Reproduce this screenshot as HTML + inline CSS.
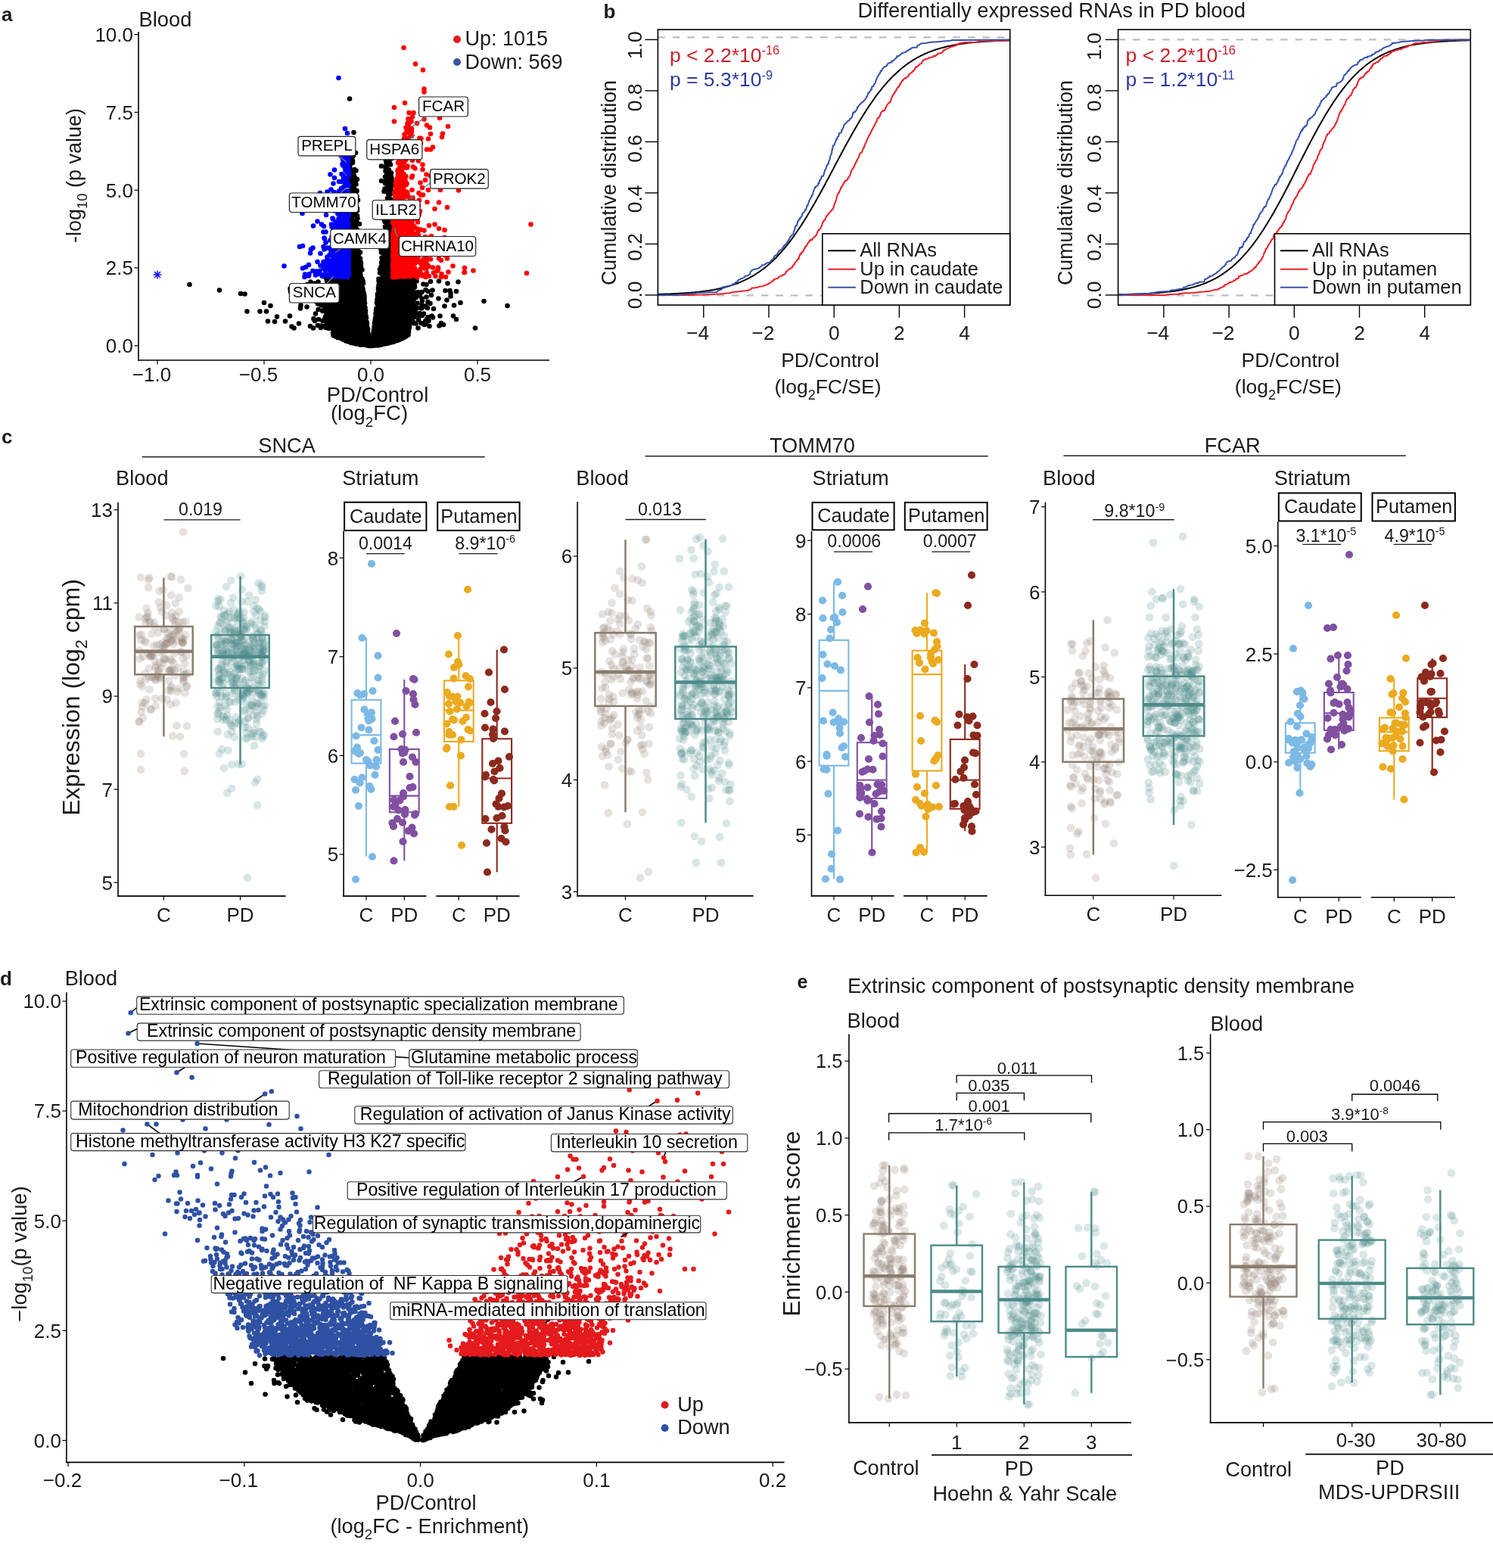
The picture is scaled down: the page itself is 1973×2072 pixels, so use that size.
<!DOCTYPE html>
<html><head><meta charset="utf-8"><title>Figure</title>
<style>html,body{margin:0;padding:0;background:#fff;overflow:hidden;}svg{display:block;}
text{font-family:'Liberation Sans', Arial, Helvetica, sans-serif;}</style></head>
<body><svg width="1973" height="2072" viewBox="0 0 1973 2072">
<rect width="1973" height="2072" fill="#fff"/>
<g fill="#1a1a1a">
<path transform="scale(.5)" d="M969 851h0m-8-78h0m116-33h0m-1 147h0m-175-142h0m174 13h0m-105 98h0m0 57h0m102-164h0m-121 162h0m11-133h0m-2-29h0m7 86h0m28-20h0m-54 94h0m-61-166h0m212 21h0m-91-27h0m-100-1h0m191 44h0m-150-33h0m31 134h0m-45-137h0m114-8h0m-165 36h0m118 53h0m-132-88h0m43 160h0m92-120h0m-84-40h0m90 26h0m-2-12h0m-57-7h0m136 5h0m-88 164h0m-19-27h0m-90 2h0m70-148h0m-73 134h0m70-125h0m14 64h0m88-41h0m-156 3h0m-5-27h0m204 7h0m-222 79h0m186-61h0m-186 60h0m120-12h0m-114-62h0m121-17h0m10 34h0m-28 138h0m-51-162h0m131 1h0m-192 51h0m122 25h0m57 71h0m-53-108h0m50-14h0m-24-36h0m-90 41h0m71 129h0m-58-178h0m34 180h0m94-177h0m-85 176h0m-124-172h0m13 120h0m6-110h0m44 155h0m136-124h0m-117-27h0m121-11h0m-109 20h0m-22 7h0m99-18h0m-109 6h0m9 4h0m23 5h0m120-2h0m-181 127h0m165-97h0m-26-35h0m-173-19h0m59 1h0m108-3h0m-125-4h0m-22 65h0m184 91h0m-25-138h0m-14 31h0m-25-1h0m85-44h0m-10 145h0m-71 26h0m5-133h0m-75 0h0m20-17h0m16 135h0m-7 15h0m-92-131h0m48-13h0m92-19h0m22 83h0m-69 9h0m-5-34h0m-53-61h0m153 45h0m-8-8h0m-155-14h0m76 146h0m-90-153h0m166-22h0m-131 45h0m27 13h0m-11-4h0m18 118h0m-54-145h0m-24-2h0m62-30h0m-74 29h0m159 17h0m-135-14h0m81 94h0m41-94h0m5-21h0m-24 97h0m101-107h0m-46 24h0m-31-23h0m55 27h0m-39 0h0m-32-2h0m-86 140h0m12-125h0m91-22h0m49-7h0m-185 139h0m91-17h0m48-94h0m-11-15h0m-75 147h0m26-102h0m-75-43h0m172-2h0m2 63h0m-176-5h0m146-63h0m27-17h0m-176 141h0m135-78h0m53-47h0m13-20h0m-72 21h0m-59 50h0m64 15h0m-25 45h0m-76-11h0m-6-22h0m32-51h0m98-5h0m10 24h0m26-31h0m-48-7h0m64 17h0m-126 8h0m-63 57h0m185-33h0m-30 87h0m26-30h0m-118-85h0m-71 109h0m187-91h0m-218-68h0m136 70h0m-76 10h0m13-36h0m53 103h0m-31-108h0m53-34h0m-16 100h0m-99-26h0m69-18h0m-27-40h0m1 89h0m-45-87h0m-26 14h0m110 132h0m-103-164h0m153 169h0m10-159h0m-20 161h0m39-123h0m-101 58h0m41-26h0m51 25h0m-80-22h0m-66-31h0m-1-31h0m133 55h0m22-74h0m-10 162h0m39-158h0m-56 30h0m3 23h0m13-53h0m-127 125h0m43-122h0m-53 51h0m55 47h0m115-54h0m-162 87h0m0-119h0m110 5h0m11 5h0m-131 53h0m23 24h0m126-37h0m-6 2h0m-92-14h0m12 50h0m52-42h0m0-10h0m47-25h0m-49-2h0m-105-18h0m7 112h0m-11-63h0m21 50h0m13-1h0m110 13h0m-53 52h0m43-34h0m-146-81h0m-10-9h0m63 54h0m-1-110h0m12 178h0m114-116h0m-86 77h0m51-21h0m-167-36h0m73-25h0m-52 80h0m154-18h0m-35-33h0m-67-59h0m78 59h0m-3-8h0m-100 11h0m-10 0h0m129 82h0m-25-33h0m-136-67h0m173 30h0m-61 20h0m-125-101h0m218 93h0m-76 19h0m26-125h0m-155 54h0m168 9h0m-99-16h0m-5 14h0m139 56h0m-179-51h0m-33-10h0m146-31h0m-120 70h0m15 27h0m46-72h0m-8 23h0m-55 33h0m113-49h0m78-20h0m-4 8h0m-11-1h0m-69-18h0m-3 64h0m-39-1h0m-4-74h0m91-8h0m-130 52h0m71 91h0m41-93h0m-131 7h0m145 33h0m-45 8h0m42-48h0m9-6h0m-23 18h0m-79 26h0m-52-97h0m-4 57h0m149 40h0m-75-5h0m71 21h0m-8-86h0m-110 66h0m107-86h0m-126 14h0m178 24h0m-31 42h0m32 13h0m-3 10h0m-18-48h0m-147-12h0m129 14h0m25 31h0m-36-81h0m-87 52h0m-51 9h0m181 49h0m-51-79h0m-82-42h0m85 85h0m-110 73h0m48-81h0m-70 72h0m198-73h0m-61-70h0m31 19h0m-101 88h0m-35-65h0m82-14h0m-99 96h0m-20-41h0m50 22h0m80-20h0m53 18h0m-19-29h0m-127 82h0m8-169h0m20 37h0m-14 127h0m9-81h0m-8-32h0m102-2h0m-18 10h0m-16-20h0m-118 31h0m32-29h0m0-18h0m-11-1h0m147 71h0m-109-61h0m70 62h0m-79 12h0m74 35h0m60-74h0m-1-24h0m-147 28h0m29-43h0m-60 95h0m36-59h0m77-9h0m-68 36h0m93 68h0m-89-60h0m82 75h0m68-160h0m-56 140h0m-97-73h0m26 73h0m114-73h0m-54 23h0m-14-28h0m-107 9h0m-21-67h0m96 156h0m-56-61h0m36-11h0m-18 19h0m57-55h0m57 65h0m-46-61h0m-59-25h0m97 90h0m-175-69h0m195 18h0m-101-17h0m-87 41h0m5 14h0m20-85h0m99 46h0m-106 3h0m16 66h0m154-79h0m-13 9h0m-57 53h0m-29-44h0m116 39h0m-153-36h0m-5-17h0m27 53h0m-12-2h0m145-24h0m-28-1h0m0-84h0m41-9h0m-162 127h0m-39-17h0m113 28h0m-129-36h0m3-51h0m192 84h0m13-91h0m-135-4h0m61 0h0m-2 124h0m25-10h0m20-46h0m-155-91h0m162 4h0m-62 76h0m-71-52h0m20 51h0m48 47h0m-125-63h0m46-75h0m110 74h0m-107 15h0m109 24h0m15-13h0m-97-26h0m116 17h0m-154-46h0m28 108h0m64-46h0m25-56h0m47 72h0m-117-129h0m99 127h0m-117-51h0m2-11h0m0 85h0m101-36h0m-154-36h0m137 25h0m7-58h0m-138-39h0m170 76h0m-198-46h0m213 77h0m-136-31h0m53-22h0m34 4h0m-73 5h0m-45 28h0m118 27h0m-126-62h0m111 59h0m-11-42h0m27 83h0m3-63h0m-151-34h0m51-57h0m107 18h0m-137 67h0m143-21h0m-149 70h0m109 4h0m-81-6h0m72-6h0m56-85h0m-109 92h0m-5-14h0m140-76h0m-87 63h0m39-37h0m-109-66h0m-52 56h0m50 70h0m-14-113h0m9-23h0m151 126h0m-185-132h0m49 31h0m-55 45h0m57-17h0m35 67h0m-66-85h0m68 94h0m78 15h0m-131-121h0m76 69h0m45-22h0m-144 64h0m15-65h0m47-47h0m102 47h0m-173-35h0m139 78h0m41 21h0m-120-103h0m24 136h0m-3-6h0m-86-78h0m45 67h0m57 6h0m55-87h0m-144 74h0m95-26h0m32-32h0m-107-20h0m47 53h0m29 4h0m-103 11h0m-3-8h0m121-123h0m16 119h0m46 15h0m-162-1h0m62 0h0m104-49h0m-142 31h0m101 21h0m-74-63h0m-70 46h0m124-7h0m-98-68h0m2 36h0m-12 13h0m91 59h0m27-44h0m-36 40h0m-47-152h0m31 144h0m-77-23h0m159 14h0m1 14h0m-61-42h0m66-3h0m-59-59h0m2 66h0m-37 2h0m-52-82h0m151 111h0m-106 3h0m105 4h0m-169-59h0m35 33h0m17-67h0m119-55h0m-123 101h0m60-30h0m11-6h0m-22 96h0m21-108h0m-109 69h0m172 25h0m-195-70h0m53-11h0m30 84h0m66-21h0m42-84h0m-25 106h0m44-84h0m-139 67h0m-14 10h0m92 1h0m-112-44h0m-12-29h0m101 14h0m-87 24h0m157-30h0m-147-50h0m-12 103h0m-19-86h0m3-9h0m177 55h0m-112 13h0m-7-111h0m77 156h0m-142-109h0m120 5h0m-50 113h0m-28-7h0m109-26h0m-155 11h0m188-107h0m-62 125h0m-53-30h0m97-125h0m-39 146h0m61-12h0m-171-31h0m53 26h0m97-26h0m-118 33h0m65-69h0m33 12h0m-85 83h0m-35-33h0m99 15h0m-4-46h0m-1 5h0m-106 22h0m-21-30h0m62 17h0m111-48h0m-15 75h0m-2 5h0m-94-24h0m57 43h0m62-53h0m-153-74h0m167 49h0m-20 38h0m-125-5h0m-3-25h0m-27 23h0m103-10h0m-4 21h0m-4 10h0m21 20h0m-8-8h0m-131-56h0m47 62h0m140-84h0m-119 16h0m91 33h0m-84 16h0m110-39h0m-116 37h0m3-70h0m69 68h0m-98-54h0m0 67h0m141-50h0m-45 8h0m-11-7h0m-9 25h0m38 8h0m8-107h0m25 95h0m-157 28h0m113-56h0m33 63h0m11-28h0m-185-17h0m196-96h0m-188 73h0m-13 21h0m19-97h0m24 128h0m-2-83h0m24 36h0m68 23h0m-8-8h0m74-25h0m-38-37h0m-118 86h0m124-121h0m-163 20h0m87 121h0m42-19h0m-97 23h0m7-41h0m64 53h0m-21-6h0m22-11h0m41-112h0m-133 52h0m129 8h0m-108-1h0m95 42h0m53 9h0m-117-30h0m40 20h0m69-19h0m0-60h0m-150 48h0m47 24h0m44-117h0m34 118h0m-29-35h0m-52-57h0m-11 110h0m-70-101h0m59 34h0m17 45h0m55-45h0m-56 80h0m54-4h0m-54-48h0m106 29h0m-56-100h0m-13 126h0m37-25h0m-120 7h0m159-8h0m-184-96h0m47 44h0m150 23h0m-135 35h0m135-77h0m-159-18h0m121 62h0m-113 46h0m127-33h0m29-105h0m-145 114h0m-56-18h0m1 11h0m53-54h0m-22 80h0m42 0h0m-57-36h0m22-38h0m142 63h0m-86 8h0m114-96h0m-100 89h0m-64-122h0m69 120h0m17 16h0m19 4h0m-125-51h0m115 57h0m-50-36h0m-58 6h0m94-29h0m-3 58h0m42-116h0m-84 108h0m38 1h0m-40-187h0m-16-262h0m8 201h0m-20-164h0m95 90h0m-88-125h0m95 58h0m-87 112h0m-12-108h0m1 56h0m98-152h0m-99-5h0m12 222h0m-10-225h0m98-6h0m2 14h0m2 72h0m-12 91h0m-78-53h0m4 108h0m-6-80h0m-1-38h0m9 164h0m83-150h0m-108 86h0m9 32h0m90-35h0m-100-78h0m107-39h0m-92-12h0m91-27h0m-14 139h0m3 36h0m-77 18h0m70-81h0m-75-101h0m95-14h0m-16 10h0m-74 7h0m-18-27h0m96 32h0m-87 23h0m0 120h0m18 70h0m83-213h0m-25 139h0m12-50h0m-6-69h0m-1 176h0m1 6h0m-74-176h0m81 19h0m-87-76h0m-8 46h0m99-45h0m-9-6h0m-95 109h0m80 169h0m-67-123h0m88 76h0m4-157h0m-85 167h0m79-92h0m-83-60h0m74 92h0m-74-3h0m-8 55h0m18-31h0m4 58h0m-19-181h0m76 119h0m24-229h0m-9 41h0m9 163h0m-94 106h0m-11-131h0m90-167h0m-76 127h0m1 26h0m84-27h0m-81 82h0m74 100h0m-82-56h0m81-33h0m-77-73h0m64 124h0m-71-164h0m77 135h0m-6 2h0m-72 1h0m6 45h0m6-41h0m79-268h0m8 67h0m-109 41h0m85 220h0m10-187h0m-11 78h0m-84 6h0m96-96h0m-15 172h0m14-165h0m-76-11h0m3 173h0m-16-91h0m-1-132h0m87 5h0m4-42h0m8 207h0m-90-51h0m-4-81h0m95 26h0m-1-112h0m-1-20h0m-15 167h0m13-61h0m5-37h0m-22 208h0m13-6h0m8-23h0m-12 72h0m1-120h0m-8 38h0m-79-97h0m13 159h0m-7-97h0m-14-161h0m103 16h0m-9-17h0m15 15h0m-110 12h0m15 165h0m-13 26h0m10-181h0m94 38h0m-13 89h0m-73-9h0m-5 26h0m80 68h0m-93-110h0m7-8h0m97 25h0m5-80h0m-103 182h0m-2-302h0m-2 116h0m-1-61h0m11 145h0m81-129h0m-87-21h0m10 252h0m-17-273h0m90 135h0m-83-48h0m13 121h0m-8-102h0m13 105h0m-14 66h0m-2 16h0m80-30h0m-77-296h0m-3 132h0m8 155h0m76-123h0m14 117h0m-104-85h0m12-196h0m-8 26h0m20 289h0m-2-53h0m67 47h0m4 11h0m7-188h0m-91 186h0m-7-2h0m7-133h0m-7-169h0m101 88h0m-105 99h0m107-18h0m-102 114h0m6-140h0m-3-91h0m-1 158h0m90 3h0m-86 28h0m83-219h0m-75 221h0m86 71h0m-4-44h0m-100 3h0m11-4h0m87-178h0m-2 211h0m-87-180h0m-10 186h0m98-257h0m4 179h0m0 54h0m-17-74h0m6-42h0m14 45h0m-27 81h0m-55 13h0m-12-23h0m8-112h0m81 141h0m-94-306h0m87 230h0m-80 44h0m93-264h0m-23 278h0m-69-235h0m14 217h0m-21-57h0m94 14h0m-10 38h0m-92-268h0m96 9h0m-75 196h0m80-16h0m-88 83h0m92-119h0m-7-77h0m-93 160h0m1-85h0m99 156h0m-6-176h0m4 68h0m-7 40h0m-92-12h0m81 49h0m23 14h0m-84 4h0m-20-15h0m99-34h0m-103-101h0m103 146h0m-101-185h0m2 157h0m102-215h0m-16 37h0m14 156h0m-105-47h0m106-49h0m-89 158h0m-13-163h0m24 106h0m61-30h0m20 34h0m-2-157h0m-87 151h0m80-6h0m5-62h0m2 101h0m-3-19h0m-11-10h0m-65 35h0m80-60h0m-23 37h0m19-198h0m-101-11h0m2 72h0m24 183h0m79-100h0m-7-133h0m-100 10h0m11-39h0m96 93h0m-4 31h0m-91-37h0m73 172h0m-64-68h0m72-6h0m-75-146h0m70 132h0m10-146h0m-87 8h0m93 104h0m7-57h0m-102-92h0m87 257h0m-8 12h0m20-222h0m-3 41h0m-2 149h0m-86-107h0m85 55h0m-77-46h0m-15 53h0m99-46h0m-101-195h0m98 317h0m2-120h0m-89 131h0m-13-222h0m6 171h0m79 27h0m7-11h0m-3-68h0m-13 30h0m13-40h0m-95 98h0m3-138h0m6 29h0m2 29h0m-4-66h0m90-110h0m-78 234h0m5-4h0m-17-27h0m-76 105h0m241-27h0m-235 12h0m-33 89h0m14-50h0m292 69h0m-273-60h0m254 32h0m-264-13h0m279-23h0m30 63h0m-390 2h0m328-33h0m-7 21h0m0 3h0m-233-64h0m-19 70h0m284-51h0m-253 38h0m221-79h0m13 99h0m-269-70h0m263 58h0m-1-39h0m12-35h0m17 4h0m-285 59h0m-52-64h0m301 47h0m49-47h0m-343-3h0m302 32h0m-251 57h0m248-107h0m-323 11h0m89 78h0m-34-72h0m335 59h0m-324-74h0m-19 101h0m-112-13h0m132-46h0m20 34h0m6-48h0m-5-32h0m270 81h0m46-70h0m-318 93h0m-30-19h0m272-99h0m-229 76h0m-44 48h0m370-32h0m-70 9h0m-39 8h0m102-69h0m-324-15h0m247 47h0m-242-67h0m-39 8h0m304 46h0m9 14h0m-277 52h0m-37-119h0m259 71h0m2-28h0m31 57h0m51-40h0m-326 52h0m368-61h0m-73 39h0m-18 17h0m-37-15h0m52-6h0m-50-41h0m-455-18h0m185-31h0m49 20h0m250 64h0m-11-1h0m-250-55h0m244 28h0m-3-27h0m-8 1h0m8 11h0m5-14h0m-238 87h0m-56-67h0m304 14h0m16-36h0m-43-12h0m-235 64h0m6 19h0m-18-96h0m16 55h0m265 58h0m-35-24h0m-236-33h0m-10 17h0m340-25h0m-94-24h0m-229 42h0m-68 44h0m73-68h0m245 48h0m-271-76h0m33 11h0m-103-7h0m1 8h0m72 4h0m-8 73h0m359-73h0m-330 64h0m242-25h0m-237 39h0m229-15h0m-224-59h0m0-21h0m255 53h0m-263 16h0m280-60h0m-312-14h0m32 79h0m-1-38h0m-5 25h0m262-68h0m-248 93h0m-8-32h0m253-17h0m-256 14h0m-33-19h0m-13 1h0m345-2h0m-46 65h0m12-88h0m-338 28h0m304-10h0m-279-32h0m278 51h0m-220 55h0m245-69h0m-10-14h0m1 70h0m-245 21h0m-12-59h0m266-35h0m-18 50h0m-244 26h0m-58-41h0m338 41h0m-3-34h0m-296 15h0m261-15h0m-307-31h0m77 42h0m262-73h0m-626 0h0m79 15h0m67 10h0m6 46h0m45-23h0m17 8h0m-28 15h0m17 0h0m28 14h0m-6 13h0m28-1h0m23 18h0m-11-32h0m28-20h0m17-4h0m468-15h0m62 12h0m-85 59h0m-50-23h0m-6-37h0m6-37h0m-23-21h0m28-4h0m-51-2h0m-22 1h0m28 110h0m6 4h0m17-90h0m-265-507h0m11 89h0m73 89h0m0 39h0m-5 82h0m16 41h0" stroke="#000" stroke-width="13.2" stroke-linecap="round" fill="none"/>
<path transform="scale(.5)" d="M842 724h0m66-129h0m-35 40h0m48-26h0m-14-145h0m-26 21h0m32-35h0m-74 242h0m39 26h0m42-208h0m-21 165h0m-16-118h0m29-46h0m-45 219h0m53-156h0m-42-24h0m29-125h0m14 246h0m-69 59h0m47-170h0m-4 18h0m-17 52h0m40-65h0m-10-71h0m2-90h0m-55 288h0m65-251h0m-46 290h0m-17-102h0m53-43h0m-38 123h0m50 15h0m-39-25h0m-4-122h0m-57 82h0m99-213h0m-38 242h0m10-74h0m11-82h0m-105 32h0m71 149h0m20-70h0m31 66h0m-18-229h0m9 126h0m-75 111h0m85-98h0m0-157h0m-4 120h0m-12 139h0m-10 9h0m9-232h0m-31 161h0m6-80h0m31 69h0m5-98h0m-46 139h0m-13-30h0m21 73h0m18-252h0m-16 183h0m22-62h0m-37 54h0m-6 69h0m61-323h0m-16 122h0m1-6h0m-22 129h0m23-7h0m2-172h0m3-61h0m-13 228h0m7 98h0m16-129h0m-1-117h0m-4 202h0m-39-89h0m1 96h0m-26 32h0m49-143h0m-95 141h0m49-73h0m10 27h0m6-5h0m16-73h0m-12 64h0m40 67h0m7-326h0m-1 52h0m-1 98h0m-21 54h0m-1-36h0m-90 132h0m53-93h0m50 116h0m-8-269h0m18 238h0m0-21h0m-26-13h0m22-274h0m0 180h0m-7-136h0m-38 264h0m50-52h0m-1 71h0m-40-98h0m35-208h0m-26 298h0m32-258h0m-9-28h0m7-7h0m-15 18h0m-22 201h0m23 22h0m-35 33h0m18-41h0m-13-94h0m-14 138h0m35-66h0m-50 75h0m61-144h0m-157 145h0m151-97h0m7-128h0m-117 174h0m87 23h0m12 56h0m-8-223h0m-29 40h0m55 64h0m-24 99h0m-39-201h0m39 219h0m8-164h0m-18-15h0m5 53h0m39-14h0m-114 143h0m117-48h0m-9-292h0m-54 321h0m57-120h0m3-46h0m-3-24h0m-1-139h0m7 180h0m-15-28h0m-13 82h0m-19 101h0m42 13h0m-34-14h0m30-198h0m-24 108h0m-30 72h0m-3-102h0m55 1h0m-19-2h0m5 106h0m4-201h0m-20 207h0m2-50h0m2 65h0m30-47h0m-35-79h0m28-127h0m-12 34h0m-25 150h0m10 21h0m25-239h0m-89 287h0m103-299h0m-8 21h0m7 87h0m-3 28h0m-29 26h0m-32 123h0m67-220h0m0-76h0m-6 57h0m-10 232h0m15-52h0m-66-38h0m34 71h0m-14-183h0m40 35h0m7 191h0m-23-31h0m4-12h0m-8-101h0m16-55h0m0 180h0m-84 8h0m42 13h0m15-259h0m28 20h0m0 52h0m-16 146h0m21-233h0m-36 153h0m14 44h0m-2 30h0m-7-31h0m32-182h0m-3 192h0m6-2h0m-3 42h0m3-109h0m1 47h0m-33 83h0m16-68h0m11-13h0m-50 84h0m26-123h0m1 70h0m-28-165h0m19 128h0m36-129h0m1 43h0m-20 174h0m13-54h0m3-51h0m-22-92h0m14 162h0m10-255h0m-42 193h0m43-108h0m-15 110h0m-3-130h0m12-96h0m-15 257h0m22 32h0m1 15h0m-34-69h0m-5-16h0m12 36h0m12-83h0m-1-155h0m2 278h0m-29 3h0m-16-11h0m51 4h0m-26-89h0m31 119h0m-23-6h0m13-141h0m2-6h0m10 1h0m-87 156h0m84-246h0m-39 242h0m23-159h0m-23 121h0m39-180h0m-5 105h0m-11 61h0m-75-16h0m78 12h0m-16 2h0m14-53h0m1 97h0m15-113h0m-6 118h0m-23-42h0m-43-6h0m74 30h0m-27 27h0m-34-17h0m49-203h0m-1 47h0m-9 153h0m2-110h0m3 92h0m-11 4h0m24 17h0m-56-69h0m55-150h0m-2 163h0m8-11h0m-46-50h0m10 69h0m35-33h0m-101 40h0m90-47h0m4-185h0m8 227h0m-15 18h0m-5-269h0m18 100h0m-19 218h0m-36-25h0m50-221h0m7 147h0m-64-1h0m38 11h0m3-21h0m-13 88h0m20-35h0m-1-97h0m-40 126h0m38-55h0m-7-61h0m20 39h0m-26 74h0m17-69h0m12-14h0m-2 18h0m-7 65h0m-1 30h0m-14-524h0m17 134h0m6 12h0m-118 298h0m0 59h0m16-9h0m0 29h0m29-5h0m0-8h0m22-197h0m-5 49h0m11-107h0m11-12h0m-45 136h0m-11 12h0m22-4h0" stroke="#0000ff" stroke-width="13.2" stroke-linecap="round" fill="none"/>
<path transform="scale(.5)" d="M1080 593h0m2 36h0m63 4h0m-65-314h0m17 399h0m27-92h0m-7 13h0m-50-238h0m7 185h0m39-220h0m-36 151h0m13-134h0m18-10h0m-19 41h0m-1 146h0m9 14h0m-48-101h0m54 132h0m-23 125h0m-37-198h0m32-152h0m43 327h0m-42-127h0m-19 150h0m20-291h0m-28 59h0m59 66h0m-33 57h0m-9-120h0m38 153h0m-65-66h0m91 48h0m-81-45h0m8 30h0m38-22h0m-21 27h0m0-119h0m8 47h0m-21-158h0m35 238h0m7-259h0m-14 323h0m-4-153h0m47 84h0m-20-22h0m-20 22h0m26-114h0m0 139h0m40 59h0m-53-68h0m-50-218h0m15 137h0m5-213h0m-23 98h0m36 176h0m-50-4h0m48 102h0m12-41h0m48 39h0m-107-91h0m77-134h0m-26-187h0m-2 50h0m109 344h0m-89-302h0m-31 111h0m11-172h0m-1 41h0m-11-1h0m2 29h0m-27 123h0m34 131h0m9-277h0m-12-40h0m-43 348h0m73-315h0m-19 307h0m3 23h0m-6-48h0m50-37h0m-7 80h0m-4-5h0m-41 14h0m-26-26h0m36-288h0m-35 73h0m36-82h0m-24 27h0m29 309h0m-12-327h0m-22 246h0m55 87h0m0-92h0m-60 91h0m30-60h0m-19-300h0m24 171h0m-34 81h0m100 65h0m-101-136h0m17-30h0m29 129h0m-55-82h0m61 160h0m-53-111h0m12-57h0m21 135h0m-22-87h0m32-99h0m-43 27h0m-9-58h0m18 93h0m31 43h0m-25-231h0m-7 247h0m-31-23h0m1-9h0m87-65h0m-9 193h0m-36-36h0m20-104h0m-64-27h0m50-136h0m-15 61h0m64 167h0m-60-285h0m45 272h0m-35 35h0m-12-123h0m2-153h0m-7 45h0m-15 239h0m-16-107h0m24-136h0m25 169h0m-10-278h0m-19 73h0m97 304h0m24-24h0m-76-62h0m-17-51h0m-50 113h0m65-129h0m19 101h0m-67-210h0m-10 160h0m51 14h0m37-23h0m-43 87h0m-1-218h0m-21 85h0m42 161h0m-35-268h0m-24 18h0m11-30h0m-20 117h0m19-96h0m65 237h0m-54-206h0m-29 35h0m26 83h0m59 83h0m-59-261h0m92-111h0m-2 292h0m-97-9h0m58 114h0m-15-284h0m13 260h0m-55-292h0m-4 135h0m22 144h0m-17-257h0m-27 317h0m32-154h0m39-213h0m-48 282h0m12-181h0m31 173h0m-66-2h0m31-209h0m-5 179h0m-4-88h0m33 60h0m63 92h0m-61-17h0m-39-191h0m53 230h0m-13 31h0m116-221h0m-146 90h0m20 137h0m-42-177h0m84-222h0m-58 152h0m43 166h0m-74-8h0m99-176h0m-41-20h0m-39 68h0m17-120h0m26 276h0m43-280h0m-6 296h0m19-42h0m-85 24h0m-34-78h0m42 65h0m-23-78h0m-11-94h0m29-137h0m37 377h0m1-24h0m-74-81h0m24 107h0m-13-202h0m11-93h0m24-72h0m-46 364h0m10-161h0m43-119h0m15 127h0m18 115h0m39-181h0m-115 150h0m4-125h0m28-189h0m-35 321h0m4 21h0m-9-5h0m11-161h0m2 43h0m128-9h0m-98 130h0m20-296h0m-55 286h0m136 51h0m-91-121h0m9 135h0m-43-148h0m-18-43h0m46-73h0m-9-155h0m-24 233h0m15 153h0m157 20h0m-143-86h0m-31 97h0m2-118h0m-9-68h0m-2-30h0m3 98h0m42 25h0m-24-60h0m8-156h0m6 223h0m45 62h0m-67-220h0m25 87h0m14 90h0m-51-80h0m59 67h0m28-284h0m-91 197h0m36 56h0m-6 101h0m-10-246h0m33 170h0m9-65h0m8-97h0m-57 56h0m2 125h0m27-105h0m0 99h0m-10 32h0m63-353h0m15 393h0m-34-295h0m-50 25h0m15 145h0m-44 100h0m25-208h0m-15 139h0m32 54h0m-18-207h0m22-96h0m-39 341h0m-6-153h0m105 132h0m-72 6h0m-21-91h0m116 102h0m-116-273h0m10 152h0m26-6h0m76 60h0m-61-331h0m-57 320h0m7-216h0m13 254h0m6-145h0m-2-184h0m39 365h0m-21-399h0m-20 284h0m5 126h0m-11-266h0m-15 216h0m35-383h0m-12 258h0m32 175h0m-43-229h0m29 85h0m-24-79h0m-17 201h0m28-221h0m-35 226h0m52-64h0m4 20h0m-38-77h0m55-78h0m-44-149h0m21 136h0m12 158h0m4 19h0m-6 12h0m-42-39h0m20-326h0m-8 371h0m-30-27h0m22-95h0m61 116h0m-54-176h0m-14-7h0m121 100h0m-136 50h0m24 46h0m115 28h0m-134-31h0m36-87h0m5-234h0m65 263h0m-111 7h0m36 70h0m-37-20h0m70-171h0m-52 75h0m-15 129h0m11-104h0m-8-92h0m124-175h0m2-9h0m-90 334h0m-9-210h0m7 220h0m-34-190h0m11 150h0m2 14h0m50 19h0m3-132h0m-57 164h0m-5 10h0m79-23h0m-51-201h0m79 208h0m-108-215h0m39 25h0m-31 111h0m46-74h0m-11 51h0m-42-130h0m80 237h0m-76-62h0m8-30h0m39-5h0m-8 92h0m-9-1h0m24-171h0m78-210h0m-70 393h0m-25-137h0m-50 90h0m49 23h0m46 27h0m-76-281h0m19 123h0m-29 49h0m19-127h0m-10 212h0m16-341h0m8 298h0m15 32h0m-24 12h0m16-359h0m-10 332h0m-3 47h0m36-59h0m-48 42h0m-4-19h0m22-54h0m-25 62h0m9-178h0m-20 199h0m5-49h0m13-110h0m-17-70h0m26 158h0m0 11h0m16-48h0m-37-142h0m30 237h0m-28-213h0m50 166h0m-40 20h0m61-204h0m-68 85h0m27 85h0m-13-125h0m1-143h0m42 263h0m-41-3h0m-28-46h0m20 59h0m111-23h0m-114 69h0m-7-55h0m-4 45h0m14-31h0m0-195h0m-14 90h0m-6 65h0m42-256h0m12 204h0m19-116h0m-66 252h0m37 29h0m19-12h0m-69-42h0m19-239h0m75 229h0m-71-276h0m-23 334h0m24-52h0m-15-99h0m119 160h0m-73-434h0m-20 382h0m30-54h0m-58 90h0m17-77h0m8 32h0m64-30h0m-13 56h0m-58-31h0m39 9h0m-42-121h0m-21 29h0m13-117h0m29 192h0m47-263h0m-37 128h0m30 86h0m-74 32h0m5 53h0m12-60h0m54 37h0m-45-334h0m-11 381h0m1-334h0m-8 296h0m66-365h0m-57 68h0m-15 245h0m51 101h0m-47-255h0m-5 102h0m21 150h0m-16-196h0m13-115h0m-11 298h0m21-162h0m-23 50h0m0 8h0m19-13h0m-24-70h0m11-70h0m-11 112h0m-9 94h0m14-80h0m15 0h0m9 57h0m2 32h0m-34 20h0m-5-2h0m27-563h0m31 43h0m20 16h0m3 50h0m0 8h0m-51 29h0m-28 12h0m0 37h0m361 272h0m-11 129h0m-141-7h0m-23-7h0m0 12h0m-51-45h0m-17 8h0m-11-90h0m0-41h0m11-17h0m-22-140h0m0-41h0m-6 148h0m-5-41h0" stroke="#ff0000" stroke-width="13.2" stroke-linecap="round" fill="none"/>
<g stroke="#0000ff" stroke-width="1.4"><line x1="202.5" y1="363" x2="213.5" y2="363"/><line x1="208" y1="357.5" x2="208" y2="368.5"/><line x1="204" y1="359.1" x2="212" y2="367"/><line x1="204" y1="367" x2="212" y2="359.1"/></g>
<line x1="183" y1="42" x2="183" y2="476.5" stroke="#000" stroke-width="1.6"/>
<line x1="182.2" y1="476" x2="726" y2="476" stroke="#000" stroke-width="1.6"/>
<line x1="177.5" y1="456.8" x2="183" y2="456.8" stroke="#000" stroke-width="1.2"/>
<text x="176" y="466.1" font-size="26" text-anchor="end">0.0</text>
<line x1="177.5" y1="354" x2="183" y2="354" stroke="#000" stroke-width="1.2"/>
<text x="176" y="363.3" font-size="26" text-anchor="end">2.5</text>
<line x1="177.5" y1="251.2" x2="183" y2="251.2" stroke="#000" stroke-width="1.2"/>
<text x="176" y="260.5" font-size="26" text-anchor="end">5.0</text>
<line x1="177.5" y1="148.4" x2="183" y2="148.4" stroke="#000" stroke-width="1.2"/>
<text x="176" y="157.7" font-size="26" text-anchor="end">7.5</text>
<line x1="177.5" y1="45.6" x2="183" y2="45.6" stroke="#000" stroke-width="1.2"/>
<text x="176" y="54.9" font-size="26" text-anchor="end">10.0</text>
<line x1="208" y1="476" x2="208" y2="481.5" stroke="#000" stroke-width="1.2"/>
<text x="226.1" y="504" font-size="26" text-anchor="end">−1.0</text>
<line x1="349" y1="476" x2="349" y2="481.5" stroke="#000" stroke-width="1.2"/>
<text x="367.1" y="504" font-size="26" text-anchor="end">−0.5</text>
<line x1="490" y1="476" x2="490" y2="481.5" stroke="#000" stroke-width="1.2"/>
<text x="490" y="504" font-size="26" text-anchor="middle">0.0</text>
<line x1="631" y1="476" x2="631" y2="481.5" stroke="#000" stroke-width="1.2"/>
<text x="631" y="504" font-size="26" text-anchor="middle">0.5</text>
<text x="499" y="530.5" font-size="27.5" text-anchor="middle">PD/Control</text>
<text x="488" y="555" font-size="27.5" text-anchor="middle">(log<tspan dy="8.5" font-size="18.7">2</tspan><tspan dy="-8.5">FC)</tspan></text>
<text x="106.5" y="232" font-size="27" text-anchor="middle" transform="rotate(-90 106.5 232)">-log<tspan dy="8.4" font-size="18.4">10</tspan><tspan dy="-8.4"> (p value)</tspan></text>
<text x="183.5" y="34.8" font-size="27.3">Blood</text>
<text x="2" y="28" font-size="26" font-weight="bold">a</text>
<circle cx="604" cy="52" r="5" fill="#e41a1c"/>
<circle cx="604" cy="82" r="5" fill="#3a55a5"/>
<text x="614.5" y="60" font-size="27">Up: 1015</text>
<text x="614.5" y="91" font-size="27">Down: 569</text>
<line x1="563.6" y1="154" x2="545" y2="167" stroke="#777" stroke-width="1.4"/>
<line x1="447" y1="205.9" x2="458" y2="214" stroke="#777" stroke-width="1.4"/>
<line x1="541" y1="184.6" x2="548" y2="178" stroke="#777" stroke-width="1.4"/>
<line x1="568.5" y1="242" x2="560" y2="248" stroke="#777" stroke-width="1.4"/>
<line x1="450" y1="255" x2="458" y2="248" stroke="#777" stroke-width="1.4"/>
<line x1="540" y1="264.5" x2="548" y2="258" stroke="#777" stroke-width="1.4"/>
<line x1="450" y1="328.5" x2="443" y2="334" stroke="#777" stroke-width="1.4"/>
<line x1="525" y1="312.5" x2="521" y2="301" stroke="#777" stroke-width="1.4"/>
<line x1="432" y1="374.5" x2="441" y2="365" stroke="#777" stroke-width="1.4"/>
<rect x="553.6" y="128" width="64.8" height="26" rx="3.5" fill="#fff" stroke="#222" stroke-width="1.2"/>
<text x="586" y="147.4" font-size="20.6" text-anchor="middle" fill="#000">FCAR</text>
<rect x="394" y="180.3" width="75.8" height="25.6" rx="3.5" fill="#fff" stroke="#222" stroke-width="1.2"/>
<text x="431.9" y="199.3" font-size="20.6" text-anchor="middle" fill="#000">PREPL</text>
<rect x="484.7" y="184.6" width="73.2" height="26.2" rx="3.5" fill="#fff" stroke="#222" stroke-width="1.2"/>
<text x="521.3" y="204.2" font-size="20.6" text-anchor="middle" fill="#000">HSPA6</text>
<rect x="568.5" y="223.6" width="76.8" height="25.6" rx="3.5" fill="#fff" stroke="#222" stroke-width="1.2"/>
<text x="606.9" y="242.6" font-size="20.6" text-anchor="middle" fill="#000">PROK2</text>
<rect x="382.4" y="255" width="91" height="25.5" rx="3.5" fill="#fff" stroke="#222" stroke-width="1.2"/>
<text x="427.9" y="273.9" font-size="20.6" text-anchor="middle" fill="#000">TOMM70</text>
<rect x="492.2" y="264.5" width="62.8" height="25.6" rx="3.5" fill="#fff" stroke="#222" stroke-width="1.2"/>
<text x="523.6" y="283.5" font-size="20.6" text-anchor="middle" fill="#000">IL1R2</text>
<rect x="436.8" y="303" width="77.2" height="25.5" rx="3.5" fill="#fff" stroke="#222" stroke-width="1.2"/>
<text x="475.4" y="321.9" font-size="20.6" text-anchor="middle" fill="#000">CAMK4</text>
<rect x="527.4" y="312.5" width="101.3" height="26" rx="3.5" fill="#fff" stroke="#222" stroke-width="1.2"/>
<text x="578" y="331.9" font-size="20.6" text-anchor="middle" fill="#000">CHRNA10</text>
<rect x="382.4" y="374.5" width="65.8" height="25.5" rx="3.5" fill="#fff" stroke="#222" stroke-width="1.2"/>
<text x="415.3" y="393.4" font-size="20.6" text-anchor="middle" fill="#000">SNCA</text>
<text x="797.5" y="24.2" font-size="26" font-weight="bold">b</text>
<text x="1133.5" y="23.3" font-size="27.4">Differentially expressed RNAs in PD blood</text>
<line x1="869.4" y1="390.3" x2="1086.8" y2="390.3" stroke="#bdbdbd" stroke-width="2.2" stroke-dasharray="9.5 10"/>
<line x1="869.4" y1="49.4" x2="1334.7" y2="49.4" stroke="#bdbdbd" stroke-width="2.2" stroke-dasharray="9.5 10"/>
<polyline points="869.4,388.9 871.2,388.8 873,388.8 874.8,388.7 876.6,388.7 878.4,388.6 880.2,388.6 882,388.5 883.8,388.4 885.6,388.4 887.4,388.3 889.2,388.2 891,388.1 892.8,388 894.6,387.9 896.3,387.8 898.1,387.7 899.9,387.6 901.7,387.5 903.5,387.4 905.3,387.3 907.1,387.2 908.9,387 910.7,386.9 912.5,386.7 914.3,386.6 916.1,386.4 917.9,386.3 919.7,386.1 921.5,385.9 923.3,385.7 925.1,385.5 926.9,385.3 928.7,385.1 930.5,384.8 932.3,384.6 934.1,384.3 935.9,384.1 937.7,383.8 939.5,383.5 941.3,383.2 943.1,382.9 944.9,382.5 946.7,382.2 948.4,381.8 950.2,381.4 952,381 953.8,380.6 955.6,380.2 957.4,379.7 959.2,379.2 961,378.8 962.8,378.2 964.6,377.7 966.4,377.1 968.2,376.6 970,375.9 971.8,375.3 973.6,374.7 975.4,374 977.2,373.3 979,372.5 980.8,371.7 982.6,370.9 984.4,370.1 986.2,369.2 988,368.3 989.8,367.4 991.6,366.4 993.4,365.4 995.2,364.4 997,363.3 998.7,362.2 1000.5,361 1002.3,359.8 1004.1,358.6 1005.9,357.3 1007.7,356 1009.5,354.6 1011.3,353.2 1013.1,351.7 1014.9,350.2 1016.7,348.7 1018.5,347.1 1020.3,345.4 1022.1,343.7 1023.9,342 1025.7,340.2 1027.5,338.3 1029.3,336.4 1031.1,334.5 1032.9,332.5 1034.7,330.4 1036.5,328.3 1038.3,326.1 1040.1,323.9 1041.9,321.6 1043.7,319.3 1045.5,317 1047.3,314.5 1049.1,312.1 1050.8,309.5 1052.6,307 1054.4,304.3 1056.2,301.7 1058,299 1059.8,296.2 1061.6,293.4 1063.4,290.5 1065.2,287.6 1067,284.7 1068.8,281.7 1070.6,278.7 1072.4,275.6 1074.2,272.5 1076,269.4 1077.8,266.2 1079.6,263.1 1081.4,259.8 1083.2,256.6 1085,253.3 1086.8,250 1088.6,246.7 1090.4,243.4 1092.2,240 1094,236.7 1095.8,233.3 1097.6,229.9 1099.4,226.5 1101.2,223.1 1102.9,219.7 1104.7,216.3 1106.5,213 1108.3,209.6 1110.1,206.2 1111.9,202.8 1113.7,199.5 1115.5,196.1 1117.3,192.8 1119.1,189.5 1120.9,186.3 1122.7,183 1124.5,179.8 1126.3,176.6 1128.1,173.4 1129.9,170.3 1131.7,167.2 1133.5,164.1 1135.3,161.1 1137.1,158.1 1138.9,155.2 1140.7,152.3 1142.5,149.4 1144.3,146.6 1146.1,143.8 1147.9,141.1 1149.7,138.4 1151.5,135.8 1153.3,133.2 1155,130.7 1156.8,128.2 1158.6,125.7 1160.4,123.4 1162.2,121 1164,118.8 1165.8,116.5 1167.6,114.4 1169.4,112.3 1171.2,110.2 1173,108.2 1174.8,106.2 1176.6,104.3 1178.4,102.4 1180.2,100.6 1182,98.9 1183.8,97.2 1185.6,95.5 1187.4,93.9 1189.2,92.3 1191,90.8 1192.8,89.3 1194.6,87.9 1196.4,86.5 1198.2,85.2 1200,83.9 1201.8,82.7 1203.6,81.5 1205.4,80.3 1207.1,79.2 1208.9,78.1 1210.7,77 1212.5,76 1214.3,75.1 1216.1,74.1 1217.9,73.2 1219.7,72.3 1221.5,71.5 1223.3,70.7 1225.1,69.9 1226.9,69.2 1228.7,68.4 1230.5,67.8 1232.3,67.1 1234.1,66.5 1235.9,65.8 1237.7,65.3 1239.5,64.7 1241.3,64.2 1243.1,63.6 1244.9,63.1 1246.7,62.7 1248.5,62.2 1250.3,61.8 1252.1,61.3 1253.9,60.9 1255.7,60.6 1257.4,60.2 1259.2,59.8 1261,59.5 1262.8,59.2 1264.6,58.9 1266.4,58.6 1268.2,58.3 1270,58 1271.8,57.8 1273.6,57.5 1275.4,57.3 1277.2,57.1 1279,56.8 1280.8,56.6 1282.6,56.4 1284.4,56.3 1286.2,56.1 1288,55.9 1289.8,55.7 1291.6,55.6 1293.4,55.4 1295.2,55.3 1297,55.2 1298.8,55 1300.6,54.9 1302.4,54.8 1304.2,54.7 1306,54.6 1307.8,54.5 1309.5,54.4 1311.3,54.3 1313.1,54.2 1314.9,54.1 1316.7,54 1318.5,54 1320.3,53.9 1322.1,53.8 1323.9,53.7 1325.7,53.7 1327.5,53.6 1329.3,53.6 1331.1,53.5 1332.9,53.5 1334.7,53.4" fill="none" stroke="#000" stroke-width="2.0"/>
<polyline points="869.4,389.9 904.5,389.9 927.5,389.5 941.7,389.1 944.2,388.8 950.2,388.4 958,388 958.4,387.6 964.8,387.3 965.3,386.9 966.8,386.5 967.5,386.1 970.6,385.8 974.1,385.4 979.8,385 980.6,384.6 984.8,384.3 987.6,383.9 989.9,383.5 990,382.8 990.6,382.8 992,382.4 992.7,382 992.9,381.6 993.3,381.3 993.5,380.5 997.6,380.5 998.6,380.1 1001.4,379.8 1002.4,379.4 1003,379 1004.5,378.6 1007.5,378.3 1009.4,377.9 1009.8,377.5 1010.1,377.1 1010.5,376.8 1013.3,376.4 1013.7,376 1014.6,375.6 1015.5,375.3 1015.5,374.5 1016.2,374.5 1017.4,374.1 1017.9,373.8 1018.2,373.4 1018.7,373 1019.4,372.6 1019.5,371.9 1020.7,371.9 1021.2,371.5 1021.4,370.8 1021.7,370.4 1022.6,370.4 1023,370 1023,369.3 1023.3,368.9 1025.2,368.5 1026.5,368.1 1027.7,367.8 1028.4,367.4 1028.5,366.6 1029.4,366.3 1029.8,365.9 1030,365.5 1030.9,365.1 1031.4,364.8 1033.4,364.4 1034.1,364 1034.2,363.3 1034.9,363.3 1035.8,362.9 1037,362.5 1037.3,362.1 1037.7,361.8 1037.8,361 1038.1,360.6 1038.4,360.3 1038.7,359.9 1038.8,359.1 1039.5,359.1 1039.6,358.4 1040.1,358 1040.5,357.6 1040.7,357.3 1041.1,356.9 1041.4,356.5 1042.3,356.1 1042.9,355.8 1044.1,355.4 1044.3,354.6 1044.8,354.3 1045.3,353.9 1046.3,353.9 1046.6,353.5 1047.1,353.1 1047.2,352.4 1047.4,352 1047.6,351.3 1048.3,351.3 1048.4,350.5 1048.6,350.1 1049.1,349.8 1049.8,349.4 1049.8,348.6 1049.9,347.9 1050.5,347.5 1050.7,347.1 1050.9,346.8 1051.3,346.4 1051.8,346 1052.1,345.6 1052.5,345.3 1053,344.9 1053.2,344.1 1053.4,343.4 1053.7,343 1054.5,342.6 1054.6,341.9 1055.5,341.9 1055.5,341.1 1055.9,340.8 1056,340 1056.2,339.3 1056.3,338.5 1056.6,338.1 1056.7,337.4 1057,337 1057.1,336.3 1058.2,335.9 1058.2,335.1 1059,335.1 1059,334.4 1059.2,333.6 1060.4,333.3 1060.6,332.5 1061.3,332.5 1061.3,331.8 1061.7,331.4 1061.7,330.6 1061.9,329.9 1062.4,329.5 1062.8,329.1 1063.2,328.8 1063.3,328 1063.6,327.6 1063.9,326.9 1064,326.1 1064.9,326.1 1064.9,325.4 1065.5,325 1065.8,324.6 1066.2,324.3 1066.5,323.9 1066.5,323.1 1067,322.8 1067.2,322 1067.6,321.6 1067.8,320.9 1068.3,320.5 1068.7,320.1 1069.2,319.8 1069.3,319 1069.8,318.6 1069.8,317.9 1070.8,317.9 1070.9,317.1 1072.7,317.1 1073.5,316.8 1073.5,316 1074,315.6 1074.2,314.9 1074.5,314.5 1075,314.1 1075.7,313.8 1076,313.4 1076.3,313 1077.1,312.6 1077.3,311.9 1078.1,311.5 1078.5,311.1 1078.8,310.8 1078.9,310 1079.4,309.6 1079.4,308.9 1079.7,308.1 1079.9,307.8 1080.2,307.4 1080.4,307 1080.5,306.3 1080.7,305.5 1080.9,305.1 1081.2,304.8 1081.7,304.4 1081.8,303.6 1082.7,303.6 1082.8,302.9 1084,302.5 1084.4,302.1 1084.5,301.4 1084.7,300.6 1084.9,300.3 1085.1,299.9 1085.2,299.1 1085.5,298.8 1086.1,298.4 1086.2,297.6 1086.3,296.9 1086.4,296.1 1086.8,295.8 1087,295.4 1087,294.6 1087.1,293.9 1087.5,293.5 1087.8,293.1 1087.9,292.4 1088.5,292 1088.8,291.6 1089,290.9 1089.4,290.5 1090.3,290.5 1090.4,289.8 1090.7,289.4 1090.7,288.6 1091,288.3 1091.2,287.5 1091.3,286.8 1091.9,286.4 1092.3,286 1092.7,285.6 1092.9,284.9 1093.4,284.5 1093.7,284.1 1094.3,283.8 1094.5,283 1094.8,282.6 1095,281.9 1095.5,281.5 1096.3,281.1 1096.4,280.4 1097.1,280 1097.7,279.6 1097.9,278.9 1098.4,278.5 1098.7,278.1 1099.2,277.8 1099.4,277 1099.9,276.6 1100.3,276.3 1101.1,275.9 1101.1,275.1 1101.3,274.4 1101.4,273.6 1101.6,273.3 1102.2,272.9 1102.2,272.1 1102.3,271.4 1102.4,270.6 1102.6,270.3 1102.6,269.5 1103.1,269.1 1103.2,268.4 1103.5,268 1103.7,267.3 1104,266.9 1104.1,266.1 1104.5,265.8 1104.8,265.4 1104.9,264.6 1105.1,263.9 1105.2,263.1 1105.4,262.4 1105.6,261.6 1105.6,260.9 1105.6,260.1 1105.8,259.4 1106.1,259 1106.4,258.6 1106.7,258.3 1106.9,257.9 1106.9,257.1 1107.2,256.8 1107.3,256 1107.8,255.6 1108.1,254.9 1108.4,254.5 1109,254.5 1109.1,253.8 1109.2,253 1109.6,252.6 1109.9,251.9 1110,251.1 1110.6,250.8 1110.6,250 1110.9,249.6 1110.9,248.9 1111.1,248.1 1112.1,247.8 1112.1,247 1112.4,246.6 1112.9,246.3 1112.9,245.5 1113.5,245.1 1113.7,244.8 1114,244.4 1114.1,243.6 1114.6,243.3 1114.6,242.5 1114.9,242.1 1115.3,241.8 1115.4,241 1116,241 1116.2,240.3 1116.5,239.9 1116.7,239.1 1117.7,239.1 1117.8,238.4 1118.5,238.4 1119.5,238 1119.8,237.6 1119.9,236.9 1120.2,236.5 1120.5,236.1 1120.8,235.8 1120.8,235 1120.8,234.3 1121.6,233.9 1122.3,233.5 1122.4,232.8 1122.7,232.4 1123,232 1123.3,231.6 1123.3,230.9 1123.8,230.5 1124,230.1 1124.1,229.4 1124.3,228.6 1124.4,227.9 1124.4,227.1 1124.9,226.8 1125,226 1125.1,225.3 1125.4,224.9 1125.8,224.5 1126.3,224.1 1126.3,223.4 1126.6,223 1127,222.6 1127.6,222.3 1127.6,221.5 1128.1,221.1 1128.4,220.8 1128.8,220.4 1128.8,219.6 1129.2,219.3 1129.3,218.5 1129.3,217.8 1129.7,217.4 1130,217 1130.3,216.6 1130.3,215.9 1130.6,215.5 1131,215.1 1131.2,214.4 1131.4,214 1131.7,213.6 1131.8,212.9 1132.1,212.5 1132.5,212.2 1132.8,211.8 1132.8,211 1133.1,210.6 1133.3,209.9 1133.9,209.5 1134.2,209.1 1134.4,208.4 1134.5,207.6 1134.9,207.3 1135.1,206.5 1135.5,206.2 1135.6,205.4 1135.7,204.6 1135.8,203.9 1136.1,203.5 1136.6,203.1 1136.7,202.4 1137,202 1138,201.6 1138.9,201.3 1139,200.5 1139.3,200.2 1139.5,199.8 1139.7,199 1139.8,198.3 1140,197.5 1140.3,197.1 1140.6,196.8 1140.7,196 1140.9,195.6 1141.7,195.3 1141.9,194.5 1142.1,193.8 1142.3,193.4 1142.4,192.6 1142.6,191.9 1143,191.5 1143.2,191.1 1143.3,190.4 1143.4,189.6 1143.8,189.3 1144.2,188.9 1144.6,188.5 1144.6,187.8 1144.9,187.4 1145.1,186.6 1145.2,185.9 1145.6,185.5 1145.7,184.8 1146.1,184.4 1146.2,183.6 1146.6,183.3 1146.6,182.5 1147.2,182.1 1147.4,181.8 1147.6,181.4 1147.7,180.6 1147.9,179.9 1148.1,179.5 1148.5,179.1 1148.9,178.8 1149.2,178.4 1149.4,178 1149.5,177.3 1149.6,176.5 1150.1,176.1 1150.5,175.8 1150.7,175 1151,174.6 1151.1,173.9 1151.3,173.5 1151.7,173.1 1151.8,172.4 1152.4,172 1152.5,171.3 1152.8,170.9 1153.1,170.5 1153.3,169.8 1153.6,169.4 1154,169 1154.1,168.3 1154.4,167.9 1154.7,167.5 1154.7,166.8 1155.1,166.4 1155.5,166 1155.6,165.3 1156,164.9 1156.4,164.5 1156.7,164.1 1156.7,163.4 1156.7,162.6 1157.2,162.3 1157.6,161.9 1157.7,161.1 1158.5,160.8 1158.5,160 1158.9,159.7 1159,158.9 1159.1,158.1 1159.2,157.4 1159.5,157 1159.5,156.3 1160.7,156.3 1161,155.9 1161.3,155.5 1161.7,155.1 1162.1,154.8 1162.3,154 1162.5,153.7 1162.6,152.9 1163.1,152.5 1163.2,151.8 1163.4,151 1163.7,150.6 1164,150.3 1164,149.5 1164.3,149.1 1164.5,148.4 1164.9,148 1165.5,147.6 1165.7,147.3 1166.8,146.9 1166.9,146.1 1168,146.1 1169.3,145.8 1169.4,145 1169.5,144.3 1169.9,143.9 1170,143.1 1170.5,142.8 1170.6,142 1170.8,141.6 1171.4,141.3 1171.4,140.5 1171.8,140.1 1171.9,139.4 1172.2,139 1172.4,138.6 1172.7,138.3 1172.9,137.9 1173.5,137.5 1173.7,137.1 1173.9,136.4 1175.3,136 1175.5,135.6 1175.6,134.9 1176.3,134.9 1176.4,134.1 1176.9,133.8 1177.2,133.4 1177.3,132.6 1177.4,131.9 1177.7,131.5 1177.8,130.8 1177.9,130 1178.3,129.6 1178.4,128.9 1178.8,128.5 1179,127.8 1179.3,127.4 1179.3,126.6 1179.6,126.3 1180.2,125.9 1180.4,125.5 1180.5,124.8 1180.9,124.4 1181.2,123.6 1182,123.3 1182.1,122.5 1182.7,122.1 1183,121.8 1183,121 1183.5,120.6 1183.9,120.3 1184.2,119.9 1184.3,119.1 1184.6,118.8 1184.7,118 1185,117.6 1185.3,117.3 1185.5,116.5 1186.3,116.1 1186.4,115.4 1187.2,115.4 1187.4,114.6 1188.2,114.3 1188.5,113.9 1188.6,113.1 1188.8,112.4 1189.1,111.6 1189.7,111.6 1189.8,110.9 1189.9,110.1 1190.5,109.8 1190.8,109.4 1191.3,109 1191.4,108.3 1191.8,107.9 1191.8,107.1 1192.1,106.8 1192.4,106.4 1193.5,106 1193.6,105.3 1193.9,104.9 1194.2,104.5 1195,104.1 1196.2,103.8 1196.2,103 1197.4,103 1197.8,102.6 1198.1,102.3 1198.5,101.9 1198.7,101.5 1200,101.1 1200.3,100.8 1200.4,100 1200.8,99.6 1200.8,98.9 1201.4,98.5 1201.7,98.1 1202,97.8 1202.5,97.4 1202.8,97 1203.6,96.6 1204.1,96.3 1204.7,95.9 1205.4,95.5 1205.5,94.8 1205.9,94.4 1206.6,94 1207.4,93.6 1207.7,93.3 1207.8,92.5 1208.4,92.5 1208.8,92.1 1208.9,91.4 1209,90.6 1209.3,90.3 1209.4,89.5 1209.7,89.1 1211.4,88.8 1211.4,88 1211.8,87.6 1213,87.3 1213.6,86.9 1214.1,86.5 1214.6,86.1 1214.7,85.4 1215.1,85 1215.5,84.6 1217.2,84.3 1217.7,83.9 1218,83.5 1218,82.8 1218.3,82.4 1218.8,82 1218.9,81.3 1219.2,80.9 1219.5,80.5 1220,80.1 1220.1,79.4 1221,79.4 1221.8,79 1222.1,78.6 1222.9,78.3 1223.2,77.9 1226.1,77.5 1226.7,77.1 1226.8,76.4 1229.1,76.4 1229.4,76 1230.9,75.6 1232.8,75.3 1233.5,74.9 1233.5,74.1 1236.2,74.1 1236.4,73.4 1237,73.4 1237.5,73 1237.7,72.3 1238.3,72.3 1238.9,71.9 1239.3,71.5 1239.4,70.8 1239.9,70.4 1241.5,70.4 1244.3,70 1244.9,69.6 1245.2,69.3 1245.8,68.9 1245.9,68.1 1246.1,67.8 1246.6,67.4 1246.6,66.6 1247.8,66.6 1248.5,66.3 1248.6,65.5 1250,65.1 1250.4,64.8 1251.8,64.4 1252.5,64 1253.2,63.6 1254.3,63.3 1254.7,62.9 1255.8,62.5 1255.9,61.8 1257.5,61.8 1257.9,61.4 1260.7,61 1260.9,60.3 1262.7,60.3 1264.4,59.9 1264.9,59.5 1265,58.8 1265.3,58.4 1266.3,58 1267.1,57.6 1268,57.3 1270.2,56.9 1272.3,56.5 1275.2,56.1 1291,55.8 1293.7,55.4 1293.7,54.6 1294.9,54.6 1311.4,54.3 1316.9,53.9 1330.1,53.5 1334.7,52.4 1334.7,52.4" fill="none" stroke="#ea2128" stroke-width="2.0"/>
<polyline points="869.4,389.9 887.6,389.9 899.2,389.3 906,388.8 911.4,388.2 919.7,387.6 921.3,387.1 931.5,386.5 947,386 948,385.4 948.3,384.8 948.9,384.3 949,383.7 951.3,383.1 953.4,382.6 953.5,382 954.1,381.5 954.8,380.9 955.2,380.3 955.2,379.2 956.9,379.2 960.6,378.6 961.2,378.1 965.1,377.5 966.4,377 968,376.4 968,375.8 969.2,375.3 971,374.7 971.3,374.1 971.7,373.6 972.6,373 974.2,372.5 974.3,371.9 974.9,371.3 975,370.8 976.2,370.2 976.2,369.6 978.3,369.1 978.5,368.5 979.8,368 982.1,367.4 982.5,366.8 983.9,366.3 984.6,365.7 984.7,365.1 985.7,364.6 988.6,364 989.1,363.5 990.1,362.9 991,362.3 991.1,361.8 991.3,361.2 991.4,360.6 991.4,360.1 991.7,359.5 991.9,359 992.4,358.4 993.5,357.8 993.7,357.3 994.3,356.7 996.1,356.1 997.8,355.6 1001.4,355 1001.8,354.5 1003.4,353.9 1004,353.3 1004.5,352.8 1005.7,352.2 1006.5,351.6 1006.5,351.1 1006.9,350.5 1009.6,350 1010.9,349.4 1011.7,348.8 1011.9,348.3 1013.1,347.7 1015,347.1 1017,346.6 1018.4,346 1018.5,345.5 1018.9,344.9 1019,344.3 1019.5,343.8 1020.9,343.2 1021.7,342.6 1021.8,342.1 1022.1,341.5 1022.4,341 1022.6,340.4 1022.8,339.8 1023,339.3 1023.1,338.7 1023.8,338.1 1024.2,337.6 1026,337 1026.4,336.5 1026.8,335.9 1027.3,335.3 1027.7,334.8 1027.8,334.2 1028.1,333.6 1028.6,333.1 1029.1,332.5 1029.6,332 1029.7,331.4 1030.5,330.8 1032.3,330.3 1032.5,329.7 1032.9,329.1 1033.2,328.6 1033.8,328 1034.5,327.5 1034.6,326.9 1034.7,326.3 1035.7,325.8 1036.2,325.2 1036.2,324.6 1036.7,324.1 1036.9,323.5 1038.9,323 1038.9,322.4 1039.7,321.8 1040,321.3 1040.1,320.7 1040.2,320.1 1040.8,319.6 1040.8,319 1041.8,318.5 1041.8,317.3 1041.9,316.8 1042.6,316.8 1042.9,316.2 1043.4,315.6 1043.5,315.1 1043.9,314.5 1044.2,314 1044.2,312.8 1044.8,312.8 1044.9,312.3 1045.6,311.7 1046.3,311.1 1046.8,310.6 1047.5,310 1048.3,309.5 1048.5,308.9 1048.5,307.8 1048.7,307.2 1048.8,306.6 1049.1,306.1 1049.2,305.5 1049.6,305 1049.9,304.4 1050.2,303.8 1050.2,303.3 1050.3,302.1 1050.4,301.6 1050.5,301 1050.8,300.5 1051,299.9 1051.2,299.3 1051.6,298.8 1051.7,298.2 1052.9,298.2 1052.9,297.6 1053.2,297.1 1053.2,296 1053.4,295.4 1053.6,294.8 1054,294.3 1054.1,293.7 1054.2,293.1 1054.3,292.6 1054.5,292 1055.2,292 1055.5,291.5 1055.6,290.9 1055.7,289.8 1056.9,289.8 1056.9,288.6 1057.5,288.6 1057.6,288.1 1057.9,287.5 1058.5,287 1059.2,286.4 1059.4,285.8 1059.8,285.3 1059.8,284.1 1059.9,283.6 1060.3,283 1060.3,282.5 1060.7,281.9 1061.4,281.3 1062.2,280.8 1062.7,280.2 1063.1,279.6 1063.6,279.1 1063.6,278 1063.9,277.4 1064.6,277.4 1065.4,276.8 1065.4,275.7 1065.5,275.1 1065.7,274.6 1066,274 1066.1,273.5 1066.4,272.9 1066.4,271.8 1067.4,271.8 1067.5,270.6 1067.8,270.1 1068,269.5 1068.1,269 1068.4,268.4 1068.6,267.8 1068.7,267.3 1068.9,266.7 1069,266.1 1069.2,265.6 1069.3,265 1069.9,264.5 1070.2,263.9 1070.4,263.3 1070.7,262.8 1071.1,262.2 1071.4,261.6 1071.8,261.1 1072,260.5 1072.8,260 1072.8,258.8 1073.1,258.3 1073.2,257.7 1073.5,257.1 1074.3,256.6 1074.4,255.5 1074.4,254.9 1074.5,254.3 1074.6,253.8 1074.8,253.2 1075,252.6 1075.4,252.1 1075.4,251 1075.7,250.4 1076.2,249.8 1076.4,249.3 1076.6,248.7 1076.8,248.1 1076.8,247.6 1078,247.6 1078,247 1078.1,246.5 1078.9,245.9 1080.3,245.3 1081,244.8 1081.1,244.2 1081.2,243.6 1081.4,243.1 1081.4,242 1082.5,242 1082.6,241.4 1082.6,240.3 1082.7,239.7 1083.1,239.1 1083.2,238 1084,238 1084.3,237.5 1084.4,236.9 1085,236.3 1085.1,235.8 1085.3,235.2 1085.3,234.6 1085.4,233.5 1085.7,233 1086.6,233 1088.1,232.4 1088.2,231.3 1088.2,230.7 1088.8,230.1 1089,229.6 1089,229 1089.1,228.5 1089.3,227.9 1089.5,227.3 1089.8,226.8 1089.8,226.2 1089.9,225.6 1090,225.1 1090.2,224.5 1090.8,224 1091.2,223.4 1091.5,222.8 1091.5,222.3 1091.8,221.7 1092.1,221.1 1092.1,220 1092.4,219.5 1092.9,218.9 1093,218.3 1093.5,217.8 1093.8,217.2 1093.9,216.6 1094.7,216.6 1095,216.1 1095,215.5 1095.1,214.4 1095.2,213.8 1095.4,213.3 1095.5,212.7 1095.9,212.2 1096,211.6 1096.1,211 1096.4,210.5 1096.8,209.9 1096.9,209.3 1096.9,208.2 1097,207.6 1097.1,207.1 1097.2,206.5 1097.6,206 1097.7,205.4 1097.8,204.8 1098.1,204.3 1098.3,203.7 1098.8,203.1 1099.1,202.6 1099.1,201.5 1099.2,200.9 1099.3,200.3 1099.3,199.2 1099.5,198.6 1099.5,197.5 1100.1,197.5 1100.1,196.4 1100.2,195.8 1100.4,195.3 1100.5,194.7 1100.6,194.1 1100.8,193.6 1100.8,192.5 1101.8,192.5 1102.2,191.9 1102.7,191.3 1102.8,190.8 1103,190.2 1103.2,189.6 1103.3,189.1 1103.5,188.5 1103.7,188 1103.8,187.4 1104.3,186.8 1104.6,186.3 1104.7,185.7 1104.8,185.1 1104.9,184.6 1105,184 1106.1,183.5 1106.2,182.9 1106.5,182.3 1106.6,181.8 1106.7,181.2 1107.3,180.6 1108.2,180.1 1108.4,179.5 1108.4,179 1108.7,178.4 1108.7,177.3 1108.9,176.7 1109,176.1 1109.9,176.1 1111.3,175.6 1111.4,175 1111.9,174.5 1112,173.9 1112.1,173.3 1112.1,172.2 1112.7,172.2 1113.2,171.7 1113.2,170.5 1113.5,170 1114,169.4 1114.2,168.8 1114.5,168.3 1114.9,167.7 1114.9,167.1 1115.1,166.6 1115.2,166 1115.4,165.5 1115.5,164.9 1115.9,164.3 1116.5,164.3 1117,163.8 1117.6,163.2 1117.8,162.6 1118.6,162.1 1119.1,161.5 1119.5,161 1119.7,160.4 1120.8,159.8 1121.9,159.3 1122.7,158.7 1122.7,157.6 1122.9,157 1123.7,157 1124.1,156.5 1125.3,155.9 1125.4,155.3 1125.8,154.8 1125.8,154.2 1126.3,153.7 1126.4,153.1 1126.7,152.5 1126.7,151.4 1126.8,150.8 1126.9,150.3 1127.5,150.3 1127.5,149.1 1128.3,149.1 1128.4,148 1130,148 1130.3,147.5 1130.4,146.9 1131.3,146.3 1131.5,145.8 1131.6,145.2 1132.2,144.6 1132.7,144.1 1132.8,143 1132.8,141.8 1133.4,141.8 1133.7,141.3 1134.4,140.7 1134.5,140.1 1135.2,139.6 1135.5,139 1135.7,138.5 1136.2,137.9 1136.9,137.3 1138,136.8 1138.3,136.2 1138.4,135.6 1139.6,135.1 1140.8,134.5 1140.9,134 1141.5,133.4 1141.7,132.8 1142.5,132.3 1142.9,131.7 1143.5,131.1 1144,130.6 1144.3,130 1144.7,129.5 1144.9,128.9 1145,128.3 1145.4,127.8 1146.1,127.2 1146.2,126.6 1146.3,126.1 1146.5,125.5 1146.7,125 1147,124.4 1147.3,123.8 1147.3,122.7 1148.3,122.7 1148.4,122.1 1149.1,121.6 1149.1,121 1150,120.5 1150.3,119.9 1150.7,119.3 1150.7,118.2 1151.6,118.2 1151.9,117.6 1152,117.1 1152.1,116.5 1152.1,115.4 1152.3,114.8 1152.7,114.3 1153.9,114.3 1154.5,113.7 1154.6,113.1 1154.8,112.6 1154.9,112 1155.2,111.5 1155.2,110.9 1156.1,110.3 1156.5,109.8 1156.7,109.2 1157.2,108.6 1157.2,107.5 1157.2,107 1157.5,106.4 1158,105.8 1158.2,105.3 1158.3,104.7 1158.7,104.1 1158.8,103.6 1159,103 1159.2,102.5 1159.5,101.9 1159.8,101.3 1160.5,100.8 1160.5,100.2 1160.9,99.6 1161.3,99.1 1161.4,98.5 1161.9,98 1161.9,97.4 1163.1,96.8 1163.1,96.3 1163.4,95.7 1163.4,94.6 1163.9,94 1164.6,94 1164.8,93.5 1164.8,92.9 1165.4,92.3 1165.9,91.8 1165.9,91.2 1166.9,90.6 1167.1,90.1 1167.5,89.5 1167.8,89 1168.8,88.4 1170.6,87.8 1171.6,87.3 1171.8,86.7 1171.9,86.1 1172.6,85.6 1172.8,85 1172.9,84.5 1174,83.9 1174.8,83.3 1176.5,82.8 1178.2,82.2 1178.2,81.1 1179.4,81.1 1179.8,80.5 1180.9,80 1181.2,79.4 1182,78.8 1182.7,78.3 1183,77.7 1183.8,77.1 1184.5,76.6 1185.1,76 1185.1,74.9 1185.3,74.3 1186,74.3 1188.2,73.8 1188.6,73.2 1189.5,72.6 1189.6,72.1 1191,71.5 1191,71 1191.8,70.4 1193.5,69.8 1195.9,69.3 1197.2,68.7 1197.3,68.1 1198.8,67.6 1199.1,67 1199.7,66.5 1201.5,65.9 1201.9,65.3 1203.4,64.8 1203.8,64.2 1204.1,63.6 1206.2,63.1 1211.7,62.5 1211.7,61.4 1212.3,60.8 1212.6,60.3 1213,59.7 1214.2,59.7 1215.1,59.1 1215.2,58.6 1216.6,58 1217,57.5 1223.7,56.9 1226.7,56.3 1230,55.8 1239.5,55.2 1246.9,54.6 1252.6,54.1 1257.2,53.5 1258.3,53 1334.7,52.4 1334.7,52.4" fill="none" stroke="#3652a8" stroke-width="2.0"/>
<rect x="869.4" y="39.1" width="465.3" height="364" fill="none" stroke="#000" stroke-width="1.6"/>
<line x1="852.4" y1="389.9" x2="869.4" y2="389.9" stroke="#000" stroke-width="1.4"/>
<text x="848" y="389.9" font-size="26.5" text-anchor="middle" transform="rotate(-90 848 389.9)">0.0</text>
<line x1="852.4" y1="322.4" x2="869.4" y2="322.4" stroke="#000" stroke-width="1.4"/>
<text x="848" y="326.4" font-size="26.5" text-anchor="middle" transform="rotate(-90 848 326.4)">0.2</text>
<line x1="852.4" y1="254.9" x2="869.4" y2="254.9" stroke="#000" stroke-width="1.4"/>
<text x="848" y="262.9" font-size="26.5" text-anchor="middle" transform="rotate(-90 848 262.9)">0.4</text>
<line x1="852.4" y1="187.4" x2="869.4" y2="187.4" stroke="#000" stroke-width="1.4"/>
<text x="848" y="196.4" font-size="26.5" text-anchor="middle" transform="rotate(-90 848 196.4)">0.6</text>
<line x1="852.4" y1="119.9" x2="869.4" y2="119.9" stroke="#000" stroke-width="1.4"/>
<text x="848" y="128.9" font-size="26.5" text-anchor="middle" transform="rotate(-90 848 128.9)">0.8</text>
<line x1="852.4" y1="52.4" x2="869.4" y2="52.4" stroke="#000" stroke-width="1.4"/>
<text x="848" y="59.7" font-size="26.5" text-anchor="middle" transform="rotate(-90 848 59.7)">1.0</text>
<line x1="929.8" y1="403.1" x2="929.8" y2="419.7" stroke="#000" stroke-width="1.4"/>
<text x="937.1" y="448.5" font-size="26.3" text-anchor="end">−4</text>
<line x1="1016" y1="403.1" x2="1016" y2="419.7" stroke="#000" stroke-width="1.4"/>
<text x="1023.3" y="448.5" font-size="26.3" text-anchor="end">−2</text>
<line x1="1102.2" y1="403.1" x2="1102.2" y2="419.7" stroke="#000" stroke-width="1.4"/>
<text x="1102.2" y="448.5" font-size="26.3" text-anchor="middle">0</text>
<line x1="1188.4" y1="403.1" x2="1188.4" y2="419.7" stroke="#000" stroke-width="1.4"/>
<text x="1188.4" y="448.5" font-size="26.3" text-anchor="middle">2</text>
<line x1="1274.6" y1="403.1" x2="1274.6" y2="419.7" stroke="#000" stroke-width="1.4"/>
<text x="1274.6" y="448.5" font-size="26.3" text-anchor="middle">4</text>
<text x="1097" y="484.8" font-size="26.5" text-anchor="middle">PD/Control</text>
<text x="1094" y="519.8" font-size="26.5" text-anchor="middle">(log<tspan dy="8.2" font-size="18">2</tspan><tspan dy="-8.2">FC/SE)</tspan></text>
<text x="813.7" y="241.5" font-size="26.8" text-anchor="middle" transform="rotate(-90 813.7 241.5)">Cumulative distribution</text>
<rect x="1086.8" y="308.8" width="247.9" height="94.3" fill="#fff" stroke="#000" stroke-width="1.6"/>
<line x1="1094.3" y1="331.2" x2="1130.8" y2="331.2" stroke="#000" stroke-width="2.0"/>
<text x="1136.3" y="339.4" font-size="25.4">All RNAs</text>
<line x1="1094.3" y1="355.8" x2="1130.8" y2="355.8" stroke="#ea2128" stroke-width="2.0"/>
<text x="1136.3" y="364" font-size="25.4">Up in caudate</text>
<line x1="1094.3" y1="379.8" x2="1130.8" y2="379.8" stroke="#3652a8" stroke-width="2.0"/>
<text x="1136.3" y="388" font-size="25.4">Down in caudate</text>
<text x="884.9" y="81.8" font-size="26.5" fill="#c8202a">p &lt; 2.2*10<tspan dy="-9.8" font-size="16.4">-16</tspan></text>
<text x="884.9" y="114.3" font-size="26.5" fill="#2c3b9c">p = 5.3*10<tspan dy="-9.8" font-size="16.4">-9</tspan></text>
<line x1="1477.6" y1="390.3" x2="1684.5" y2="390.3" stroke="#bdbdbd" stroke-width="2.2" stroke-dasharray="9.5 10"/>
<line x1="1477.6" y1="52.4" x2="1943.3" y2="52.4" stroke="#bdbdbd" stroke-width="2.2" stroke-dasharray="9.5 10"/>
<polyline points="1477.6,389.2 1479.4,389.2 1481.2,389.2 1483,389.1 1484.8,389.1 1486.6,389 1488.4,389 1490.2,388.9 1492,388.9 1493.8,388.8 1495.6,388.8 1497.4,388.7 1499.2,388.7 1501,388.6 1502.8,388.5 1504.6,388.5 1506.4,388.4 1508.2,388.3 1510,388.2 1511.8,388.2 1513.6,388.1 1515.4,388 1517.2,387.9 1519,387.8 1520.8,387.7 1522.6,387.5 1524.3,387.4 1526.1,387.3 1527.9,387.2 1529.7,387 1531.5,386.9 1533.3,386.7 1535.1,386.6 1536.9,386.4 1538.7,386.2 1540.5,386 1542.3,385.8 1544.1,385.6 1545.9,385.4 1547.7,385.2 1549.5,384.9 1551.3,384.7 1553.1,384.4 1554.9,384.1 1556.7,383.9 1558.5,383.6 1560.3,383.2 1562.1,382.9 1563.9,382.6 1565.7,382.2 1567.5,381.8 1569.3,381.4 1571.1,381 1572.9,380.5 1574.7,380.1 1576.5,379.6 1578.3,379.1 1580.1,378.6 1581.9,378 1583.7,377.5 1585.5,376.9 1587.3,376.3 1589.1,375.6 1590.9,374.9 1592.7,374.2 1594.5,373.5 1596.3,372.7 1598.1,371.9 1599.9,371.1 1601.7,370.2 1603.5,369.3 1605.3,368.4 1607.1,367.4 1608.9,366.4 1610.7,365.3 1612.5,364.2 1614.3,363.1 1616.1,361.9 1617.8,360.7 1619.6,359.4 1621.4,358.1 1623.2,356.7 1625,355.3 1626.8,353.9 1628.6,352.4 1630.4,350.8 1632.2,349.2 1634,347.5 1635.8,345.8 1637.6,344.1 1639.4,342.2 1641.2,340.4 1643,338.4 1644.8,336.4 1646.6,334.4 1648.4,332.3 1650.2,330.1 1652,327.9 1653.8,325.7 1655.6,323.3 1657.4,320.9 1659.2,318.5 1661,316 1662.8,313.4 1664.6,310.8 1666.4,308.2 1668.2,305.5 1670,302.7 1671.8,299.9 1673.6,297 1675.4,294 1677.2,291.1 1679,288 1680.8,285 1682.6,281.9 1684.4,278.7 1686.2,275.5 1688,272.3 1689.8,269 1691.6,265.7 1693.4,262.3 1695.2,259 1697,255.5 1698.8,252.1 1700.6,248.7 1702.4,245.2 1704.2,241.7 1706,238.2 1707.8,234.7 1709.6,231.1 1711.3,227.6 1713.1,224 1714.9,220.5 1716.7,216.9 1718.5,213.4 1720.3,209.9 1722.1,206.3 1723.9,202.8 1725.7,199.3 1727.5,195.8 1729.3,192.3 1731.1,188.9 1732.9,185.5 1734.7,182.1 1736.5,178.7 1738.3,175.4 1740.1,172.1 1741.9,168.8 1743.7,165.6 1745.5,162.4 1747.3,159.3 1749.1,156.2 1750.9,153.1 1752.7,150.1 1754.5,147.2 1756.3,144.2 1758.1,141.4 1759.9,138.6 1761.7,135.8 1763.5,133.1 1765.3,130.5 1767.1,127.9 1768.9,125.4 1770.7,122.9 1772.5,120.5 1774.3,118.1 1776.1,115.8 1777.9,113.5 1779.7,111.3 1781.5,109.2 1783.3,107.1 1785.1,105.1 1786.9,103.1 1788.7,101.2 1790.5,99.4 1792.3,97.6 1794.1,95.8 1795.9,94.1 1797.7,92.5 1799.5,90.9 1801.3,89.4 1803.1,87.9 1804.8,86.4 1806.6,85 1808.4,83.7 1810.2,82.4 1812,81.2 1813.8,79.9 1815.6,78.8 1817.4,77.7 1819.2,76.6 1821,75.5 1822.8,74.5 1824.6,73.6 1826.4,72.7 1828.2,71.8 1830,70.9 1831.8,70.1 1833.6,69.3 1835.4,68.5 1837.2,67.8 1839,67.1 1840.8,66.5 1842.6,65.8 1844.4,65.2 1846.2,64.6 1848,64.1 1849.8,63.5 1851.6,63 1853.4,62.5 1855.2,62 1857,61.6 1858.8,61.2 1860.6,60.7 1862.4,60.3 1864.2,60 1866,59.6 1867.8,59.3 1869.6,58.9 1871.4,58.6 1873.2,58.3 1875,58.1 1876.8,57.8 1878.6,57.5 1880.4,57.3 1882.2,57 1884,56.8 1885.8,56.6 1887.6,56.4 1889.4,56.2 1891.2,56 1893,55.8 1894.8,55.7 1896.6,55.5 1898.3,55.4 1900.1,55.2 1901.9,55.1 1903.7,55 1905.5,54.8 1907.3,54.7 1909.1,54.6 1910.9,54.5 1912.7,54.4 1914.5,54.3 1916.3,54.2 1918.1,54.1 1919.9,54 1921.7,54 1923.5,53.9 1925.3,53.8 1927.1,53.7 1928.9,53.7 1930.7,53.6 1932.5,53.5 1934.3,53.5 1936.1,53.4 1937.9,53.4 1939.7,53.3 1941.5,53.3 1943.3,53.3" fill="none" stroke="#000" stroke-width="2.0"/>
<polyline points="1477.6,389.9 1540,389.9 1541.1,389.5 1546.2,389.1 1558,388.8 1558.1,388 1561.4,388 1562.9,387.6 1568.7,387.3 1577.2,386.9 1580.9,386.5 1585.3,386.1 1585.6,385.8 1591.9,385.4 1596,385 1599.6,384.6 1600.1,384.3 1602,383.9 1603.1,383.5 1604.7,383.1 1606,382.8 1609.2,382.4 1610.3,382 1610.3,381.3 1611.6,381.3 1612.4,380.9 1613,380.5 1613.3,380.1 1613.6,379.8 1616.1,379.4 1616.7,379 1616.7,378.3 1617.2,377.9 1618.1,377.9 1618.2,377.1 1618.5,376.8 1618.8,376.4 1620.3,376.4 1620.6,376 1621.2,375.6 1621.6,375.3 1622.6,374.9 1623,374.5 1624.2,374.1 1624.7,373.8 1624.8,373 1626.6,373 1627.2,372.6 1628.3,372.3 1629.1,371.9 1629.7,371.5 1630.5,371.1 1630.5,370.4 1632,370.4 1633,370 1633,369.3 1633.7,368.9 1634,368.5 1636,368.1 1636.7,367.8 1636.7,367 1637,366.6 1637,365.9 1637.1,365.1 1638.9,364.8 1639.4,364.4 1640.5,364 1642.1,363.6 1642.7,363.3 1643.3,362.9 1643.5,362.5 1644.9,362.1 1647.8,361.8 1647.9,361 1648.8,361 1649.3,360.6 1650.1,360.3 1650.3,359.5 1650.9,359.5 1651.6,359.1 1652.9,358.8 1653,358 1653.4,357.6 1654.8,357.3 1655.1,356.9 1655.5,356.5 1656,356.1 1656.4,355.8 1656.5,355 1656.9,354.6 1657.7,354.6 1657.9,354.3 1657.9,353.5 1659.4,353.5 1659.4,352.8 1659.6,352 1660.2,351.6 1660.4,350.9 1660.8,350.5 1661.2,350.1 1661.5,349.8 1661.9,349.4 1662.2,349 1662.3,348.3 1663,348.3 1663.2,347.5 1663.5,347.1 1663.5,346.4 1664.2,346.4 1664.3,345.6 1664.5,345.3 1665.1,344.9 1665.6,344.5 1665.9,344.1 1666.6,343.8 1666.7,343 1667.1,342.6 1667.5,342.3 1667.5,341.5 1667.7,340.8 1668,340.4 1668.4,340 1668.6,339.6 1669.2,339.3 1669.2,338.5 1669.5,338.1 1669.7,337.4 1669.8,336.6 1670,335.9 1670.1,335.1 1670.6,334.8 1670.8,334.4 1671,333.6 1671.4,333.3 1672,332.9 1672.1,332.1 1672.2,331.4 1672.4,330.6 1672.5,329.9 1673,329.5 1673.1,328.8 1674.1,328.4 1674.2,327.6 1674.5,327.3 1674.9,326.9 1675,326.1 1675.3,325.8 1675.6,325.4 1675.8,324.6 1676,324.3 1676.2,323.5 1676.6,323.1 1677.2,322.8 1677.4,322.4 1677.6,322 1677.7,321.3 1678.1,320.9 1678.5,320.5 1678.7,319.8 1679.3,319.4 1679.7,319 1679.8,318.3 1680.1,317.9 1680.3,317.1 1680.8,316.8 1680.9,316 1682.2,315.6 1682.4,314.9 1682.6,314.1 1682.7,313.4 1682.8,312.6 1683,311.9 1683.4,311.5 1683.4,310.8 1683.7,310.4 1683.7,309.6 1684.3,309.3 1685.2,309.3 1685.7,308.9 1686.6,308.5 1686.6,307.8 1687,307.4 1687.4,307 1687.6,306.3 1688.3,306.3 1688.4,305.5 1688.6,304.8 1688.8,304.4 1689.3,304 1689.5,303.3 1690.7,302.9 1690.7,302.1 1690.9,301.4 1691.4,301 1692.5,300.6 1692.6,299.9 1693.4,299.5 1693.6,298.8 1693.8,298 1694.5,298 1694.7,297.6 1694.9,296.9 1695.1,296.1 1695.4,295.8 1695.4,295 1695.6,294.3 1695.9,293.9 1696.6,293.9 1697.1,293.5 1697.1,292.8 1697.2,292 1697.7,291.6 1698,291.3 1698.2,290.5 1698.5,290.1 1698.8,289.8 1699.3,289.4 1699.4,288.6 1699.4,287.9 1699.5,287.1 1699.6,286.4 1699.9,286 1700.2,285.6 1700.2,284.9 1700.3,284.1 1700.5,283.4 1700.8,283 1701.3,282.6 1701.5,281.9 1701.6,281.1 1702.1,280.8 1702.2,280 1702.9,279.6 1703.1,278.9 1703.8,278.5 1704.2,278.1 1704.5,277.8 1704.7,277 1705,276.6 1705.1,275.9 1705.2,275.1 1705.5,274.8 1706,274.4 1706.2,274 1706.3,273.3 1706.4,272.5 1706.6,271.8 1706.9,271.4 1707.2,271 1707.3,270.3 1708.3,269.9 1708.4,269.1 1708.6,268.4 1708.8,268 1709,267.3 1709.1,266.5 1709.5,266.1 1709.7,265.4 1709.9,265 1710.1,264.3 1710.4,263.9 1710.7,263.5 1710.9,263.1 1711,262.4 1711.9,262 1712,261.3 1712.3,260.9 1712.7,260.5 1713,260.1 1713.3,259.8 1713.4,259 1713.8,258.6 1714.3,258.3 1714.5,257.9 1714.5,257.1 1714.9,256.8 1715,256 1715.2,255.3 1715.7,254.9 1715.9,254.1 1716.2,253.8 1716.5,253.4 1716.6,252.6 1717.4,252.6 1717.5,251.9 1717.5,251.1 1717.9,250.8 1718.2,250.4 1718.6,250 1719,249.6 1719.8,249.3 1720.1,248.9 1720.7,248.5 1721,248.1 1721.1,247.4 1721.5,247 1721.6,246.3 1721.7,245.5 1722.4,245.5 1722.5,244.8 1722.9,244.4 1722.9,243.6 1723.3,243.3 1723.8,242.9 1724.2,242.5 1724.4,241.8 1724.8,241.4 1724.8,240.6 1725.1,240.3 1725.4,239.9 1725.6,239.1 1725.8,238.4 1726.5,238 1726.6,237.3 1726.6,236.5 1726.7,235.8 1727.2,235.4 1727.6,235 1727.7,234.3 1728.2,233.9 1728.3,233.1 1728.5,232.8 1729,232.4 1729.1,231.6 1729.4,231.3 1729.6,230.5 1730.5,230.5 1730.6,229.8 1731.1,229.4 1732.2,229.4 1732.2,228.6 1732.3,227.9 1732.5,227.5 1732.8,227.1 1732.9,226.4 1733.1,225.6 1733.4,225.3 1733.7,224.9 1733.9,224.1 1734.1,223.8 1734.4,223.4 1734.6,222.6 1734.7,221.9 1734.8,221.1 1735.1,220.8 1735.2,220 1735.5,219.6 1735.5,218.9 1735.7,218.5 1735.9,217.8 1736.4,217.4 1736.6,216.6 1736.9,216.3 1737.1,215.9 1737.4,215.5 1737.7,215.1 1738,214.8 1738,214 1738.3,213.6 1738.5,212.9 1738.7,212.2 1739.8,211.8 1739.9,211 1740.3,210.6 1740.6,210.3 1740.6,209.5 1740.7,208.8 1741,208.4 1741,207.6 1741.3,207.3 1741.4,206.5 1741.6,205.8 1742,205.4 1742.1,204.6 1742.4,204.3 1742.8,203.9 1743.4,203.5 1743.5,202.8 1743.5,202 1743.7,201.3 1744,200.9 1744.2,200.2 1744.2,199.4 1744.6,199 1744.9,198.6 1745.1,197.9 1745.5,197.5 1745.9,197.1 1746.7,196.8 1746.8,196 1747.1,195.6 1747.3,195.3 1747.4,194.5 1747.6,193.8 1747.9,193.4 1748,192.6 1748.2,192.3 1748.3,191.5 1748.6,191.1 1748.6,190.4 1748.9,190 1749.1,189.3 1749.2,188.5 1749.5,188.1 1750.3,187.8 1750.3,187 1750.5,186.6 1750.8,186.3 1750.8,185.5 1751.1,185.1 1751.1,184.4 1751.4,184 1751.7,183.6 1752,183.3 1752.1,182.5 1752.3,181.8 1752.4,181 1752.7,180.6 1752.7,179.9 1753,179.5 1753.3,179.1 1753.9,178.8 1754,178 1754.1,177.3 1754.9,177.3 1755.3,176.9 1756,176.5 1756.4,176.1 1756.7,175.8 1756.8,175 1756.9,174.3 1757.2,173.9 1757.5,173.5 1758.7,173.1 1758.7,172.4 1759.2,172 1759.4,171.3 1759.9,170.9 1760.3,170.5 1760.9,170.1 1761.1,169.4 1761.4,169 1762.5,168.6 1762.7,167.9 1763.2,167.5 1763.4,166.8 1763.8,166.4 1764,165.7 1764.2,165.3 1764.4,164.5 1764.7,164.1 1764.8,163.4 1765,163 1765.6,162.6 1766,162.3 1766.1,161.5 1766.4,161.1 1766.7,160.8 1766.7,160 1767.1,159.7 1767.3,158.9 1767.4,158.1 1767.6,157.8 1767.8,157 1768,156.6 1768.1,155.9 1768.4,155.5 1768.6,154.8 1768.8,154 1769,153.3 1769.4,152.9 1769.6,152.1 1769.6,151.4 1770,151 1770.2,150.3 1770.4,149.9 1770.4,149.1 1770.7,148.4 1770.9,148 1771.7,148 1771.8,147.3 1772.1,146.9 1772.3,146.1 1773,146.1 1773.1,145.4 1773.3,145 1773.5,144.3 1773.7,143.9 1774.2,143.5 1774.5,143.1 1774.5,142.4 1775,142 1775.2,141.6 1775.3,140.9 1775.7,140.5 1775.8,139.8 1776,139.4 1776.5,139 1776.7,138.3 1777.6,137.9 1777.6,137.1 1777.8,136.4 1777.9,135.6 1778.4,135.3 1778.5,134.5 1778.7,133.8 1779.1,133.4 1779.4,133 1779.5,132.3 1779.7,131.5 1780.1,131.1 1780.3,130.4 1781.1,130.4 1781.6,130 1781.8,129.3 1782.4,128.9 1782.5,128.1 1783,127.8 1783.7,127.4 1783.7,126.6 1784.1,126.3 1785.3,125.9 1785.7,125.5 1785.7,124.8 1785.8,124 1786.2,123.6 1786.6,123.3 1786.7,122.5 1786.8,121.8 1787.3,121.4 1787.4,120.6 1787.7,120.3 1787.7,119.5 1787.9,118.8 1788.7,118.4 1789.1,118 1789.3,117.6 1789.7,117.3 1789.7,116.5 1790,116.1 1790.4,115.8 1791.3,115.8 1791.5,115 1792.3,114.6 1792.5,113.9 1792.7,113.1 1792.8,112.4 1793.4,112 1793.4,111.3 1793.9,110.9 1793.9,110.1 1794,109.4 1794.4,109 1794.6,108.3 1795,107.9 1795.1,107.1 1795.4,106.8 1795.5,106 1795.8,105.6 1796.3,105.3 1796.5,104.5 1797.1,104.5 1797.5,104.1 1797.5,103.4 1798.3,103.4 1798.4,102.6 1799,102.3 1800.6,102.3 1801.7,101.9 1801.7,101.1 1802,100.8 1802.3,100.4 1802.7,100 1802.9,99.3 1803.1,98.9 1803.8,98.5 1804.1,98.1 1804.2,97.4 1804.8,97.4 1805,96.6 1805.4,96.3 1806.2,96.3 1806.5,95.9 1806.6,95.1 1807.6,95.1 1807.8,94.4 1809.2,94 1809.4,93.6 1809.4,92.9 1809.5,92.1 1809.7,91.8 1810,91.4 1810.5,91 1810.8,90.6 1811.6,90.3 1811.6,89.5 1812.4,89.5 1812.4,88.8 1812.6,88 1813.2,88 1813.3,87.3 1813.5,86.5 1814.2,86.5 1814.3,85.8 1814.4,85 1814.7,84.6 1815,84.3 1816,84.3 1817.2,83.9 1817.7,83.5 1817.7,82.8 1818.3,82.4 1821,82 1821.1,81.3 1821.7,81.3 1821.9,80.5 1822.9,80.1 1823,79.4 1823.4,79 1823.9,78.6 1824,77.9 1824.3,77.5 1825.1,77.5 1825.9,77.1 1826.7,76.8 1827,76.4 1827.4,76 1827.4,75.3 1828.3,74.9 1828.8,74.5 1829.4,74.1 1832.8,73.8 1832.9,73 1833.7,73 1833.8,72.3 1835.1,72.3 1835.6,71.9 1836.3,71.5 1836.7,71.1 1836.9,70.4 1837.4,70 1838,70 1838.6,69.6 1839.1,69.3 1839.2,68.5 1839.2,67.8 1841.3,67.8 1842.4,67.4 1843.9,67 1844,66.3 1846.8,66.3 1847.5,65.9 1848,65.5 1851.8,65.1 1852.7,64.8 1852.8,64 1853.4,63.6 1855.9,63.3 1856.6,62.9 1857.2,62.5 1859,62.1 1859.8,61.8 1860.5,61.4 1860.9,61 1861.2,60.6 1861.3,59.9 1864.6,59.9 1865.2,59.5 1865.5,59.1 1866.8,58.8 1867.4,58.4 1868,58 1870.5,57.6 1870.7,56.9 1876,56.9 1878.8,56.5 1881.3,56.1 1886.2,55.8 1889.1,55.4 1895.1,55 1898,54.6 1900.4,54.3 1903,53.9 1903.4,53.5 1908.9,53.1 1909.9,52.8 1943.3,52.4 1943.3,52.4" fill="none" stroke="#ea2128" stroke-width="2.0"/>
<polyline points="1477.6,389.9 1483.1,389.9 1483.1,388.9 1487.5,388.9 1512.7,388.3 1520.1,387.8 1520.2,387.3 1524.8,386.8 1527.9,386.3 1531.1,385.7 1538.4,385.2 1545.4,384.7 1546.8,384.2 1546.9,383.7 1553.6,383.1 1556.1,382.6 1557.9,382.1 1561.6,381.6 1563.3,381.1 1563.8,380.6 1564.2,380 1566.2,379.5 1567.7,379 1568.2,378.5 1570,378 1570.3,377.4 1571,376.9 1576.2,376.4 1576.3,375.9 1578.1,375.4 1578.5,374.8 1580.6,374.3 1584.2,373.8 1584.5,373.3 1584.7,372.8 1591,372.2 1591.2,371.7 1591.7,371.2 1591.9,370.7 1591.9,369.6 1592.1,369.1 1593.1,369.1 1593.3,368.6 1595,368.1 1595.8,367.6 1596,367.1 1597.4,366.5 1598.6,366 1598.6,365 1599.8,365 1601.8,364.5 1602.8,363.9 1603.2,363.4 1604.2,362.9 1604.6,362.4 1605.6,361.9 1607,361.3 1607.2,360.8 1607.6,360.3 1607.9,359.8 1609,359.3 1609.8,358.7 1610.4,358.2 1610.9,357.7 1611.9,357.2 1612.5,356.7 1612.8,356.1 1613.1,355.6 1613.5,355.1 1614.6,354.6 1614.8,354.1 1615.2,353.6 1615.7,353 1616,352.5 1617.8,352 1618.4,351.5 1618.7,351 1618.8,350.4 1619,349.9 1620,349.4 1620.2,348.9 1620.2,347.8 1620.5,347.3 1621,346.8 1621.7,346.3 1622.7,345.8 1623.1,345.2 1627,344.7 1627.1,344.2 1627.4,343.7 1627.7,343.2 1627.8,342.6 1628.9,342.1 1629.3,341.6 1630,341.1 1630.8,340.6 1632.1,340.1 1632.3,339.5 1632.5,339 1632.8,338.5 1633.2,338 1633.6,337.5 1634.7,336.9 1635.2,336.4 1635.3,335.4 1635.7,334.9 1635.9,334.3 1635.9,333.3 1636.5,332.8 1636.7,332.3 1636.7,331.2 1636.9,330.7 1637.9,330.2 1637.9,329.1 1638,328.1 1639,328.1 1639.1,327.1 1641.1,327.1 1641.2,326 1642.1,326 1642.2,325.5 1642.3,325 1642.4,324.5 1642.7,324 1642.8,323.4 1643,322.9 1643.3,322.4 1643.3,321.4 1643.7,320.8 1643.8,320.3 1644,319.8 1644.2,319.3 1644.8,319.3 1646.1,318.8 1646.2,317.7 1646.6,317.2 1647,316.7 1647.6,316.7 1647.6,315.6 1647.8,315.1 1647.9,314.6 1648.8,314.6 1648.9,313.6 1650,313.1 1650.4,312.5 1650.4,311.5 1650.7,311 1650.8,309.9 1650.9,309.4 1651.4,308.9 1651.9,308.4 1652.4,307.9 1653.1,307.9 1653.1,306.8 1653.2,305.8 1653.6,305.3 1653.8,304.7 1653.9,304.2 1654,303.7 1654.4,303.2 1654.5,302.7 1654.7,302.1 1655.1,301.6 1655.6,301.1 1655.7,300.6 1655.8,300.1 1655.9,299 1656.1,298.5 1656.2,298 1656.3,297 1657.1,297 1657.2,296.4 1657.6,295.9 1658.3,295.4 1658.4,294.9 1658.6,294.4 1659.2,293.8 1659.4,293.3 1659.7,292.8 1659.8,292.3 1660,291.8 1660.7,291.2 1660.8,290.7 1661.2,290.2 1661.7,289.7 1662.3,289.2 1662.5,288.6 1662.6,288.1 1663.1,287.6 1663.4,287.1 1663.4,286.1 1664,285.5 1664.1,285 1664.2,284.5 1664.3,283.5 1664.9,282.9 1665.2,282.4 1665.3,281.9 1666,281.4 1666.3,280.9 1666.4,280.3 1667.3,279.8 1668,279.3 1668.4,278.8 1668.4,277.7 1668.6,277.2 1669.2,276.7 1669.3,276.2 1669.4,275.7 1669.8,275.1 1669.9,274.6 1671.2,274.1 1671.2,273.1 1672,273.1 1672.3,272.6 1673,272 1673.3,271.5 1673.5,271 1673.6,270 1673.7,269.4 1674,268.9 1674.2,268.4 1674.3,267.4 1674.5,266.8 1674.8,266.3 1675,265.8 1675.1,265.3 1675.4,264.8 1675.6,264.2 1675.7,263.7 1676.6,263.2 1676.8,262.7 1677,262.2 1677.5,261.6 1677.7,261.1 1677.8,260.6 1677.9,260.1 1678.3,259.6 1678.5,259.1 1678.7,258.5 1679,258 1679.2,257.5 1679.4,257 1679.7,256.5 1679.9,255.9 1680.1,255.4 1680.2,254.9 1680.5,254.4 1680.7,253.9 1680.7,252.8 1681.1,252.3 1681.2,251.8 1681.3,251.3 1681.6,250.7 1681.8,250.2 1682.1,249.7 1682.2,248.7 1682.5,248.1 1683,247.6 1683.4,247.1 1683.9,246.6 1684.1,246.1 1684.2,245.6 1684.4,245 1684.9,244.5 1685,244 1686.3,244 1686.8,243.5 1686.8,242.4 1687.3,241.9 1687.5,241.4 1688.1,240.9 1688.5,240.4 1688.8,239.8 1688.9,239.3 1688.9,238.3 1689,237.8 1689.4,237.2 1690.1,237.2 1690.2,236.2 1690.5,235.7 1690.7,235.2 1690.8,234.6 1690.9,233.6 1692.1,233.6 1692.2,232.6 1692.7,232.1 1693,231.5 1693.6,231 1693.9,230.5 1693.9,229.5 1694.5,229.5 1694.6,228.9 1694.9,228.4 1695.1,227.9 1695.3,227.4 1695.4,226.9 1695.4,225.8 1695.7,225.3 1695.7,224.3 1696.2,223.7 1696.6,223.2 1697,222.7 1697.1,221.7 1697.6,221.1 1697.7,220.6 1698,220.1 1698.1,219.6 1698.4,219.1 1699.5,218.6 1699.5,217.5 1699.7,217 1699.9,216.5 1700.1,216 1700.6,215.4 1700.8,214.9 1700.9,213.9 1701.1,213.4 1701.5,212.8 1701.6,212.3 1702.1,211.8 1702.6,211.3 1702.9,210.8 1703,210.2 1703.1,209.7 1703.9,209.2 1704,208.2 1704.1,207.6 1704.3,207.1 1704.7,206.6 1705,206.1 1705.5,205.6 1705.6,205.1 1705.7,204.5 1706.2,204 1706.8,203.5 1707.2,203 1707.2,201.9 1707.4,201.4 1707.7,200.9 1707.7,199.9 1707.9,199.3 1708.6,198.8 1708.8,198.3 1708.9,197.8 1709.2,197.3 1709.3,196.7 1710,196.2 1710.1,195.2 1710.1,194.1 1710.4,193.6 1710.4,193.1 1710.8,192.6 1711.1,192.1 1711.2,191.6 1711.5,191 1711.8,190.5 1711.9,189.5 1712.2,189 1712.3,188.4 1712.5,187.9 1712.6,187.4 1712.7,186.9 1712.9,186.4 1713.2,185.8 1713.5,185.3 1714.1,184.8 1714.4,184.3 1715.2,183.8 1715.5,183.2 1715.5,182.2 1715.7,181.7 1716,181.2 1716.1,180.6 1716.7,180.1 1716.9,179.6 1717.2,179.1 1717.2,178.1 1717.3,177.5 1717.9,177 1718,176.5 1718.5,176 1718.6,175.5 1718.9,174.9 1718.9,173.9 1719.5,173.4 1719.9,172.9 1720.6,172.9 1720.6,171.8 1720.7,171.3 1720.9,170.8 1722,170.8 1722.2,170.3 1722.2,169.2 1722.3,168.7 1723,168.7 1724.1,168.2 1724.1,167.1 1724.2,166.6 1725.8,166.6 1726.6,166.1 1726.8,165.6 1726.9,165.1 1727,164 1727.3,163.5 1727.6,163 1727.6,162 1727.8,161.4 1728,160.9 1728.1,160.4 1728.2,159.9 1728.3,159.4 1728.4,158.8 1729.4,158.8 1729.5,158.3 1730.3,157.8 1730.3,156.8 1731.1,156.8 1731.9,156.2 1732,155.7 1733.4,155.2 1734.1,154.7 1734.2,154.2 1734.6,153.7 1735.2,153.1 1735.6,152.6 1735.7,152.1 1737.2,151.6 1737.4,151.1 1737.9,150.5 1737.9,149.5 1738.2,149 1738.4,148.5 1738.5,147.9 1738.8,147.4 1739.1,146.9 1739.3,146.4 1740.2,145.9 1740.2,144.8 1740.7,144.3 1741,143.8 1741.1,143.3 1741.3,142.7 1741.6,142.2 1741.8,141.7 1742.8,141.2 1742.8,140.7 1743.8,140.1 1743.9,139.6 1744,139.1 1744.3,138.6 1744.4,138.1 1744.4,137 1745,136.5 1745.2,136 1745.6,135.5 1745.7,135 1745.7,133.9 1745.9,133.4 1746.3,132.9 1746.9,132.9 1747.4,132.4 1748,131.8 1748.8,131.3 1749,130.8 1749.5,130.3 1749.8,129.8 1750.4,129.2 1751.4,128.7 1751.9,128.2 1752.5,127.7 1752.9,127.2 1752.9,126.1 1753.8,126.1 1753.9,125.6 1754.5,125.1 1754.8,124.6 1754.9,124.1 1756.4,123.5 1756.5,122.5 1756.7,122 1756.9,121.5 1757.3,120.9 1757.4,120.4 1758.1,119.9 1758.7,119.4 1758.7,118.9 1759.1,118.3 1759.4,117.8 1759.5,117.3 1759.6,116.8 1759.7,116.3 1760.2,115.7 1761.3,115.2 1762.7,114.7 1764.7,114.2 1766,113.7 1766.1,112.6 1766.2,112.1 1766.3,111.6 1766.5,111.1 1766.6,110.6 1766.9,110 1767.8,110 1769,109.5 1769.5,109 1770.8,108.5 1771.4,108 1772.4,107.4 1772.9,106.9 1773.6,106.4 1773.8,105.9 1774.1,105.4 1774.5,104.8 1774.6,103.8 1775.1,103.3 1775.4,102.8 1775.5,102.2 1775.6,101.7 1775.6,100.7 1775.8,100.2 1776.5,99.6 1777.3,99.1 1777.6,98.6 1778.4,98.1 1778.7,97.6 1778.8,97.1 1779.7,96.5 1780.3,96 1780.4,95 1780.6,94.5 1781.1,93.9 1782.1,93.9 1782.3,93.4 1782.4,92.9 1783.2,92.4 1783.3,91.9 1783.9,91.3 1784,90.8 1784.1,90.3 1784.7,89.8 1785.7,89.3 1786,88.7 1786.8,88.2 1787.7,87.7 1787.9,87.2 1789.4,86.7 1789.9,86.1 1792.4,85.6 1793.6,85.1 1794,84.6 1794.3,84.1 1794.3,83 1794.4,82.5 1795,82.5 1795.5,82 1795.7,81.5 1796.6,81 1796.9,80.4 1797.4,79.9 1797.5,78.9 1798.6,78.9 1801.4,78.4 1801.4,77.3 1801.9,76.8 1803.7,76.3 1806.8,75.8 1806.8,74.7 1807.7,74.7 1809.8,74.2 1811.3,73.7 1813.1,73.2 1813.2,72.1 1814.5,72.1 1815.3,71.6 1816,71.1 1816.7,70.6 1817.7,70.1 1817.7,69 1818.5,69 1819.3,68.5 1822,68 1822.4,67.5 1822.7,66.9 1823.3,66.4 1825.5,65.9 1825.7,65.4 1826,64.9 1827.2,64.3 1827.8,63.8 1828.3,63.3 1829.9,62.8 1830.9,62.3 1832.4,61.7 1834.4,61.2 1836,60.7 1836.6,60.2 1837.6,59.7 1838.3,59.1 1838.6,58.6 1839.8,58.1 1839.9,57.1 1842.2,57.1 1846,56.6 1848.4,56 1850.7,55.5 1852.4,55 1861.4,54.5 1868.2,54 1881.1,53.4 1884.2,52.9 1943.3,52.4 1943.3,52.4" fill="none" stroke="#3652a8" stroke-width="2.0"/>
<rect x="1477.6" y="39.1" width="465.7" height="364" fill="none" stroke="#000" stroke-width="1.6"/>
<line x1="1460.6" y1="389.9" x2="1477.6" y2="389.9" stroke="#000" stroke-width="1.4"/>
<text x="1455" y="389.9" font-size="26.5" text-anchor="middle" transform="rotate(-90 1455 389.9)">0.0</text>
<line x1="1460.6" y1="322.4" x2="1477.6" y2="322.4" stroke="#000" stroke-width="1.4"/>
<text x="1455" y="326.4" font-size="26.5" text-anchor="middle" transform="rotate(-90 1455 326.4)">0.2</text>
<line x1="1460.6" y1="254.9" x2="1477.6" y2="254.9" stroke="#000" stroke-width="1.4"/>
<text x="1455" y="262.9" font-size="26.5" text-anchor="middle" transform="rotate(-90 1455 262.9)">0.4</text>
<line x1="1460.6" y1="187.4" x2="1477.6" y2="187.4" stroke="#000" stroke-width="1.4"/>
<text x="1455" y="196.4" font-size="26.5" text-anchor="middle" transform="rotate(-90 1455 196.4)">0.6</text>
<line x1="1460.6" y1="119.9" x2="1477.6" y2="119.9" stroke="#000" stroke-width="1.4"/>
<text x="1455" y="128.9" font-size="26.5" text-anchor="middle" transform="rotate(-90 1455 128.9)">0.8</text>
<line x1="1460.6" y1="52.4" x2="1477.6" y2="52.4" stroke="#000" stroke-width="1.4"/>
<text x="1455" y="61.4" font-size="26.5" text-anchor="middle" transform="rotate(-90 1455 61.4)">1.0</text>
<line x1="1537.9" y1="403.1" x2="1537.9" y2="419.7" stroke="#000" stroke-width="1.4"/>
<text x="1545.2" y="448.5" font-size="26.3" text-anchor="end">−4</text>
<line x1="1624.1" y1="403.1" x2="1624.1" y2="419.7" stroke="#000" stroke-width="1.4"/>
<text x="1631.4" y="448.5" font-size="26.3" text-anchor="end">−2</text>
<line x1="1710.3" y1="403.1" x2="1710.3" y2="419.7" stroke="#000" stroke-width="1.4"/>
<text x="1710.3" y="448.5" font-size="26.3" text-anchor="middle">0</text>
<line x1="1796.5" y1="403.1" x2="1796.5" y2="419.7" stroke="#000" stroke-width="1.4"/>
<text x="1796.5" y="448.5" font-size="26.3" text-anchor="middle">2</text>
<line x1="1882.7" y1="403.1" x2="1882.7" y2="419.7" stroke="#000" stroke-width="1.4"/>
<text x="1882.7" y="448.5" font-size="26.3" text-anchor="middle">4</text>
<text x="1705.4" y="484.8" font-size="26.5" text-anchor="middle">PD/Control</text>
<text x="1702.4" y="519.8" font-size="26.5" text-anchor="middle">(log<tspan dy="8.2" font-size="18">2</tspan><tspan dy="-8.2">FC/SE)</tspan></text>
<text x="1417.2" y="241.5" font-size="26.8" text-anchor="middle" transform="rotate(-90 1417.2 241.5)">Cumulative distribution</text>
<rect x="1684.5" y="308.8" width="258.8" height="94.3" fill="#fff" stroke="#000" stroke-width="1.6"/>
<line x1="1692" y1="331.2" x2="1728.5" y2="331.2" stroke="#000" stroke-width="2.0"/>
<text x="1734" y="339.4" font-size="25.4">All RNAs</text>
<line x1="1692" y1="355.8" x2="1728.5" y2="355.8" stroke="#ea2128" stroke-width="2.0"/>
<text x="1734" y="364" font-size="25.4">Up in putamen</text>
<line x1="1692" y1="379.8" x2="1728.5" y2="379.8" stroke="#3652a8" stroke-width="2.0"/>
<text x="1734" y="388" font-size="25.4">Down in putamen</text>
<text x="1487.6" y="81.8" font-size="26.5" fill="#c8202a">p &lt; 2.2*10<tspan dy="-9.8" font-size="16.4">-16</tspan></text>
<text x="1487.6" y="114.3" font-size="26.5" fill="#2c3b9c">p = 1.2*10<tspan dy="-9.8" font-size="16.4">-11</tspan></text>
<text x="2" y="585.5" font-size="26" font-weight="bold">c</text>
<text x="379.1" y="598" font-size="27.2" text-anchor="middle">SNCA</text>
<line x1="187.7" y1="603.7" x2="640.7" y2="603.7" stroke="#222" stroke-width="1.6"/>
<text x="1073.4" y="598" font-size="27.2" text-anchor="middle">TOMM70</text>
<line x1="852.5" y1="602.8" x2="1305.7" y2="602.8" stroke="#222" stroke-width="1.6"/>
<text x="1628.7" y="597.8" font-size="27.2" text-anchor="middle">FCAR</text>
<line x1="1405.4" y1="602.2" x2="1857.8" y2="602.2" stroke="#222" stroke-width="1.6"/>
<text x="153" y="641.2" font-size="27.2">Blood</text>
<text x="761.3" y="641.2" font-size="27.2">Blood</text>
<text x="1378" y="641.2" font-size="27.2">Blood</text>
<text x="452.2" y="641.2" font-size="27.2">Striatum</text>
<text x="1073.5" y="641.2" font-size="27.2">Striatum</text>
<text x="1683.7" y="641.2" font-size="27.2">Striatum</text>
<text x="105" y="921.4" font-size="32" text-anchor="middle" transform="rotate(-90 105 921.4)">Expression (log<tspan dy="9.9" font-size="21.8">2</tspan><tspan dy="-9.9"> cpm)</tspan></text>
<g fill="#8b7c6c" fill-opacity="0.22"><circle cx="183.6" cy="953.4" r="5.4"/><circle cx="205.9" cy="879.7" r="5.4"/><circle cx="234.1" cy="833.1" r="5.4"/><circle cx="228.6" cy="838.7" r="5.4"/><circle cx="220.4" cy="850.2" r="5.4"/><circle cx="227.2" cy="762.4" r="5.4"/><circle cx="241.2" cy="849.4" r="5.4"/><circle cx="228.5" cy="818.6" r="5.4"/><circle cx="219.5" cy="871" r="5.4"/><circle cx="220.5" cy="843.5" r="5.4"/><circle cx="227.3" cy="847" r="5.4"/><circle cx="204.8" cy="828.2" r="5.4"/><circle cx="227.5" cy="809.4" r="5.4"/><circle cx="224" cy="841.7" r="5.4"/><circle cx="235.2" cy="882.6" r="5.4"/><circle cx="215.1" cy="849.1" r="5.4"/><circle cx="185.3" cy="904.2" r="5.4"/><circle cx="218.8" cy="851" r="5.4"/><circle cx="239.9" cy="861.8" r="5.4"/><circle cx="225.6" cy="930.9" r="5.4"/><circle cx="225.8" cy="885.4" r="5.4"/><circle cx="209.2" cy="836.1" r="5.4"/><circle cx="207" cy="851.8" r="5.4"/><circle cx="230.8" cy="885.2" r="5.4"/><circle cx="188.6" cy="948.6" r="5.4"/><circle cx="240.5" cy="847.6" r="5.4"/><circle cx="241.2" cy="848.8" r="5.4"/><circle cx="246.8" cy="906.2" r="5.4"/><circle cx="192.4" cy="817.6" r="5.4"/><circle cx="191.1" cy="846.5" r="5.4"/><circle cx="242.3" cy="900.8" r="5.4"/><circle cx="209.9" cy="887" r="5.4"/><circle cx="201.3" cy="864.9" r="5.4"/><circle cx="208.7" cy="891.1" r="5.4"/><circle cx="226.9" cy="907.1" r="5.4"/><circle cx="194.1" cy="814" r="5.4"/><circle cx="215.6" cy="779.5" r="5.4"/><circle cx="226.9" cy="873.3" r="5.4"/><circle cx="230.9" cy="892.5" r="5.4"/><circle cx="184.3" cy="839.1" r="5.4"/><circle cx="236.9" cy="808.3" r="5.4"/><circle cx="212.1" cy="861.9" r="5.4"/><circle cx="212.2" cy="858.1" r="5.4"/><circle cx="220.5" cy="924.5" r="5.4"/><circle cx="201.9" cy="894.6" r="5.4"/><circle cx="241.8" cy="869.5" r="5.4"/><circle cx="197.5" cy="911.2" r="5.4"/><circle cx="219.2" cy="850.7" r="5.4"/><circle cx="194.6" cy="815.6" r="5.4"/><circle cx="224" cy="887.2" r="5.4"/><circle cx="242.8" cy="887.1" r="5.4"/><circle cx="241.6" cy="850.2" r="5.4"/><circle cx="192.4" cy="822.6" r="5.4"/><circle cx="224.6" cy="871.1" r="5.4"/><circle cx="242.2" cy="892" r="5.4"/><circle cx="196.7" cy="883" r="5.4"/><circle cx="210.8" cy="780.9" r="5.4"/><circle cx="230.4" cy="863.5" r="5.4"/><circle cx="232.1" cy="813.8" r="5.4"/><circle cx="213.2" cy="895.1" r="5.4"/><circle cx="225.5" cy="761.7" r="5.4"/><circle cx="227.5" cy="816.2" r="5.4"/><circle cx="206.7" cy="892.9" r="5.4"/><circle cx="226.4" cy="913.2" r="5.4"/><circle cx="221.5" cy="836.5" r="5.4"/><circle cx="229.4" cy="875.6" r="5.4"/><circle cx="217.2" cy="831.1" r="5.4"/><circle cx="205.6" cy="932.9" r="5.4"/><circle cx="212.1" cy="802.7" r="5.4"/><circle cx="244.2" cy="876.8" r="5.4"/><circle cx="195.8" cy="809.7" r="5.4"/><circle cx="193.3" cy="924.5" r="5.4"/><circle cx="184.3" cy="859.6" r="5.4"/><circle cx="239.6" cy="842.6" r="5.4"/><circle cx="248.5" cy="777.1" r="5.4"/><circle cx="199.1" cy="937.1" r="5.4"/><circle cx="201" cy="894.9" r="5.4"/><circle cx="196.6" cy="894.9" r="5.4"/><circle cx="223" cy="912.4" r="5.4"/><circle cx="215.4" cy="876.6" r="5.4"/><circle cx="237.5" cy="829.6" r="5.4"/><circle cx="197.3" cy="821.8" r="5.4"/><circle cx="241.3" cy="821.8" r="5.4"/><circle cx="214" cy="922.9" r="5.4"/><circle cx="236.7" cy="789.6" r="5.4"/><circle cx="236.3" cy="831.7" r="5.4"/><circle cx="243.4" cy="845.1" r="5.4"/><circle cx="216.3" cy="870.9" r="5.4"/><circle cx="223.6" cy="886.8" r="5.4"/><circle cx="220.4" cy="799.9" r="5.4"/><circle cx="196" cy="776.5" r="5.4"/><circle cx="216.5" cy="860.5" r="5.4"/><circle cx="244.5" cy="915.8" r="5.4"/><circle cx="243.3" cy="895.1" r="5.4"/><circle cx="184.9" cy="870.5" r="5.4"/><circle cx="227.1" cy="845.3" r="5.4"/><circle cx="205" cy="874" r="5.4"/><circle cx="192.4" cy="848.9" r="5.4"/><circle cx="192.7" cy="897.8" r="5.4"/><circle cx="235.8" cy="822" r="5.4"/><circle cx="246.6" cy="866.8" r="5.4"/><circle cx="217.7" cy="855.3" r="5.4"/><circle cx="208.7" cy="885.4" r="5.4"/><circle cx="217.1" cy="870.9" r="5.4"/><circle cx="238.1" cy="973.3" r="5.4"/><circle cx="232.6" cy="928.7" r="5.4"/><circle cx="187.7" cy="928.7" r="5.4"/><circle cx="197.5" cy="763.4" r="5.4"/><circle cx="240.6" cy="844.1" r="5.4"/><circle cx="215.9" cy="831.1" r="5.4"/><circle cx="226.8" cy="884.9" r="5.4"/><circle cx="234.7" cy="914" r="5.4"/><circle cx="225.4" cy="909.1" r="5.4"/><circle cx="231.8" cy="797.3" r="5.4"/><circle cx="219.4" cy="813.1" r="5.4"/><circle cx="198.6" cy="821.7" r="5.4"/><circle cx="195.8" cy="862.7" r="5.4"/><circle cx="248.9" cy="889.8" r="5.4"/><circle cx="184.2" cy="953.7" r="5.4"/><circle cx="229" cy="851.1" r="5.4"/><circle cx="241.4" cy="895.5" r="5.4"/><circle cx="198.7" cy="867.8" r="5.4"/><circle cx="186.7" cy="940.6" r="5.4"/><circle cx="209.8" cy="894.4" r="5.4"/><circle cx="205.2" cy="922.8" r="5.4"/><circle cx="213.9" cy="808.3" r="5.4"/><circle cx="211.6" cy="851.3" r="5.4"/><circle cx="245.5" cy="821.1" r="5.4"/><circle cx="191.4" cy="929" r="5.4"/><circle cx="245.6" cy="890.6" r="5.4"/><circle cx="186.5" cy="845.9" r="5.4"/><circle cx="245.2" cy="838.7" r="5.4"/><circle cx="205.4" cy="882.7" r="5.4"/><circle cx="231.3" cy="826.6" r="5.4"/><circle cx="183.7" cy="815.4" r="5.4"/><circle cx="212.9" cy="882.6" r="5.4"/><circle cx="228.1" cy="972.5" r="5.4"/><circle cx="224.8" cy="848.7" r="5.4"/><circle cx="236.6" cy="833.6" r="5.4"/><circle cx="193.6" cy="803.7" r="5.4"/><circle cx="209.9" cy="795.7" r="5.4"/><circle cx="223.9" cy="884.5" r="5.4"/><circle cx="185.4" cy="899.3" r="5.4"/><circle cx="238.5" cy="861.1" r="5.4"/><circle cx="210.9" cy="875.8" r="5.4"/><circle cx="199.7" cy="866" r="5.4"/><circle cx="198.1" cy="867" r="5.4"/><circle cx="226.3" cy="786.4" r="5.4"/><circle cx="186.7" cy="838.4" r="5.4"/><circle cx="199.6" cy="865.8" r="5.4"/><circle cx="203.5" cy="822.6" r="5.4"/><circle cx="200.5" cy="837.5" r="5.4"/><circle cx="231.6" cy="820.8" r="5.4"/><circle cx="222.5" cy="844.5" r="5.4"/><circle cx="243" cy="899.4" r="5.4"/><circle cx="229.6" cy="840.9" r="5.4"/><circle cx="202.9" cy="853.2" r="5.4"/><circle cx="204.8" cy="897.6" r="5.4"/><circle cx="191.6" cy="890" r="5.4"/><circle cx="199.5" cy="937.7" r="5.4"/><circle cx="223.3" cy="899.6" r="5.4"/><circle cx="231.6" cy="837.2" r="5.4"/><circle cx="203" cy="866.8" r="5.4"/><circle cx="206.2" cy="898.7" r="5.4"/><circle cx="236.3" cy="909.9" r="5.4"/><circle cx="246.6" cy="907.9" r="5.4"/><circle cx="189.1" cy="867.7" r="5.4"/><circle cx="188.2" cy="933.8" r="5.4"/><circle cx="233.5" cy="846.9" r="5.4"/><circle cx="216.1" cy="853.8" r="5.4"/><circle cx="211.5" cy="897" r="5.4"/><circle cx="225.2" cy="833.9" r="5.4"/><circle cx="233.5" cy="958.8" r="5.4"/><circle cx="188.1" cy="907" r="5.4"/><circle cx="246.8" cy="959.5" r="5.4"/><circle cx="242" cy="703" r="5.4"/><circle cx="186" cy="763" r="5.4"/><circle cx="196" cy="766" r="5.4"/><circle cx="239" cy="766" r="5.4"/><circle cx="186" cy="996" r="5.4"/><circle cx="243" cy="996" r="5.4"/><circle cx="186" cy="1017" r="5.4"/><circle cx="244" cy="1019" r="5.4"/></g>
<g fill="#4d8b8b" fill-opacity="0.21"><circle cx="309.7" cy="905.1" r="5.4"/><circle cx="295.1" cy="903.1" r="5.4"/><circle cx="319.5" cy="1009.9" r="5.4"/><circle cx="328" cy="853.5" r="5.4"/><circle cx="307" cy="828.8" r="5.4"/><circle cx="339.5" cy="912.8" r="5.4"/><circle cx="291.3" cy="850.9" r="5.4"/><circle cx="288.4" cy="885.5" r="5.4"/><circle cx="331.1" cy="875.9" r="5.4"/><circle cx="321.7" cy="939.2" r="5.4"/><circle cx="334.1" cy="839.8" r="5.4"/><circle cx="346.1" cy="863.9" r="5.4"/><circle cx="318.2" cy="761.5" r="5.4"/><circle cx="338.4" cy="829.9" r="5.4"/><circle cx="327.2" cy="961.7" r="5.4"/><circle cx="318.4" cy="838.8" r="5.4"/><circle cx="317.7" cy="837.9" r="5.4"/><circle cx="349.9" cy="815.9" r="5.4"/><circle cx="307.4" cy="903.2" r="5.4"/><circle cx="312.5" cy="878.7" r="5.4"/><circle cx="315.8" cy="817.3" r="5.4"/><circle cx="326.7" cy="908.6" r="5.4"/><circle cx="288.6" cy="883.7" r="5.4"/><circle cx="327.5" cy="913.9" r="5.4"/><circle cx="287.1" cy="840.5" r="5.4"/><circle cx="309.6" cy="974" r="5.4"/><circle cx="313.7" cy="892.9" r="5.4"/><circle cx="321.8" cy="862.8" r="5.4"/><circle cx="322.2" cy="845.7" r="5.4"/><circle cx="324.3" cy="857.4" r="5.4"/><circle cx="286.2" cy="920.3" r="5.4"/><circle cx="306.2" cy="856.3" r="5.4"/><circle cx="333.2" cy="933.7" r="5.4"/><circle cx="312.1" cy="903.3" r="5.4"/><circle cx="339" cy="950.1" r="5.4"/><circle cx="320.4" cy="917.6" r="5.4"/><circle cx="322.1" cy="865.1" r="5.4"/><circle cx="329.1" cy="786.5" r="5.4"/><circle cx="349.3" cy="886.1" r="5.4"/><circle cx="284.9" cy="916" r="5.4"/><circle cx="292.4" cy="877.8" r="5.4"/><circle cx="290.4" cy="901.8" r="5.4"/><circle cx="298.2" cy="847.7" r="5.4"/><circle cx="286" cy="851.6" r="5.4"/><circle cx="349.6" cy="827.7" r="5.4"/><circle cx="294.5" cy="951" r="5.4"/><circle cx="315.8" cy="877.5" r="5.4"/><circle cx="342.6" cy="846.8" r="5.4"/><circle cx="315.8" cy="811.1" r="5.4"/><circle cx="300.8" cy="861.3" r="5.4"/><circle cx="303.8" cy="956" r="5.4"/><circle cx="312.4" cy="896" r="5.4"/><circle cx="304.8" cy="836.9" r="5.4"/><circle cx="315.6" cy="955.2" r="5.4"/><circle cx="311.8" cy="955.1" r="5.4"/><circle cx="290" cy="927.8" r="5.4"/><circle cx="342.1" cy="916" r="5.4"/><circle cx="348.4" cy="938.4" r="5.4"/><circle cx="321.6" cy="901" r="5.4"/><circle cx="290.8" cy="915.2" r="5.4"/><circle cx="344.4" cy="834.6" r="5.4"/><circle cx="308.5" cy="959.5" r="5.4"/><circle cx="309.7" cy="881.9" r="5.4"/><circle cx="301.4" cy="991.5" r="5.4"/><circle cx="345.7" cy="780.8" r="5.4"/><circle cx="330.1" cy="910.9" r="5.4"/><circle cx="304.4" cy="927.8" r="5.4"/><circle cx="308.9" cy="853.2" r="5.4"/><circle cx="312.4" cy="895.5" r="5.4"/><circle cx="309.6" cy="913.5" r="5.4"/><circle cx="328.8" cy="903.1" r="5.4"/><circle cx="347.1" cy="844.8" r="5.4"/><circle cx="287.4" cy="861.8" r="5.4"/><circle cx="340.4" cy="930.1" r="5.4"/><circle cx="340.5" cy="945.9" r="5.4"/><circle cx="299" cy="873.9" r="5.4"/><circle cx="349" cy="872.5" r="5.4"/><circle cx="342.2" cy="880.1" r="5.4"/><circle cx="332.1" cy="931.2" r="5.4"/><circle cx="291.6" cy="822.9" r="5.4"/><circle cx="314" cy="811.2" r="5.4"/><circle cx="334.4" cy="875.4" r="5.4"/><circle cx="321.1" cy="820.7" r="5.4"/><circle cx="288.5" cy="842.8" r="5.4"/><circle cx="334.9" cy="873.1" r="5.4"/><circle cx="311.6" cy="897.3" r="5.4"/><circle cx="299.1" cy="822.1" r="5.4"/><circle cx="307.5" cy="916.8" r="5.4"/><circle cx="291.4" cy="792.3" r="5.4"/><circle cx="308.4" cy="901.1" r="5.4"/><circle cx="285.6" cy="800.6" r="5.4"/><circle cx="350.3" cy="813.5" r="5.4"/><circle cx="293.6" cy="907.1" r="5.4"/><circle cx="306.9" cy="850.5" r="5.4"/><circle cx="304.4" cy="833.9" r="5.4"/><circle cx="314.8" cy="848.9" r="5.4"/><circle cx="306.9" cy="896.2" r="5.4"/><circle cx="343" cy="865.5" r="5.4"/><circle cx="296.9" cy="866.5" r="5.4"/><circle cx="350.2" cy="932.3" r="5.4"/><circle cx="310.4" cy="837.3" r="5.4"/><circle cx="349.3" cy="847.7" r="5.4"/><circle cx="306.6" cy="845.6" r="5.4"/><circle cx="289.9" cy="939.3" r="5.4"/><circle cx="339.4" cy="928.4" r="5.4"/><circle cx="295" cy="946.5" r="5.4"/><circle cx="333.5" cy="866.4" r="5.4"/><circle cx="342.5" cy="861.1" r="5.4"/><circle cx="298.9" cy="919.9" r="5.4"/><circle cx="305.5" cy="851" r="5.4"/><circle cx="321.7" cy="918.6" r="5.4"/><circle cx="341.8" cy="912.1" r="5.4"/><circle cx="340.9" cy="838.1" r="5.4"/><circle cx="316.6" cy="864.3" r="5.4"/><circle cx="321.9" cy="862.7" r="5.4"/><circle cx="337.5" cy="973.8" r="5.4"/><circle cx="294.8" cy="863.5" r="5.4"/><circle cx="345.9" cy="868.7" r="5.4"/><circle cx="341.4" cy="770.6" r="5.4"/><circle cx="300" cy="880.7" r="5.4"/><circle cx="326" cy="867.5" r="5.4"/><circle cx="332.8" cy="822.1" r="5.4"/><circle cx="327.2" cy="915.8" r="5.4"/><circle cx="289.4" cy="801.1" r="5.4"/><circle cx="288.7" cy="858.7" r="5.4"/><circle cx="299.3" cy="876.3" r="5.4"/><circle cx="291.5" cy="814.6" r="5.4"/><circle cx="316.5" cy="920.2" r="5.4"/><circle cx="333.1" cy="932.3" r="5.4"/><circle cx="322.5" cy="808.8" r="5.4"/><circle cx="344.2" cy="807.9" r="5.4"/><circle cx="316.9" cy="904.6" r="5.4"/><circle cx="314.2" cy="866.5" r="5.4"/><circle cx="293" cy="816.2" r="5.4"/><circle cx="347.3" cy="855.2" r="5.4"/><circle cx="328.8" cy="863.2" r="5.4"/><circle cx="349.1" cy="861.7" r="5.4"/><circle cx="346.1" cy="918.4" r="5.4"/><circle cx="290.2" cy="891.3" r="5.4"/><circle cx="324.3" cy="976" r="5.4"/><circle cx="316.7" cy="951.8" r="5.4"/><circle cx="334.2" cy="909.3" r="5.4"/><circle cx="287.5" cy="933.6" r="5.4"/><circle cx="328" cy="948.7" r="5.4"/><circle cx="324.8" cy="911" r="5.4"/><circle cx="309.2" cy="815.6" r="5.4"/><circle cx="292.9" cy="920.3" r="5.4"/><circle cx="329.7" cy="872.2" r="5.4"/><circle cx="287.8" cy="966.8" r="5.4"/><circle cx="306.8" cy="873.5" r="5.4"/><circle cx="286.4" cy="900" r="5.4"/><circle cx="304.8" cy="888" r="5.4"/><circle cx="301" cy="970.6" r="5.4"/><circle cx="325.3" cy="878.6" r="5.4"/><circle cx="329.6" cy="856.3" r="5.4"/><circle cx="331.2" cy="886.7" r="5.4"/><circle cx="311.6" cy="849.1" r="5.4"/><circle cx="334.2" cy="877.7" r="5.4"/><circle cx="328.1" cy="867.5" r="5.4"/><circle cx="319.8" cy="884.4" r="5.4"/><circle cx="335.9" cy="985.4" r="5.4"/><circle cx="348.5" cy="850.5" r="5.4"/><circle cx="316.2" cy="870.1" r="5.4"/><circle cx="347.9" cy="859.3" r="5.4"/><circle cx="325.6" cy="908.9" r="5.4"/><circle cx="310.1" cy="817.5" r="5.4"/><circle cx="316" cy="838.3" r="5.4"/><circle cx="327.7" cy="866.1" r="5.4"/><circle cx="305.3" cy="901.2" r="5.4"/><circle cx="345.3" cy="865.8" r="5.4"/><circle cx="310" cy="846.5" r="5.4"/><circle cx="325.7" cy="830.9" r="5.4"/><circle cx="341.2" cy="899.1" r="5.4"/><circle cx="339.2" cy="956" r="5.4"/><circle cx="328.9" cy="887.5" r="5.4"/><circle cx="331.6" cy="879.3" r="5.4"/><circle cx="334.4" cy="894.9" r="5.4"/><circle cx="323.2" cy="827.7" r="5.4"/><circle cx="313.1" cy="854.5" r="5.4"/><circle cx="343.7" cy="856.4" r="5.4"/><circle cx="295.2" cy="885.8" r="5.4"/><circle cx="293.1" cy="866.4" r="5.4"/><circle cx="305.2" cy="816" r="5.4"/><circle cx="300" cy="936.6" r="5.4"/><circle cx="348.7" cy="971.3" r="5.4"/><circle cx="319.5" cy="856.6" r="5.4"/><circle cx="342.8" cy="892.2" r="5.4"/><circle cx="320.9" cy="884.1" r="5.4"/><circle cx="298.9" cy="915.8" r="5.4"/><circle cx="342.2" cy="804.8" r="5.4"/><circle cx="342.6" cy="966.4" r="5.4"/><circle cx="292.7" cy="847.9" r="5.4"/><circle cx="335" cy="945.1" r="5.4"/><circle cx="322" cy="872.7" r="5.4"/><circle cx="296.4" cy="851.2" r="5.4"/><circle cx="306.8" cy="861.8" r="5.4"/><circle cx="332.9" cy="922.6" r="5.4"/><circle cx="296.9" cy="831" r="5.4"/><circle cx="324.6" cy="851.8" r="5.4"/><circle cx="319.7" cy="847.3" r="5.4"/><circle cx="319.5" cy="794.8" r="5.4"/><circle cx="296.6" cy="947.3" r="5.4"/><circle cx="338.9" cy="903.2" r="5.4"/><circle cx="320.2" cy="866.9" r="5.4"/><circle cx="330" cy="938.9" r="5.4"/><circle cx="325.9" cy="827.1" r="5.4"/><circle cx="305.7" cy="864.7" r="5.4"/><circle cx="333.1" cy="973.3" r="5.4"/><circle cx="310.7" cy="927.7" r="5.4"/><circle cx="345.3" cy="773" r="5.4"/><circle cx="314.7" cy="823.6" r="5.4"/><circle cx="297.4" cy="932.7" r="5.4"/><circle cx="315.2" cy="847.7" r="5.4"/><circle cx="310.5" cy="858.5" r="5.4"/><circle cx="347.2" cy="905" r="5.4"/><circle cx="304.9" cy="830.1" r="5.4"/><circle cx="343.1" cy="880.8" r="5.4"/><circle cx="286.3" cy="916.2" r="5.4"/><circle cx="293.4" cy="896.3" r="5.4"/><circle cx="304" cy="892" r="5.4"/><circle cx="333.4" cy="842.2" r="5.4"/><circle cx="324.2" cy="899.2" r="5.4"/><circle cx="312" cy="849.6" r="5.4"/><circle cx="311.8" cy="947.6" r="5.4"/><circle cx="340" cy="836.3" r="5.4"/><circle cx="298.9" cy="775.2" r="5.4"/><circle cx="336.4" cy="849.7" r="5.4"/><circle cx="309.2" cy="890.8" r="5.4"/><circle cx="330.2" cy="932" r="5.4"/><circle cx="338.3" cy="933.8" r="5.4"/><circle cx="312.9" cy="834.4" r="5.4"/><circle cx="297.4" cy="834" r="5.4"/><circle cx="300.4" cy="945.3" r="5.4"/><circle cx="300.8" cy="821.3" r="5.4"/><circle cx="290.9" cy="934.4" r="5.4"/><circle cx="312.7" cy="858.1" r="5.4"/><circle cx="327" cy="914.6" r="5.4"/><circle cx="310.1" cy="911" r="5.4"/><circle cx="347.5" cy="915.3" r="5.4"/><circle cx="346.4" cy="918" r="5.4"/><circle cx="335.7" cy="825.7" r="5.4"/><circle cx="336.8" cy="886" r="5.4"/><circle cx="305.2" cy="868.7" r="5.4"/><circle cx="334.5" cy="886.7" r="5.4"/><circle cx="288.1" cy="943.2" r="5.4"/><circle cx="285.9" cy="856.3" r="5.4"/><circle cx="289.1" cy="837.5" r="5.4"/><circle cx="305.5" cy="836.8" r="5.4"/><circle cx="332.4" cy="854.6" r="5.4"/><circle cx="286.7" cy="913.8" r="5.4"/><circle cx="309.8" cy="833.1" r="5.4"/><circle cx="323.8" cy="938.7" r="5.4"/><circle cx="340.3" cy="885.6" r="5.4"/><circle cx="321.7" cy="858.2" r="5.4"/><circle cx="300.8" cy="811.1" r="5.4"/><circle cx="290.3" cy="882.8" r="5.4"/><circle cx="317.9" cy="910.1" r="5.4"/><circle cx="337.7" cy="792.6" r="5.4"/><circle cx="339.3" cy="940.7" r="5.4"/><circle cx="325.4" cy="968.5" r="5.4"/><circle cx="296.4" cy="888.5" r="5.4"/><circle cx="289.5" cy="897.9" r="5.4"/><circle cx="287.8" cy="943.1" r="5.4"/><circle cx="302.4" cy="829.6" r="5.4"/><circle cx="319.7" cy="867.1" r="5.4"/><circle cx="294.4" cy="861.1" r="5.4"/><circle cx="325.4" cy="861.4" r="5.4"/><circle cx="305.3" cy="767.1" r="5.4"/><circle cx="336.6" cy="914.1" r="5.4"/><circle cx="319.5" cy="840.7" r="5.4"/><circle cx="335.1" cy="877.8" r="5.4"/><circle cx="301.5" cy="862" r="5.4"/><circle cx="322.1" cy="921" r="5.4"/><circle cx="342.9" cy="855.2" r="5.4"/><circle cx="285.7" cy="833.9" r="5.4"/><circle cx="346" cy="900.3" r="5.4"/><circle cx="323.5" cy="953.7" r="5.4"/><circle cx="350.2" cy="854.2" r="5.4"/><circle cx="303.3" cy="951.5" r="5.4"/><circle cx="316.8" cy="883.8" r="5.4"/><circle cx="329.6" cy="845.1" r="5.4"/><circle cx="323.7" cy="961" r="5.4"/><circle cx="325.5" cy="832.9" r="5.4"/><circle cx="341.5" cy="929.8" r="5.4"/><circle cx="295.3" cy="846.6" r="5.4"/><circle cx="331.8" cy="895.3" r="5.4"/><circle cx="313.9" cy="815.2" r="5.4"/><circle cx="344.6" cy="832.1" r="5.4"/><circle cx="347" cy="932.9" r="5.4"/><circle cx="313.8" cy="879.3" r="5.4"/><circle cx="308.1" cy="870.1" r="5.4"/><circle cx="343.9" cy="849.1" r="5.4"/><circle cx="346.5" cy="895.1" r="5.4"/><circle cx="335.5" cy="808.3" r="5.4"/><circle cx="344.1" cy="820.1" r="5.4"/><circle cx="347" cy="861.1" r="5.4"/><circle cx="316.5" cy="832.3" r="5.4"/><circle cx="308.3" cy="838" r="5.4"/><circle cx="288.4" cy="864.8" r="5.4"/><circle cx="313.5" cy="861.9" r="5.4"/><circle cx="298.9" cy="858.3" r="5.4"/><circle cx="332.3" cy="969.6" r="5.4"/><circle cx="324.8" cy="929.6" r="5.4"/><circle cx="346.2" cy="943" r="5.4"/><circle cx="329.9" cy="866.6" r="5.4"/><circle cx="301.1" cy="846.3" r="5.4"/><circle cx="309.2" cy="805.9" r="5.4"/><circle cx="317.5" cy="853" r="5.4"/><circle cx="319.9" cy="779" r="5.4"/><circle cx="346.5" cy="842.9" r="5.4"/><circle cx="326.2" cy="914.5" r="5.4"/><circle cx="306" cy="966.9" r="5.4"/><circle cx="302.7" cy="926.8" r="5.4"/><circle cx="322.5" cy="831.1" r="5.4"/><circle cx="290.2" cy="897.9" r="5.4"/><circle cx="314.8" cy="834.2" r="5.4"/><circle cx="343.6" cy="918.1" r="5.4"/><circle cx="345" cy="863.1" r="5.4"/><circle cx="321.5" cy="920.3" r="5.4"/><circle cx="320.5" cy="924.2" r="5.4"/><circle cx="306.4" cy="1010.4" r="5.4"/><circle cx="323.3" cy="878.6" r="5.4"/><circle cx="314.7" cy="853.8" r="5.4"/><circle cx="327.3" cy="949.3" r="5.4"/><circle cx="347.3" cy="973.2" r="5.4"/><circle cx="334.3" cy="844.2" r="5.4"/><circle cx="293.7" cy="872.5" r="5.4"/><circle cx="295.9" cy="806.7" r="5.4"/><circle cx="330" cy="859.3" r="5.4"/><circle cx="348.7" cy="922.1" r="5.4"/><circle cx="324" cy="864.1" r="5.4"/><circle cx="339.7" cy="843.6" r="5.4"/><circle cx="302.9" cy="807.9" r="5.4"/><circle cx="300.6" cy="890.3" r="5.4"/><circle cx="349.3" cy="916.6" r="5.4"/><circle cx="342.3" cy="904.3" r="5.4"/><circle cx="314.2" cy="883.4" r="5.4"/><circle cx="338.3" cy="813.5" r="5.4"/><circle cx="326.9" cy="975.5" r="5.4"/><circle cx="336" cy="865.4" r="5.4"/><circle cx="323.3" cy="861.6" r="5.4"/><circle cx="329.5" cy="912.6" r="5.4"/><circle cx="346.6" cy="775.7" r="5.4"/><circle cx="312.9" cy="865.1" r="5.4"/><circle cx="333.1" cy="862" r="5.4"/><circle cx="347.8" cy="890.6" r="5.4"/><circle cx="287.3" cy="950.1" r="5.4"/><circle cx="301.2" cy="896.7" r="5.4"/><circle cx="308.2" cy="789.8" r="5.4"/><circle cx="322.4" cy="853.4" r="5.4"/><circle cx="314.6" cy="880.4" r="5.4"/><circle cx="346.6" cy="876.8" r="5.4"/><circle cx="297.2" cy="813.2" r="5.4"/><circle cx="304.7" cy="797" r="5.4"/><circle cx="289.7" cy="901.4" r="5.4"/><circle cx="296.3" cy="888.8" r="5.4"/><circle cx="323.8" cy="866.9" r="5.4"/><circle cx="288" cy="794.3" r="5.4"/><circle cx="346.5" cy="976.2" r="5.4"/><circle cx="334.6" cy="852.3" r="5.4"/><circle cx="290.2" cy="995.6" r="5.4"/><circle cx="336.5" cy="861.1" r="5.4"/><circle cx="292.7" cy="882" r="5.4"/><circle cx="318.6" cy="817.6" r="5.4"/><circle cx="298.7" cy="950.9" r="5.4"/><circle cx="296" cy="812.8" r="5.4"/><circle cx="319.7" cy="883.4" r="5.4"/><circle cx="342.8" cy="876" r="5.4"/><circle cx="290.1" cy="823.1" r="5.4"/><circle cx="298.3" cy="922" r="5.4"/><circle cx="316.5" cy="807.5" r="5.4"/><circle cx="347.5" cy="838.7" r="5.4"/><circle cx="308.5" cy="866.6" r="5.4"/><circle cx="341.8" cy="850.2" r="5.4"/><circle cx="320.2" cy="896.4" r="5.4"/><circle cx="314.3" cy="924.3" r="5.4"/><circle cx="334.8" cy="855.3" r="5.4"/><circle cx="297.5" cy="844.7" r="5.4"/><circle cx="319.3" cy="845.8" r="5.4"/><circle cx="286.8" cy="852.2" r="5.4"/><circle cx="319.1" cy="917.3" r="5.4"/><circle cx="350.1" cy="858.5" r="5.4"/><circle cx="289.3" cy="892.7" r="5.4"/><circle cx="291.1" cy="863.9" r="5.4"/><circle cx="322.3" cy="831.8" r="5.4"/><circle cx="345.9" cy="920.6" r="5.4"/><circle cx="321.2" cy="823.6" r="5.4"/><circle cx="347.9" cy="868.2" r="5.4"/><circle cx="305.6" cy="958.7" r="5.4"/><circle cx="349.8" cy="821.3" r="5.4"/><circle cx="298.6" cy="865.4" r="5.4"/><circle cx="335.5" cy="800.3" r="5.4"/><circle cx="306.7" cy="846.1" r="5.4"/><circle cx="339.5" cy="804.2" r="5.4"/><circle cx="286.9" cy="852.4" r="5.4"/><circle cx="305.1" cy="844.9" r="5.4"/><circle cx="345.4" cy="875.9" r="5.4"/><circle cx="335.5" cy="964.6" r="5.4"/><circle cx="316.5" cy="885.1" r="5.4"/><circle cx="309.5" cy="908" r="5.4"/><circle cx="346.7" cy="865.6" r="5.4"/><circle cx="297.4" cy="857.4" r="5.4"/><circle cx="297.2" cy="832.3" r="5.4"/><circle cx="288.6" cy="791.1" r="5.4"/><circle cx="328.7" cy="872" r="5.4"/><circle cx="344.8" cy="967.4" r="5.4"/><circle cx="293.1" cy="896.9" r="5.4"/><circle cx="334.8" cy="845.1" r="5.4"/><circle cx="335" cy="968.6" r="5.4"/><circle cx="298" cy="849.4" r="5.4"/><circle cx="318.9" cy="841.4" r="5.4"/><circle cx="322.3" cy="816.2" r="5.4"/><circle cx="288.3" cy="826.8" r="5.4"/><circle cx="346.8" cy="857.3" r="5.4"/><circle cx="293.3" cy="990" r="5.4"/><circle cx="294.4" cy="859" r="5.4"/><circle cx="330.9" cy="823.9" r="5.4"/><circle cx="317.5" cy="842" r="5.4"/><circle cx="336.3" cy="858.3" r="5.4"/><circle cx="327" cy="794.9" r="5.4"/><circle cx="327" cy="1160" r="5.4"/><circle cx="340" cy="1064" r="5.4"/><circle cx="300" cy="1048" r="5.4"/><circle cx="306" cy="1042" r="5.4"/><circle cx="337" cy="1034" r="5.4"/><circle cx="340" cy="1030" r="5.4"/><circle cx="296" cy="1015" r="5.4"/><circle cx="315" cy="1010" r="5.4"/></g>
<g stroke="#8b7c6c" fill="none">
<line x1="216.4" y1="763.4" x2="216.4" y2="827.9" stroke="#8b7c6c" stroke-width="2.5"/>
<line x1="216.4" y1="891.3" x2="216.4" y2="973.3" stroke="#8b7c6c" stroke-width="2.5"/>
<rect x="178.2" y="827.9" width="76.5" height="63.4" fill="none" stroke="#8b7c6c" stroke-width="2.5"/>
<line x1="178.2" y1="860.7" x2="254.7" y2="860.7" stroke="#8b7c6c" stroke-width="4.6"/>
</g>
<g stroke="#4d8b8b" fill="none">
<line x1="317.5" y1="761.5" x2="317.5" y2="839.1" stroke="#4d8b8b" stroke-width="2.5"/>
<line x1="317.5" y1="909" x2="317.5" y2="1009.9" stroke="#4d8b8b" stroke-width="2.5"/>
<rect x="279.2" y="839.1" width="76.5" height="69.9" fill="none" stroke="#4d8b8b" stroke-width="2.5"/>
<line x1="279.2" y1="867.8" x2="355.8" y2="867.8" stroke="#4d8b8b" stroke-width="4.6"/>
</g>
<line x1="156" y1="663.7" x2="156" y2="1184.9" stroke="#000" stroke-width="1.6"/>
<line x1="150.5" y1="1166.2" x2="156" y2="1166.2" stroke="#000" stroke-width="1.2"/>
<text x="149" y="1175.6" font-size="26" text-anchor="end">5</text>
<line x1="150.5" y1="1043.1" x2="156" y2="1043.1" stroke="#000" stroke-width="1.2"/>
<text x="149" y="1052.5" font-size="26" text-anchor="end">7</text>
<line x1="150.5" y1="920" x2="156" y2="920" stroke="#000" stroke-width="1.2"/>
<text x="149" y="929.4" font-size="26" text-anchor="end">9</text>
<line x1="150.5" y1="796.9" x2="156" y2="796.9" stroke="#000" stroke-width="1.2"/>
<text x="149" y="806.3" font-size="26" text-anchor="end">11</text>
<line x1="150.5" y1="673.8" x2="156" y2="673.8" stroke="#000" stroke-width="1.2"/>
<text x="149" y="683.2" font-size="26" text-anchor="end">13</text>
<line x1="155.2" y1="1184.1" x2="377.6" y2="1184.1" stroke="#000" stroke-width="1.6"/>
<line x1="216.4" y1="1184.1" x2="216.4" y2="1189.6" stroke="#000" stroke-width="1.2"/>
<text x="216.4" y="1218.1" font-size="26" text-anchor="middle">C</text>
<line x1="317.5" y1="1184.1" x2="317.5" y2="1189.6" stroke="#000" stroke-width="1.2"/>
<text x="317.5" y="1218.1" font-size="26" text-anchor="middle">PD</text>
<text x="265" y="681.3" font-size="23.2" text-anchor="middle">0.019</text>
<line x1="216.4" y1="686.9" x2="317.5" y2="686.9" stroke="#1a1a1a" stroke-width="1.4"/>
<g stroke="#7db9e5" fill="none">
<line x1="484" y1="842.8" x2="484" y2="924.8" stroke="#7db9e5" stroke-width="2.1"/>
<line x1="484" y1="1008.7" x2="484" y2="1131.9" stroke="#7db9e5" stroke-width="2.1"/>
<rect x="464.6" y="924.8" width="38.8" height="83.9" fill="none" stroke="#7db9e5" stroke-width="2.1"/>
<line x1="464.6" y1="971.4" x2="503.4" y2="971.4" stroke="#7db9e5" stroke-width="2.1"/>
</g>
<path transform="scale(.5)" d="M963 1875h0m36-142h0m0 58h0m-47 46h0m30 46h0m7 75h0m2 90h0m4-40h0m-11 256h0m-44-176h0m15-165h0m-7 207h0m29-52h0m-6-192h0m28 96h0m-48 87h0m-7-94h0m-7 85h0m11-68h0m46 34h0m-19-121h0m-23 85h0m21-91h0m5 124h0m-21-337h0m-20 299h0m44 101h0m-8-74h0m-32-67h0m27 63h0m-23-176h0m17 2h0m21 66h0m-8 29h0m-18 126h0m28-229h0m-3-336h0m-42 834h0" stroke="#7db9e5" stroke-width="20.4" stroke-linecap="round" fill="none"/>
<g stroke="#8150a1" fill="none">
<line x1="534.3" y1="897.9" x2="534.3" y2="990" stroke="#8150a1" stroke-width="2.1"/>
<line x1="534.3" y1="1073.3" x2="534.3" y2="1137.5" stroke="#8150a1" stroke-width="2.1"/>
<rect x="514.9" y="990" width="38.8" height="83.3" fill="none" stroke="#8150a1" stroke-width="2.1"/>
<line x1="514.9" y1="1051.6" x2="553.7" y2="1051.6" stroke="#8150a1" stroke-width="2.1"/>
</g>
<path transform="scale(.5)" d="M1066 2105h0m-26 27h0m50-131h0m1 79h0m6-218h0m-8 325h0m-25-247h0m-3 40h0m18 216h0m-15-22h0m35-160h0m-33 0h0m0 82h0m34-160h0m-47 205h0m4-26h0m-16-1h0m55 40h0m-26-2h0m-5 72h0m29-21h0m1-407h0m-45 368h0m-6-258h0m49-57h0m5 302h0m-27-169h0m12 70h0m-46 123h0m31-186h0m-27-42h0m4 180h0m-5 57h0m31-44h0m2-314h0m-9 165h0m19 91h0m-42 193h0m7-601h0m44 120h0m0 40h0" stroke="#8150a1" stroke-width="20.4" stroke-linecap="round" fill="none"/>
<g stroke="#ebaa1f" fill="none">
<line x1="606.3" y1="839.9" x2="606.3" y2="899.4" stroke="#ebaa1f" stroke-width="2.1"/>
<line x1="606.3" y1="980" x2="606.3" y2="1065.8" stroke="#ebaa1f" stroke-width="2.1"/>
<rect x="586.9" y="899.4" width="38.8" height="80.6" fill="none" stroke="#ebaa1f" stroke-width="2.1"/>
<line x1="586.9" y1="938.6" x2="625.7" y2="938.6" stroke="#ebaa1f" stroke-width="2.1"/>
</g>
<path transform="scale(.5)" d="M1219 1955h0m-37-125h0m4 30h0m10 82h0m-10-213h0m10 172h0m-9 41h0m12 190h0m9-258h0m8-17h0m16 39h0m-33-103h0m6 61h0m32 74h0m-56-15h0m32-157h0m-25 84h0m-7 136h0m57-161h0m-15 91h0m-13-157h0m23 118h0m9 64h0m-24 66h0m-8-317h0m-30 299h0m62-122h0m-11-71h0m-44 148h0m22-93h0m-13 0h0m46-47h0m-42 109h0m-11-23h0m50-25h0m-39-91h0m36-206h0m-16 676h0m-32-102h0m2-56h0" stroke="#ebaa1f" stroke-width="20.4" stroke-linecap="round" fill="none"/>
<g stroke="#8c2a1d" fill="none">
<line x1="656.7" y1="858.5" x2="656.7" y2="976.3" stroke="#8c2a1d" stroke-width="2.1"/>
<line x1="656.7" y1="1087.8" x2="656.7" y2="1152.4" stroke="#8c2a1d" stroke-width="2.1"/>
<rect x="637.3" y="976.3" width="38.8" height="111.5" fill="none" stroke="#8c2a1d" stroke-width="2.1"/>
<line x1="637.3" y1="1028.5" x2="676.1" y2="1028.5" stroke="#8c2a1d" stroke-width="2.1"/>
</g>
<path transform="scale(.5)" d="M1284 2048h0m20-96h0m13 59h0m-13 49h0m15 50h0m-12-71h0m19 58h0m16 33h0m-60-77h0m39-23h0m13-97h0m-52-10h0m29 202h0m22 60h0m-8 31h0m-19-153h0m-3-136h0m-20 237h0m30-2h0m21-340h0m1 373h0m-8-39h0m-14-276h0m-16-24h0m2 336h0m-7-415h0m10 164h0m-21-55h0m29 12h0m22-181h0m-30 301h0m35 207h0m-20-93h0m15 1h0m14-133h0m-58 305h0m-2-77h0" stroke="#8c2a1d" stroke-width="20.4" stroke-linecap="round" fill="none"/>
<line x1="454.1" y1="701.8" x2="454.1" y2="1184.9" stroke="#000" stroke-width="1.6"/>
<line x1="448.6" y1="1129" x2="454.1" y2="1129" stroke="#000" stroke-width="1.2"/>
<text x="447.1" y="1138.4" font-size="26" text-anchor="end">5</text>
<line x1="448.6" y1="998.4" x2="454.1" y2="998.4" stroke="#000" stroke-width="1.2"/>
<text x="447.1" y="1007.8" font-size="26" text-anchor="end">6</text>
<line x1="448.6" y1="867.8" x2="454.1" y2="867.8" stroke="#000" stroke-width="1.2"/>
<text x="447.1" y="877.2" font-size="26" text-anchor="end">7</text>
<line x1="448.6" y1="737.2" x2="454.1" y2="737.2" stroke="#000" stroke-width="1.2"/>
<text x="447.1" y="746.6" font-size="26" text-anchor="end">8</text>
<line x1="453.3" y1="1184.1" x2="563.4" y2="1184.1" stroke="#000" stroke-width="1.6"/>
<line x1="576.4" y1="1184.1" x2="686.6" y2="1184.1" stroke="#000" stroke-width="1.6"/>
<line x1="484" y1="1184.1" x2="484" y2="1189.6" stroke="#000" stroke-width="1.2"/>
<text x="484" y="1218.1" font-size="26" text-anchor="middle">C</text>
<line x1="534.3" y1="1184.1" x2="534.3" y2="1189.6" stroke="#000" stroke-width="1.2"/>
<text x="534.3" y="1218.1" font-size="26" text-anchor="middle">PD</text>
<line x1="606.3" y1="1184.1" x2="606.3" y2="1189.6" stroke="#000" stroke-width="1.2"/>
<text x="606.3" y="1218.1" font-size="26" text-anchor="middle">C</text>
<line x1="656.7" y1="1184.1" x2="656.7" y2="1189.6" stroke="#000" stroke-width="1.2"/>
<text x="656.7" y="1218.1" font-size="26" text-anchor="middle">PD</text>
<rect x="455.1" y="663.7" width="108.3" height="37.3" fill="#fff" stroke="#000" stroke-width="2.0"/>
<text x="509.8" y="690.5" font-size="25.3" text-anchor="middle">Caudate</text>
<rect x="578.2" y="663.7" width="108.4" height="37.3" fill="#fff" stroke="#000" stroke-width="2.0"/>
<text x="632.9" y="690.5" font-size="25.3" text-anchor="middle">Putamen</text>
<text x="509.4" y="726" font-size="23.2" text-anchor="middle">0.0014</text>
<line x1="484" y1="731.6" x2="534.7" y2="731.6" stroke="#1a1a1a" stroke-width="1.4"/>
<text x="641.2" y="726" font-size="23.2" text-anchor="middle">8.9*10<tspan dy="-8.6" font-size="14.4">-6</tspan></text>
<line x1="606.3" y1="731.6" x2="657.5" y2="731.6" stroke="#1a1a1a" stroke-width="1.4"/>
<g fill="#8b7c6c" fill-opacity="0.22"><circle cx="823.9" cy="857.5" r="5.4"/><circle cx="805" cy="923.3" r="5.4"/><circle cx="859.4" cy="892.7" r="5.4"/><circle cx="794.9" cy="953" r="5.4"/><circle cx="810.7" cy="883.6" r="5.4"/><circle cx="834.4" cy="1019.9" r="5.4"/><circle cx="835.6" cy="880.7" r="5.4"/><circle cx="805" cy="917.7" r="5.4"/><circle cx="810.5" cy="838.3" r="5.4"/><circle cx="819.8" cy="896.9" r="5.4"/><circle cx="859.5" cy="890.4" r="5.4"/><circle cx="860.6" cy="900" r="5.4"/><circle cx="798.8" cy="948.6" r="5.4"/><circle cx="851" cy="847.7" r="5.4"/><circle cx="819.4" cy="824.1" r="5.4"/><circle cx="809.2" cy="962.4" r="5.4"/><circle cx="822.2" cy="867.1" r="5.4"/><circle cx="795.7" cy="837.8" r="5.4"/><circle cx="842.1" cy="965.5" r="5.4"/><circle cx="840.3" cy="940.6" r="5.4"/><circle cx="809.1" cy="860.2" r="5.4"/><circle cx="794.1" cy="941.2" r="5.4"/><circle cx="843.3" cy="944.5" r="5.4"/><circle cx="859.6" cy="850" r="5.4"/><circle cx="801" cy="993" r="5.4"/><circle cx="859.9" cy="828.7" r="5.4"/><circle cx="830.3" cy="871.7" r="5.4"/><circle cx="808.1" cy="897.8" r="5.4"/><circle cx="844.8" cy="888.9" r="5.4"/><circle cx="845" cy="942.9" r="5.4"/><circle cx="816.4" cy="957.2" r="5.4"/><circle cx="831.5" cy="886.2" r="5.4"/><circle cx="807" cy="982.3" r="5.4"/><circle cx="832.6" cy="837.3" r="5.4"/><circle cx="805.5" cy="873.4" r="5.4"/><circle cx="817" cy="1003.8" r="5.4"/><circle cx="846.7" cy="896.1" r="5.4"/><circle cx="846.9" cy="960.6" r="5.4"/><circle cx="837.9" cy="857" r="5.4"/><circle cx="854.7" cy="869.8" r="5.4"/><circle cx="845.7" cy="882" r="5.4"/><circle cx="833.5" cy="901.3" r="5.4"/><circle cx="838.2" cy="864.3" r="5.4"/><circle cx="801" cy="891.1" r="5.4"/><circle cx="794.9" cy="934.5" r="5.4"/><circle cx="808.8" cy="970.1" r="5.4"/><circle cx="844.5" cy="897.3" r="5.4"/><circle cx="860.1" cy="933.2" r="5.4"/><circle cx="807" cy="950.7" r="5.4"/><circle cx="859.6" cy="808.2" r="5.4"/><circle cx="848.7" cy="770.2" r="5.4"/><circle cx="803.2" cy="997.5" r="5.4"/><circle cx="829.1" cy="977.8" r="5.4"/><circle cx="810.1" cy="894" r="5.4"/><circle cx="843.6" cy="913.6" r="5.4"/><circle cx="816.5" cy="818.5" r="5.4"/><circle cx="819.2" cy="784.8" r="5.4"/><circle cx="831.3" cy="911.2" r="5.4"/><circle cx="812.4" cy="776.9" r="5.4"/><circle cx="846.7" cy="950.9" r="5.4"/><circle cx="834.1" cy="838.5" r="5.4"/><circle cx="795.6" cy="909.5" r="5.4"/><circle cx="831.1" cy="1018.7" r="5.4"/><circle cx="822.2" cy="1015.5" r="5.4"/><circle cx="856.3" cy="869.7" r="5.4"/><circle cx="857.9" cy="961" r="5.4"/><circle cx="796.1" cy="811.6" r="5.4"/><circle cx="845" cy="845.6" r="5.4"/><circle cx="834.7" cy="914.7" r="5.4"/><circle cx="826.6" cy="982.2" r="5.4"/><circle cx="799.7" cy="846.4" r="5.4"/><circle cx="853.8" cy="926" r="5.4"/><circle cx="836.4" cy="896.7" r="5.4"/><circle cx="835.5" cy="793.6" r="5.4"/><circle cx="858.4" cy="879.9" r="5.4"/><circle cx="800.1" cy="989.6" r="5.4"/><circle cx="818.6" cy="883.1" r="5.4"/><circle cx="794.3" cy="923.2" r="5.4"/><circle cx="811.4" cy="944.9" r="5.4"/><circle cx="861" cy="833.7" r="5.4"/><circle cx="818.3" cy="971.7" r="5.4"/><circle cx="849" cy="989.8" r="5.4"/><circle cx="851.6" cy="996" r="5.4"/><circle cx="829.3" cy="977.1" r="5.4"/><circle cx="849.4" cy="854.4" r="5.4"/><circle cx="806.7" cy="845.1" r="5.4"/><circle cx="797.2" cy="829.8" r="5.4"/><circle cx="806.1" cy="820.4" r="5.4"/><circle cx="798.6" cy="829" r="5.4"/><circle cx="798.7" cy="955.6" r="5.4"/><circle cx="795.2" cy="986.9" r="5.4"/><circle cx="796.9" cy="840.7" r="5.4"/><circle cx="799.6" cy="943.5" r="5.4"/><circle cx="829.8" cy="792.8" r="5.4"/><circle cx="812.8" cy="864.7" r="5.4"/><circle cx="860.5" cy="813.3" r="5.4"/><circle cx="835.4" cy="764.8" r="5.4"/><circle cx="856.7" cy="892.9" r="5.4"/><circle cx="842.6" cy="894.4" r="5.4"/><circle cx="854" cy="858.1" r="5.4"/><circle cx="857.2" cy="849.2" r="5.4"/><circle cx="818.8" cy="813.7" r="5.4"/><circle cx="808.1" cy="879" r="5.4"/><circle cx="797.5" cy="843.1" r="5.4"/><circle cx="858.6" cy="905" r="5.4"/><circle cx="808.5" cy="796.6" r="5.4"/><circle cx="859.8" cy="904" r="5.4"/><circle cx="842.2" cy="922.9" r="5.4"/><circle cx="848.2" cy="971.6" r="5.4"/><circle cx="794.4" cy="958.8" r="5.4"/><circle cx="855" cy="901.4" r="5.4"/><circle cx="797.6" cy="836.4" r="5.4"/><circle cx="847.9" cy="748.4" r="5.4"/><circle cx="794.3" cy="888.2" r="5.4"/><circle cx="857.6" cy="982.9" r="5.4"/><circle cx="795.9" cy="999.2" r="5.4"/><circle cx="803" cy="830.6" r="5.4"/><circle cx="823.2" cy="861.7" r="5.4"/><circle cx="804" cy="808.7" r="5.4"/><circle cx="799.6" cy="900.9" r="5.4"/><circle cx="817.1" cy="891.1" r="5.4"/><circle cx="795.9" cy="848.9" r="5.4"/><circle cx="832" cy="885.8" r="5.4"/><circle cx="842.9" cy="766.3" r="5.4"/><circle cx="826.4" cy="813.9" r="5.4"/><circle cx="831.1" cy="819.7" r="5.4"/><circle cx="809" cy="948.3" r="5.4"/><circle cx="824.4" cy="763.6" r="5.4"/><circle cx="835.2" cy="872.1" r="5.4"/><circle cx="856.5" cy="940.3" r="5.4"/><circle cx="828" cy="884.3" r="5.4"/><circle cx="859.9" cy="942.5" r="5.4"/><circle cx="819.5" cy="838.3" r="5.4"/><circle cx="833.8" cy="917.5" r="5.4"/><circle cx="842.4" cy="948.7" r="5.4"/><circle cx="799.1" cy="1037.4" r="5.4"/><circle cx="849.5" cy="937" r="5.4"/><circle cx="849.4" cy="983.8" r="5.4"/><circle cx="800" cy="889.3" r="5.4"/><circle cx="837.4" cy="895.2" r="5.4"/><circle cx="820.5" cy="993.3" r="5.4"/><circle cx="804.4" cy="927.6" r="5.4"/><circle cx="806.9" cy="983.4" r="5.4"/><circle cx="801.5" cy="936.1" r="5.4"/><circle cx="856.2" cy="1030.4" r="5.4"/><circle cx="848.9" cy="1073.3" r="5.4"/><circle cx="842.9" cy="824.8" r="5.4"/><circle cx="804.5" cy="1013.1" r="5.4"/><circle cx="842.7" cy="918.1" r="5.4"/><circle cx="810.4" cy="921" r="5.4"/><circle cx="827.2" cy="880.5" r="5.4"/><circle cx="793.4" cy="937.2" r="5.4"/><circle cx="855.1" cy="804.1" r="5.4"/><circle cx="815.8" cy="833.7" r="5.4"/><circle cx="839.9" cy="830.9" r="5.4"/><circle cx="800.1" cy="908.8" r="5.4"/><circle cx="805.5" cy="951.1" r="5.4"/><circle cx="844.4" cy="938.8" r="5.4"/><circle cx="840.5" cy="914.3" r="5.4"/><circle cx="833.9" cy="844.5" r="5.4"/><circle cx="819" cy="754.8" r="5.4"/><circle cx="835.9" cy="916.8" r="5.4"/><circle cx="854.7" cy="899.6" r="5.4"/><circle cx="848.9" cy="913.7" r="5.4"/><circle cx="846.6" cy="985.2" r="5.4"/><circle cx="822.9" cy="876.2" r="5.4"/><circle cx="823.1" cy="874.7" r="5.4"/><circle cx="854.2" cy="713.2" r="5.4"/><circle cx="811" cy="927.3" r="5.4"/><circle cx="828.8" cy="886.5" r="5.4"/><circle cx="806.8" cy="833.5" r="5.4"/><circle cx="822.8" cy="915.7" r="5.4"/><circle cx="808.3" cy="810" r="5.4"/><circle cx="852.8" cy="848.6" r="5.4"/><circle cx="854.5" cy="1021" r="5.4"/><circle cx="853" cy="713" r="5.4"/><circle cx="804" cy="1074" r="5.4"/><circle cx="829" cy="1089" r="5.4"/><circle cx="846" cy="1160" r="5.4"/><circle cx="857" cy="1152" r="5.4"/></g>
<g fill="#4d8b8b" fill-opacity="0.21"><circle cx="913.6" cy="1052.6" r="5.4"/><circle cx="949.2" cy="967.7" r="5.4"/><circle cx="948.5" cy="876.2" r="5.4"/><circle cx="948" cy="899.8" r="5.4"/><circle cx="940.5" cy="1023.8" r="5.4"/><circle cx="916.8" cy="1015.8" r="5.4"/><circle cx="963.9" cy="913.5" r="5.4"/><circle cx="918.4" cy="891.3" r="5.4"/><circle cx="918" cy="799.5" r="5.4"/><circle cx="957.2" cy="877.5" r="5.4"/><circle cx="961.9" cy="888.5" r="5.4"/><circle cx="928.6" cy="849" r="5.4"/><circle cx="899.7" cy="1024.7" r="5.4"/><circle cx="937.1" cy="769.5" r="5.4"/><circle cx="958.5" cy="890.8" r="5.4"/><circle cx="963.3" cy="929.5" r="5.4"/><circle cx="916.3" cy="931.7" r="5.4"/><circle cx="954.5" cy="1021.6" r="5.4"/><circle cx="950.5" cy="802.7" r="5.4"/><circle cx="957.6" cy="848.1" r="5.4"/><circle cx="955.4" cy="907.2" r="5.4"/><circle cx="943.3" cy="909.8" r="5.4"/><circle cx="929.5" cy="873.4" r="5.4"/><circle cx="926.2" cy="847" r="5.4"/><circle cx="945" cy="977.4" r="5.4"/><circle cx="915.1" cy="827" r="5.4"/><circle cx="937.8" cy="860.2" r="5.4"/><circle cx="904.1" cy="1003.6" r="5.4"/><circle cx="918.1" cy="1025" r="5.4"/><circle cx="899.6" cy="962.9" r="5.4"/><circle cx="902.8" cy="840.3" r="5.4"/><circle cx="903.5" cy="840.8" r="5.4"/><circle cx="902.3" cy="837.5" r="5.4"/><circle cx="910" cy="821.1" r="5.4"/><circle cx="908.3" cy="871.2" r="5.4"/><circle cx="958" cy="991.6" r="5.4"/><circle cx="935.1" cy="916.2" r="5.4"/><circle cx="901.2" cy="847.5" r="5.4"/><circle cx="910.1" cy="845.9" r="5.4"/><circle cx="954.3" cy="818.2" r="5.4"/><circle cx="941.2" cy="986.9" r="5.4"/><circle cx="918.8" cy="759.2" r="5.4"/><circle cx="898.9" cy="919.6" r="5.4"/><circle cx="923.6" cy="799.5" r="5.4"/><circle cx="920.3" cy="826" r="5.4"/><circle cx="917.7" cy="796" r="5.4"/><circle cx="964.5" cy="969" r="5.4"/><circle cx="954.9" cy="894" r="5.4"/><circle cx="951.4" cy="827.2" r="5.4"/><circle cx="938.6" cy="823.2" r="5.4"/><circle cx="956.4" cy="941.9" r="5.4"/><circle cx="959" cy="939.8" r="5.4"/><circle cx="938" cy="879.7" r="5.4"/><circle cx="926.3" cy="758.3" r="5.4"/><circle cx="917.1" cy="1003.1" r="5.4"/><circle cx="935" cy="940" r="5.4"/><circle cx="912.2" cy="927.7" r="5.4"/><circle cx="911.1" cy="857.6" r="5.4"/><circle cx="954.1" cy="944.9" r="5.4"/><circle cx="906.6" cy="859.7" r="5.4"/><circle cx="918.6" cy="901.7" r="5.4"/><circle cx="960.5" cy="885.4" r="5.4"/><circle cx="946.7" cy="989" r="5.4"/><circle cx="939.4" cy="865.6" r="5.4"/><circle cx="902.8" cy="874.3" r="5.4"/><circle cx="903.2" cy="977.7" r="5.4"/><circle cx="902.3" cy="914.4" r="5.4"/><circle cx="909.2" cy="896.8" r="5.4"/><circle cx="910" cy="881.3" r="5.4"/><circle cx="904.8" cy="966.3" r="5.4"/><circle cx="903.7" cy="852.6" r="5.4"/><circle cx="962.7" cy="931.7" r="5.4"/><circle cx="964.6" cy="1043.9" r="5.4"/><circle cx="944.3" cy="926.4" r="5.4"/><circle cx="948.1" cy="843" r="5.4"/><circle cx="919.4" cy="813.8" r="5.4"/><circle cx="927.9" cy="908.1" r="5.4"/><circle cx="923.5" cy="811.9" r="5.4"/><circle cx="944.1" cy="786.3" r="5.4"/><circle cx="914.3" cy="844.5" r="5.4"/><circle cx="917.3" cy="821" r="5.4"/><circle cx="906.9" cy="960.2" r="5.4"/><circle cx="942.2" cy="796" r="5.4"/><circle cx="963.5" cy="1010.9" r="5.4"/><circle cx="942.6" cy="844.7" r="5.4"/><circle cx="907.8" cy="905.4" r="5.4"/><circle cx="913.8" cy="945.2" r="5.4"/><circle cx="940.2" cy="912.9" r="5.4"/><circle cx="936.1" cy="948.7" r="5.4"/><circle cx="924.2" cy="828" r="5.4"/><circle cx="898.1" cy="738.2" r="5.4"/><circle cx="906.3" cy="882.6" r="5.4"/><circle cx="914.3" cy="779.3" r="5.4"/><circle cx="938.9" cy="856" r="5.4"/><circle cx="948.7" cy="964.3" r="5.4"/><circle cx="953.1" cy="882.6" r="5.4"/><circle cx="953.5" cy="854.9" r="5.4"/><circle cx="913.3" cy="817.4" r="5.4"/><circle cx="955.8" cy="875.8" r="5.4"/><circle cx="911.6" cy="884" r="5.4"/><circle cx="916.5" cy="785.7" r="5.4"/><circle cx="915.1" cy="917" r="5.4"/><circle cx="917.4" cy="820.9" r="5.4"/><circle cx="925.1" cy="911.5" r="5.4"/><circle cx="945.9" cy="864.4" r="5.4"/><circle cx="909.7" cy="966.9" r="5.4"/><circle cx="912.6" cy="957.3" r="5.4"/><circle cx="940" cy="896.5" r="5.4"/><circle cx="927.7" cy="888.3" r="5.4"/><circle cx="965.8" cy="927.3" r="5.4"/><circle cx="900.8" cy="995.5" r="5.4"/><circle cx="904.1" cy="972.8" r="5.4"/><circle cx="931.4" cy="907.9" r="5.4"/><circle cx="907.5" cy="919.4" r="5.4"/><circle cx="948.3" cy="1010.6" r="5.4"/><circle cx="929.8" cy="783.3" r="5.4"/><circle cx="933.5" cy="936.4" r="5.4"/><circle cx="940.1" cy="834.8" r="5.4"/><circle cx="945" cy="995.3" r="5.4"/><circle cx="930.8" cy="863.6" r="5.4"/><circle cx="916.7" cy="890.5" r="5.4"/><circle cx="944.6" cy="822.7" r="5.4"/><circle cx="906.4" cy="899.8" r="5.4"/><circle cx="920.2" cy="956" r="5.4"/><circle cx="939.9" cy="1019.5" r="5.4"/><circle cx="923.7" cy="811.2" r="5.4"/><circle cx="947.1" cy="868.7" r="5.4"/><circle cx="950" cy="967.8" r="5.4"/><circle cx="949.8" cy="899.7" r="5.4"/><circle cx="939.4" cy="938" r="5.4"/><circle cx="920.3" cy="712.5" r="5.4"/><circle cx="928.5" cy="1016.9" r="5.4"/><circle cx="945.3" cy="912.1" r="5.4"/><circle cx="960.5" cy="800.7" r="5.4"/><circle cx="956.7" cy="985.1" r="5.4"/><circle cx="943.6" cy="857.1" r="5.4"/><circle cx="947.9" cy="829.4" r="5.4"/><circle cx="900.3" cy="938.9" r="5.4"/><circle cx="925.7" cy="930.2" r="5.4"/><circle cx="963.6" cy="869.3" r="5.4"/><circle cx="946.8" cy="896.2" r="5.4"/><circle cx="946.3" cy="807.6" r="5.4"/><circle cx="958.3" cy="800.5" r="5.4"/><circle cx="920.1" cy="966.2" r="5.4"/><circle cx="900.3" cy="996.3" r="5.4"/><circle cx="943.6" cy="932.5" r="5.4"/><circle cx="927" cy="928.4" r="5.4"/><circle cx="925.5" cy="873.9" r="5.4"/><circle cx="904.6" cy="892.4" r="5.4"/><circle cx="912.6" cy="836.1" r="5.4"/><circle cx="950.4" cy="1028" r="5.4"/><circle cx="963.4" cy="861.9" r="5.4"/><circle cx="901.1" cy="931" r="5.4"/><circle cx="938.5" cy="901.5" r="5.4"/><circle cx="917" cy="803.9" r="5.4"/><circle cx="940.8" cy="1041" r="5.4"/><circle cx="912.9" cy="875.3" r="5.4"/><circle cx="961.4" cy="847.9" r="5.4"/><circle cx="923" cy="909.8" r="5.4"/><circle cx="942.3" cy="838.9" r="5.4"/><circle cx="927.1" cy="903.6" r="5.4"/><circle cx="945.8" cy="834.5" r="5.4"/><circle cx="944.9" cy="942.2" r="5.4"/><circle cx="919.8" cy="905.5" r="5.4"/><circle cx="898.8" cy="806.1" r="5.4"/><circle cx="898.2" cy="976.2" r="5.4"/><circle cx="916.7" cy="915.5" r="5.4"/><circle cx="950.4" cy="824.6" r="5.4"/><circle cx="934.9" cy="927.5" r="5.4"/><circle cx="930.5" cy="932.7" r="5.4"/><circle cx="901" cy="1035.8" r="5.4"/><circle cx="919.6" cy="841.5" r="5.4"/><circle cx="934.5" cy="963.5" r="5.4"/><circle cx="946.5" cy="895.3" r="5.4"/><circle cx="949" cy="946.4" r="5.4"/><circle cx="923.3" cy="883.7" r="5.4"/><circle cx="947.2" cy="898" r="5.4"/><circle cx="900.1" cy="937.9" r="5.4"/><circle cx="928.7" cy="818.9" r="5.4"/><circle cx="943.5" cy="755.2" r="5.4"/><circle cx="956.3" cy="901.5" r="5.4"/><circle cx="963.4" cy="871" r="5.4"/><circle cx="947.2" cy="908.6" r="5.4"/><circle cx="946.6" cy="948.7" r="5.4"/><circle cx="928.5" cy="887.3" r="5.4"/><circle cx="929.8" cy="988.7" r="5.4"/><circle cx="920.3" cy="899.8" r="5.4"/><circle cx="961.6" cy="911" r="5.4"/><circle cx="922.9" cy="963" r="5.4"/><circle cx="915.1" cy="945.5" r="5.4"/><circle cx="954.3" cy="897" r="5.4"/><circle cx="932.4" cy="912.4" r="5.4"/><circle cx="928" cy="850.4" r="5.4"/><circle cx="961.6" cy="860.5" r="5.4"/><circle cx="902.6" cy="910.9" r="5.4"/><circle cx="904.4" cy="962.4" r="5.4"/><circle cx="936.2" cy="873.2" r="5.4"/><circle cx="900.6" cy="964.4" r="5.4"/><circle cx="959.3" cy="1043.9" r="5.4"/><circle cx="964.3" cy="1058.9" r="5.4"/><circle cx="917.5" cy="906.1" r="5.4"/><circle cx="957.9" cy="980.4" r="5.4"/><circle cx="929.7" cy="948.5" r="5.4"/><circle cx="936" cy="961.3" r="5.4"/><circle cx="927.4" cy="965.1" r="5.4"/><circle cx="960.1" cy="942.5" r="5.4"/><circle cx="920.2" cy="964.5" r="5.4"/><circle cx="961.7" cy="918.8" r="5.4"/><circle cx="921.1" cy="886.9" r="5.4"/><circle cx="915.2" cy="923.5" r="5.4"/><circle cx="966.7" cy="940.9" r="5.4"/><circle cx="904.2" cy="993.6" r="5.4"/><circle cx="907.6" cy="932.2" r="5.4"/><circle cx="939.8" cy="959" r="5.4"/><circle cx="963" cy="1008.2" r="5.4"/><circle cx="957" cy="840.1" r="5.4"/><circle cx="947.1" cy="887" r="5.4"/><circle cx="899" cy="944.4" r="5.4"/><circle cx="902.4" cy="907.4" r="5.4"/><circle cx="952.8" cy="834.5" r="5.4"/><circle cx="952.8" cy="976.8" r="5.4"/><circle cx="965.7" cy="900.4" r="5.4"/><circle cx="922.7" cy="835.4" r="5.4"/><circle cx="936.1" cy="1042" r="5.4"/><circle cx="917" cy="815.6" r="5.4"/><circle cx="904.4" cy="904.3" r="5.4"/><circle cx="945.8" cy="858.2" r="5.4"/><circle cx="946" cy="913.1" r="5.4"/><circle cx="902.4" cy="945.8" r="5.4"/><circle cx="937.6" cy="847.9" r="5.4"/><circle cx="956.7" cy="897.7" r="5.4"/><circle cx="950.7" cy="895.8" r="5.4"/><circle cx="919" cy="834.8" r="5.4"/><circle cx="898.6" cy="989.1" r="5.4"/><circle cx="914.3" cy="917.3" r="5.4"/><circle cx="907.7" cy="884.6" r="5.4"/><circle cx="924" cy="858.2" r="5.4"/><circle cx="930.8" cy="881.3" r="5.4"/><circle cx="930.5" cy="915.1" r="5.4"/><circle cx="908.2" cy="872.4" r="5.4"/><circle cx="921.1" cy="994.8" r="5.4"/><circle cx="913.5" cy="726.8" r="5.4"/><circle cx="956.8" cy="754.9" r="5.4"/><circle cx="953" cy="886.7" r="5.4"/><circle cx="962.9" cy="775.7" r="5.4"/><circle cx="925.4" cy="899.8" r="5.4"/><circle cx="953.6" cy="858.6" r="5.4"/><circle cx="911.3" cy="946.5" r="5.4"/><circle cx="922.3" cy="934.5" r="5.4"/><circle cx="924.5" cy="999" r="5.4"/><circle cx="918.4" cy="971.1" r="5.4"/><circle cx="911.9" cy="995.1" r="5.4"/><circle cx="961.3" cy="942.9" r="5.4"/><circle cx="928.9" cy="981.7" r="5.4"/><circle cx="947.2" cy="940.9" r="5.4"/><circle cx="912.7" cy="863.4" r="5.4"/><circle cx="946.1" cy="817.3" r="5.4"/><circle cx="946" cy="820.1" r="5.4"/><circle cx="960.4" cy="939.6" r="5.4"/><circle cx="916.6" cy="738" r="5.4"/><circle cx="963.4" cy="917.4" r="5.4"/><circle cx="956.7" cy="852.1" r="5.4"/><circle cx="908.6" cy="957.7" r="5.4"/><circle cx="925.9" cy="919.1" r="5.4"/><circle cx="924.1" cy="852.2" r="5.4"/><circle cx="966.9" cy="905.7" r="5.4"/><circle cx="944.9" cy="745.8" r="5.4"/><circle cx="907.9" cy="924.2" r="5.4"/><circle cx="931.7" cy="938.4" r="5.4"/><circle cx="950.7" cy="776.2" r="5.4"/><circle cx="901.9" cy="966.6" r="5.4"/><circle cx="948.9" cy="896.4" r="5.4"/><circle cx="944.6" cy="917.3" r="5.4"/><circle cx="950.1" cy="805.5" r="5.4"/><circle cx="908.6" cy="948.5" r="5.4"/><circle cx="963.6" cy="946.8" r="5.4"/><circle cx="924.8" cy="903.9" r="5.4"/><circle cx="943.8" cy="836.2" r="5.4"/><circle cx="914.8" cy="960" r="5.4"/><circle cx="900.5" cy="995" r="5.4"/><circle cx="901.8" cy="934.1" r="5.4"/><circle cx="937.4" cy="977.5" r="5.4"/><circle cx="960.2" cy="864.5" r="5.4"/><circle cx="944.7" cy="916.8" r="5.4"/><circle cx="901.4" cy="932.9" r="5.4"/><circle cx="899.3" cy="916.4" r="5.4"/><circle cx="965.9" cy="936.5" r="5.4"/><circle cx="927.2" cy="867.1" r="5.4"/><circle cx="959.4" cy="966.3" r="5.4"/><circle cx="950.2" cy="830.8" r="5.4"/><circle cx="948.6" cy="933.5" r="5.4"/><circle cx="955.8" cy="962.6" r="5.4"/><circle cx="923.9" cy="872.7" r="5.4"/><circle cx="919.2" cy="884.9" r="5.4"/><circle cx="901.6" cy="841.9" r="5.4"/><circle cx="965.8" cy="917.2" r="5.4"/><circle cx="904.1" cy="860.5" r="5.4"/><circle cx="957.9" cy="1032.9" r="5.4"/><circle cx="903.2" cy="954.7" r="5.4"/><circle cx="939.8" cy="892.4" r="5.4"/><circle cx="958.7" cy="809.3" r="5.4"/><circle cx="937.4" cy="1055.1" r="5.4"/><circle cx="938.4" cy="1002.4" r="5.4"/><circle cx="934.2" cy="942.8" r="5.4"/><circle cx="904.4" cy="923" r="5.4"/><circle cx="964.5" cy="921.3" r="5.4"/><circle cx="945.8" cy="876" r="5.4"/><circle cx="963.1" cy="1044.4" r="5.4"/><circle cx="957.2" cy="923.8" r="5.4"/><circle cx="913.7" cy="808.3" r="5.4"/><circle cx="951" cy="862.9" r="5.4"/><circle cx="935.4" cy="728.6" r="5.4"/><circle cx="912.5" cy="956.5" r="5.4"/><circle cx="937.8" cy="964" r="5.4"/><circle cx="965.3" cy="1036.5" r="5.4"/><circle cx="900.2" cy="1087.2" r="5.4"/><circle cx="943.9" cy="854.2" r="5.4"/><circle cx="926.7" cy="941.3" r="5.4"/><circle cx="932.3" cy="980.7" r="5.4"/><circle cx="945.3" cy="966" r="5.4"/><circle cx="911.6" cy="873.1" r="5.4"/><circle cx="901.1" cy="966.6" r="5.4"/><circle cx="908.3" cy="944.4" r="5.4"/><circle cx="925" cy="1006.7" r="5.4"/><circle cx="942.9" cy="906.5" r="5.4"/><circle cx="931.3" cy="891.6" r="5.4"/><circle cx="952.8" cy="872.6" r="5.4"/><circle cx="916.5" cy="881.7" r="5.4"/><circle cx="905.9" cy="854.5" r="5.4"/><circle cx="938.7" cy="884.2" r="5.4"/><circle cx="947.3" cy="944.2" r="5.4"/><circle cx="931.3" cy="941" r="5.4"/><circle cx="901.8" cy="1002.9" r="5.4"/><circle cx="928.6" cy="986.6" r="5.4"/><circle cx="946.1" cy="952.8" r="5.4"/><circle cx="922.9" cy="827" r="5.4"/><circle cx="956" cy="948.5" r="5.4"/><circle cx="914.1" cy="991.2" r="5.4"/><circle cx="944.4" cy="816.1" r="5.4"/><circle cx="925.5" cy="829" r="5.4"/><circle cx="905.3" cy="840.2" r="5.4"/><circle cx="916" cy="834.1" r="5.4"/><circle cx="907.3" cy="886.2" r="5.4"/><circle cx="935.8" cy="841" r="5.4"/><circle cx="956.5" cy="934.2" r="5.4"/><circle cx="950" cy="821.4" r="5.4"/><circle cx="941.7" cy="897" r="5.4"/><circle cx="901" cy="870.9" r="5.4"/><circle cx="940.2" cy="838.1" r="5.4"/><circle cx="951.5" cy="980.3" r="5.4"/><circle cx="919.8" cy="907.7" r="5.4"/><circle cx="930.2" cy="944.7" r="5.4"/><circle cx="928.7" cy="882.3" r="5.4"/><circle cx="931.9" cy="956.3" r="5.4"/><circle cx="904.2" cy="949.9" r="5.4"/><circle cx="933.5" cy="894.8" r="5.4"/><circle cx="916.5" cy="781.7" r="5.4"/><circle cx="935.7" cy="964.7" r="5.4"/><circle cx="903" cy="955.4" r="5.4"/><circle cx="919" cy="918.6" r="5.4"/><circle cx="905.3" cy="923.1" r="5.4"/><circle cx="950.2" cy="914.5" r="5.4"/><circle cx="962.7" cy="919.5" r="5.4"/><circle cx="947.4" cy="835.4" r="5.4"/><circle cx="925" cy="901.6" r="5.4"/><circle cx="928" cy="928.5" r="5.4"/><circle cx="939.7" cy="862.8" r="5.4"/><circle cx="912.4" cy="837.8" r="5.4"/><circle cx="899.4" cy="1039.5" r="5.4"/><circle cx="957" cy="949.4" r="5.4"/><circle cx="931.2" cy="884.2" r="5.4"/><circle cx="947.6" cy="871.2" r="5.4"/><circle cx="929.4" cy="721.2" r="5.4"/><circle cx="916.2" cy="806.1" r="5.4"/><circle cx="900.2" cy="888.2" r="5.4"/><circle cx="939.6" cy="998.4" r="5.4"/><circle cx="934.6" cy="762" r="5.4"/><circle cx="898.5" cy="856.8" r="5.4"/><circle cx="907.6" cy="1043.5" r="5.4"/><circle cx="962.8" cy="953.9" r="5.4"/><circle cx="947.4" cy="935.6" r="5.4"/><circle cx="913.2" cy="991.7" r="5.4"/><circle cx="923.8" cy="897.3" r="5.4"/><circle cx="943.8" cy="893.3" r="5.4"/><circle cx="955.9" cy="957.2" r="5.4"/><circle cx="906.4" cy="967.1" r="5.4"/><circle cx="943.4" cy="831.3" r="5.4"/><circle cx="937.4" cy="1015.8" r="5.4"/><circle cx="946.8" cy="784.1" r="5.4"/><circle cx="904.7" cy="857.2" r="5.4"/><circle cx="923.9" cy="870.1" r="5.4"/><circle cx="942.8" cy="953.1" r="5.4"/><circle cx="917.1" cy="835.9" r="5.4"/><circle cx="936.2" cy="883.5" r="5.4"/><circle cx="927.3" cy="855.6" r="5.4"/><circle cx="935.5" cy="878" r="5.4"/><circle cx="956" cy="953.2" r="5.4"/><circle cx="949.9" cy="1031.9" r="5.4"/><circle cx="904.8" cy="968.9" r="5.4"/><circle cx="944" cy="1018.1" r="5.4"/><circle cx="901" cy="870.6" r="5.4"/><circle cx="920.6" cy="1011.6" r="5.4"/><circle cx="948.3" cy="946.6" r="5.4"/><circle cx="951.4" cy="1004.8" r="5.4"/><circle cx="966.2" cy="876.7" r="5.4"/><circle cx="916.6" cy="889.6" r="5.4"/><circle cx="934.1" cy="1004.3" r="5.4"/><circle cx="943" cy="949.8" r="5.4"/><circle cx="952.4" cy="913.5" r="5.4"/><circle cx="958.5" cy="857.8" r="5.4"/><circle cx="920" cy="898.4" r="5.4"/><circle cx="909.1" cy="940.3" r="5.4"/><circle cx="914.6" cy="957.3" r="5.4"/><circle cx="950.5" cy="866.4" r="5.4"/><circle cx="902.5" cy="881.2" r="5.4"/><circle cx="914.8" cy="935.8" r="5.4"/><circle cx="955.7" cy="827.3" r="5.4"/><circle cx="964.2" cy="972" r="5.4"/><circle cx="928.6" cy="903.7" r="5.4"/><circle cx="951.4" cy="894.4" r="5.4"/><circle cx="925" cy="710" r="5.4"/><circle cx="955" cy="712" r="5.4"/><circle cx="918" cy="1105" r="5.4"/><circle cx="927" cy="1112" r="5.4"/><circle cx="951" cy="1106" r="5.4"/><circle cx="920" cy="1140" r="5.4"/><circle cx="953" cy="1140" r="5.4"/><circle cx="960" cy="1088" r="5.4"/></g>
<g stroke="#8b7c6c" fill="none">
<line x1="826.5" y1="713.2" x2="826.5" y2="836.2" stroke="#8b7c6c" stroke-width="2.5"/>
<line x1="826.5" y1="933" x2="826.5" y2="1073.3" stroke="#8b7c6c" stroke-width="2.5"/>
<rect x="786.3" y="836.2" width="80.4" height="96.8" fill="none" stroke="#8b7c6c" stroke-width="2.5"/>
<line x1="786.3" y1="888" x2="866.7" y2="888" stroke="#8b7c6c" stroke-width="4.6"/>
</g>
<g stroke="#4d8b8b" fill="none">
<line x1="932.5" y1="712.5" x2="932.5" y2="854.5" stroke="#4d8b8b" stroke-width="2.5"/>
<line x1="932.5" y1="950" x2="932.5" y2="1087.2" stroke="#4d8b8b" stroke-width="2.5"/>
<rect x="892.3" y="854.5" width="80.4" height="95.5" fill="none" stroke="#4d8b8b" stroke-width="2.5"/>
<line x1="892.3" y1="901.5" x2="972.7" y2="901.5" stroke="#4d8b8b" stroke-width="4.6"/>
</g>
<line x1="763.1" y1="662.9" x2="763.1" y2="1184.7" stroke="#000" stroke-width="1.6"/>
<line x1="757.6" y1="1178.4" x2="763.1" y2="1178.4" stroke="#000" stroke-width="1.2"/>
<text x="756.1" y="1187.8" font-size="26" text-anchor="end">3</text>
<line x1="757.6" y1="1030.6" x2="763.1" y2="1030.6" stroke="#000" stroke-width="1.2"/>
<text x="756.1" y="1040" font-size="26" text-anchor="end">4</text>
<line x1="757.6" y1="882.8" x2="763.1" y2="882.8" stroke="#000" stroke-width="1.2"/>
<text x="756.1" y="892.2" font-size="26" text-anchor="end">5</text>
<line x1="757.6" y1="735" x2="763.1" y2="735" stroke="#000" stroke-width="1.2"/>
<text x="756.1" y="744.4" font-size="26" text-anchor="end">6</text>
<line x1="762.3" y1="1183.9" x2="995.6" y2="1183.9" stroke="#000" stroke-width="1.6"/>
<line x1="826.5" y1="1183.9" x2="826.5" y2="1189.4" stroke="#000" stroke-width="1.2"/>
<text x="826.5" y="1217.9" font-size="26" text-anchor="middle">C</text>
<line x1="932.5" y1="1183.9" x2="932.5" y2="1189.4" stroke="#000" stroke-width="1.2"/>
<text x="932.5" y="1217.9" font-size="26" text-anchor="middle">PD</text>
<text x="872" y="681.3" font-size="23.2" text-anchor="middle">0.013</text>
<line x1="826.5" y1="686.5" x2="932.8" y2="686.5" stroke="#1a1a1a" stroke-width="1.4"/>
<g stroke="#7db9e5" fill="none">
<line x1="1102" y1="768.9" x2="1102" y2="845.9" stroke="#7db9e5" stroke-width="2.1"/>
<line x1="1102" y1="1011.7" x2="1102" y2="1161.4" stroke="#7db9e5" stroke-width="2.1"/>
<rect x="1082.6" y="845.9" width="38.8" height="165.8" fill="none" stroke="#7db9e5" stroke-width="2.1"/>
<line x1="1082.6" y1="912.9" x2="1121.4" y2="912.9" stroke="#7db9e5" stroke-width="2.1"/>
</g>
<path transform="scale(.5)" d="M2172 1793h0m31 116h0m-14 189h0m37-524h0m-4 197h0m-21 112h0m29 89h0m-37-285h0m-18-53h0m52-16h0m7 382h0m-60-413h0m23 709h0m-24-504h0m41-254h0m11 438h0m-48 57h0m42-109h0m-13-164h0m-24 563h0m5-568h0m-2 239h0m0 4h0m21-367h0m-31 99h0m55 178h0m-34-244h0m2 593h0m22-319h0m-44-33h0m9 129h0m31-135h0m-2 296h0m-11-562h0m16 278h0m-7-266h0m8 679h0" stroke="#7db9e5" stroke-width="20.4" stroke-linecap="round" fill="none"/>
<g stroke="#8150a1" fill="none">
<line x1="1152.2" y1="919.8" x2="1152.2" y2="981.2" stroke="#8150a1" stroke-width="2.1"/>
<line x1="1152.2" y1="1055" x2="1152.2" y2="1126.7" stroke="#8150a1" stroke-width="2.1"/>
<rect x="1132.8" y="981.2" width="38.8" height="73.8" fill="none" stroke="#8150a1" stroke-width="2.1"/>
<line x1="1132.8" y1="1030.7" x2="1171.6" y2="1030.7" stroke="#8150a1" stroke-width="2.1"/>
</g>
<path transform="scale(.5)" d="M2298 1909h0m31 254h0m7-73h0m-25 34h0m8-51h0m-40-33h0m-3 54h0m39 4h0m-20 61h0m-4-48h0m20-167h0m-37 139h0m35-125h0m8 207h0m3-303h0m-47 214h0m3-126h0m48-22h0m5 257h0m1-111h0m-23-40h0m-14 82h0m32-174h0m-29 64h0m37-41h0m-28 288h0m-32-167h0m0 22h0m57 36h0m-37-111h0m-9 5h0m-8 59h0m17-16h0m40-82h0m-61 152h0m52-59h0m-27-252h0m25 47h0m-28-337h0m-14 60h0" stroke="#8150a1" stroke-width="20.4" stroke-linecap="round" fill="none"/>
<g stroke="#ebaa1f" fill="none">
<line x1="1225" y1="783.5" x2="1225" y2="859.7" stroke="#ebaa1f" stroke-width="2.1"/>
<line x1="1225" y1="1018.6" x2="1225" y2="1126.7" stroke="#ebaa1f" stroke-width="2.1"/>
<rect x="1205.6" y="859.7" width="38.8" height="158.9" fill="none" stroke="#ebaa1f" stroke-width="2.1"/>
<line x1="1205.6" y1="891.1" x2="1244.4" y2="891.1" stroke="#ebaa1f" stroke-width="2.1"/>
</g>
<path transform="scale(.5)" d="M2447 2158h0m29-250h0m-16-179h0m-27-64h0m47 79h0m-7-177h0m3 129h0m-33-21h0m-11 217h0m42 184h0m-4-359h0m-10 21h0m-37-64h0m21-27h0m-19 91h0m54 258h0m-45-38h0m40 47h0m-8-251h0m-13 385h0m12-6h0m-29-3h0m-15 123h0m50-349h0m-27 193h0m-24-51h0m25-277h0m18-21h0m5-75h0m1 338h0m-39-259h0m-11-86h0m58 42h0m-28-41h0m27-99h0m-56 546h0m12 10h0m20 2h0m30 6h0m-50 108h0m10 12h0m-18-172h0m48-74h0" stroke="#ebaa1f" stroke-width="20.4" stroke-linecap="round" fill="none"/>
<g stroke="#8c2a1d" fill="none">
<line x1="1275.2" y1="878" x2="1275.2" y2="977" stroke="#8c2a1d" stroke-width="2.1"/>
<line x1="1275.2" y1="1068.8" x2="1275.2" y2="1098.3" stroke="#8c2a1d" stroke-width="2.1"/>
<rect x="1255.8" y="977" width="38.8" height="91.8" fill="none" stroke="#8c2a1d" stroke-width="2.1"/>
<line x1="1255.8" y1="1030.7" x2="1294.6" y2="1030.7" stroke="#8c2a1d" stroke-width="2.1"/>
</g>
<path transform="scale(.5)" d="M2525 2060h0m25-51h0m-19-92h0m52 0h0m-33 250h0m11-262h0m15 168h0m-27 63h0m14-4h0m-16-76h0m25-67h0m-22 173h0m-4 17h0m32-188h0m-31 139h0m-8-91h0m36-283h0m-19 139h0m5 261h0m-12-15h0m-1-113h0m25-85h0m-49 181h0m56-24h0m-23-306h0m9 344h0m17-194h0m-16 196h0m-47-15h0m51 22h0m-2 50h0m10-53h0m-44-256h0m36 5h0m-3 291h0m-10-66h0m10-598h0m-10 80h0" stroke="#8c2a1d" stroke-width="20.4" stroke-linecap="round" fill="none"/>
<line x1="1072.5" y1="702" x2="1072.5" y2="1184.7" stroke="#000" stroke-width="1.6"/>
<line x1="1067" y1="1103.4" x2="1072.5" y2="1103.4" stroke="#000" stroke-width="1.2"/>
<text x="1065.5" y="1112.8" font-size="26" text-anchor="end">5</text>
<line x1="1067" y1="1006.1" x2="1072.5" y2="1006.1" stroke="#000" stroke-width="1.2"/>
<text x="1065.5" y="1015.5" font-size="26" text-anchor="end">6</text>
<line x1="1067" y1="908.8" x2="1072.5" y2="908.8" stroke="#000" stroke-width="1.2"/>
<text x="1065.5" y="918.2" font-size="26" text-anchor="end">7</text>
<line x1="1067" y1="811.5" x2="1072.5" y2="811.5" stroke="#000" stroke-width="1.2"/>
<text x="1065.5" y="820.9" font-size="26" text-anchor="end">8</text>
<line x1="1067" y1="714.2" x2="1072.5" y2="714.2" stroke="#000" stroke-width="1.2"/>
<text x="1065.5" y="723.6" font-size="26" text-anchor="end">9</text>
<line x1="1071.7" y1="1183.9" x2="1181.6" y2="1183.9" stroke="#000" stroke-width="1.6"/>
<line x1="1194" y1="1183.9" x2="1304.6" y2="1183.9" stroke="#000" stroke-width="1.6"/>
<line x1="1102" y1="1183.9" x2="1102" y2="1189.4" stroke="#000" stroke-width="1.2"/>
<text x="1102" y="1217.9" font-size="26" text-anchor="middle">C</text>
<line x1="1152.2" y1="1183.9" x2="1152.2" y2="1189.4" stroke="#000" stroke-width="1.2"/>
<text x="1152.2" y="1217.9" font-size="26" text-anchor="middle">PD</text>
<line x1="1225" y1="1183.9" x2="1225" y2="1189.4" stroke="#000" stroke-width="1.2"/>
<text x="1225" y="1217.9" font-size="26" text-anchor="middle">C</text>
<line x1="1275.2" y1="1183.9" x2="1275.2" y2="1189.4" stroke="#000" stroke-width="1.2"/>
<text x="1275.2" y="1217.9" font-size="26" text-anchor="middle">PD</text>
<rect x="1073.5" y="664" width="108.1" height="36.3" fill="#fff" stroke="#000" stroke-width="2.0"/>
<text x="1128" y="689.8" font-size="25.3" text-anchor="middle">Caudate</text>
<rect x="1195.8" y="664" width="108.8" height="36.3" fill="#fff" stroke="#000" stroke-width="2.0"/>
<text x="1250.7" y="689.8" font-size="25.3" text-anchor="middle">Putamen</text>
<text x="1128.8" y="722.9" font-size="23.2" text-anchor="middle">0.0006</text>
<line x1="1102" y1="729.1" x2="1152.9" y2="729.1" stroke="#1a1a1a" stroke-width="1.4"/>
<text x="1255.3" y="722.9" font-size="23.2" text-anchor="middle">0.0007</text>
<line x1="1231.2" y1="729.1" x2="1282.1" y2="729.1" stroke="#1a1a1a" stroke-width="1.4"/>
<g fill="#8b7c6c" fill-opacity="0.22"><circle cx="1455.7" cy="995.5" r="5.4"/><circle cx="1415.1" cy="1065.7" r="5.4"/><circle cx="1445.3" cy="1030.1" r="5.4"/><circle cx="1466.7" cy="1044.1" r="5.4"/><circle cx="1423.1" cy="971.7" r="5.4"/><circle cx="1460.5" cy="1015.6" r="5.4"/><circle cx="1425.6" cy="1098.8" r="5.4"/><circle cx="1459.4" cy="1062.4" r="5.4"/><circle cx="1425.4" cy="985.3" r="5.4"/><circle cx="1441.7" cy="920.7" r="5.4"/><circle cx="1436.7" cy="906.9" r="5.4"/><circle cx="1414.9" cy="979.7" r="5.4"/><circle cx="1453.6" cy="993" r="5.4"/><circle cx="1415.4" cy="850.8" r="5.4"/><circle cx="1453.8" cy="978.3" r="5.4"/><circle cx="1444" cy="986.9" r="5.4"/><circle cx="1468.5" cy="983.9" r="5.4"/><circle cx="1441.1" cy="929.8" r="5.4"/><circle cx="1414.7" cy="1129.5" r="5.4"/><circle cx="1433.7" cy="1022.1" r="5.4"/><circle cx="1458.8" cy="879.3" r="5.4"/><circle cx="1416.2" cy="919.6" r="5.4"/><circle cx="1423" cy="1017.1" r="5.4"/><circle cx="1417.5" cy="997.7" r="5.4"/><circle cx="1465.1" cy="971.8" r="5.4"/><circle cx="1428.6" cy="961.3" r="5.4"/><circle cx="1420" cy="949.9" r="5.4"/><circle cx="1455.3" cy="935.5" r="5.4"/><circle cx="1428.3" cy="899.9" r="5.4"/><circle cx="1450.8" cy="1001.2" r="5.4"/><circle cx="1463.7" cy="917.6" r="5.4"/><circle cx="1453.9" cy="1045.1" r="5.4"/><circle cx="1466.6" cy="913.9" r="5.4"/><circle cx="1426.8" cy="888.7" r="5.4"/><circle cx="1461" cy="1088.5" r="5.4"/><circle cx="1452" cy="1031.1" r="5.4"/><circle cx="1437.8" cy="952.3" r="5.4"/><circle cx="1454.9" cy="925.5" r="5.4"/><circle cx="1454.5" cy="947.1" r="5.4"/><circle cx="1420.6" cy="939.9" r="5.4"/><circle cx="1428.3" cy="946.3" r="5.4"/><circle cx="1448.2" cy="915.8" r="5.4"/><circle cx="1424.5" cy="997" r="5.4"/><circle cx="1441.3" cy="926.7" r="5.4"/><circle cx="1436.2" cy="849.7" r="5.4"/><circle cx="1447.7" cy="881.5" r="5.4"/><circle cx="1422.1" cy="960.6" r="5.4"/><circle cx="1453" cy="898" r="5.4"/><circle cx="1460.5" cy="1060.2" r="5.4"/><circle cx="1444" cy="992.9" r="5.4"/><circle cx="1433" cy="930.8" r="5.4"/><circle cx="1423.8" cy="927.8" r="5.4"/><circle cx="1469.1" cy="993.6" r="5.4"/><circle cx="1475.6" cy="1051" r="5.4"/><circle cx="1464.1" cy="921.3" r="5.4"/><circle cx="1432.3" cy="986.5" r="5.4"/><circle cx="1466.6" cy="921.1" r="5.4"/><circle cx="1438.7" cy="980.6" r="5.4"/><circle cx="1425.2" cy="889.5" r="5.4"/><circle cx="1441.4" cy="847.2" r="5.4"/><circle cx="1411" cy="964.4" r="5.4"/><circle cx="1416.5" cy="955.1" r="5.4"/><circle cx="1449.2" cy="1006.9" r="5.4"/><circle cx="1475" cy="918.1" r="5.4"/><circle cx="1477" cy="1050.3" r="5.4"/><circle cx="1457" cy="964.9" r="5.4"/><circle cx="1429.6" cy="1061.7" r="5.4"/><circle cx="1410.2" cy="938.1" r="5.4"/><circle cx="1467.1" cy="1059.3" r="5.4"/><circle cx="1413.1" cy="955" r="5.4"/><circle cx="1463" cy="968" r="5.4"/><circle cx="1461.5" cy="1023" r="5.4"/><circle cx="1417.2" cy="850.8" r="5.4"/><circle cx="1461.3" cy="893.8" r="5.4"/><circle cx="1445.9" cy="1081.2" r="5.4"/><circle cx="1430.7" cy="866.8" r="5.4"/><circle cx="1465.6" cy="928.5" r="5.4"/><circle cx="1427.6" cy="994.9" r="5.4"/><circle cx="1454.7" cy="1056.3" r="5.4"/><circle cx="1419.4" cy="928.1" r="5.4"/><circle cx="1473.7" cy="967.4" r="5.4"/><circle cx="1460.1" cy="890" r="5.4"/><circle cx="1440.4" cy="935.6" r="5.4"/><circle cx="1417.9" cy="1027.3" r="5.4"/><circle cx="1479.1" cy="980.7" r="5.4"/><circle cx="1443.2" cy="957.4" r="5.4"/><circle cx="1473.9" cy="987.4" r="5.4"/><circle cx="1478.2" cy="968.3" r="5.4"/><circle cx="1450.6" cy="970.5" r="5.4"/><circle cx="1441" cy="938" r="5.4"/><circle cx="1429.3" cy="899.8" r="5.4"/><circle cx="1442.8" cy="1004.5" r="5.4"/><circle cx="1438.6" cy="889.3" r="5.4"/><circle cx="1419" cy="1027.5" r="5.4"/><circle cx="1423.4" cy="1101.6" r="5.4"/><circle cx="1467.6" cy="1060.8" r="5.4"/><circle cx="1471.8" cy="1114.4" r="5.4"/><circle cx="1443.2" cy="896.5" r="5.4"/><circle cx="1478.9" cy="976.1" r="5.4"/><circle cx="1452.8" cy="909.7" r="5.4"/><circle cx="1431.3" cy="915.2" r="5.4"/><circle cx="1460.6" cy="855.6" r="5.4"/><circle cx="1458.3" cy="886.4" r="5.4"/><circle cx="1463.4" cy="1017.5" r="5.4"/><circle cx="1478.4" cy="1007.1" r="5.4"/><circle cx="1431.1" cy="1041" r="5.4"/><circle cx="1422.4" cy="1036" r="5.4"/><circle cx="1450.6" cy="1013.2" r="5.4"/><circle cx="1433" cy="912.2" r="5.4"/><circle cx="1451.1" cy="954.4" r="5.4"/><circle cx="1466.8" cy="1010.4" r="5.4"/><circle cx="1429.4" cy="1044.8" r="5.4"/><circle cx="1451" cy="939" r="5.4"/><circle cx="1469.4" cy="931.8" r="5.4"/><circle cx="1466.1" cy="935.4" r="5.4"/><circle cx="1416.4" cy="1068.3" r="5.4"/><circle cx="1433.1" cy="999.8" r="5.4"/><circle cx="1438.1" cy="943.1" r="5.4"/><circle cx="1452" cy="915.7" r="5.4"/><circle cx="1441.3" cy="991.5" r="5.4"/><circle cx="1434.6" cy="860.2" r="5.4"/><circle cx="1438.5" cy="948.8" r="5.4"/><circle cx="1453.8" cy="928" r="5.4"/><circle cx="1414.7" cy="927.2" r="5.4"/><circle cx="1441.6" cy="976.3" r="5.4"/><circle cx="1473.6" cy="990.5" r="5.4"/><circle cx="1452.3" cy="970" r="5.4"/><circle cx="1461.6" cy="1009.6" r="5.4"/><circle cx="1464.5" cy="914.3" r="5.4"/><circle cx="1472.7" cy="862.6" r="5.4"/><circle cx="1415.4" cy="1039.4" r="5.4"/><circle cx="1414.9" cy="1094.1" r="5.4"/><circle cx="1421.4" cy="902.9" r="5.4"/><circle cx="1431.4" cy="959.3" r="5.4"/><circle cx="1414.1" cy="1037.8" r="5.4"/><circle cx="1453.5" cy="970.3" r="5.4"/><circle cx="1463.4" cy="819.4" r="5.4"/><circle cx="1463.5" cy="1031.3" r="5.4"/><circle cx="1442.1" cy="955.4" r="5.4"/><circle cx="1440.1" cy="1012.4" r="5.4"/><circle cx="1429.3" cy="905.5" r="5.4"/><circle cx="1476.5" cy="1022.9" r="5.4"/><circle cx="1466.1" cy="1033.3" r="5.4"/><circle cx="1467" cy="920.3" r="5.4"/><circle cx="1445.9" cy="997.1" r="5.4"/><circle cx="1415.3" cy="925.6" r="5.4"/><circle cx="1417.5" cy="933.6" r="5.4"/><circle cx="1416.1" cy="909.1" r="5.4"/><circle cx="1475.9" cy="937.9" r="5.4"/><circle cx="1416.9" cy="923.1" r="5.4"/><circle cx="1447.2" cy="1042.1" r="5.4"/><circle cx="1458.9" cy="950.5" r="5.4"/><circle cx="1467" cy="895.8" r="5.4"/><circle cx="1446.4" cy="1055.3" r="5.4"/><circle cx="1455.3" cy="1000.4" r="5.4"/><circle cx="1437.6" cy="1030.1" r="5.4"/><circle cx="1467.9" cy="960.5" r="5.4"/><circle cx="1417" cy="1010.8" r="5.4"/><circle cx="1421.9" cy="958.5" r="5.4"/><circle cx="1432.2" cy="906.6" r="5.4"/><circle cx="1452.7" cy="971.8" r="5.4"/><circle cx="1432.3" cy="974.4" r="5.4"/><circle cx="1415.9" cy="973.9" r="5.4"/><circle cx="1470.1" cy="1020.7" r="5.4"/><circle cx="1417" cy="859.7" r="5.4"/><circle cx="1427.1" cy="984.7" r="5.4"/><circle cx="1474.1" cy="916.6" r="5.4"/><circle cx="1461.5" cy="948" r="5.4"/><circle cx="1453.3" cy="994.9" r="5.4"/><circle cx="1459.3" cy="969.7" r="5.4"/><circle cx="1430.9" cy="924.6" r="5.4"/><circle cx="1458.7" cy="1015.8" r="5.4"/><circle cx="1434.4" cy="962.1" r="5.4"/><circle cx="1436.5" cy="1027.8" r="5.4"/><circle cx="1453.5" cy="1047.7" r="5.4"/><circle cx="1448" cy="1160" r="5.4"/><circle cx="1414" cy="1121" r="5.4"/><circle cx="1436" cy="1129" r="5.4"/></g>
<g fill="#4d8b8b" fill-opacity="0.21"><circle cx="1574.3" cy="892.7" r="5.4"/><circle cx="1529.7" cy="966" r="5.4"/><circle cx="1554.3" cy="908.9" r="5.4"/><circle cx="1576.6" cy="993.4" r="5.4"/><circle cx="1535.9" cy="899.1" r="5.4"/><circle cx="1541.5" cy="978.7" r="5.4"/><circle cx="1585.2" cy="915.5" r="5.4"/><circle cx="1519.6" cy="933.9" r="5.4"/><circle cx="1537.7" cy="964.2" r="5.4"/><circle cx="1557.6" cy="851.7" r="5.4"/><circle cx="1520.3" cy="885" r="5.4"/><circle cx="1566.3" cy="922.5" r="5.4"/><circle cx="1529.4" cy="910.8" r="5.4"/><circle cx="1577.8" cy="941.6" r="5.4"/><circle cx="1584.2" cy="881" r="5.4"/><circle cx="1525.3" cy="851.9" r="5.4"/><circle cx="1519" cy="920.2" r="5.4"/><circle cx="1561.7" cy="943.3" r="5.4"/><circle cx="1519.2" cy="881.1" r="5.4"/><circle cx="1529.2" cy="999.9" r="5.4"/><circle cx="1520.5" cy="968.2" r="5.4"/><circle cx="1531.6" cy="977.8" r="5.4"/><circle cx="1574" cy="974" r="5.4"/><circle cx="1562.4" cy="878.8" r="5.4"/><circle cx="1520.6" cy="1056.4" r="5.4"/><circle cx="1528.3" cy="887.8" r="5.4"/><circle cx="1572.9" cy="950.8" r="5.4"/><circle cx="1561.1" cy="972.6" r="5.4"/><circle cx="1555.9" cy="949.2" r="5.4"/><circle cx="1567.4" cy="940.9" r="5.4"/><circle cx="1569.8" cy="884.6" r="5.4"/><circle cx="1519.4" cy="908.2" r="5.4"/><circle cx="1544.6" cy="932.8" r="5.4"/><circle cx="1526.5" cy="1010.5" r="5.4"/><circle cx="1576" cy="894.6" r="5.4"/><circle cx="1562.3" cy="973.9" r="5.4"/><circle cx="1558" cy="959" r="5.4"/><circle cx="1574.5" cy="938" r="5.4"/><circle cx="1564.7" cy="902.2" r="5.4"/><circle cx="1544.2" cy="925.5" r="5.4"/><circle cx="1521.2" cy="837" r="5.4"/><circle cx="1552.5" cy="940.9" r="5.4"/><circle cx="1576.8" cy="954.6" r="5.4"/><circle cx="1518" cy="905.9" r="5.4"/><circle cx="1581.9" cy="967.5" r="5.4"/><circle cx="1552.2" cy="955" r="5.4"/><circle cx="1545.9" cy="895" r="5.4"/><circle cx="1557.5" cy="987.4" r="5.4"/><circle cx="1585" cy="906.3" r="5.4"/><circle cx="1574.4" cy="1090.1" r="5.4"/><circle cx="1580.1" cy="878.8" r="5.4"/><circle cx="1570" cy="891.1" r="5.4"/><circle cx="1518" cy="900.8" r="5.4"/><circle cx="1584.3" cy="951.4" r="5.4"/><circle cx="1563.6" cy="1007.6" r="5.4"/><circle cx="1534.1" cy="942.4" r="5.4"/><circle cx="1523.3" cy="914" r="5.4"/><circle cx="1560.5" cy="1052.7" r="5.4"/><circle cx="1538.5" cy="999" r="5.4"/><circle cx="1571.3" cy="920.6" r="5.4"/><circle cx="1579.7" cy="929.8" r="5.4"/><circle cx="1559.7" cy="850.4" r="5.4"/><circle cx="1581.4" cy="938.7" r="5.4"/><circle cx="1518.6" cy="1041.1" r="5.4"/><circle cx="1548.8" cy="870.6" r="5.4"/><circle cx="1531.6" cy="856.4" r="5.4"/><circle cx="1527.4" cy="943.9" r="5.4"/><circle cx="1584.6" cy="801.6" r="5.4"/><circle cx="1522" cy="1020.3" r="5.4"/><circle cx="1557.3" cy="850.5" r="5.4"/><circle cx="1575.6" cy="894.4" r="5.4"/><circle cx="1549" cy="925.6" r="5.4"/><circle cx="1532.6" cy="1007.7" r="5.4"/><circle cx="1570.9" cy="958.3" r="5.4"/><circle cx="1561.8" cy="827.7" r="5.4"/><circle cx="1556.2" cy="839.1" r="5.4"/><circle cx="1535.9" cy="945.7" r="5.4"/><circle cx="1579.6" cy="815.7" r="5.4"/><circle cx="1550.7" cy="916" r="5.4"/><circle cx="1551.5" cy="886" r="5.4"/><circle cx="1581.4" cy="980.7" r="5.4"/><circle cx="1549.9" cy="1005.1" r="5.4"/><circle cx="1536.7" cy="790.9" r="5.4"/><circle cx="1578.3" cy="957.3" r="5.4"/><circle cx="1556" cy="970" r="5.4"/><circle cx="1575.2" cy="887.9" r="5.4"/><circle cx="1553.5" cy="897.1" r="5.4"/><circle cx="1569.8" cy="863.3" r="5.4"/><circle cx="1561.1" cy="910.9" r="5.4"/><circle cx="1532.8" cy="954.7" r="5.4"/><circle cx="1519.6" cy="1011.5" r="5.4"/><circle cx="1531.5" cy="1017.5" r="5.4"/><circle cx="1559.3" cy="913.8" r="5.4"/><circle cx="1543.9" cy="883.2" r="5.4"/><circle cx="1558.7" cy="990.3" r="5.4"/><circle cx="1560" cy="778.3" r="5.4"/><circle cx="1584.4" cy="851" r="5.4"/><circle cx="1548.2" cy="968.2" r="5.4"/><circle cx="1559.9" cy="1064.9" r="5.4"/><circle cx="1535.2" cy="885.4" r="5.4"/><circle cx="1561.7" cy="935.2" r="5.4"/><circle cx="1521.6" cy="866.8" r="5.4"/><circle cx="1539.1" cy="925.1" r="5.4"/><circle cx="1541.6" cy="925" r="5.4"/><circle cx="1577.4" cy="887" r="5.4"/><circle cx="1516.7" cy="953.1" r="5.4"/><circle cx="1528.6" cy="920" r="5.4"/><circle cx="1535.1" cy="960.3" r="5.4"/><circle cx="1523.1" cy="918.4" r="5.4"/><circle cx="1538.6" cy="862.3" r="5.4"/><circle cx="1570.5" cy="938.3" r="5.4"/><circle cx="1546.9" cy="982.1" r="5.4"/><circle cx="1575.9" cy="886" r="5.4"/><circle cx="1536.5" cy="1011.8" r="5.4"/><circle cx="1516.6" cy="957.7" r="5.4"/><circle cx="1565.2" cy="910.2" r="5.4"/><circle cx="1524.4" cy="932.5" r="5.4"/><circle cx="1569.7" cy="907" r="5.4"/><circle cx="1551.9" cy="880.1" r="5.4"/><circle cx="1536.5" cy="986.6" r="5.4"/><circle cx="1558.6" cy="985.7" r="5.4"/><circle cx="1561.9" cy="905.4" r="5.4"/><circle cx="1576.7" cy="920.5" r="5.4"/><circle cx="1548.2" cy="919.1" r="5.4"/><circle cx="1553.4" cy="973.3" r="5.4"/><circle cx="1540" cy="1020.2" r="5.4"/><circle cx="1529.2" cy="894" r="5.4"/><circle cx="1583.7" cy="949.8" r="5.4"/><circle cx="1537.7" cy="929.9" r="5.4"/><circle cx="1543.3" cy="965.3" r="5.4"/><circle cx="1524.2" cy="1019.3" r="5.4"/><circle cx="1532.9" cy="882.4" r="5.4"/><circle cx="1540.8" cy="816.1" r="5.4"/><circle cx="1575.8" cy="922" r="5.4"/><circle cx="1576" cy="841.8" r="5.4"/><circle cx="1573.4" cy="1033.6" r="5.4"/><circle cx="1553.1" cy="892.6" r="5.4"/><circle cx="1574.9" cy="915.9" r="5.4"/><circle cx="1518.3" cy="946.6" r="5.4"/><circle cx="1555" cy="944.5" r="5.4"/><circle cx="1544.8" cy="908.3" r="5.4"/><circle cx="1542.1" cy="932" r="5.4"/><circle cx="1521.1" cy="989.8" r="5.4"/><circle cx="1585.4" cy="914.8" r="5.4"/><circle cx="1582.2" cy="1045.2" r="5.4"/><circle cx="1576.5" cy="954" r="5.4"/><circle cx="1520.7" cy="800.5" r="5.4"/><circle cx="1571.5" cy="986.8" r="5.4"/><circle cx="1542" cy="834" r="5.4"/><circle cx="1517.7" cy="953.1" r="5.4"/><circle cx="1551.7" cy="1070.4" r="5.4"/><circle cx="1523.7" cy="998.5" r="5.4"/><circle cx="1564.2" cy="869.2" r="5.4"/><circle cx="1557.7" cy="887.1" r="5.4"/><circle cx="1516.9" cy="934" r="5.4"/><circle cx="1533" cy="1021.5" r="5.4"/><circle cx="1561.8" cy="891.8" r="5.4"/><circle cx="1564.8" cy="1000.5" r="5.4"/><circle cx="1560.3" cy="951.8" r="5.4"/><circle cx="1523.2" cy="927.2" r="5.4"/><circle cx="1568" cy="923.6" r="5.4"/><circle cx="1585.2" cy="1035.7" r="5.4"/><circle cx="1540.9" cy="848.5" r="5.4"/><circle cx="1528" cy="869.3" r="5.4"/><circle cx="1573.5" cy="987.9" r="5.4"/><circle cx="1553.4" cy="993.6" r="5.4"/><circle cx="1518.1" cy="860.1" r="5.4"/><circle cx="1527.7" cy="881.4" r="5.4"/><circle cx="1526.3" cy="868.3" r="5.4"/><circle cx="1571" cy="966.6" r="5.4"/><circle cx="1568.6" cy="896" r="5.4"/><circle cx="1577.2" cy="1019.9" r="5.4"/><circle cx="1527.9" cy="980" r="5.4"/><circle cx="1550.4" cy="949.2" r="5.4"/><circle cx="1558.2" cy="945.2" r="5.4"/><circle cx="1566.4" cy="966" r="5.4"/><circle cx="1577" cy="984.5" r="5.4"/><circle cx="1540.2" cy="933.6" r="5.4"/><circle cx="1518.2" cy="948.5" r="5.4"/><circle cx="1549.1" cy="980.9" r="5.4"/><circle cx="1562.1" cy="928.8" r="5.4"/><circle cx="1525.2" cy="993.8" r="5.4"/><circle cx="1553.5" cy="924.9" r="5.4"/><circle cx="1535.5" cy="889.6" r="5.4"/><circle cx="1571.4" cy="944.2" r="5.4"/><circle cx="1558.1" cy="1033.7" r="5.4"/><circle cx="1556" cy="1024.1" r="5.4"/><circle cx="1517.4" cy="842.9" r="5.4"/><circle cx="1521.7" cy="951.2" r="5.4"/><circle cx="1548.8" cy="904.5" r="5.4"/><circle cx="1553.7" cy="914" r="5.4"/><circle cx="1542.2" cy="912.8" r="5.4"/><circle cx="1530.6" cy="919.1" r="5.4"/><circle cx="1524" cy="902.6" r="5.4"/><circle cx="1525.4" cy="916.3" r="5.4"/><circle cx="1556" cy="945.4" r="5.4"/><circle cx="1553.6" cy="864.3" r="5.4"/><circle cx="1543" cy="862.5" r="5.4"/><circle cx="1563.9" cy="868.9" r="5.4"/><circle cx="1569.8" cy="868" r="5.4"/><circle cx="1576.6" cy="967.8" r="5.4"/><circle cx="1555.7" cy="869.5" r="5.4"/><circle cx="1567.1" cy="926.9" r="5.4"/><circle cx="1577.7" cy="935.3" r="5.4"/><circle cx="1550.9" cy="975" r="5.4"/><circle cx="1569.7" cy="933.1" r="5.4"/><circle cx="1538.2" cy="995.8" r="5.4"/><circle cx="1530.5" cy="928.1" r="5.4"/><circle cx="1577.3" cy="946.6" r="5.4"/><circle cx="1569" cy="977.7" r="5.4"/><circle cx="1550" cy="849.7" r="5.4"/><circle cx="1568" cy="955.1" r="5.4"/><circle cx="1573.2" cy="1023.6" r="5.4"/><circle cx="1555.4" cy="938.2" r="5.4"/><circle cx="1570.8" cy="917.8" r="5.4"/><circle cx="1518.6" cy="1047.4" r="5.4"/><circle cx="1581.3" cy="937.8" r="5.4"/><circle cx="1576.9" cy="1006.7" r="5.4"/><circle cx="1563.2" cy="798.5" r="5.4"/><circle cx="1577.2" cy="937.8" r="5.4"/><circle cx="1549.6" cy="903.3" r="5.4"/><circle cx="1551.8" cy="954.9" r="5.4"/><circle cx="1516.9" cy="1003.6" r="5.4"/><circle cx="1517.1" cy="923.1" r="5.4"/><circle cx="1543.3" cy="918.9" r="5.4"/><circle cx="1542.5" cy="979.5" r="5.4"/><circle cx="1582.2" cy="1012.6" r="5.4"/><circle cx="1577.9" cy="940.6" r="5.4"/><circle cx="1533.7" cy="904.8" r="5.4"/><circle cx="1548.2" cy="953.8" r="5.4"/><circle cx="1537.9" cy="994.6" r="5.4"/><circle cx="1559.3" cy="971" r="5.4"/><circle cx="1563.4" cy="1058.4" r="5.4"/><circle cx="1522.1" cy="900.2" r="5.4"/><circle cx="1534" cy="855.5" r="5.4"/><circle cx="1530.8" cy="961.5" r="5.4"/><circle cx="1551.4" cy="1009" r="5.4"/><circle cx="1541.3" cy="906" r="5.4"/><circle cx="1548.1" cy="931.9" r="5.4"/><circle cx="1536.5" cy="895.6" r="5.4"/><circle cx="1529.7" cy="861.2" r="5.4"/><circle cx="1538.5" cy="890.4" r="5.4"/><circle cx="1519" cy="815.8" r="5.4"/><circle cx="1552.2" cy="948" r="5.4"/><circle cx="1531.1" cy="959.6" r="5.4"/><circle cx="1560.6" cy="985.4" r="5.4"/><circle cx="1571.3" cy="885" r="5.4"/><circle cx="1524.7" cy="895.5" r="5.4"/><circle cx="1539.5" cy="837.2" r="5.4"/><circle cx="1564.1" cy="849.6" r="5.4"/><circle cx="1532.3" cy="985.4" r="5.4"/><circle cx="1580.3" cy="871.9" r="5.4"/><circle cx="1535.2" cy="908.9" r="5.4"/><circle cx="1561.2" cy="987.8" r="5.4"/><circle cx="1553.7" cy="892.1" r="5.4"/><circle cx="1579.8" cy="966.5" r="5.4"/><circle cx="1571.2" cy="914.1" r="5.4"/><circle cx="1568.7" cy="914.2" r="5.4"/><circle cx="1519.4" cy="986.2" r="5.4"/><circle cx="1531.3" cy="916.8" r="5.4"/><circle cx="1583.7" cy="860.1" r="5.4"/><circle cx="1525.5" cy="981.2" r="5.4"/><circle cx="1570.5" cy="932.5" r="5.4"/><circle cx="1585.2" cy="900" r="5.4"/><circle cx="1527.7" cy="886" r="5.4"/><circle cx="1584.5" cy="966.4" r="5.4"/><circle cx="1573.2" cy="890.8" r="5.4"/><circle cx="1516.6" cy="938.4" r="5.4"/><circle cx="1521.3" cy="992.2" r="5.4"/><circle cx="1521.4" cy="925" r="5.4"/><circle cx="1531.2" cy="997.6" r="5.4"/><circle cx="1518.3" cy="853.9" r="5.4"/><circle cx="1527.6" cy="968.2" r="5.4"/><circle cx="1574.4" cy="963.6" r="5.4"/><circle cx="1577.3" cy="1045.4" r="5.4"/><circle cx="1562.1" cy="932.4" r="5.4"/><circle cx="1547.3" cy="985.8" r="5.4"/><circle cx="1563.2" cy="922.3" r="5.4"/><circle cx="1567" cy="871.8" r="5.4"/><circle cx="1552.3" cy="882" r="5.4"/><circle cx="1520.8" cy="891.7" r="5.4"/><circle cx="1516.8" cy="978.7" r="5.4"/><circle cx="1528.6" cy="887.6" r="5.4"/><circle cx="1533.7" cy="933.8" r="5.4"/><circle cx="1581.1" cy="986.2" r="5.4"/><circle cx="1564.3" cy="1007" r="5.4"/><circle cx="1560.2" cy="988.5" r="5.4"/><circle cx="1553.7" cy="1022.4" r="5.4"/><circle cx="1570.7" cy="867.9" r="5.4"/><circle cx="1553.6" cy="904" r="5.4"/><circle cx="1585.4" cy="950.7" r="5.4"/><circle cx="1579.4" cy="999.4" r="5.4"/><circle cx="1533" cy="962.1" r="5.4"/><circle cx="1560.8" cy="888.5" r="5.4"/><circle cx="1559.2" cy="920.8" r="5.4"/><circle cx="1584" cy="839" r="5.4"/><circle cx="1566" cy="980.6" r="5.4"/><circle cx="1581.8" cy="831.5" r="5.4"/><circle cx="1548" cy="944.6" r="5.4"/><circle cx="1565.2" cy="997.1" r="5.4"/><circle cx="1519.5" cy="986.5" r="5.4"/><circle cx="1542.8" cy="841.2" r="5.4"/><circle cx="1541" cy="944.5" r="5.4"/><circle cx="1579.7" cy="912" r="5.4"/><circle cx="1542.1" cy="914.8" r="5.4"/><circle cx="1570.1" cy="1031.6" r="5.4"/><circle cx="1526.1" cy="948.9" r="5.4"/><circle cx="1548.5" cy="851.3" r="5.4"/><circle cx="1546.2" cy="871" r="5.4"/><circle cx="1532.8" cy="974.7" r="5.4"/><circle cx="1538.6" cy="945.1" r="5.4"/><circle cx="1517.1" cy="867.9" r="5.4"/><circle cx="1559.4" cy="837.5" r="5.4"/><circle cx="1583.7" cy="900.2" r="5.4"/><circle cx="1536.2" cy="906.6" r="5.4"/><circle cx="1538.1" cy="980.9" r="5.4"/><circle cx="1528.4" cy="896.8" r="5.4"/><circle cx="1580.4" cy="971.7" r="5.4"/><circle cx="1582.8" cy="1004.7" r="5.4"/><circle cx="1530.8" cy="841.1" r="5.4"/><circle cx="1578.7" cy="897.9" r="5.4"/><circle cx="1560.9" cy="1025.2" r="5.4"/><circle cx="1548.3" cy="905.6" r="5.4"/><circle cx="1571.1" cy="929.6" r="5.4"/><circle cx="1565.5" cy="989.2" r="5.4"/><circle cx="1568.7" cy="887.8" r="5.4"/><circle cx="1532.4" cy="907" r="5.4"/><circle cx="1527.8" cy="837.6" r="5.4"/><circle cx="1576.3" cy="963.7" r="5.4"/><circle cx="1526.1" cy="902.5" r="5.4"/><circle cx="1567.2" cy="909" r="5.4"/><circle cx="1546.7" cy="785.6" r="5.4"/><circle cx="1562.9" cy="988.4" r="5.4"/><circle cx="1551.8" cy="971.5" r="5.4"/><circle cx="1582.5" cy="884.8" r="5.4"/><circle cx="1570.9" cy="1003.8" r="5.4"/><circle cx="1578.2" cy="791.8" r="5.4"/><circle cx="1517.2" cy="925.1" r="5.4"/><circle cx="1560.7" cy="834.4" r="5.4"/><circle cx="1522.5" cy="782.2" r="5.4"/><circle cx="1535.7" cy="860.1" r="5.4"/><circle cx="1581" cy="885.8" r="5.4"/><circle cx="1566.8" cy="977" r="5.4"/><circle cx="1568.8" cy="978.5" r="5.4"/><circle cx="1545.3" cy="951.3" r="5.4"/><circle cx="1578.4" cy="913.9" r="5.4"/><circle cx="1559.6" cy="1058.2" r="5.4"/><circle cx="1567.1" cy="887.3" r="5.4"/><circle cx="1524.8" cy="946.4" r="5.4"/><circle cx="1517.6" cy="1034.2" r="5.4"/><circle cx="1574" cy="858.4" r="5.4"/><circle cx="1549.5" cy="882.1" r="5.4"/><circle cx="1566.9" cy="994.6" r="5.4"/><circle cx="1553.1" cy="954.9" r="5.4"/><circle cx="1538.2" cy="853.8" r="5.4"/><circle cx="1527.4" cy="929.2" r="5.4"/><circle cx="1576.8" cy="1044.6" r="5.4"/><circle cx="1531" cy="912.9" r="5.4"/><circle cx="1516.5" cy="976.2" r="5.4"/><circle cx="1543.3" cy="934.7" r="5.4"/><circle cx="1554" cy="888.6" r="5.4"/><circle cx="1569.5" cy="1025.5" r="5.4"/><circle cx="1527.1" cy="986.1" r="5.4"/><circle cx="1552.4" cy="1000" r="5.4"/><circle cx="1537.4" cy="918.6" r="5.4"/><circle cx="1522.1" cy="932.9" r="5.4"/><circle cx="1570.2" cy="940.4" r="5.4"/><circle cx="1546.5" cy="954" r="5.4"/><circle cx="1568.7" cy="907.5" r="5.4"/><circle cx="1542" cy="898.6" r="5.4"/><circle cx="1585.5" cy="1006.7" r="5.4"/><circle cx="1534.2" cy="865" r="5.4"/><circle cx="1531.1" cy="901.9" r="5.4"/><circle cx="1570.8" cy="905.5" r="5.4"/><circle cx="1556.1" cy="897.8" r="5.4"/><circle cx="1530.2" cy="858.8" r="5.4"/><circle cx="1547.6" cy="883.4" r="5.4"/><circle cx="1557.9" cy="975.2" r="5.4"/><circle cx="1556.5" cy="906.3" r="5.4"/><circle cx="1517" cy="885" r="5.4"/><circle cx="1581.9" cy="1028.2" r="5.4"/><circle cx="1565.7" cy="851.5" r="5.4"/><circle cx="1585.4" cy="989.5" r="5.4"/><circle cx="1559.1" cy="947.6" r="5.4"/><circle cx="1532.8" cy="850.4" r="5.4"/><circle cx="1542.1" cy="903.8" r="5.4"/><circle cx="1576.1" cy="904.6" r="5.4"/><circle cx="1565.3" cy="1005.1" r="5.4"/><circle cx="1539.5" cy="982.1" r="5.4"/><circle cx="1572.1" cy="910.7" r="5.4"/><circle cx="1559.4" cy="860.3" r="5.4"/><circle cx="1547" cy="831.3" r="5.4"/><circle cx="1531" cy="916.8" r="5.4"/><circle cx="1535.3" cy="847.6" r="5.4"/><circle cx="1547.9" cy="916.3" r="5.4"/><circle cx="1564.5" cy="914.7" r="5.4"/><circle cx="1557" cy="948.9" r="5.4"/><circle cx="1535.3" cy="987.1" r="5.4"/><circle cx="1584.8" cy="932.5" r="5.4"/><circle cx="1528.5" cy="954.7" r="5.4"/><circle cx="1544.4" cy="916.6" r="5.4"/><circle cx="1521.7" cy="989.5" r="5.4"/><circle cx="1547.4" cy="975.8" r="5.4"/><circle cx="1554.3" cy="1023.5" r="5.4"/><circle cx="1555.3" cy="1010.2" r="5.4"/><circle cx="1558.4" cy="885.3" r="5.4"/><circle cx="1525.1" cy="844.3" r="5.4"/><circle cx="1567.7" cy="965.2" r="5.4"/><circle cx="1548.2" cy="996" r="5.4"/><circle cx="1574.6" cy="888.6" r="5.4"/><circle cx="1579.8" cy="1017.7" r="5.4"/><circle cx="1579.8" cy="931.8" r="5.4"/><circle cx="1578.1" cy="921.3" r="5.4"/><circle cx="1556.7" cy="947.6" r="5.4"/><circle cx="1553.4" cy="847.2" r="5.4"/><circle cx="1535.8" cy="833.6" r="5.4"/><circle cx="1548.1" cy="906.4" r="5.4"/><circle cx="1536.1" cy="859.8" r="5.4"/><circle cx="1553.6" cy="924.6" r="5.4"/><circle cx="1581.8" cy="925.2" r="5.4"/><circle cx="1524" cy="717" r="5.4"/><circle cx="1563" cy="709" r="5.4"/><circle cx="1551" cy="1144" r="5.4"/><circle cx="1528" cy="792" r="5.4"/><circle cx="1536" cy="790" r="5.4"/><circle cx="1578" cy="795" r="5.4"/></g>
<g stroke="#8b7c6c" fill="none">
<line x1="1444.8" y1="819.4" x2="1444.8" y2="923.5" stroke="#8b7c6c" stroke-width="2.5"/>
<line x1="1444.8" y1="1006.8" x2="1444.8" y2="1129.5" stroke="#8b7c6c" stroke-width="2.5"/>
<rect x="1404.5" y="923.5" width="80.5" height="83.3" fill="none" stroke="#8b7c6c" stroke-width="2.5"/>
<line x1="1404.5" y1="963.3" x2="1485" y2="963.3" stroke="#8b7c6c" stroke-width="4.6"/>
</g>
<g stroke="#4d8b8b" fill="none">
<line x1="1551" y1="778.3" x2="1551" y2="893.7" stroke="#4d8b8b" stroke-width="2.5"/>
<line x1="1551" y1="972.5" x2="1551" y2="1090.1" stroke="#4d8b8b" stroke-width="2.5"/>
<rect x="1510.8" y="893.7" width="80.5" height="78.8" fill="none" stroke="#4d8b8b" stroke-width="2.5"/>
<line x1="1510.8" y1="931.4" x2="1591.2" y2="931.4" stroke="#4d8b8b" stroke-width="4.6"/>
</g>
<line x1="1381.4" y1="663.8" x2="1381.4" y2="1184.1" stroke="#000" stroke-width="1.6"/>
<line x1="1375.9" y1="1119.3" x2="1381.4" y2="1119.3" stroke="#000" stroke-width="1.2"/>
<text x="1374.4" y="1128.7" font-size="26" text-anchor="end">3</text>
<line x1="1375.9" y1="1006.9" x2="1381.4" y2="1006.9" stroke="#000" stroke-width="1.2"/>
<text x="1374.4" y="1016.3" font-size="26" text-anchor="end">4</text>
<line x1="1375.9" y1="894.5" x2="1381.4" y2="894.5" stroke="#000" stroke-width="1.2"/>
<text x="1374.4" y="903.9" font-size="26" text-anchor="end">5</text>
<line x1="1375.9" y1="782.1" x2="1381.4" y2="782.1" stroke="#000" stroke-width="1.2"/>
<text x="1374.4" y="791.5" font-size="26" text-anchor="end">6</text>
<line x1="1375.9" y1="669.7" x2="1381.4" y2="669.7" stroke="#000" stroke-width="1.2"/>
<text x="1374.4" y="679.1" font-size="26" text-anchor="end">7</text>
<line x1="1380.6" y1="1183.3" x2="1614.4" y2="1183.3" stroke="#000" stroke-width="1.6"/>
<line x1="1444.8" y1="1183.3" x2="1444.8" y2="1188.8" stroke="#000" stroke-width="1.2"/>
<text x="1444.8" y="1217.3" font-size="26" text-anchor="middle">C</text>
<line x1="1551" y1="1183.3" x2="1551" y2="1188.8" stroke="#000" stroke-width="1.2"/>
<text x="1551" y="1217.3" font-size="26" text-anchor="middle">PD</text>
<text x="1499.3" y="683.4" font-size="23.2" text-anchor="middle">9.8*10<tspan dy="-8.6" font-size="14.4">-9</tspan></text>
<line x1="1444.1" y1="686.8" x2="1551.7" y2="686.8" stroke="#1a1a1a" stroke-width="1.4"/>
<g stroke="#7db9e5" fill="none">
<line x1="1718.3" y1="912.6" x2="1718.3" y2="955.4" stroke="#7db9e5" stroke-width="2.1"/>
<line x1="1718.3" y1="994.8" x2="1718.3" y2="1047.9" stroke="#7db9e5" stroke-width="2.1"/>
<rect x="1698.9" y="955.4" width="38.8" height="39.4" fill="none" stroke="#7db9e5" stroke-width="2.1"/>
<line x1="1698.9" y1="981.1" x2="1737.7" y2="981.1" stroke="#7db9e5" stroke-width="2.1"/>
</g>
<path transform="scale(.5)" d="M3455 2017h0m-44-110h0m36-60h0m-16 110h0m-2 6h0m-13 0h0m19 133h0m-7-176h0m-22 96h0m47-18h0m14 22h0m0-65h0m-14-16h0m14 9h0m-20 27h0m-29 26h0m11 28h0m14-198h0m-6 175h0m21-28h0m4-13h0m-32-79h0m-1 91h0m-1-149h0m-4 185h0m13-119h0m-14 62h0m-17-4h0m13 35h0m17-123h0m-8 133h0m19-17h0m16 46h0m-15-50h0m-8-21h0m-2-130h0m20-225h0m-40 114h0m-2 612h0" stroke="#7db9e5" stroke-width="20.4" stroke-linecap="round" fill="none"/>
<g stroke="#8150a1" fill="none">
<line x1="1769.3" y1="866" x2="1769.3" y2="915" stroke="#8150a1" stroke-width="2.1"/>
<line x1="1769.3" y1="965" x2="1769.3" y2="990.3" stroke="#8150a1" stroke-width="2.1"/>
<rect x="1749.9" y="915" width="38.8" height="50" fill="none" stroke="#8150a1" stroke-width="2.1"/>
<line x1="1749.9" y1="942.4" x2="1788.7" y2="942.4" stroke="#8150a1" stroke-width="2.1"/>
</g>
<path transform="scale(.5)" d="M3518 1981h0m-1-150h0m-8 67h0m7-72h0m12 102h0m-10 1h0m30-122h0m-4 113h0m15-147h0m-16 42h0m-26-74h0m19-9h0m33 144h0m-18 36h0m12-156h0m-2 100h0m-36 2h0m0 26h0m21 84h0m-7-107h0m10 61h0m12-101h0m-33 35h0m37 39h0m3-8h0m-52-62h0m33 76h0m15 25h0m-47 2h0m32-40h0m2-78h0m2 121h0m-41 11h0m0-135h0m53 63h0m-57 83h0m21-10h0m5-153h0m32-324h0m-58 194h0m16-2h0m38 74h0" stroke="#8150a1" stroke-width="20.4" stroke-linecap="round" fill="none"/>
<g stroke="#ebaa1f" fill="none">
<line x1="1842.3" y1="897.1" x2="1842.3" y2="948.5" stroke="#ebaa1f" stroke-width="2.1"/>
<line x1="1842.3" y1="992.4" x2="1842.3" y2="1056.5" stroke="#ebaa1f" stroke-width="2.1"/>
<rect x="1822.9" y="948.5" width="38.8" height="43.9" fill="none" stroke="#ebaa1f" stroke-width="2.1"/>
<line x1="1822.9" y1="967.4" x2="1861.7" y2="967.4" stroke="#ebaa1f" stroke-width="2.1"/>
</g>
<path transform="scale(.5)" d="M3709 1831h0m-18 80h0m7-42h0m-32 87h0m-6-33h0m47 49h0m-32-89h0m4-48h0m2 90h0m34-29h0m-4 217h0m-22-169h0m-13 88h0m-23-67h0m34-54h0m19-66h0m6 71h0m-45 56h0m25-39h0m-21 18h0m10-1h0m33-95h0m-51 95h0m51-65h0m-60 42h0m1 100h0m20-233h0m29 121h0m-3 38h0m6 53h0m-3-73h0m-24-49h0m1 101h0m2-15h0m0-138h0m23 101h0m-16-307h0m26 114h0" stroke="#ebaa1f" stroke-width="20.4" stroke-linecap="round" fill="none"/>
<g stroke="#8c2a1d" fill="none">
<line x1="1892.7" y1="870" x2="1892.7" y2="896.4" stroke="#8c2a1d" stroke-width="2.1"/>
<line x1="1892.7" y1="947.9" x2="1892.7" y2="1020.5" stroke="#8c2a1d" stroke-width="2.1"/>
<rect x="1873.3" y="896.4" width="38.8" height="51.5" fill="none" stroke="#8c2a1d" stroke-width="2.1"/>
<line x1="1873.3" y1="922.8" x2="1912.1" y2="922.8" stroke="#8c2a1d" stroke-width="2.1"/>
</g>
<path transform="scale(.5)" d="M3787 1753h0m-18 103h0m-1-79h0m41 178h0m-56-73h0m9 40h0m32-63h0m24 74h0m-64-68h0m6-8h0m47 131h0m-24-232h0m21 130h0m-8 71h0m-12-129h0m30-88h0m-33 88h0m9 213h0m-9-159h0m-17-82h0m32 55h0m-20 33h0m-23 75h0m29-134h0m-2-41h0m-19 107h0m22-114h0m-29 90h0m25-13h0m-11 60h0m-11-129h0m4 2h0m21 75h0m20 13h0m5-99h0m-51 77h0m10-257h0" stroke="#8c2a1d" stroke-width="20.4" stroke-linecap="round" fill="none"/>
<line x1="1688.8" y1="689.5" x2="1688.8" y2="1186.5" stroke="#000" stroke-width="1.6"/>
<line x1="1683.3" y1="1149.5" x2="1688.8" y2="1149.5" stroke="#000" stroke-width="1.2"/>
<text x="1681.8" y="1158.9" font-size="26" text-anchor="end">−2.5</text>
<line x1="1683.3" y1="1006.8" x2="1688.8" y2="1006.8" stroke="#000" stroke-width="1.2"/>
<text x="1681.8" y="1016.2" font-size="26" text-anchor="end">0.0</text>
<line x1="1683.3" y1="864.1" x2="1688.8" y2="864.1" stroke="#000" stroke-width="1.2"/>
<text x="1681.8" y="873.5" font-size="26" text-anchor="end">2.5</text>
<line x1="1683.3" y1="721.4" x2="1688.8" y2="721.4" stroke="#000" stroke-width="1.2"/>
<text x="1681.8" y="730.8" font-size="26" text-anchor="end">5.0</text>
<line x1="1688" y1="1185.7" x2="1798.8" y2="1185.7" stroke="#000" stroke-width="1.6"/>
<line x1="1811.7" y1="1185.7" x2="1922.9" y2="1185.7" stroke="#000" stroke-width="1.6"/>
<line x1="1718.3" y1="1185.7" x2="1718.3" y2="1191.2" stroke="#000" stroke-width="1.2"/>
<text x="1718.3" y="1219.7" font-size="26" text-anchor="middle">C</text>
<line x1="1769.3" y1="1185.7" x2="1769.3" y2="1191.2" stroke="#000" stroke-width="1.2"/>
<text x="1769.3" y="1219.7" font-size="26" text-anchor="middle">PD</text>
<line x1="1842.3" y1="1185.7" x2="1842.3" y2="1191.2" stroke="#000" stroke-width="1.2"/>
<text x="1842.3" y="1219.7" font-size="26" text-anchor="middle">C</text>
<line x1="1892.7" y1="1185.7" x2="1892.7" y2="1191.2" stroke="#000" stroke-width="1.2"/>
<text x="1892.7" y="1219.7" font-size="26" text-anchor="middle">PD</text>
<rect x="1689.8" y="651.5" width="109" height="37" fill="#fff" stroke="#000" stroke-width="2.0"/>
<text x="1744.8" y="678" font-size="25.3" text-anchor="middle">Caudate</text>
<rect x="1813.5" y="651.5" width="109.4" height="37" fill="#fff" stroke="#000" stroke-width="2.0"/>
<text x="1868.7" y="678" font-size="25.3" text-anchor="middle">Putamen</text>
<text x="1752.4" y="716" font-size="23.2" text-anchor="middle">3.1*10<tspan dy="-8.6" font-size="14.4">-5</tspan></text>
<line x1="1721.4" y1="719.4" x2="1772.1" y2="719.4" stroke="#1a1a1a" stroke-width="1.4"/>
<text x="1869.5" y="716" font-size="23.2" text-anchor="middle">4.9*10<tspan dy="-8.6" font-size="14.4">-5</tspan></text>
<line x1="1841.6" y1="719.4" x2="1892" y2="719.4" stroke="#1a1a1a" stroke-width="1.4"/>
<path transform="scale(.5)" d="M864 3654h0m110 68h0m353-137h0m-299 37h0m44 170h0m216-45h0m-365-70h0m-145-18h0m51-14h0m467 2h0m-210 103h0m-293-85h0m-8 4h0m297 126h0m-58-188h0m-105 103h0m-67 3h0m523-125h0m-72 109h0m-452 0h0m299 96h0m170-59h0m95-139h0m-395 76h0m3-51h0m-47 1h0m-6-5h0m460 4h0m-192 29h0m-371 57h0m482 9h0m-184-10h0m-375-75h0m96 60h0m509-21h0m-572-70h0m-99-14h0m246 52h0m42-21h0m-15 103h0m266-134h0m-291 116h0m-139-25h0m47-23h0m-27-46h0m363 111h0m-22 64h0m-282-45h0m-30-15h0m80 32h0m421-155h0m-462 61h0m351 97h0m-295-93h0m-137-50h0m94 129h0m423-75h0m-435 17h0m439 13h0m-565-45h0m174 33h0m7-57h0m267 84h0m-247-23h0m-123-27h0m138 33h0m261-69h0m-273-1h0m379-9h0m-469 26h0m286 31h0m-151 107h0m-164-86h0m-114-69h0m437 134h0m-140-31h0m-48-131h0m-91 48h0m465 0h0m-344 53h0m-3-30h0m-15-16h0m363-25h0m-190 24h0m-289 53h0m375-70h0m-281 109h0m-259-135h0m179 81h0m123 52h0m248-78h0m-249 117h0m-237-153h0m71-38h0m292 199h0m106-72h0m-456-52h0m50-48h0m9 57h0m92 86h0m-123-83h0m375 9h0m-267-57h0m-125-30h0m202 38h0m309-38h0m-433 58h0m464 30h0m-567-83h0m162-10h0m28 72h0m202-26h0m114 23h0m-186 114h0m108-138h0m17 75h0m4-52h0m-265-54h0m279 91h0m-38-21h0m56 0h0m-111 110h0m67-96h0m-416-99h0m13 92h0m143-14h0m269 62h0m-370-85h0m-57-12h0m577 22h0m-95-61h0m-129 188h0m-324-166h0m496 51h0m-67 41h0m-393-16h0m128-59h0m136 84h0m61-19h0m-421-95h0m-10-15h0m452 178h0m-443-151h0m137 84h0m31-25h0m52-44h0m-134-9h0m152 52h0m17 10h0m19 32h0m-287-125h0m230 113h0m232 60h0m-273-136h0m280 46h0m100-53h0m-155 38h0m-258 8h0m399-41h0m-321 20h0m314-42h0m-460 53h0m142 2h0m-148-56h0m81 80h0m-82-67h0m523-27h0m-168 184h0m-400-185h0m232 131h0m-59 34h0m29-55h0m-44 17h0m-88-114h0m346 33h0m40 72h0m-249 41h0m-224-145h0m173 41h0m297 34h0m-446-1h0m24-22h0m482 18h0m-514-18h0m416 46h0m109-16h0m-573-72h0m245 77h0m152 70h0m-431-171h0m89 62h0m231 131h0m276-161h0m-175 95h0m60-86h0m-251 81h0m313-46h0m-274 13h0m178 24h0m135 5h0m-565-121h0m53 63h0m87-29h0m404 10h0m-315-16h0m-148 28h0m0-56h0m67 127h0m-95-124h0m274 156h0m158 25h0m-404-73h0m111-63h0m422 52h0m-336-6h0m195-95h0m-349 25h0m445 91h0m-115 21h0m176-40h0m-501-33h0m149 76h0m-235-66h0m-11-8h0m228 61h0m-175-6h0m-92-86h0m461 26h0m90 53h0m-387-49h0m439 38h0m-155-3h0m-271-50h0m132 101h0m114 8h0m-157-75h0m175 47h0m-167 5h0m391-101h0m-529 66h0m82 27h0m287-80h0m-332 10h0m452 9h0m-364 14h0m301 75h0m61-121h0m-471 16h0m98-7h0m430-19h0m-402 7h0m332 17h0m-536-5h0m86-17h0m-32 20h0m499-39h0m-61 69h0m-369 30h0m89 15h0m-59-84h0m323 121h0m-332-74h0m-72-75h0m-35 48h0m24-5h0m78 64h0m-39 26h0m363-5h0m-79 15h0m-310-60h0m-79 1h0m548 2h0m-516 6h0m70 11h0m136 56h0m10-19h0m-229-30h0m174-117h0m54 108h0m362-92h0m-195-11h0m-448 27h0m627-24h0m-584 58h0m327 121h0m-200-130h0m296 66h0m-285 34h0m-185-157h0m-34 28h0m275 143h0m-131-79h0m388 45h0m-284-15h0m-28 11h0m406-89h0m-38-44h0m-519 86h0m385 49h0m-401-110h0m-13 6h0m83 4h0m65 27h0m-134 20h0m305 120h0m-269-176h0m18 1h0m16 25h0m334 57h0m-184 40h0m-68-23h0m89-50h0m118 60h0m-94-17h0m316-79h0m-128 56h0m-318-43h0m-169-11h0m595-32h0m-574 59h0m88-57h0m359 122h0m-271-37h0m345-5h0m-112-33h0m-414-42h0m155 25h0m11 21h0m-13 69h0m269 10h0m87-111h0m-287-12h0m256 71h0m-280 25h0m336-55h0m-298-60h0m-188 34h0m605-8h0m-603 10h0m39 55h0m-10-5h0m462 39h0m-173 60h0m-164-29h0m-33-121h0m347 45h0m-303-52h0m-46 41h0m243 51h0m-14-26h0m-107 48h0m355-104h0m-548-42h0m315 134h0m127-42h0m-550-55h0m192-36h0m-76 81h0m156 114h0m237-148h0m157-47h0m-105 48h0m-324 136h0m-9-87h0m227-52h0m4 10h0m-239 11h0m-82 12h0m-65-31h0m403 14h0m-152 128h0m-354-165h0m582 26h0m-56-6h0m-365 56h0m439-33h0m-293 105h0m-224-76h0m332 49h0m-274-67h0m31-67h0m421 36h0m-448 80h0m313-43h0m-108 95h0m-257-136h0m186 144h0m217-120h0m-234 54h0m237-112h0m-37 128h0m-140 34h0m-168-131h0m-100 32h0m484 95h0m-415-155h0m353 8h0m-340 71h0m-20-37h0m369-17h0m-245 37h0m-216-14h0m55-8h0m205 26h0m-11 64h0m297-141h0m-379-1h0m78 144h0m240-58h0m-496-42h0m202 13h0m29-56h0m-124 46h0m12 16h0m46-32h0m-32-18h0m419 29h0m-535 12h0m480 7h0m-47 104h0m68-144h0m-261 143h0m-10 12h0m291-57h0m123-118h0m-150 100h0m145-47h0m-516-27h0m182 144h0m-29-20h0m-146-77h0m40 85h0m460-134h0m-520 91h0m424 23h0m47-126h0m-531 8h0m516 83h0m-68 50h0m-326-11h0m32 2h0m326-107h0m96 27h0m-406-28h0m56 143h0m268-127h0m-74-20h0m-452-5h0m574 59h0m-120-45h0m-241 3h0m-51 52h0m-44-59h0m40 52h0m342-30h0m16-11h0m-171 147h0m234-176h0m-488-8h0m335 142h0m-320-15h0m15-107h0m-136-6h0m358 189h0m158-210h0m-278 18h0m-54 51h0m429-15h0m-626-7h0m123-18h0m374-34h0m-498 8h0m488 59h0m81-49h0m-329 34h0m-155 33h0m120-9h0m-168-56h0m607-16h0m-126 2h0m12 103h0m-305-40h0m-140-45h0m128 17h0m-46 40h0m397-10h0m-406 30h0m-164-89h0m588 83h0m-136 89h0m-386-75h0m240 52h0m-94-151h0m-63 107h0m13-100h0m370 138h0m-262-55h0m-57 71h0m-171-133h0m74 59h0m126-27h0m232-5h0m10-67h0m1 131h0m-399-23h0m433-2h0m-322-21h0m28 15h0m66 31h0m287 1h0m-89-111h0m110 94h0m-167 31h0m-209-140h0m277 28h0m-54 115h0m194-143h0m-493 10h0m77 62h0m211 13h0m231-37h0m-272 131h0m108-121h0m-472-11h0m404 31h0m235-36h0m-208 61h0m50-45h0m116 10h0m-378-35h0m437-27h0m-154 89h0m-328 12h0m317-83h0m-123 128h0m210-99h0m57-2h0m-438-32h0m275 134h0m-293-25h0m-193-118h0m192 71h0m372-20h0m-5 15h0m-286 15h0m239-72h0m-386 48h0m514-39h0m-304 178h0m163-142h0m1 37h0m-406-30h0m65-69h0m106 185h0m-99-48h0m-144-92h0m248 132h0m182-96h0m-71 66h0m110-150h0m-451-5h0m91 91h0m324-37h0m-409 28h0m395-11h0m19 7h0m-409-18h0m186-47h0m248-3h0m-347-6h0m184 182h0m-109-146h0m-225-15h0m145 48h0m69-3h0m-56 26h0m-97-28h0m503 76h0m-96-122h0m113 12h0m-392-9h0m101 132h0m-42-17h0m-205-121h0m47 11h0m13 56h0m130 24h0m-58-51h0m413-16h0m-132-10h0m-347 28h0m360 55h0m-204-21h0m15-35h0m273 15h0m-348-41h0m206 172h0m-228-93h0m48-81h0m-84 59h0m321 48h0m-336-51h0m235 117h0m298-202h0m-100 57h0m-164 128h0m53-140h0m-169 40h0m217-40h0m-100 135h0m-376-182h0m235 160h0m231-39h0m88-103h0m-107 71h0m-338-37h0m227 165h0m-186-129h0m32 43h0m169 52h0m232-129h0m-66 52h0m96-55h0m-77-34h0m-471-4h0m386 139h0m202-139h0m-68 45h0m-19 19h0m-516-2h0m103-71h0m283 62h0m105 70h0m-494-115h0m181-14h0m288 84h0m-293 9h0m279-46h0m-330 115h0m252-130h0m-214 12h0m-104-9h0m385 18h0m-300 25h0m254 23h0m-285-33h0m9-67h0m-205-8h0m455 127h0m-38 56h0m-385-131h0m437 96h0m-174-50h0m246 36h0m-469-52h0m53-79h0m540 42h0m-166 52h0m-55-29h0m-124 96h0m-308-145h0m479 83h0m-404-17h0m68 50h0m-96-60h0m415 70h0m174-124h0m-90 102h0m-147 76h0m230-127h0m-432 21h0m303-79h0m-95 141h0m-163 13h0m285-95h0m102-52h0m-185 101h0m-284-102h0m43 52h0m-162-2h0m-26-10h0m220 58h0m317 4h0m-111 37h0m-126-16h0m-122-13h0m-91-110h0m143-20h0m-48 154h0m-56-110h0m176 115h0m101 17h0m95-172h0m-264 33h0m252 77h0m-275 22h0m-45-102h0m-70 1h0m420-11h0m-324 40h0m372-7h0m-111 87h0m-266-129h0m15 154h0m303-164h0m-249 106h0m194-41h0m-262-20h0m13 108h0m-126-77h0m345 85h0m-245-15h0m35-145h0m74 97h0m62 118h0m100-51h0m-36-5h0m101-73h0m-92-16h0m-465-67h0m638 59h0m-261 147h0m-201-149h0m304 40h0m-303 41h0m47-129h0m15 148h0m-122-161h0m-94 25h0m369 178h0m-108-111h0m-28-81h0m416-2h0m-365 101h0m381-64h0m-482-10h0m440 45h0m-441-54h0m55 103h0m314-63h0m-558-63h0m476 21h0m86-10h0m-338 136h0m93 33h0m-122-92h0m128 38h0m191-12h0m-432-96h0m-66 22h0m607-40h0m-89 56h0m-243 67h0m122 35h0m-139-135h0m58 151h0m191-58h0m-224-3h0m331-85h0m-3-23h0m-106 65h0m-93 85h0m-225-128h0m-185 28h0m148 43h0m67 58h0m3-113h0m-57-36h0m-70 30h0m89 77h0m-133-94h0m580-28h0m-57 93h0m-425-46h0m97 53h0m321-63h0m-424-19h0m382 101h0m-442-29h0m328 97h0m-52 33h0m195-132h0m-97 4h0m14-67h0m105 27h0m-182 121h0m292-165h0m-340 211h0m-163-155h0m-65-5h0m67-39h0m50 139h0m35-14h0m177 51h0m-2-110h0m-353-42h0m248 175h0m-212-199h0m-16-10h0m80 107h0m206 31h0m80-134h0m-31 81h0m113-27h0m-267 23h0m308-50h0m-381-27h0m401 36h0m-119 117h0m-335-25h0m-73-27h0m104-82h0m-218-19h0m515 42h0m-409 63h0m35 6h0m-135-108h0m177 24h0m-18-42h0m-17 72h0m-16-42h0m359 45h0m-299 74h0m-80-109h0m153-10h0m205 143h0m132-100h0m-355 107h0m-155-93h0m351 1h0m30 73h0m-291-159h0m260 187h0m-19-62h0m-214-13h0m33 37h0m-90-39h0m-2-107h0m133 9h0m198 147h0m-387-156h0m195 58h0m49 88h0m2 6h0m-178-148h0m337 160h0m-379-39h0m97-129h0m-20 136h0m96-92h0m-36 47h0m281-17h0m-514-65h0m251 109h0m-143-4h0m393-28h0m-36 45h0m40-94h0m-62 11h0m-307 83h0m10-21h0m277-11h0m-186 56h0m402-118h0m-211 33h0m-399-61h0m626 11h0m-91 86h0m-543-45h0m543-55h0m-60 47h0m-330 51h0m242 12h0m-98 73h0m300-125h0m-29 8h0m-426 40h0m391-71h0m-87 126h0m-310-98h0m72-69h0m346 32h0m-412 85h0m-63-115h0m60 138h0m336 35h0m-40-149h0m163 53h0m35-18h0m9-24h0m-195 6h0m-342 11h0m436-25h0m-98 153h0m100-116h0m38 4h0m-191 74h0m129-146h0m-53 179h0m-31-48h0m-235 48h0m-13-100h0m284 59h0m-412-120h0m477-11h0m-506 64h0m149 36h0m-190-37h0m162 44h0m50 5h0m-88-27h0m84 21h0m363-79h0m70 31h0m-506 64h0m316-118h0m-80 175h0m-364-122h0m220-59h0m261 89h0m157-51h0m-284 150h0m-269-65h0m432 13h0m-350-111h0m404 47h0m-323 108h0m161 13h0m-244-188h0m32 57h0m166 129h0m-114-89h0m-153 28h0m166 0h0m-83-76h0m270-45h0m-178 174h0m-61-172h0m-162 97h0m55-85h0m183 103h0m153-31h0m-201-44h0m23 57h0m-97 48h0m78-50h0m210-70h0m65-41h0m-159 216h0m-199-142h0m340 34h0m148-99h0m-263 160h0m126-17h0m-1-79h0m-464 21h0m163-38h0m-83-23h0m410 117h0m-512-94h0m38 6h0m108 101h0m-53-83h0m300 113h0m92-32h0m-5 6h0m-354-143h0m388 108h0m-66 16h0m-111 25h0m95-74h0m-53 67h0m-285-105h0m-77 40h0m56 27h0m80 22h0m-31-111h0m32-11h0m375 96h0m-14-92h0m-70 119h0m1-33h0m-191 57h0m133-16h0m56-36h0m-497-116h0m435 175h0m165-119h0m-308 81h0m147 26h0m44-8h0m56-76h0m-276 9h0m379-42h0m-34-26h0m-117 51h0m-429 25h0m342 106h0m-147-135h0m264 13h0m-184 102h0m-319-126h0m533-8h0m-11 21h0m-43 55h0m-295 31h0m72 29h0m273-156h0m19 65h0m-147 101h0m-43-2h0m-32 19h0m169-41h0m-268-94h0m95 132h0m146-191h0m38 60h0m-292 42h0m-7 2h0m151 92h0m90-49h0m-416-115h0m237 106h0m290-90h0m28-51h0m-124 132h0m-214 33h0m187-132h0m-451-35h0m603 76h0m-351-27h0m-84 51h0m104 7h0m73 67h0m-67-117h0m-85-73h0m302 47h0m47-32h0m-355 28h0m20 20h0m242 97h0m13 24h0m32-168h0m-15 16h0m-201 54h0m247 69h0m121-78h0m-94-70h0m17 40h0m-185 137h0m89-107h0m136 42h0m-407 20h0m387-14h0m-304 22h0m335-57h0m-365 79h0m-163-91h0m145-21h0m195 113h0m-10-12h0m47-37h0m-8-46h0m88 53h0m-395-34h0m458-46h0m-376-2h0m261 69h0m-76 34h0m-404-127h0m255 99h0m149 61h0m45-101h0m-179-11h0m-11-28h0m-163-41h0m396 157h0m-263 18h0m243-2h0m-440-135h0m10 41h0m218 94h0m262-162h0m-460 88h0m439-33h0m29 92h0m-160 12h0m114-143h0m-148 190h0m-207-73h0m345-70h0m32-60h0m-101 153h0m176-76h0m-95 9h0m56 29h0m-314-71h0m421-45h0m-480-5h0m366 68h0m-486-77h0m217 150h0m271-120h0m-63 73h0m-213 50h0m-125-135h0m343 138h0m-29-84h0m53 70h0m99-67h0m-591-29h0m47 62h0m482 10h0m-324-98h0m-179 28h0m512 53h0m-344-11h0m-153-56h0m170 144h0m191-42h0m185-93h0m-82-37h0m-362 80h0m395-2h0m69 8h0m-62-54h0m-535-3h0m283 164h0m-26-95h0m-203 8h0m499-28h0m48-32h0m-598-55h0m608 62h0m-258 113h0m75 7h0m129-125h0m-136 45h0m32 45h0m-227-14h0m-234-53h0m575 19h0m-145 23h0m-139 77h0m-116-57h0m71 0h0m-139-5h0m2-109h0m337 23h0m-453-31h0m249 111h0m156 16h0m-154 13h0m158-4h0m40-57h0m-45 38h0m-243-48h0m349 19h0m-40-79h0m106 29h0m-34 55h0m-415-84h0m-96 69h0m510-60h0m-197 172h0m-225-86h0m-37-24h0m487-23h0m-148 99h0m184-119h0m-610-8h0m213 107h0m-82-49h0m-102-97h0m499-1h0m-52 132h0m-237-23h0m-234-48h0m633-52h0m-64 31h0m-356 47h0m445-73h0m-348 181h0m97-109h0m-16 56h0m-263-37h0m437-14h0m-545-90h0m482 87h0m24 62h0m-5-153h0m-323 102h0m197 13h0m-236-99h0m150 157h0m252-151h0m-425 69h0m-40-22h0m98-54h0m12 75h0m71 47h0m-239-54h0m398 6h0m-35 30h0m210-76h0m-367 121h0m332-169h0m-75 152h0m-224 28h0m143-63h0m143 4h0m68-103h0m-138 117h0m-262-22h0m-75-95h0m418 103h0m-501-67h0m120 1h0m213 99h0m-8-50h0m153-45h0m-345 29h0m331-59h0m19 72h0m-374 63h0m204 11h0m-232-79h0m435 7h0m-499-78h0m46 28h0m-4 76h0m422-32h0m46-4h0m-190 84h0m-305-154h0m146 68h0m-187-55h0m127-8h0m17 88h0m153 64h0m-129-133h0m192 16h0m-238 88h0m-96-103h0m453-48h0m-247 191h0m298-81h0m-117-71h0m143-21h0m-597-17h0m511 37h0m-120 144h0m-179-49h0m-12-119h0m163 118h0m-99 47h0m150-2h0m-161-68h0m-42-91h0m-25 45h0m310 69h0m-462-67h0m559-34h0m-115 0h0m-276 116h0m192 34h0m-435-142h0m239 124h0m402-126h0m-528 81h0m269 94h0m21-5h0m108-133h0m-479-17h0m127 24h0m393 6h0m23-13h0m-324 104h0m294-29h0m-482-44h0m179 8h0m-40 31h0m-144-135h0m556 89h0m-101-34h0m17-44h0m98 15h0m-168 109h0m159-88h0m-536-48h0m159 174h0m234-100h0m-370 19h0m378 34h0m-50 5h0m-218-75h0m370 45h0m-411-98h0m115 121h0m291-122h0m-320 66h0m235 3h0m54-14h0m-456 19h0m214 30h0m-275-94h0m111 35h0m1 85h0m325 36h0m111-41h0m-307-5h0m260 14h0m-28-7h0m-64-33h0m220-73h0m-168 131h0m106-155h0m-302 188h0m222-106h0m-308 49h0m-131-67h0m130 0h0m191 91h0m-173-60h0m3-76h0m101 169h0m-134-115h0m19-54h0m385-22h0m-99 126h0m31-91h0m-131 118h0m-285-55h0m270 103h0m-289-138h0m467 12h0m-301-11h0m37 42h0m-246-59h0m34 56h0m486 33h0m-81 34h0m43-50h0m-561-112h0m129 73h0m36-3h0m-50-18h0m193 128h0m325-190h0m-519 44h0m333 82h0m197-108h0m-150 130h0m-438-92h0m41-7h0m83 82h0m293-5h0m-312-26h0m437-91h0m-368 104h0m32-107h0m170 130h0m-46 76h0m-66-29h0m346-130h0m-462-27h0m410 58h0m-538-30h0m49 68h0m-4-49h0m479-21h0m-143 41h0m47-54h0m0 80h0m131-96h0m-181 58h0m-240-6h0m383 37h0m-434 4h0m27-53h0m316 48h0m3-61h0m107-7h0m-100-7h0m-28-14h0m52 105h0m-430-13h0m65-71h0m280 103h0m92-81h0m-347 54h0m265-25h0m-282-92h0m141 129h0m220-76h0m-226 65h0m-236-96h0m440 9h0m-402-23h0m556-11h0m-373 65h0m359 6h0m-461-20h0m138 85h0m282-106h0m-211 178h0m112-58h0m1-123h0m-338 9h0m329-17h0m-188 104h0m346-57h0m-127-28h0m-8 7h0m-278 95h0m72 57h0m30 12h0m215-62h0m-313-6h0m80 25h0m277-42h0m-126 63h0m-247-82h0m256-80h0m77-5h0m-2 92h0m-243 66h0m-122-36h0m330-31h0m-444-33h0m475-33h0m-125 144h0m-273-53h0m166 69h0m305-117h0m-129-19h0m-193 77h0m40 52h0m-80-99h0m-30 68h0m66-7h0m-167-38h0m399-10h0m-139 50h0m-234-123h0m274 68h0m131-88h0m-353 124h0m-109-37h0m530-28h0m-355 89h0m223-60h0m-343 32h0m128 47h0m-120-36h0m256 42h0m-232-179h0m-182 15h0m503 58h0m-459-56h0m204 112h0m-99-80h0m323 25h0m-152 107h0m115 3h0m231-195h0m-440 144h0m307 3h0m49-86h0m57-63h0m-534 130h0m362-6h0m-165 76h0m-65-70h0m39 43h0m172-91h0m25 75h0m29-130h0m-432 3h0m413-23h0m-22 153h0m94-27h0m49-54h0m-426 47h0m301 39h0m17-117h0m-29 126h0m-310-127h0m-60-3h0m548-6h0m-351 76h0m-104-10h0m314-95h0m-14 3h0m86 10h0m-398 129h0m-62-108h0m-101-35h0m430 27h0m-135 136h0m-235-150h0m525 42h0m-99 83h0m-331 4h0m288-46h0m-329 23h0m116-87h0m-244-38h0m456 151h0m-360-43h0m377 30h0m105-138h0m-88 14h0m-228 24h0m-39 88h0m15-72h0m192 52h0m108-7h0m-374-70h0m-121 46h0m459 83h0m57-146h0m-582-14h0m185 24h0m81 46h0m10-3h0m-210-57h0m425 96h0m175-83h0m-157 81h0m-90 89h0m68-10h0m-344-137h0m125 77h0m211-109h0m-6 177h0m-202-37h0m234-152h0m-83 139h0m231-132h0m-449 127h0m481-125h0m-256 123h0m-323-69h0m492 16h0m19-9h0m-555 7h0m490 57h0m6-123h0m-4 40h0m-442-45h0m215 162h0m-293-131h0m285 158h0m297-91h0m-480-53h0m167 86h0m268-133h0m-289 136h0m330-23h0m-286 37h0m-85-12h0m393-86h0m-175 60h0m45 51h0m-252-68h0m180 31h0m-154-113h0m-12 33h0m321 1h0m-512-20h0m176 116h0m-177-90h0m-16 1h0m259 92h0m158-94h0m-224 68h0m20 40h0m-78-150h0m232 109h0m30 41h0m-426-161h0m404 189h0m109-197h0m-535 41h0m449 143h0m202-166h0m-581 27h0m324 155h0m-184-95h0m-168-64h0m453 45h0m166-24h0m-514-56h0m487 24h0m-176 50h0m66 56h0m-50 36h0m8-105h0m-18-25h0m150-26h0m-301 125h0m-102-11h0m246-86h0m103 64h0m-398-89h0m-103 24h0m173 97h0m284-22h0m-447-103h0m257 136h0m261-39h0m-25-52h0m-436 40h0m511-57h0m-89 54h0m-86 99h0m-297-195h0m530 3h0m-400 161h0m362-113h0m-196 64h0m153-76h0m-61 28h0m-59 87h0m-213-101h0m-155 32h0m159 92h0m102 27h0m-267-96h0m200 75h0m-198-98h0m520-11h0m-469 62h0m385-6h0m-49-49h0m66 17h0m-285-18h0m363-35h0m-107 24h0m-443-12h0m421-26h0m-8-28h0m28 99h0m-441-80h0m-89 11h0m273 153h0m-23-9h0m160-64h0m-260-26h0m-20-23h0m138 17h0m-68-60h0m281 14h0m-364 93h0m62-84h0m293 135h0m67-86h0m-333-93h0m-16 31h0m285-28h0m148 22h0m-214 172h0m-218-132h0m419-41h0m-157 30h0m57 105h0m-321-29h0m-5 8h0m402-132h0m-151 146h0m-16-42h0m-291-13h0m370-41h0m-3 15h0m43-47h0m-290 38h0m40 105h0m-120-92h0m119 14h0m232-73h0m-278 75h0m-104-67h0m308 170h0m97-136h0m-409 11h0m19-44h0m107 157h0m83 34h0m227-76h0m-46-99h0m-97 41h0m153 35h0m-432-106h0m-66 55h0m569-42h0m-54-24h0m-264 203h0m-98-36h0m-62-38h0m-94-38h0m305 93h0m-218-59h0m427-21h0m-269 67h0m307-133h0m-504 75h0m242 97h0m134-189h0m-392 92h0m292 76h0m105-50h0m65-9h0m-62 38h0m-347-11h0m98-98h0m-41 112h0m174-5h0m145-28h0m-35 31h0m-63-95h0m59-53h0m-425 79h0m62-62h0m319-1h0m136 30h0m-598-32h0m273 85h0m-227-31h0m493-42h0m-498 0h0m487-16h0m-134 168h0m-110-139h0m12 67h0m78 78h0m218-178h0m-257 177h0m-68-53h0m361-139h0m-529-7h0m581 11h0m-507 123h0m292-83h0m-196 135h0m-25-180h0m186 114h0m-341-89h0m464 73h0m-242 80h0m201-90h0m-11 69h0m-57 24h0m-110 21h0m122-67h0m-285-17h0m63-123h0m371 24h0m-78 120h0m-319-105h0m310 10h0m-285 33h0m15 63h0m242 8h0m16-48h0m50 31h0m34-122h0m98 15h0m-744-29h0m131 131h0m603-22h0m-528 52h0m496-63h0m8-7h0m-587 21h0m552-9h0m-519 31h0m-127-109h0m30 75h0m534 66h0m112-75h0m-599 14h0m579 33h0m-634-92h0m646 50h0m47-64h0m-10 29h0m-714-60h0m92 109h0m139 53h0m-69-26h0m-234-101h0m222 99h0m-132-70h0m180 85h0m-219-131h0m681 83h0m-18 16h0m-632-105h0m720 32h0m-715 18h0m709-53h0m-740 17h0m246 141h0m499-159h0m-612 126h0m-93-94h0m625 76h0m-568-22h0m512 73h0m126-147h0m-587 102h0m583-66h0m-109 87h0m-10 8h0m-376 14h0m453-82h0m-611 12h0m-48-54h0m657 51h0m7-13h0m-633-11h0m560 75h0m-515-41h0m-103-81h0m757-27h0m-675 89h0m-3 31h0m-78-96h0m48 54h0m181 89h0m423-21h0m-636-84h0m150 91h0m551-72h0m-835-77h0m190 79h0m15 11h0m646-61h0m-708-6h0m558 145h0m157-146h0m-584 119h0m479-9h0m-570-62h0m-19-20h0m582 92h0m-601-112h0m658 56h0m83-48h0m-66 69h0m-4-31h0m-656-22h0m806-46h0m-68 2h0m14 27h0m-32 12h0m-796-35h0m-10 52h0m37 29h0m24-29h0m703 41h0m4 11h0" stroke="#000" stroke-width="13" stroke-linecap="round" fill="none"/>
<path transform="scale(.5)" d="M711 3510h0m167-152h0m16 107h0m-96-84h0m-93 114h0m51 59h0m116-233h0m-235 75h0m312-16h0m0 51h0m-147 36h0m-73-22h0m113 3h0m40-54h0m-195-1h0m-129-56h0m-32-131h0m392 371h0m-216-148h0m156 103h0m94-12h0m-48 57h0m-145-232h0m-74 150h0m223 75h0m-122-142h0m54 12h0m-159 57h0m126-46h0m-151 50h0m252-66h0m-95 125h0m146-72h0m-123 63h0m-269-215h0m200 211h0m6-174h0m103 94h0m-221 40h0m64-154h0m24 137h0m23 48h0m168-75h0m39 110h0m24 7h0m-387-150h0m90-269h0m231 280h0m-269-47h0m-54-4h0m94-141h0m57 219h0m-173-165h0m322 245h0m-111-87h0m42-53h0m44-31h0m116 196h0m-262 8h0m-170-199h0m187-62h0m-56 249h0m81 6h0m101-194h0m-75 136h0m101 28h0m-107-158h0m166 189h0m-349-145h0m114 146h0m97-47h0m53 47h0m111-27h0m-43-60h0m-221 89h0m-76-112h0m60-7h0m-41 81h0m22 17h0m-28 1h0m123-5h0m-135-115h0m-34-38h0m152 6h0m100-131h0m73 259h0m-243-15h0m275 60h0m-32-63h0m-171 63h0m-264-552h0m337 405h0m143 84h0m-146 5h0m-97-46h0m-16-70h0m160 175h0m-87-158h0m-146-133h0m158 93h0m46 74h0m-51 70h0m82 42h0m-150-320h0m-107 176h0m270 80h0m-267-162h0m42-16h0m14-53h0m123 39h0m-356-294h0m274 424h0m-144-235h0m276 203h0m-120-171h0m-10 260h0m-230-300h0m51 128h0m326 109h0m-7-33h0m-134 44h0m67-21h0m5-14h0m-121-166h0m232 285h0m-255-183h0m316 225h0m-220-64h0m150 68h0m-186-122h0m307 120h0m-352-246h0m37 116h0m-10-83h0m181-26h0m-17 74h0m77 4h0m-138-145h0m-98 301h0m236-77h0m-111-100h0m-55 65h0m91 56h0m-24 43h0m-123-118h0m-31 68h0m-7-156h0m29 54h0m11-91h0m201 231h0m-376-457h0m286 372h0m117 60h0m-362-198h0m193-72h0m-13 257h0m-311-402h0m208 370h0m172-98h0m-146-293h0m129 468h0m0-82h0m-130 107h0m79-261h0m88 118h0m49 13h0m-381-263h0m145 343h0m277 11h0m-233-164h0m175 155h0m-297-163h0m323 50h0m39 53h0m-292 2h0m235 2h0m-180-94h0m-76 73h0m343 81h0m-21 30h0m-300-215h0m159 126h0m-20 79h0m5-65h0m10 71h0m-96-143h0m-81 40h0m-133-261h0m151 158h0m173 182h0m-29 38h0m0-66h0m-242-206h0m355 165h0m-23 16h0m-434-302h0m264 266h0m60 76h0m-22 36h0m-68-46h0m20-24h0m248 30h0m-191-72h0m132 68h0m-1 11h0m-54 48h0m-103-2h0m232-2h0m-252-173h0m97 27h0m42-88h0m-64 210h0m-132 25h0m236-94h0m-9 22h0m12-87h0m-27 140h0m-238-89h0m47 61h0m17 37h0m-73-201h0m66 164h0m48-86h0m211 40h0m-293 82h0m249-194h0m-169 90h0m67 47h0m58-62h0m-305-141h0m287 157h0m-240-236h0m64 318h0m345 9h0m-342-455h0m28 352h0m23 66h0m-26-112h0m242 161h0m-101-135h0m29 122h0m-174-98h0m80 133h0m-95-217h0m112 181h0m42 24h0m-111-139h0m39 98h0m120-77h0m52 68h0m-274 15h0m52-213h0m-19 147h0m239 73h0m-234-201h0m149 103h0m-347-234h0m279 29h0m-468-252h0m631 482h0m-82-123h0m-117 126h0m57-64h0m-78 58h0m115 97h0m-103-95h0m165 30h0m-191-334h0m230 379h0m-210-50h0m70-15h0m-50-48h0m-190-114h0m160 239h0m53-3h0m-7-233h0m8 208h0m-212-200h0m179 162h0m15 13h0m96 75h0m129-12h0m-15-63h0m-105-5h0m-137-92h0m-62 148h0m103-113h0m20 108h0m70 11h0m12-25h0m-61 11h0m-82-5h0m-149-171h0m-18-70h0m17-36h0m35 238h0m74 56h0m204-72h0m-227-413h0m26 117h0m177 385h0m-8-6h0m16-118h0m-126 64h0m-201-194h0m241 182h0m132-3h0m-154-101h0m44-168h0m-202 185h0m-35-61h0m258 104h0m107 52h0m14-1h0m-244 25h0m62-1h0m110-56h0m-23 25h0m72-48h0m0 48h0m-191-85h0m26 13h0m17 114h0m-65-57h0m-39-62h0m24 64h0m-99-387h0m337 354h0m-289-29h0m128-36h0m-183-186h0m206 49h0m-241 111h0m153-17h0m123 158h0m-189-52h0m117 63h0m-52-55h0m-40 108h0m287-6h0m-322-196h0m302 160h0m-348-142h0m389 110h0m-220-60h0m236 102h0m-273 9h0m175-32h0m-42 45h0m95-36h0m-215-156h0m146-44h0m-232-18h0m122 263h0m102-113h0m-61-239h0m-47 344h0m43-256h0m11 177h0m-21-100h0m-34 82h0m-97 61h0m79-36h0m11-35h0m-37 111h0m-37-90h0m54 28h0m-41 33h0m-261-363h0m341 359h0m203-24h0m-144 2h0m27-126h0m-334-51h0m349 207h0m118 25h0m-414-256h0m126 240h0m226-96h0m55 100h0m-7-57h0m-57-1h0m-321-400h0m89 254h0m125 44h0m-69-103h0m23 198h0m-115-111h0m308 140h0m-243-7h0m97-55h0m-74-111h0m53 116h0m-146-50h0m41-27h0m129 117h0m-54-8h0m-299-323h0m353 221h0m-23 93h0m31-292h0m-18 360h0m36-49h0m-138 63h0m226-17h0m-273-25h0m11-325h0m194 321h0m-80-38h0m-63 49h0m-30-108h0m173 28h0m46 25h0m-168 55h0m24-126h0m-105 2h0m-205-359h0m491 519h0m-39-66h0m-244-322h0m259 310h0m-236 53h0m281 8h0m-373-129h0m93 56h0m-13-13h0m-104-86h0m337-18h0m-129 87h0m-67 68h0m84-55h0m-202-29h0m129 47h0m20 99h0m-213-593h0m226 231h0m35 362h0m-177-66h0m84-538h0m9 607h0m4-97h0m57 23h0m199-25h0m-458-202h0m478 301h0m-229-271h0m-176-94h0m227 308h0m71 44h0m-77-272h0m-75 164h0m-25-9h0m180 79h0m-477-420h0m377 351h0m58 13h0m18 0h0m-187-19h0m109-229h0m172 332h0m-111-8h0m-22-136h0m-182-35h0m252 200h0m-199-544h0m146 364h0m-157 137h0m320 14h0m-145-12h0m-24 43h0m43-189h0m-273-9h0m303-25h0m106 217h0m-201 1h0m158-50h0m-5 11h0m-200-101h0m88-150h0m27 165h0m-138-219h0m66 304h0m38-134h0m9 78h0m-81-275h0m-84 201h0m52 102h0m-15 22h0m68-3h0m-151-217h0m290 273h0m-66-137h0m12 11h0m-130 93h0m-173-501h0m157 501h0m-7 31h0m-3-97h0m206 84h0m-166-16h0m72-16h0m-143-70h0m243 16h0m-323-59h0m185-109h0m126 210h0m-237 19h0m112-46h0m45-44h0m15-76h0m-258-17h0m165-62h0m9 281h0m99-88h0m-122-49h0m-130-74h0m182 151h0m77-160h0m48 174h0m-285-130h0m211 14h0m37 19h0m-133 61h0m-96-32h0m227-126h0m-55 206h0m85 30h0m-311-105h0m54-29h0m73 129h0m-161-301h0m303 269h0m-41-12h0m-125-96h0m94 5h0m139 20h0m43 91h0m-171-282h0m65 132h0m-108 95h0m-120-145h0m182 108h0m25 89h0m-163-134h0m-76 29h0m293 121h0m-243-93h0m283 77h0m-253 21h0m220-56h0m-80-20h0m-186-159h0m75 154h0m-80-9h0m-119-140h0m443 227h0m-302-8h0m161 10h0m27-110h0m-83 79h0m14-23h0m-39-284h0m51 306h0m206 41h0m-301-63h0m279 62h0m-488-487h0m336 417h0m-32-3h0m-5-77h0m12 6h0m-141-25h0m253 12h0m-5 162h0m-320-127h0m364 129h0m-141-251h0m-93 222h0m-88-369h0m193 112h0m-321-184h0m77 277h0m199 157h0m-113-144h0m137-64h0m-295-127h0m396 285h0m-179-104h0m-72 121h0m189 66h0m-144-102h0m258 86h0m-275-282h0m158 140h0m-143 7h0m53 160h0m-99-367h0m168 216h0m-34 56h0m77-12h0m-16-10h0m52-31h0m-264-156h0m261 198h0m-61-120h0m-88 213h0m35-35h0m62-46h0m-82-109h0m-60-53h0m18 38h0m-163-235h0m367 444h0m-149-178h0m104 0h0m-304-7h0m129-77h0m14 190h0m75-168h0m13 132h0m-188-62h0m252 171h0m-107-201h0m-240-332h0m295 505h0m-191-272h0m150 50h0m92 179h0m-118-89h0m149 127h0m-111-206h0m184 168h0m-161-108h0m149 113h0m-32 53h0m-223-185h0m-60 161h0m286 38h0m-21-114h0m-87 24h0m63 52h0m-285-379h0m173 331h0m199 47h0m-362-54h0m47 11h0m15-10h0m63-252h0m-95 300h0m223-17h0m-146-338h0m-43 78h0m204 294h0m-61-182h0m44 67h0m-214 120h0m198-180h0m-341-200h0m246 274h0m-23 45h0m62-138h0m155 125h0m-224-141h0m146 218h0m-173-143h0m139 43h0m-8 106h0m73-45h0m-281-237h0m186 279h0m-115-32h0m96-259h0m54 266h0m-30-44h0m-19 73h0m167-85h0m-174-9h0m-163-158h0m221 138h0m-213-242h0m89-52h0m-29 151h0m203 149h0m-131 10h0m125 62h0m8-57h0m-248 33h0m257-105h0m-128-143h0m-316-104h0m386 313h0m-30-25h0m-72-167h0m195 228h0m-335-42h0m66 30h0m257-6h0m-197 96h0m52-219h0m0 69h0m206 135h0m-37 6h0m-127-231h0m-227 129h0m327-1h0m-184 84h0m-97-38h0m107 25h0m-163-117h0m226 44h0m96 46h0m-171 27h0m201 14h0m-28-161h0m-152 14h0m-25 137h0m-23-78h0m36 118h0m-37-163h0m70 159h0m-39-125h0m143-12h0m-410-224h0m256 335h0m59-139h0m206 164h0m-236-410h0m-130 263h0m-152-229h0m243 209h0m-61-135h0m86 223h0m-156-83h0m255 66h0m-89 72h0m-33 18h0m-34-118h0m-36 49h0m219-100h0m-169 125h0m254-21h0m-12 0h0m-281-46h0m115-157h0m-11 265h0m83-95h0m-25-206h0m-226 81h0m147-48h0m-57 175h0m69-77h0m57 114h0m2 58h0m92-70h0m-208-282h0m47 260h0m92 61h0m-2-35h0m-28 47h0m31-142h0m-77 151h0m139-9h0m-530-515h0m324 540h0m218-149h0m-207 132h0m211-9h0m-152-29h0m-280-300h0m322 61h0m41 230h0m3-81h0m32 127h0m-378-447h0m182 455h0m254-34h0m-23 30h0m-255-7h0m198-14h0m44-58h0m-230-178h0m11 272h0m189-102h0m-15 18h0m-114 29h0m173 58h0m-249-34h0m216-51h0m-136-127h0m92-50h0m69 218h0m-64-120h0m-147 80h0m-105-337h0m356 390h0m-75 28h0m-291-255h0m375 228h0m-252-26h0m196-64h0m-174-181h0m-18 142h0m247 123h0m-300 2h0m282-43h0m26 5h0m-356-145h0m43-163h0m-32 114h0m293 255h0m-211-130h0m213 75h0m-69 2h0m-72-36h0m11 60h0m17-23h0m6-114h0m-133-32h0m-42 108h0m311 104h0m-188-130h0m15-219h0m-323-31h0m438 246h0m-195-45h0m52 171h0m57-125h0m10-173h0m-75 171h0m-34-182h0m-157 81h0m101 117h0m10-53h0m194 168h0m109-53h0m-274 25h0m11-53h0m-54-15h0m256 46h0m0-129h0m-155 129h0m188 41h0m-201-120h0m72 6h0m130 126h0m-176-60h0m-200-276h0m124 306h0m297 7h0m-386-178h0m345 152h0m-102-236h0m-139 131h0m-118-96h0m-145-308h0m328 428h0m-30 71h0m68-188h0m75 177h0m-83-2h0m113 72h0m-336-313h0m89 211h0m126 35h0m-84-33h0m178-101h0m-250 85h0m287 3h0m-3 89h0m-122-121h0m62 106h0m-9-170h0m-246-172h0m224 240h0m4 95h0m53-135h0m-21 160h0m-75-184h0m-100 90h0m313 105h0m-313-69h0m-64-68h0m144 38h0m225 77h0m-253-29h0m-184-250h0m177 231h0m83-176h0m-202 82h0m132 18h0m-85-147h0m-31 150h0m158 133h0m-103-173h0m213 184h0m9-8h0m-62-51h0m-38 56h0m-103-53h0m6 27h0m-19 18h0m34-333h0m36 347h0m-100-118h0m58-253h0m-6 99h0m164 259h0m-49-166h0m-187-372h0m178 348h0m79 34h0m-308-92h0m-30 59h0m405 71h0m-229 114h0m57-158h0m21 135h0m-43-353h0m-51 285h0m-234-287h0m356 343h0m-21-58h0m-77 79h0m-17-354h0m123 172h0m-189 6h0m112 178h0m118-35h0m26 33h0m-219-49h0m22-19h0m-26-341h0m110 445h0m112-15h0m-45-68h0m-79 34h0m-124-124h0m152 167h0m-112-39h0m49-116h0m-126-14h0m382 171h0m-325-45h0m-130-351h0m386 298h0m-87 73h0m-30-57h0m62 73h0m4-4h0m-30-14h0m85 25h0m-153-180h0m-146 55h0m196 29h0m-176 0h0m40 11h0m177-101h0m-369-149h0m220 219h0m-160-104h0m387 167h0m-113 23h0m-109-97h0m227 133h0m-273-7h0m-68-85h0m324 66h0m28 8h0m-369-305h0m31 162h0m236 23h0m13 61h0m-47-275h0m-111 302h0m70-187h0m53 186h0m-103-148h0m206 151h0m-43-87h0m-185-228h0m-112-176h0m83 369h0m51-86h0m24 195h0m126-124h0m-151 74h0m116-104h0m-262 44h0m233-27h0m-107-93h0m72 107h0m37-164h0m27 322h0m41-6h0m-86-15h0m14-183h0m-56-19h0m41 131h0m151 117h0m-518-482h0m385 415h0m-26 54h0m-234-233h0m141 179h0m-169-152h0m344 111h0m-219 23h0m-31 21h0m75-174h0m13 217h0m-121-190h0m209 171h0m-118-138h0m-48-90h0m189 153h0m-109 49h0m6-173h0m29 198h0m68-56h0m-201-143h0m27 128h0m-65-298h0m79 367h0m67 34h0m-68-159h0m268 170h0m-259-231h0m-2 205h0m199-30h0m-233 11h0m189 39h0m106-79h0m-206 57h0m103 26h0m-254-230h0m239 216h0m-213-155h0m331 9h0m21 149h0m-196 2h0m-212-373h0m197 266h0m-140 31h0m202-119h0m-63-37h0m-143-277h0m170 499h0m-91-47h0m162-42h0m-33 71h0m-35 14h0m-75-97h0m164 120h0m123-28h0m-191-127h0m-155 30h0m102 108h0m119-33h0m-30-104h0m23 76h0m-30-124h0m60 188h0m-91 16h0m-121-280h0m75 227h0m-41 9h0m199 9h0m-85-69h0m32-1h0m-204 15h0m171 33h0m121 24h0m-90-21h0m34-90h0m-238 10h0m261-17h0m-193-8h0m190 157h0m71-33h0m-148-38h0m-47 63h0m108-234h0m-159 193h0m129-48h0m-96-115h0m68 171h0m56-26h0m61 1h0m-559-395h0m366 398h0m-10-132h0m40 95h0m110-54h0m8 26h0m66 102h0m-136-214h0m-143 203h0m241-70h0m-141 28h0m136-4h0m-156 74h0m-111-203h0m68 153h0m-111-74h0m286 77h0m-61 16h0m-146-173h0m59 176h0m67 9h0m-31-80h0m-179 26h0m-36-158h0m90 42h0m106 132h0m160 22h0m-238-141h0m91-101h0m80 36h0m34 206h0m-68-292h0m-390-137h0m461 380h0m-259-214h0m-13 1h0m36 234h0m140-34h0m-229-190h0m309 271h0m-123-60h0m5-132h0m104 139h0m-171 15h0m189-101h0m9 166h0m-273-426h0m216 367h0m-73-152h0m-52 189h0m168-175h0m-72 3h0m-68-133h0m-77 198h0m-11 50h0m75-108h0m-67-99h0m-46 151h0m61-59h0m244 187h0m-252-222h0m144 210h0m-11-155h0m-97 164h0m158-258h0m-145 252h0m241-30h0m-356-107h0m5-208h0m2 129h0m277 179h0m-257-162h0m268 201h0m-68-238h0m-138 118h0m-72 61h0m72-401h0m-49 340h0m0 65h0m250-77h0m-162 127h0m13-297h0m-300-84h0m374 140h0m-258 17h0m267 217h0m-56-29h0m150-19h0m-152-51h0m-6 53h0m-255-436h0m171 346h0m-95-52h0m167-51h0m105 4h0m-268-211h0m350 407h0m-214 23h0m177-5h0m-342-189h0m105 237h0m128-59h0m-137-15h0m2-112h0m17 67h0m256-31h0m-148 124h0m-33 7h0m57-120h0m11 52h0m-31-98h0m-280-173h0m248 106h0m-51 200h0m16 45h0m-19-123h0m82 129h0m130-43h0m-132-240h0m-61-198h0m-102 325h0m197 150h0m-62-146h0m-124 46h0m234-171h0m-116 165h0m124 40h0m-75-412h0m-39 401h0m129 41h0m21-126h0m-134 156h0m-137-51h0m142-83h0m144 92h0m-137 41h0m107-9h0m14 20h0m-133-85h0m176 43h0m-169-95h0m-20-278h0m26 360h0m-158-104h0m333 156h0m-222-157h0m-119 36h0m178 51h0m3-249h0m180 258h0m-214-237h0m-104 233h0m239 2h0m-208-357h0m196 297h0m-92 75h0m57-66h0m-217-20h0m31-98h0m163 207h0m-129-82h0m-43 48h0m254 11h0m-210 22h0m115-59h0m-67-338h0m-45 364h0m287 63h0m-120-175h0m-80 46h0m-106-74h0m275 180h0m-263-212h0m241 107h0m-300-32h0m5-17h0m185-56h0m-12 230h0m29-57h0m-114 0h0m-83-229h0m-17-80h0m197 369h0m6-21h0m-17 15h0m-152-46h0m199-180h0m60 209h0m-73 8h0m11-49h0m-243-61h0m263-94h0m-160 110h0m-108-307h0m-37 251h0m-21-229h0m98 250h0m-72-253h0m112 215h0m110 83h0m-100 65h0m192-58h0m65 53h0m-438-243h0m-4-83h0m206 262h0m-69-101h0m-18 92h0m254 9h0m-141 63h0m192 4h0m-258-88h0m183 11h0m-123-46h0m-71-11h0m50-187h0m-55 257h0m38 96h0m-9-202h0m184 148h0m-51-104h0m-526-342h0m74-24h0m33 209h0m-23-290h0m70-12h0m116 0h0m186-9h0m84 102h0m-74-69h0" stroke="#2f51a3" stroke-width="13" stroke-linecap="round" fill="none"/>
<path transform="scale(.5)" d="M1572 3452h0m-182 97h0m75-310h0m-207 318h0m141-229h0m-34-26h0m243 102h0m-321 10h0m314-41h0m-51 172h0m-233-46h0m231-120h0m-270 126h0m268-31h0m-14-62h0m-7 125h0m-216-60h0m274-46h0m-342 104h0m293 26h0m-144-31h0m-31 48h0m163-84h0m-21 48h0m-273 19h0m396-122h0m-337 72h0m244-71h0m-229-34h0m199-134h0m-220 177h0m232 59h0m107-31h0m-68 27h0m-262 72h0m101-76h0m76 34h0m124-441h0m-220 321h0m-47 84h0m71-123h0m-113 194h0m298-130h0m-153 63h0m75 13h0m308-420h0m-190 353h0m-156 90h0m113-129h0m-177 116h0m-25-96h0m37-5h0m220 51h0m-242 79h0m173-10h0m-17 6h0m116-230h0m-332 168h0m268-120h0m-2 26h0m-45 169h0m-126-68h0m102-120h0m-129 50h0m62 74h0m134-158h0m-108 172h0m-49 27h0m-96-98h0m207-56h0m-64 156h0m-215-26h0m351 0h0m-251-207h0m207 125h0m194-282h0m-391 370h0m49 9h0m92-116h0m230-201h0m-356 160h0m403-216h0m-456 336h0m261-143h0m-50 178h0m-67 32h0m152-556h0m-140 452h0m-2 123h0m104-68h0m-111 58h0m26-170h0m-22 68h0m-157 26h0m39 69h0m-25-31h0m242 10h0m7-60h0m69-105h0m-268 140h0m311-197h0m-124 43h0m-214 32h0m43 135h0m-194 40h0m253-100h0m117 51h0m-212-43h0m276-486h0m-229 493h0m99-58h0m-41-138h0m-168 267h0m-22 14h0m129-145h0m198-271h0m-39 330h0m-142 85h0m109 0h0m-159-200h0m186 82h0m-261 50h0m74-102h0m169 149h0m-109 20h0m-30-70h0m-103 31h0m8-205h0m-11 156h0m217 100h0m-110-24h0m98-276h0m-109 186h0m89 6h0m-24 100h0m-122-10h0m36 15h0m156-150h0m-233 29h0m187 112h0m-23-54h0m-20-182h0m66 185h0m-26-102h0m-141 141h0m152 5h0m-96-72h0m176 56h0m111-322h0m-196 211h0m-71 51h0m-75 32h0m104-229h0m-76 268h0m0 12h0m231-138h0m-179 62h0m56 23h0m-41-202h0m-57 225h0m-64-136h0m25-25h0m-98 58h0m29 145h0m28-175h0m-65 160h0m157-35h0m222-214h0m-102 240h0m-48-92h0m33-463h0m66 446h0m-38 25h0m46 28h0m-72 30h0m-213 27h0m305-40h0m-90 56h0m-147-56h0m161-16h0m-9-223h0m-240 255h0m226-73h0m160-40h0m148-423h0m-199 480h0m-298 76h0m104-137h0m271-54h0m-335 18h0m-115 134h0m157 58h0m-83-35h0m320-103h0m-12-133h0m50 103h0m-203 174h0m-39-429h0m119 329h0m36-168h0m-56 174h0m-123-4h0m-148 69h0m55-10h0m-21 42h0m410-263h0m-364 232h0m174 8h0m-8 10h0m27-105h0m-226 3h0m419-211h0m-492 301h0m170-61h0m377-281h0m-267 250h0m11-84h0m-41 94h0m63 103h0m15-153h0m-107 30h0m-53 31h0m-82 32h0m356-180h0m-90 189h0m-289-49h0m217-9h0m61 61h0m15-38h0m-77-20h0m-152-94h0m66 129h0m158-251h0m-23 224h0m80-8h0m-131-98h0m39 56h0m-181 141h0m46-24h0m24-20h0m152 20h0m-94-271h0m-38 277h0m-151-102h0m310 24h0m-174-200h0m79 137h0m46 169h0m-141-1h0m9 0h0m-126-161h0m148 51h0m-102 22h0m206-168h0m-173 252h0m137-35h0m-32-112h0m152-130h0m-273 252h0m-57-122h0m102 64h0m160 17h0m76-104h0m-357 118h0m335-91h0m-207 107h0m77-10h0m-21 9h0m-79 41h0m-4-188h0m-19 91h0m37-30h0m161-41h0m-329 167h0m79-203h0m166 133h0m187-344h0m-366 346h0m30-94h0m-40 38h0m72-62h0m73-62h0m33-78h0m-156 101h0m297 75h0m-129-35h0m-50-147h0m155 251h0m-80-158h0m132 8h0m-243-53h0m73 41h0m-127 141h0m65 103h0m91-79h0m-57-129h0m130 45h0m-23 121h0m-217 7h0m290-249h0m-404 231h0m328 50h0m-105-123h0m-158 66h0m-23-12h0m103 69h0m57-50h0m115 56h0m114-93h0m-213-157h0m71 240h0m-190-150h0m-54 141h0m243 17h0m-51-124h0m185-55h0m-190 149h0m23-45h0m21 9h0m183-129h0m-235 6h0m78 98h0m-32-200h0m-1 275h0m-60-10h0m-5-98h0m-130-20h0m339-42h0m-96-122h0m66 277h0m-197-7h0m-77-213h0m286 59h0m54-259h0m-365 308h0m246 92h0m-223-135h0m140-44h0m-3 124h0m89 40h0m28-15h0m-242 61h0m56-55h0m183-148h0m-208 97h0m-65 14h0m248 68h0m120-257h0m-271 214h0m-133 86h0m261-220h0m-147 179h0m236-549h0m-81 377h0m-177 95h0m189-131h0m14-118h0m-88 340h0m-88-372h0m272 32h0m-110 369h0m97-183h0m79-130h0m-486 229h0m131-21h0m-110 16h0m-7 70h0m36-29h0m-40-15h0m401-109h0m-207-77h0m-102 177h0m-101 63h0m92-243h0m149 197h0m-59-90h0m52 27h0m-80-15h0m76 19h0m-293 75h0m254-41h0m67 50h0m-106-118h0m233-84h0m-200 219h0m34-35h0m121-120h0m-58 105h0m211-296h0m-401 226h0m339-200h0m-95 31h0m-29-27h0m-98 231h0m-21-14h0m-31 98h0m127-137h0m-247 121h0m264-94h0m92-177h0m-284 148h0m21-4h0m-30 82h0m81-229h0m-123 303h0m201 2h0m-80-109h0m-134 61h0m157-8h0m57-37h0m-3-287h0m-66 312h0m-119 45h0m-66 8h0m12-27h0m-77 17h0m554-361h0m-93 270h0m-326-7h0m388-214h0m-220 254h0m220-325h0m-275 402h0m7-109h0m1-76h0m100 145h0m104-124h0m-197-119h0m-165 245h0m25 36h0m252-73h0m-58 78h0m149-190h0m-119 174h0m-207-14h0m254-12h0m-8 22h0m87-382h0m-159 78h0m-122 145h0m265 55h0m-168 89h0m-90-206h0m-127 232h0m93-23h0m196 33h0m-19-33h0m-192-9h0m-73-95h0m161 124h0m42-25h0m66-145h0m-218 131h0m140 9h0m25-28h0m-144-68h0m191 127h0m-234-135h0m130-103h0m45 226h0m-62 24h0m-70-33h0m88-195h0m29 149h0m61-33h0m-51-246h0m81 344h0m38-106h0m13-66h0m-325 36h0m215 147h0m48-225h0m344-242h0m-112 115h0m-315 161h0m50 194h0m-9-17h0m86-134h0m-179 47h0m218-162h0m-345 182h0m-38 57h0m131-84h0m-41 64h0m267-47h0m31-132h0m-106 169h0m133-88h0m-351 60h0m105 45h0m-30-3h0m55 44h0m2-209h0m-81 17h0m-21 92h0m283-40h0m-317 98h0m103-67h0m109-107h0m289-366h0m-323 203h0m-231 322h0m385-135h0m-153 68h0m-99-67h0m-125 144h0m519-218h0m-207 137h0m-25 84h0m-84-176h0m-63 8h0m136-134h0m20 204h0m-14-27h0m-268 118h0m183-42h0m63-164h0m-98 257h0m45-33h0m124 13h0m-218-53h0m162-23h0m-27-68h0m93 89h0m-124 62h0m-38-303h0m180 164h0m-194-262h0m116 280h0m27-148h0m-338 268h0m342-38h0m-222-7h0m142-62h0m84 100h0m108-150h0m-240 107h0m-62-46h0m112-82h0m-53 159h0m-64-169h0m231 96h0m-229 31h0m92-207h0m-173 168h0m147-16h0m95-254h0m168 129h0m-315-41h0m-44 275h0m16-38h0m301-124h0m-284 50h0m35-118h0m50 63h0m206-219h0m-197 384h0m-189-11h0m87-120h0m174 152h0m-46-88h0m-221 25h0m274-162h0m2 158h0m-194-39h0m139-31h0m73 31h0m-155-106h0m95 170h0m-62-94h0m1 63h0m-9 54h0m-158-110h0m223 53h0m47 18h0m-133-278h0m5 282h0m9-17h0m89-199h0m141 68h0m-360 135h0m161-4h0m97-19h0m-29 32h0m-198-83h0m170-347h0m-11 314h0m-198 119h0m-49 40h0m317 6h0m-108-193h0m158-146h0m23 210h0m-346 45h0m160-115h0m187-3h0m-353 188h0m421-226h0m-217 38h0m220-81h0m-342 267h0m272-136h0m51 8h0m-189 39h0m32-42h0m-279 127h0m266-486h0m-56 259h0m-101 246h0m-60-7h0m290-230h0m-72 4h0m-274 244h0m237-74h0m215-102h0m-105 159h0m-8 17h0m-69-298h0m54 238h0m-233-116h0m-28-49h0m-64 192h0m79-287h0m121 225h0m208-66h0m-127 68h0m-43-11h0m-145-108h0m120 210h0m-15-36h0m-72-43h0m24-73h0m10 124h0m91-336h0m82 350h0m-312-30h0m255-84h0m-43-98h0m-108 153h0m61-109h0m25 118h0m-28 44h0m17-81h0m-83 45h0m105-9h0m131-104h0m-273 93h0m-23 43h0m139-11h0m-16-61h0m145-18h0m48-218h0m-144 263h0m114-220h0m118 111h0m-483 170h0m155-116h0m397-144h0m-414 230h0m166 18h0m-81-44h0m-136 30h0m-13 25h0m141-59h0m-23-2h0m-86 53h0m233 20h0m-192-9h0m3-43h0m274-119h0m-117 75h0m-64 45h0m76 37h0m100-325h0m-258 286h0m216-343h0m18-137h0m-46 423h0m-61-9h0m-60 12h0m-25-84h0m120 146h0m-220 38h0m156-300h0m-142-6h0m-79 294h0m237-290h0m-119 182h0m10 98h0m136-101h0m-109-146h0m-79 160h0m248-89h0m-77 140h0m34 66h0m123-480h0m-337 261h0m41 102h0m98-96h0m-177 150h0m572-359h0m-257 294h0m-230-27h0m21-157h0m-1 167h0m168-210h0m-145 143h0m-8 84h0m118 15h0m-51 17h0m-230 14h0m88 89h0m90-323h0m234 102h0m-59-171h0m-87 348h0m-175 45h0m-68-5h0m314-95h0m-11-9h0m98-352h0m-330 331h0m96-304h0m80 325h0m-90 76h0m-88-20h0m-28-12h0m332-34h0m-240 26h0m17-38h0m319-134h0m-233 25h0m-211 86h0m218 44h0m-34-44h0m-114 33h0m193-215h0m20 196h0m-2 113h0m-241-215h0m294 75h0m-175 147h0m144-329h0m-247 244h0m-31-81h0m-28 103h0m286-147h0m-295 168h0m-46 23h0m126-83h0m-101 62h0m272-121h0m-79 27h0m-34 36h0m50 35h0m66-80h0m-173 77h0m-29-5h0m93-45h0m-77 75h0m85-157h0m13 197h0m-190-1h0m116-77h0m-52-34h0m122-93h0m41 205h0m-140 1h0m111-72h0m-25-187h0m225 110h0m-110 109h0m-291-36h0m148-156h0m63 40h0m137 8h0m-242 141h0m68-247h0m-78 111h0m177 162h0m-87-123h0m-113 131h0m115-176h0m149 171h0m-29-216h0m-221 167h0m-4 4h0m6-181h0m188 185h0m-51-170h0m117 9h0m-279 83h0m129-168h0m167-217h0m-89 478h0m-35-234h0m-107-35h0m-77 295h0m444-239h0m-130 59h0m-60-74h0m-318 244h0m274-287h0m79 303h0m-93-81h0m-61 36h0m13-180h0m-183 222h0m16-48h0m82 33h0m256-98h0m-97 77h0m-178 33h0m153-172h0m-234 185h0m95-106h0m-86 74h0m240-298h0m-244 273h0m298 19h0m98-121h0m-329 82h0m36 10h0m-59-30h0m288-175h0m312-288h0m-369 538h0m-132-405h0m397-16h0m-404 372h0m-1-181h0m-52 173h0m113-113h0m-90 122h0m153-117h0m-206-8h0m194 117h0m-93-67h0m201 16h0m-188 92h0m-177 9h0m506-279h0m-414 169h0m55 121h0m93-263h0m-66 183h0m-73-80h0m51 63h0m3-79h0m-40 139h0m10-35h0m9-13h0m-51 100h0m353-281h0m-288 251h0m38-28h0m-23 61h0m241-156h0m-113 107h0m-267-93h0m157-56h0m190 92h0m-325-16h0m117 31h0m171-404h0m-66 298h0m-22 139h0m48-140h0m-133-84h0m35 219h0m246-341h0m-376 243h0m117 152h0m-190-138h0m107 129h0m52-90h0m-129 16h0m186 61h0m136-243h0m-80 165h0m1 5h0m24-34h0m-93 32h0m105 48h0m-78-66h0m55-153h0m-40 250h0m-149-12h0m355-145h0m33-350h0m-373 488h0m310-130h0m-410 130h0m452-264h0m-212-216h0m-105 430h0m30-33h0m-141 117h0m16-38h0m-17-138h0m103 174h0m219-83h0m-262 69h0m-24-175h0m420-166h0m-158 254h0m-381 102h0m390-207h0m-190 216h0m290-480h0m-272 117h0m-74 274h0m226 85h0m-123-103h0m-27-25h0m172-42h0m-115 77h0m-92-230h0m165 222h0m-161-11h0m-62 115h0m79-36h0m108 9h0m-89 5h0m313-407h0m-406 225h0m0 108h0m274-50h0m-362 146h0m199-326h0m233 59h0m-395 250h0m232-32h0m41 27h0m-70-135h0m-17-119h0m-46 235h0m148 2h0m103-339h0m-286 362h0m187-33h0m-289 28h0m193 26h0m122-359h0m-129 344h0m-6-186h0m-10 38h0m-74-21h0m110 81h0m-87 44h0m163 31h0m-250-128h0m51-135h0m277-26h0m-55 136h0m-125 64h0m-102-149h0m-18-13h0m66 138h0m98 120h0m-125-181h0m124 157h0m34-35h0m-20-54h0m75-86h0m-107 68h0m217-118h0m-176 233h0m-193-223h0m100 11h0m-93 134h0m-55-11h0m-22 32h0m124 7h0m510-450h0m-578 520h0m73-148h0m-171 112h0m289-18h0m220-194h0m-236 176h0m115-78h0m-278-16h0m-69 48h0m68 127h0m115-160h0m-187 126h0m-40 40h0m606-451h0m-468 277h0m-42 56h0m-14 28h0m-38-22h0m322 38h0m-229 68h0m-78-31h0m-19-21h0m125 59h0m137-67h0m40-60h0m-288 52h0m13 74h0m172 1h0m-58-458h0m85 279h0m105 118h0m72-478h0m-84 462h0m-214-71h0m255 33h0m-231-28h0m152 95h0m6 27h0m1-40h0m-77-156h0m-201 62h0m176 0h0m126-51h0m-57 93h0m-204 54h0m142-93h0m78 121h0m-84-22h0m147-77h0m-119 118h0m72-207h0m-179 11h0m-112 174h0m245-192h0m25 179h0m-3 11h0m166-379h0m-247 277h0m340-319h0m-456 417h0m287-460h0m-125 493h0m38-60h0m-153-144h0m-130 156h0m107-61h0m34-20h0m-10-118h0m146 237h0m-64-157h0m-246 172h0m229-98h0m219-140h0m-241-83h0m258 59h0m-306 230h0m101-57h0m172-21h0m-295 102h0m-26-130h0m-10 136h0m19-144h0m11 90h0m80-58h0m-137 81h0m211 11h0m-269 13h0m327 7h0m-45-148h0m-179 103h0m33-327h0m-37 278h0m418-191h0m-357 159h0m8-11h0m-128 135h0m194-52h0m-111-57h0m50-73h0m-2-177h0m-12 128h0m-123 238h0m447-251h0m-390 226h0m304-406h0m-70 342h0m-30-58h0m-84 32h0m211-262h0m196-35h0m-373 389h0m-138 14h0m130-241h0m37-148h0m-128 226h0m-118 89h0m176-32h0m-58 88h0m26-158h0m-23 167h0m215-98h0m-203-48h0m124 161h0m-166-70h0m93 34h0m95-144h0m-211 50h0m319-118h0m-226-115h0m-89 343h0m172-106h0m79 19h0m-3 9h0m-261 63h0m173-89h0m-181 111h0m109-136h0m-2-36h0m-7 178h0m-48 10h0m15-140h0m215 83h0m112-276h0m-62-216h0m-174 498h0m146-205h0m-212 201h0m91 18h0m37-88h0m-84 118h0m-41-282h0m105 265h0m-14-276h0m41 82h0m-232 200h0m165-138h0m129 26h0m-65 29h0m88-73h0m-256-24h0m126 160h0m-7-55h0m-94-43h0m98 94h0m-72-2h0m-125-14h0m69 27h0m151-60h0m-14-98h0m167-240h0m-370 411h0m287-311h0m-283 259h0m108 42h0m-189-2h0m178 14h0m-119 2h0m210-13h0m270-327h0m-244 170h0m-28 54h0m-61-206h0m-107 240h0m4-4h0m199 91h0m197-207h0m-186 208h0m-75 2h0m89-178h0m-124 166h0m105 19h0m20-96h0m45-190h0m-219 259h0m153-60h0m-196 12h0m155-30h0m-16 86h0m60-348h0m-208 285h0m261-91h0m0-167h0m138-90h0m-200 248h0m49 127h0m9 22h0m-64-94h0m234-344h0m-195 435h0m-96 0h0m127 8h0m-275-110h0m-73 131h0m158-44h0m91 18h0m-34-11h0m160-86h0m-156 115h0m-93-39h0m0-60h0m145-31h0m-270 41h0m223-242h0m-15 237h0m-32 44h0m249-132h0m-296 54h0m128-260h0m-271 392h0m278-52h0m-259 38h0m94-92h0m417-395h0m126 6h0m28 0h0m14 127h0m-37 58h0m-79 93h0m23 0h0m-89 58h0m-74-11h0m-147-337h0m7 23h0m19 99h0m-75-76h0" stroke="#e41a1c" stroke-width="13" stroke-linecap="round" fill="none"/>
<line x1="87.9" y1="1311.2" x2="87.9" y2="1933.2" stroke="#000" stroke-width="1.6"/>
<line x1="87.1" y1="1932.4" x2="1036.6" y2="1932.4" stroke="#000" stroke-width="1.6"/>
<line x1="82.4" y1="1903.5" x2="87.9" y2="1903.5" stroke="#000" stroke-width="1.2"/>
<text x="81" y="1912.8" font-size="26" text-anchor="end">0.0</text>
<line x1="82.4" y1="1758.4" x2="87.9" y2="1758.4" stroke="#000" stroke-width="1.2"/>
<text x="81" y="1767.7" font-size="26" text-anchor="end">2.5</text>
<line x1="82.4" y1="1613.2" x2="87.9" y2="1613.2" stroke="#000" stroke-width="1.2"/>
<text x="81" y="1622.5" font-size="26" text-anchor="end">5.0</text>
<line x1="82.4" y1="1468.1" x2="87.9" y2="1468.1" stroke="#000" stroke-width="1.2"/>
<text x="81" y="1477.4" font-size="26" text-anchor="end">7.5</text>
<line x1="82.4" y1="1323" x2="87.9" y2="1323" stroke="#000" stroke-width="1.2"/>
<text x="81" y="1332.3" font-size="26" text-anchor="end">10.0</text>
<line x1="90" y1="1932.4" x2="90" y2="1937.9" stroke="#000" stroke-width="1.2"/>
<text x="108.1" y="1964.6" font-size="26" text-anchor="end">−0.2</text>
<line x1="322.8" y1="1932.4" x2="322.8" y2="1937.9" stroke="#000" stroke-width="1.2"/>
<text x="340.9" y="1964.6" font-size="26" text-anchor="end">−0.1</text>
<line x1="555.6" y1="1932.4" x2="555.6" y2="1937.9" stroke="#000" stroke-width="1.2"/>
<text x="555.6" y="1964.6" font-size="26" text-anchor="middle">0.0</text>
<line x1="788.4" y1="1932.4" x2="788.4" y2="1937.9" stroke="#000" stroke-width="1.2"/>
<text x="788.4" y="1964.6" font-size="26" text-anchor="middle">0.1</text>
<line x1="1021.2" y1="1932.4" x2="1021.2" y2="1937.9" stroke="#000" stroke-width="1.2"/>
<text x="1021.2" y="1964.6" font-size="26" text-anchor="middle">0.2</text>
<text x="563" y="1995" font-size="27.2" text-anchor="middle">PD/Control</text>
<text x="567.8" y="2025.6" font-size="27.2" text-anchor="middle">(log<tspan dy="8.4" font-size="18.5">2</tspan><tspan dy="-8.4">FC - Enrichment)</tspan></text>
<text x="34.5" y="1657" font-size="27.3" text-anchor="middle" transform="rotate(-90 34.5 1657)">−log<tspan dy="8.5" font-size="18.6">10</tspan><tspan dy="-8.5">(p value)</tspan></text>
<text x="0" y="1301.6" font-size="26" font-weight="bold">d</text>
<text x="85.7" y="1301.6" font-size="27.2">Blood</text>
<circle cx="878.6" cy="1856.5" r="5" fill="#e41a1c"/>
<circle cx="878.6" cy="1887" r="5" fill="#2f51a3"/>
<text x="895.2" y="1864.8" font-size="27.2">Up</text>
<text x="895.2" y="1895.3" font-size="27.2">Down</text>
<line x1="172.7" y1="1338.3" x2="180.7" y2="1331.5" stroke="#000" stroke-width="1.6"/>
<line x1="169.5" y1="1365.5" x2="181.3" y2="1359.5" stroke="#000" stroke-width="1.6"/>
<line x1="260.6" y1="1379" x2="540.7" y2="1397.8" stroke="#000" stroke-width="1.6"/>
<line x1="233.5" y1="1417.3" x2="244.6" y2="1410.3" stroke="#000" stroke-width="1.6"/>
<line x1="350.2" y1="1445.5" x2="335.8" y2="1455.1" stroke="#000" stroke-width="1.6"/>
<line x1="194.4" y1="1485.5" x2="211" y2="1497.6" stroke="#000" stroke-width="1.6"/>
<line x1="868.5" y1="1454.7" x2="857.3" y2="1461.7" stroke="#000" stroke-width="1.6"/>
<line x1="877.1" y1="1529.8" x2="879.7" y2="1521.9" stroke="#000" stroke-width="1.6"/>
<line x1="771" y1="1554.8" x2="758.2" y2="1561.8" stroke="#000" stroke-width="1.6"/>
<line x1="820.4" y1="1634.8" x2="830" y2="1628.9" stroke="#000" stroke-width="1.6"/>
<line x1="720.6" y1="1748.4" x2="726" y2="1743.7" stroke="#000" stroke-width="1.6"/>
<circle cx="172.7" cy="1338.3" r="3.25" fill="#2f51a3"/>
<circle cx="169.5" cy="1365.5" r="3.25" fill="#2f51a3"/>
<circle cx="260.6" cy="1379" r="3.25" fill="#2f51a3"/>
<circle cx="233.5" cy="1417.3" r="3.25" fill="#2f51a3"/>
<circle cx="253.6" cy="1423.7" r="3.25" fill="#2f51a3"/>
<circle cx="350.2" cy="1445.5" r="3.25" fill="#2f51a3"/>
<circle cx="358.8" cy="1442.3" r="3.25" fill="#2f51a3"/>
<circle cx="194.4" cy="1485.5" r="3.25" fill="#2f51a3"/>
<circle cx="831.7" cy="1440.3" r="3.25" fill="#e41a1c"/>
<circle cx="868.5" cy="1454.7" r="3.25" fill="#e41a1c"/>
<circle cx="895" cy="1453.7" r="3.25" fill="#e41a1c"/>
<circle cx="922.2" cy="1444.5" r="3.25" fill="#e41a1c"/>
<circle cx="877.1" cy="1529.8" r="3.25" fill="#e41a1c"/>
<circle cx="771" cy="1554.8" r="3.25" fill="#e41a1c"/>
<rect x="180.7" y="1316.9" width="643.7" height="23.3" rx="3" fill="#fff" stroke="#333" stroke-width="1.1"/>
<text x="183.9" y="1335.3" font-size="23.2" fill="#000">Extrinsic component of postsynaptic specialization membrane</text>
<rect x="181.3" y="1352.1" width="585.8" height="23" rx="3" fill="#fff" stroke="#333" stroke-width="1.1"/>
<text x="194.1" y="1370.2" font-size="23.2" fill="#000">Extrinsic component of postsynaptic density membrane</text>
<rect x="93.7" y="1387" width="428.8" height="23.3" rx="3" fill="#fff" stroke="#333" stroke-width="1.1"/>
<text x="100.1" y="1405.4" font-size="23.2" fill="#000">Positive regulation of neuron maturation</text>
<rect x="540.7" y="1386.9" width="301.6" height="23" rx="3" fill="#fff" stroke="#333" stroke-width="1.1"/>
<text x="543" y="1405" font-size="23.2" fill="#000">Glutamine metabolic process</text>
<rect x="421.7" y="1414.7" width="541.8" height="23" rx="3" fill="#fff" stroke="#333" stroke-width="1.1"/>
<text x="432.9" y="1432.8" font-size="23.2" fill="#000">Regulation of Toll-like receptor 2 signaling pathway</text>
<rect x="93.7" y="1455.1" width="288.5" height="24" rx="3" fill="#fff" stroke="#333" stroke-width="1.1"/>
<text x="103.3" y="1474.2" font-size="23.2" fill="#000">Mitochondrion distribution</text>
<rect x="468.8" y="1461.7" width="499.5" height="23.4" rx="3" fill="#fff" stroke="#333" stroke-width="1.1"/>
<text x="475.8" y="1480.2" font-size="23.2" fill="#000">Regulation of activation of Janus Kinase activity</text>
<rect x="93.7" y="1497.6" width="521.2" height="23" rx="3" fill="#fff" stroke="#333" stroke-width="1.1"/>
<text x="100.1" y="1515.7" font-size="23.2" fill="#000">Histone methyltransferase activity H3 K27 specific</text>
<rect x="728.4" y="1498.5" width="259.4" height="23.4" rx="3" fill="#fff" stroke="#333" stroke-width="1.1"/>
<text x="735.1" y="1517" font-size="23.2" fill="#000">Interleukin 10 secretion</text>
<rect x="459.2" y="1561.8" width="501.1" height="23.1" rx="3" fill="#fff" stroke="#333" stroke-width="1.1"/>
<text x="471" y="1580" font-size="23.2" fill="#000">Positive regulation of Interleukin 17 production</text>
<rect x="413.5" y="1606.2" width="512.2" height="22.7" rx="3" fill="#fff" stroke="#333" stroke-width="1.1"/>
<text x="414.8" y="1624" font-size="23.2" fill="#000">Regulation of synaptic transmission,dopaminergic</text>
<rect x="279.2" y="1685.5" width="470.8" height="23.1" rx="3" fill="#fff" stroke="#333" stroke-width="1.1"/>
<text x="281.4" y="1703.7" font-size="23.2" fill="#000">Negative regulation of  NF Kappa B signaling</text>
<rect x="515.8" y="1720.7" width="417.2" height="23" rx="3" fill="#fff" stroke="#333" stroke-width="1.1"/>
<text x="518" y="1738.8" font-size="23.2" fill="#000">miRNA-mediated inhibition of translation</text>
<text x="1053.6" y="1306.4" font-size="25" font-weight="bold">e</text>
<text x="1120" y="1312" font-size="27.4">Extrinsic component of postsynaptic density membrane</text>
<text x="1057.3" y="1617" font-size="31.5" text-anchor="middle" transform="rotate(-90 1057.3 1617)">Enrichment score</text>
<g fill="#8b7c6c" fill-opacity="0.221"><circle cx="1176.2" cy="1707.4" r="5.4"/><circle cx="1183.1" cy="1775.3" r="5.4"/><circle cx="1166.8" cy="1540" r="5.4"/><circle cx="1188.3" cy="1785.6" r="5.4"/><circle cx="1178.1" cy="1682.4" r="5.4"/><circle cx="1188.1" cy="1620.1" r="5.4"/><circle cx="1165.5" cy="1619.8" r="5.4"/><circle cx="1163.4" cy="1596.7" r="5.4"/><circle cx="1161.1" cy="1667.8" r="5.4"/><circle cx="1179.5" cy="1735.4" r="5.4"/><circle cx="1156.5" cy="1720.7" r="5.4"/><circle cx="1168.4" cy="1723.9" r="5.4"/><circle cx="1182.6" cy="1546" r="5.4"/><circle cx="1165.4" cy="1556.2" r="5.4"/><circle cx="1164.6" cy="1777.8" r="5.4"/><circle cx="1163.5" cy="1743.4" r="5.4"/><circle cx="1174.1" cy="1848.2" r="5.4"/><circle cx="1186.7" cy="1757.6" r="5.4"/><circle cx="1164.8" cy="1601.5" r="5.4"/><circle cx="1176.7" cy="1762" r="5.4"/><circle cx="1197.2" cy="1723.3" r="5.4"/><circle cx="1175.3" cy="1699" r="5.4"/><circle cx="1165" cy="1618.4" r="5.4"/><circle cx="1190.4" cy="1686.5" r="5.4"/><circle cx="1193.4" cy="1674.1" r="5.4"/><circle cx="1186.3" cy="1738.9" r="5.4"/><circle cx="1167.5" cy="1693.6" r="5.4"/><circle cx="1175.3" cy="1779.6" r="5.4"/><circle cx="1167.3" cy="1622.2" r="5.4"/><circle cx="1194.1" cy="1714" r="5.4"/><circle cx="1153.5" cy="1715.7" r="5.4"/><circle cx="1192" cy="1614.7" r="5.4"/><circle cx="1164.7" cy="1588.5" r="5.4"/><circle cx="1159.6" cy="1746" r="5.4"/><circle cx="1190.4" cy="1716.8" r="5.4"/><circle cx="1188.3" cy="1672.8" r="5.4"/><circle cx="1154.8" cy="1709.5" r="5.4"/><circle cx="1166.2" cy="1630.4" r="5.4"/><circle cx="1157.2" cy="1700.3" r="5.4"/><circle cx="1186.3" cy="1636.2" r="5.4"/><circle cx="1193.3" cy="1697.4" r="5.4"/><circle cx="1166" cy="1744.4" r="5.4"/><circle cx="1168.9" cy="1658.2" r="5.4"/><circle cx="1154.5" cy="1736.4" r="5.4"/><circle cx="1157.5" cy="1600.7" r="5.4"/><circle cx="1155.9" cy="1662.4" r="5.4"/><circle cx="1185.3" cy="1573.3" r="5.4"/><circle cx="1162.3" cy="1678" r="5.4"/><circle cx="1173.8" cy="1690.9" r="5.4"/><circle cx="1165.1" cy="1670" r="5.4"/><circle cx="1176.2" cy="1664.1" r="5.4"/><circle cx="1177.7" cy="1765.2" r="5.4"/><circle cx="1168.5" cy="1770.2" r="5.4"/><circle cx="1164.8" cy="1585.7" r="5.4"/><circle cx="1193.5" cy="1755.5" r="5.4"/><circle cx="1194.7" cy="1543.6" r="5.4"/><circle cx="1173.8" cy="1625.5" r="5.4"/><circle cx="1170.8" cy="1671.9" r="5.4"/><circle cx="1176.1" cy="1692.8" r="5.4"/><circle cx="1177.2" cy="1599.6" r="5.4"/><circle cx="1195.7" cy="1626.5" r="5.4"/><circle cx="1172.3" cy="1690.8" r="5.4"/><circle cx="1168.3" cy="1628.9" r="5.4"/><circle cx="1195.3" cy="1633.2" r="5.4"/><circle cx="1181.9" cy="1725.5" r="5.4"/><circle cx="1159" cy="1741.2" r="5.4"/><circle cx="1177.4" cy="1681.3" r="5.4"/><circle cx="1189.5" cy="1687.4" r="5.4"/><circle cx="1178.2" cy="1684.7" r="5.4"/><circle cx="1164.8" cy="1648.7" r="5.4"/><circle cx="1169.2" cy="1644" r="5.4"/><circle cx="1185.5" cy="1600.4" r="5.4"/><circle cx="1177.8" cy="1724.5" r="5.4"/><circle cx="1153.7" cy="1679.3" r="5.4"/><circle cx="1167.3" cy="1674.9" r="5.4"/><circle cx="1186" cy="1698.1" r="5.4"/><circle cx="1155.8" cy="1717.6" r="5.4"/><circle cx="1170.9" cy="1770" r="5.4"/><circle cx="1177.9" cy="1663.7" r="5.4"/><circle cx="1166.5" cy="1653.1" r="5.4"/><circle cx="1183.6" cy="1698.1" r="5.4"/><circle cx="1155.9" cy="1616.3" r="5.4"/><circle cx="1194.7" cy="1761.2" r="5.4"/><circle cx="1186.7" cy="1740.9" r="5.4"/><circle cx="1192.1" cy="1727.2" r="5.4"/><circle cx="1176.3" cy="1676.4" r="5.4"/><circle cx="1173.8" cy="1729.9" r="5.4"/><circle cx="1166.8" cy="1748.2" r="5.4"/><circle cx="1157.5" cy="1715.7" r="5.4"/><circle cx="1176.1" cy="1663.1" r="5.4"/><circle cx="1166.8" cy="1546.8" r="5.4"/><circle cx="1191.5" cy="1742.1" r="5.4"/><circle cx="1160.3" cy="1657.1" r="5.4"/><circle cx="1154.9" cy="1616.5" r="5.4"/><circle cx="1188.2" cy="1738.8" r="5.4"/><circle cx="1196.7" cy="1706.2" r="5.4"/><circle cx="1172.3" cy="1568.8" r="5.4"/><circle cx="1191.8" cy="1678.1" r="5.4"/><circle cx="1185" cy="1664" r="5.4"/><circle cx="1188.1" cy="1744.8" r="5.4"/><circle cx="1179.3" cy="1654.4" r="5.4"/><circle cx="1175.6" cy="1674.9" r="5.4"/><circle cx="1181.1" cy="1769.9" r="5.4"/><circle cx="1188.5" cy="1596.6" r="5.4"/><circle cx="1195.4" cy="1571.7" r="5.4"/><circle cx="1192.7" cy="1701.8" r="5.4"/><circle cx="1185.7" cy="1734" r="5.4"/><circle cx="1194.5" cy="1788.4" r="5.4"/><circle cx="1154.2" cy="1709.9" r="5.4"/><circle cx="1153.5" cy="1619.9" r="5.4"/><circle cx="1164.4" cy="1738.4" r="5.4"/><circle cx="1153.3" cy="1685.4" r="5.4"/><circle cx="1178" cy="1669.7" r="5.4"/><circle cx="1161.8" cy="1687.3" r="5.4"/><circle cx="1192.1" cy="1761.4" r="5.4"/><circle cx="1157.3" cy="1611.7" r="5.4"/><circle cx="1187.5" cy="1601.5" r="5.4"/><circle cx="1155.7" cy="1680.8" r="5.4"/><circle cx="1194.8" cy="1680.8" r="5.4"/><circle cx="1169.2" cy="1618.9" r="5.4"/><circle cx="1165.4" cy="1613.5" r="5.4"/><circle cx="1167.3" cy="1708.5" r="5.4"/><circle cx="1184.4" cy="1765.1" r="5.4"/><circle cx="1191.6" cy="1728.3" r="5.4"/><circle cx="1182.9" cy="1726.7" r="5.4"/><circle cx="1159.3" cy="1759.7" r="5.4"/><circle cx="1169.7" cy="1561.3" r="5.4"/><circle cx="1174.7" cy="1627.9" r="5.4"/><circle cx="1165.2" cy="1587.4" r="5.4"/><circle cx="1194.7" cy="1604.4" r="5.4"/><circle cx="1184.5" cy="1690.4" r="5.4"/><circle cx="1184.3" cy="1580" r="5.4"/><circle cx="1164.1" cy="1649.6" r="5.4"/><circle cx="1176.7" cy="1605.7" r="5.4"/><circle cx="1163.4" cy="1765.6" r="5.4"/><circle cx="1167.4" cy="1641.4" r="5.4"/><circle cx="1187.6" cy="1705.4" r="5.4"/><circle cx="1164.2" cy="1728" r="5.4"/><circle cx="1183.4" cy="1645.7" r="5.4"/><circle cx="1163.8" cy="1720.4" r="5.4"/><circle cx="1188.4" cy="1698.9" r="5.4"/><circle cx="1160.2" cy="1727.4" r="5.4"/><circle cx="1192.4" cy="1633.7" r="5.4"/><circle cx="1155.3" cy="1567.1" r="5.4"/><circle cx="1162.5" cy="1601.7" r="5.4"/><circle cx="1182.3" cy="1640.4" r="5.4"/><circle cx="1169" cy="1717.9" r="5.4"/><circle cx="1160.3" cy="1669.4" r="5.4"/><circle cx="1159.7" cy="1653.3" r="5.4"/><circle cx="1176.3" cy="1671.4" r="5.4"/><circle cx="1166.7" cy="1751.1" r="5.4"/><circle cx="1193.3" cy="1638.7" r="5.4"/><circle cx="1186.3" cy="1775.3" r="5.4"/><circle cx="1174.9" cy="1584.7" r="5.4"/><circle cx="1182.1" cy="1637.3" r="5.4"/><circle cx="1163" cy="1736.7" r="5.4"/><circle cx="1172.2" cy="1716.8" r="5.4"/><circle cx="1189" cy="1615.5" r="5.4"/><circle cx="1193.2" cy="1677.3" r="5.4"/><circle cx="1159.6" cy="1627.6" r="5.4"/><circle cx="1167.3" cy="1736.4" r="5.4"/><circle cx="1187.5" cy="1718.1" r="5.4"/><circle cx="1165.8" cy="1627.3" r="5.4"/><circle cx="1168.1" cy="1709.7" r="5.4"/><circle cx="1157.4" cy="1655.9" r="5.4"/><circle cx="1190.3" cy="1680.3" r="5.4"/><circle cx="1157.9" cy="1690.1" r="5.4"/><circle cx="1183.1" cy="1639.6" r="5.4"/><circle cx="1157.1" cy="1711.3" r="5.4"/><circle cx="1164.8" cy="1713.4" r="5.4"/><circle cx="1194.3" cy="1711.4" r="5.4"/><circle cx="1158.4" cy="1751.4" r="5.4"/><circle cx="1188" cy="1663.8" r="5.4"/><circle cx="1162.7" cy="1563.5" r="5.4"/><circle cx="1189.7" cy="1645.8" r="5.4"/><circle cx="1167.9" cy="1698.1" r="5.4"/><circle cx="1177" cy="1687.6" r="5.4"/><circle cx="1189.3" cy="1720.4" r="5.4"/><circle cx="1157" cy="1733.8" r="5.4"/><circle cx="1169.9" cy="1676.6" r="5.4"/><circle cx="1193.3" cy="1677.2" r="5.4"/><circle cx="1164.8" cy="1604.6" r="5.4"/><circle cx="1178.3" cy="1747.2" r="5.4"/><circle cx="1193.6" cy="1664.4" r="5.4"/><circle cx="1184.4" cy="1596.6" r="5.4"/><circle cx="1193.9" cy="1594" r="5.4"/><circle cx="1177.7" cy="1652" r="5.4"/><circle cx="1182.9" cy="1777.9" r="5.4"/><circle cx="1155.9" cy="1731.8" r="5.4"/><circle cx="1195" cy="1546.1" r="5.4"/><circle cx="1170" cy="1540" r="5.4"/><circle cx="1162" cy="1846" r="5.4"/><circle cx="1185" cy="1843" r="5.4"/><circle cx="1197" cy="1844" r="5.4"/></g>
<g fill="#4d8b8b" fill-opacity="0.204"><circle cx="1276.8" cy="1751.6" r="5.4"/><circle cx="1250.2" cy="1671" r="5.4"/><circle cx="1258.5" cy="1723.9" r="5.4"/><circle cx="1265.4" cy="1628.4" r="5.4"/><circle cx="1282.3" cy="1680.1" r="5.4"/><circle cx="1242" cy="1741.9" r="5.4"/><circle cx="1281.9" cy="1659.6" r="5.4"/><circle cx="1244.5" cy="1686.9" r="5.4"/><circle cx="1255.4" cy="1791.3" r="5.4"/><circle cx="1242.2" cy="1692.6" r="5.4"/><circle cx="1285.2" cy="1752.2" r="5.4"/><circle cx="1284.9" cy="1680.8" r="5.4"/><circle cx="1261.3" cy="1605.6" r="5.4"/><circle cx="1273.6" cy="1707.6" r="5.4"/><circle cx="1244.3" cy="1675.5" r="5.4"/><circle cx="1266.7" cy="1599.9" r="5.4"/><circle cx="1257.5" cy="1670.1" r="5.4"/><circle cx="1266.6" cy="1793.7" r="5.4"/><circle cx="1255.7" cy="1656.2" r="5.4"/><circle cx="1271.7" cy="1704.9" r="5.4"/><circle cx="1263.4" cy="1744.2" r="5.4"/><circle cx="1264" cy="1724.4" r="5.4"/><circle cx="1263.9" cy="1677.5" r="5.4"/><circle cx="1257.6" cy="1806.8" r="5.4"/><circle cx="1264.7" cy="1785.7" r="5.4"/><circle cx="1274" cy="1763.5" r="5.4"/><circle cx="1270.2" cy="1739.2" r="5.4"/><circle cx="1248" cy="1764.6" r="5.4"/><circle cx="1271.5" cy="1712.6" r="5.4"/><circle cx="1250.9" cy="1755.6" r="5.4"/><circle cx="1270.9" cy="1819.1" r="5.4"/><circle cx="1275" cy="1807.4" r="5.4"/><circle cx="1270.7" cy="1811.9" r="5.4"/><circle cx="1277.3" cy="1768.9" r="5.4"/><circle cx="1260.2" cy="1761.3" r="5.4"/><circle cx="1286.2" cy="1762.4" r="5.4"/><circle cx="1281.5" cy="1607.6" r="5.4"/><circle cx="1265.7" cy="1721.3" r="5.4"/><circle cx="1255.5" cy="1726.4" r="5.4"/><circle cx="1283.7" cy="1714.4" r="5.4"/><circle cx="1267.7" cy="1735.1" r="5.4"/><circle cx="1248.5" cy="1720.9" r="5.4"/><circle cx="1260.3" cy="1566.7" r="5.4"/><circle cx="1247.3" cy="1619.5" r="5.4"/><circle cx="1263.8" cy="1741.6" r="5.4"/><circle cx="1253.7" cy="1663.9" r="5.4"/><circle cx="1248.9" cy="1698.4" r="5.4"/><circle cx="1275.9" cy="1692.3" r="5.4"/><circle cx="1256" cy="1603.5" r="5.4"/><circle cx="1284.6" cy="1644.1" r="5.4"/><circle cx="1272.8" cy="1594.5" r="5.4"/><circle cx="1259.2" cy="1679.6" r="5.4"/><circle cx="1255" cy="1672" r="5.4"/><circle cx="1248.3" cy="1760.3" r="5.4"/><circle cx="1257.7" cy="1777.6" r="5.4"/><circle cx="1266.7" cy="1773.9" r="5.4"/><circle cx="1242.7" cy="1735.9" r="5.4"/><circle cx="1267.5" cy="1616.8" r="5.4"/><circle cx="1251.5" cy="1759.9" r="5.4"/><circle cx="1249.4" cy="1737.2" r="5.4"/><circle cx="1248.9" cy="1722.3" r="5.4"/><circle cx="1254.9" cy="1598" r="5.4"/><circle cx="1258" cy="1566" r="5.4"/><circle cx="1290" cy="1578" r="5.4"/><circle cx="1256" cy="1818" r="5.4"/></g>
<g fill="#4d8b8b" fill-opacity="0.204"><circle cx="1347.6" cy="1646" r="5.4"/><circle cx="1371" cy="1710.9" r="5.4"/><circle cx="1349.6" cy="1753.5" r="5.4"/><circle cx="1366.3" cy="1610.2" r="5.4"/><circle cx="1367.7" cy="1756.4" r="5.4"/><circle cx="1340.6" cy="1753.3" r="5.4"/><circle cx="1341.7" cy="1635.2" r="5.4"/><circle cx="1365.3" cy="1653.1" r="5.4"/><circle cx="1362.3" cy="1785.2" r="5.4"/><circle cx="1347.1" cy="1776.9" r="5.4"/><circle cx="1341.3" cy="1562.7" r="5.4"/><circle cx="1340.1" cy="1794.3" r="5.4"/><circle cx="1365.4" cy="1766.7" r="5.4"/><circle cx="1362.7" cy="1760" r="5.4"/><circle cx="1345.5" cy="1647.8" r="5.4"/><circle cx="1338.6" cy="1736.4" r="5.4"/><circle cx="1362.4" cy="1680.5" r="5.4"/><circle cx="1351.8" cy="1756.2" r="5.4"/><circle cx="1357.5" cy="1839.1" r="5.4"/><circle cx="1346.4" cy="1761.4" r="5.4"/><circle cx="1344" cy="1785.8" r="5.4"/><circle cx="1346.1" cy="1699.8" r="5.4"/><circle cx="1354.4" cy="1653.9" r="5.4"/><circle cx="1359.7" cy="1721" r="5.4"/><circle cx="1332" cy="1787.4" r="5.4"/><circle cx="1333" cy="1815.5" r="5.4"/><circle cx="1351.6" cy="1716.4" r="5.4"/><circle cx="1366.4" cy="1736.7" r="5.4"/><circle cx="1352" cy="1694.5" r="5.4"/><circle cx="1373.8" cy="1609.2" r="5.4"/><circle cx="1339.8" cy="1726" r="5.4"/><circle cx="1352.5" cy="1743" r="5.4"/><circle cx="1373.8" cy="1693.6" r="5.4"/><circle cx="1369.5" cy="1709.3" r="5.4"/><circle cx="1335.7" cy="1603.9" r="5.4"/><circle cx="1351.5" cy="1724.2" r="5.4"/><circle cx="1342.7" cy="1810.2" r="5.4"/><circle cx="1345.2" cy="1719" r="5.4"/><circle cx="1373.1" cy="1759.2" r="5.4"/><circle cx="1355.9" cy="1749.3" r="5.4"/><circle cx="1351.5" cy="1671.5" r="5.4"/><circle cx="1345" cy="1734.1" r="5.4"/><circle cx="1368.8" cy="1667.5" r="5.4"/><circle cx="1354" cy="1733.9" r="5.4"/><circle cx="1372.7" cy="1650" r="5.4"/><circle cx="1366.9" cy="1621.2" r="5.4"/><circle cx="1372.2" cy="1817.3" r="5.4"/><circle cx="1334.4" cy="1760.4" r="5.4"/><circle cx="1350.6" cy="1746.3" r="5.4"/><circle cx="1367.4" cy="1632.4" r="5.4"/><circle cx="1350.7" cy="1684.1" r="5.4"/><circle cx="1372" cy="1641.9" r="5.4"/><circle cx="1350.8" cy="1791.7" r="5.4"/><circle cx="1365" cy="1686.6" r="5.4"/><circle cx="1333.7" cy="1845.4" r="5.4"/><circle cx="1364" cy="1754.1" r="5.4"/><circle cx="1350.4" cy="1699.6" r="5.4"/><circle cx="1373.1" cy="1807.4" r="5.4"/><circle cx="1363.8" cy="1584.6" r="5.4"/><circle cx="1365.4" cy="1666.6" r="5.4"/><circle cx="1361.1" cy="1694.4" r="5.4"/><circle cx="1375.3" cy="1789.8" r="5.4"/><circle cx="1334.5" cy="1790.3" r="5.4"/><circle cx="1363.3" cy="1743.5" r="5.4"/><circle cx="1370.2" cy="1605.5" r="5.4"/><circle cx="1335.4" cy="1686.2" r="5.4"/><circle cx="1354.5" cy="1649" r="5.4"/><circle cx="1345.4" cy="1801.4" r="5.4"/><circle cx="1358.7" cy="1691.9" r="5.4"/><circle cx="1340.3" cy="1758.6" r="5.4"/><circle cx="1349.1" cy="1840.9" r="5.4"/><circle cx="1357.6" cy="1715.6" r="5.4"/><circle cx="1337" cy="1765.8" r="5.4"/><circle cx="1364.2" cy="1695.6" r="5.4"/><circle cx="1337.3" cy="1723.5" r="5.4"/><circle cx="1331.6" cy="1723.2" r="5.4"/><circle cx="1355.9" cy="1721.4" r="5.4"/><circle cx="1353.3" cy="1724.9" r="5.4"/><circle cx="1353.7" cy="1694.9" r="5.4"/><circle cx="1343.3" cy="1841.7" r="5.4"/><circle cx="1362" cy="1678.4" r="5.4"/><circle cx="1370.9" cy="1736.4" r="5.4"/><circle cx="1366.9" cy="1701.1" r="5.4"/><circle cx="1363.6" cy="1573.9" r="5.4"/><circle cx="1331" cy="1783.4" r="5.4"/><circle cx="1368.9" cy="1735.3" r="5.4"/><circle cx="1335.4" cy="1631.2" r="5.4"/><circle cx="1370.7" cy="1673" r="5.4"/><circle cx="1348.8" cy="1615.6" r="5.4"/><circle cx="1359.3" cy="1738.6" r="5.4"/><circle cx="1337.1" cy="1821.4" r="5.4"/><circle cx="1333" cy="1799.1" r="5.4"/><circle cx="1357" cy="1636.1" r="5.4"/><circle cx="1350.9" cy="1608.2" r="5.4"/><circle cx="1345.4" cy="1754.1" r="5.4"/><circle cx="1358.5" cy="1829.2" r="5.4"/><circle cx="1363.1" cy="1723" r="5.4"/><circle cx="1342.4" cy="1787.8" r="5.4"/><circle cx="1367.8" cy="1629.2" r="5.4"/><circle cx="1352.3" cy="1712.3" r="5.4"/><circle cx="1374.8" cy="1748.1" r="5.4"/><circle cx="1359.9" cy="1692.8" r="5.4"/><circle cx="1370.8" cy="1704.7" r="5.4"/><circle cx="1339.6" cy="1763.8" r="5.4"/><circle cx="1351.4" cy="1678.8" r="5.4"/><circle cx="1332" cy="1654.8" r="5.4"/><circle cx="1354.4" cy="1767.7" r="5.4"/><circle cx="1367.4" cy="1734.9" r="5.4"/><circle cx="1368.8" cy="1654.5" r="5.4"/><circle cx="1367.3" cy="1747.2" r="5.4"/><circle cx="1357.4" cy="1682.6" r="5.4"/><circle cx="1372.4" cy="1760.6" r="5.4"/><circle cx="1360.9" cy="1718.4" r="5.4"/><circle cx="1354.5" cy="1700.4" r="5.4"/><circle cx="1339.4" cy="1668.8" r="5.4"/><circle cx="1361.9" cy="1732" r="5.4"/><circle cx="1373.1" cy="1715.9" r="5.4"/><circle cx="1335.5" cy="1841.8" r="5.4"/><circle cx="1347.4" cy="1716" r="5.4"/><circle cx="1368.7" cy="1631.5" r="5.4"/><circle cx="1357.9" cy="1855.8" r="5.4"/><circle cx="1356.7" cy="1586.7" r="5.4"/><circle cx="1353" cy="1826.1" r="5.4"/><circle cx="1331.5" cy="1662.8" r="5.4"/><circle cx="1358.9" cy="1809" r="5.4"/><circle cx="1356.2" cy="1706.7" r="5.4"/><circle cx="1367.6" cy="1754" r="5.4"/><circle cx="1356.8" cy="1720.6" r="5.4"/><circle cx="1358.1" cy="1711.4" r="5.4"/><circle cx="1358.5" cy="1752.4" r="5.4"/><circle cx="1339" cy="1676.9" r="5.4"/><circle cx="1350.6" cy="1749.6" r="5.4"/><circle cx="1365.2" cy="1648.4" r="5.4"/><circle cx="1337.6" cy="1671" r="5.4"/><circle cx="1368.9" cy="1685.5" r="5.4"/><circle cx="1370.1" cy="1711.9" r="5.4"/><circle cx="1344.9" cy="1797.3" r="5.4"/><circle cx="1345" cy="1664.1" r="5.4"/><circle cx="1373.1" cy="1662.5" r="5.4"/><circle cx="1342.7" cy="1645.3" r="5.4"/><circle cx="1361.9" cy="1691.8" r="5.4"/><circle cx="1362.2" cy="1754.6" r="5.4"/><circle cx="1374.9" cy="1669.7" r="5.4"/><circle cx="1343.3" cy="1699" r="5.4"/><circle cx="1362.6" cy="1679.9" r="5.4"/><circle cx="1373.3" cy="1723.4" r="5.4"/><circle cx="1373.2" cy="1587.4" r="5.4"/><circle cx="1351.1" cy="1756.5" r="5.4"/><circle cx="1351.7" cy="1778" r="5.4"/><circle cx="1364.6" cy="1663.7" r="5.4"/><circle cx="1361.1" cy="1713.4" r="5.4"/><circle cx="1351.9" cy="1659" r="5.4"/><circle cx="1364.9" cy="1783" r="5.4"/><circle cx="1343.1" cy="1759" r="5.4"/><circle cx="1355.7" cy="1704.5" r="5.4"/><circle cx="1357.9" cy="1661.3" r="5.4"/><circle cx="1368.5" cy="1687" r="5.4"/><circle cx="1372" cy="1636.6" r="5.4"/><circle cx="1334.7" cy="1731.8" r="5.4"/><circle cx="1335.2" cy="1738.4" r="5.4"/><circle cx="1353.2" cy="1778.3" r="5.4"/><circle cx="1347.8" cy="1744.6" r="5.4"/><circle cx="1334.7" cy="1691.6" r="5.4"/><circle cx="1340.2" cy="1802.6" r="5.4"/><circle cx="1363.8" cy="1756.3" r="5.4"/><circle cx="1338.3" cy="1772.7" r="5.4"/><circle cx="1364.7" cy="1642.8" r="5.4"/><circle cx="1362.1" cy="1664.7" r="5.4"/><circle cx="1331.1" cy="1677.2" r="5.4"/><circle cx="1356.3" cy="1693.5" r="5.4"/><circle cx="1341.8" cy="1577.2" r="5.4"/><circle cx="1331.1" cy="1797.2" r="5.4"/><circle cx="1342.6" cy="1705.5" r="5.4"/><circle cx="1373" cy="1774.4" r="5.4"/><circle cx="1371.9" cy="1769.6" r="5.4"/><circle cx="1363.8" cy="1816.6" r="5.4"/><circle cx="1338.3" cy="1756.9" r="5.4"/><circle cx="1342.5" cy="1744.2" r="5.4"/><circle cx="1336" cy="1671.9" r="5.4"/><circle cx="1371" cy="1728.1" r="5.4"/><circle cx="1335.3" cy="1834.3" r="5.4"/><circle cx="1356.2" cy="1606.1" r="5.4"/><circle cx="1355.8" cy="1674.8" r="5.4"/><circle cx="1375.6" cy="1738.5" r="5.4"/><circle cx="1370.5" cy="1825.8" r="5.4"/><circle cx="1333.8" cy="1649.8" r="5.4"/><circle cx="1373.3" cy="1691.9" r="5.4"/><circle cx="1350.9" cy="1731.3" r="5.4"/><circle cx="1363.6" cy="1665.4" r="5.4"/><circle cx="1367.4" cy="1711.6" r="5.4"/><circle cx="1332.8" cy="1770.3" r="5.4"/><circle cx="1337.7" cy="1676.4" r="5.4"/><circle cx="1342.5" cy="1747.3" r="5.4"/><circle cx="1358.5" cy="1749.2" r="5.4"/><circle cx="1358.5" cy="1699.1" r="5.4"/><circle cx="1363.2" cy="1745.4" r="5.4"/><circle cx="1344.6" cy="1834.6" r="5.4"/><circle cx="1359.3" cy="1731" r="5.4"/><circle cx="1347.3" cy="1695.3" r="5.4"/><circle cx="1358.9" cy="1674.6" r="5.4"/><circle cx="1361.1" cy="1738.1" r="5.4"/><circle cx="1352.6" cy="1790.6" r="5.4"/><circle cx="1353.9" cy="1732.8" r="5.4"/><circle cx="1336.7" cy="1743.5" r="5.4"/><circle cx="1333.4" cy="1674" r="5.4"/><circle cx="1360.1" cy="1653.6" r="5.4"/><circle cx="1367.9" cy="1741.3" r="5.4"/><circle cx="1365" cy="1709.6" r="5.4"/><circle cx="1346.8" cy="1760.8" r="5.4"/><circle cx="1364.4" cy="1804" r="5.4"/><circle cx="1362" cy="1746.8" r="5.4"/><circle cx="1342.2" cy="1710.8" r="5.4"/><circle cx="1361.4" cy="1757.3" r="5.4"/><circle cx="1348.9" cy="1755" r="5.4"/><circle cx="1357.5" cy="1717.6" r="5.4"/><circle cx="1374.9" cy="1686.3" r="5.4"/><circle cx="1365.3" cy="1766.9" r="5.4"/><circle cx="1373.9" cy="1710.5" r="5.4"/><circle cx="1356.7" cy="1649.3" r="5.4"/><circle cx="1347.4" cy="1767.7" r="5.4"/><circle cx="1369.4" cy="1689.7" r="5.4"/><circle cx="1340.1" cy="1688.4" r="5.4"/><circle cx="1332.2" cy="1765.5" r="5.4"/><circle cx="1370.1" cy="1672.5" r="5.4"/><circle cx="1340.9" cy="1711.7" r="5.4"/><circle cx="1370.7" cy="1659.5" r="5.4"/><circle cx="1356.2" cy="1624.2" r="5.4"/><circle cx="1344.5" cy="1741.9" r="5.4"/><circle cx="1362.6" cy="1823.9" r="5.4"/><circle cx="1350.6" cy="1666.2" r="5.4"/><circle cx="1344.6" cy="1798.2" r="5.4"/><circle cx="1362.1" cy="1792" r="5.4"/><circle cx="1340.5" cy="1820.5" r="5.4"/><circle cx="1345.6" cy="1653.4" r="5.4"/><circle cx="1331.5" cy="1680.5" r="5.4"/><circle cx="1348.6" cy="1829.5" r="5.4"/><circle cx="1357.3" cy="1719.5" r="5.4"/><circle cx="1355" cy="1722.4" r="5.4"/><circle cx="1355.2" cy="1768.9" r="5.4"/><circle cx="1340.8" cy="1762.8" r="5.4"/><circle cx="1373.3" cy="1687.7" r="5.4"/><circle cx="1332" cy="1709.5" r="5.4"/><circle cx="1362.6" cy="1764.7" r="5.4"/><circle cx="1338.6" cy="1740.8" r="5.4"/><circle cx="1333.5" cy="1676.3" r="5.4"/><circle cx="1367.6" cy="1806.5" r="5.4"/><circle cx="1346.6" cy="1778.8" r="5.4"/><circle cx="1341.7" cy="1703.1" r="5.4"/><circle cx="1372.4" cy="1688.1" r="5.4"/><circle cx="1346" cy="1783.6" r="5.4"/><circle cx="1350" cy="1562" r="5.4"/><circle cx="1372" cy="1568" r="5.4"/><circle cx="1360" cy="1856" r="5.4"/></g>
<g fill="#4d8b8b" fill-opacity="0.204"><circle cx="1459" cy="1646.3" r="5.4"/><circle cx="1462.9" cy="1669.1" r="5.4"/><circle cx="1454.2" cy="1724.2" r="5.4"/><circle cx="1454.2" cy="1790" r="5.4"/><circle cx="1423" cy="1699.4" r="5.4"/><circle cx="1437.3" cy="1622.1" r="5.4"/><circle cx="1461.2" cy="1712.2" r="5.4"/><circle cx="1430.1" cy="1749.3" r="5.4"/><circle cx="1457.7" cy="1765.7" r="5.4"/><circle cx="1455.4" cy="1764.9" r="5.4"/><circle cx="1451" cy="1736.5" r="5.4"/><circle cx="1457.8" cy="1786.2" r="5.4"/><circle cx="1449.3" cy="1721.9" r="5.4"/><circle cx="1448" cy="1629.2" r="5.4"/><circle cx="1448.3" cy="1736.2" r="5.4"/><circle cx="1449.3" cy="1656.7" r="5.4"/><circle cx="1435.4" cy="1695.5" r="5.4"/><circle cx="1443" cy="1794.6" r="5.4"/><circle cx="1434.2" cy="1745.1" r="5.4"/><circle cx="1421" cy="1840.7" r="5.4"/><circle cx="1445.9" cy="1575.2" r="5.4"/><circle cx="1447.4" cy="1668.5" r="5.4"/><circle cx="1464.2" cy="1774" r="5.4"/><circle cx="1453.5" cy="1775.8" r="5.4"/><circle cx="1447" cy="1575" r="5.4"/><circle cx="1425" cy="1623" r="5.4"/><circle cx="1447" cy="1623" r="5.4"/><circle cx="1430" cy="1660" r="5.4"/><circle cx="1455" cy="1665" r="5.4"/><circle cx="1450" cy="1673" r="5.4"/><circle cx="1447" cy="1700" r="5.4"/><circle cx="1427" cy="1703" r="5.4"/></g>
<g stroke="#8b7c6c" fill="none">
<line x1="1175.3" y1="1540" x2="1175.3" y2="1630.5" stroke="#8b7c6c" stroke-width="2.4"/>
<line x1="1175.3" y1="1726" x2="1175.3" y2="1848.2" stroke="#8b7c6c" stroke-width="2.4"/>
<rect x="1141.5" y="1630.5" width="67.5" height="95.5" fill="none" stroke="#8b7c6c" stroke-width="2.4"/>
<line x1="1141.5" y1="1686.3" x2="1209" y2="1686.3" stroke="#8b7c6c" stroke-width="4.4"/>
</g>
<g stroke="#4d8b8b" fill="none">
<line x1="1264.3" y1="1566.7" x2="1264.3" y2="1645.6" stroke="#4d8b8b" stroke-width="2.4"/>
<line x1="1264.3" y1="1746.2" x2="1264.3" y2="1819.1" stroke="#4d8b8b" stroke-width="2.4"/>
<rect x="1230.5" y="1645.6" width="67.5" height="100.6" fill="none" stroke="#4d8b8b" stroke-width="2.4"/>
<line x1="1230.5" y1="1706.5" x2="1298" y2="1706.5" stroke="#4d8b8b" stroke-width="4.4"/>
</g>
<g stroke="#4d8b8b" fill="none">
<line x1="1353.3" y1="1562.7" x2="1353.3" y2="1673.8" stroke="#4d8b8b" stroke-width="2.4"/>
<line x1="1353.3" y1="1761.3" x2="1353.3" y2="1855.8" stroke="#4d8b8b" stroke-width="2.4"/>
<rect x="1319.5" y="1673.8" width="67.5" height="87.5" fill="none" stroke="#4d8b8b" stroke-width="2.4"/>
<line x1="1319.5" y1="1717.5" x2="1387" y2="1717.5" stroke="#4d8b8b" stroke-width="4.4"/>
</g>
<g stroke="#4d8b8b" fill="none">
<line x1="1442.3" y1="1575.2" x2="1442.3" y2="1673.8" stroke="#4d8b8b" stroke-width="2.4"/>
<line x1="1442.3" y1="1793" x2="1442.3" y2="1840.7" stroke="#4d8b8b" stroke-width="2.4"/>
<rect x="1408.5" y="1673.8" width="67.5" height="119.2" fill="none" stroke="#4d8b8b" stroke-width="2.4"/>
<line x1="1408.5" y1="1757.7" x2="1476" y2="1757.7" stroke="#4d8b8b" stroke-width="4.4"/>
</g>
<line x1="1121.9" y1="1366.4" x2="1121.9" y2="1880.7" stroke="#000" stroke-width="1.6"/>
<line x1="1121.1" y1="1879.9" x2="1495" y2="1879.9" stroke="#000" stroke-width="1.6"/>
<line x1="1116.4" y1="1809" x2="1121.9" y2="1809" stroke="#000" stroke-width="1.2"/>
<text x="1113.4" y="1818.2" font-size="25.5" text-anchor="end">−0.5</text>
<line x1="1116.4" y1="1707.3" x2="1121.9" y2="1707.3" stroke="#000" stroke-width="1.2"/>
<text x="1113.4" y="1716.5" font-size="25.5" text-anchor="end">0.0</text>
<line x1="1116.4" y1="1605.6" x2="1121.9" y2="1605.6" stroke="#000" stroke-width="1.2"/>
<text x="1113.4" y="1614.8" font-size="25.5" text-anchor="end">0.5</text>
<line x1="1116.4" y1="1503.9" x2="1121.9" y2="1503.9" stroke="#000" stroke-width="1.2"/>
<text x="1113.4" y="1513.1" font-size="25.5" text-anchor="end">1.0</text>
<line x1="1116.4" y1="1402.2" x2="1121.9" y2="1402.2" stroke="#000" stroke-width="1.2"/>
<text x="1113.4" y="1411.4" font-size="25.5" text-anchor="end">1.5</text>
<line x1="1175.3" y1="1879.9" x2="1175.3" y2="1885.4" stroke="#000" stroke-width="1.2"/>
<line x1="1264.3" y1="1879.9" x2="1264.3" y2="1885.4" stroke="#000" stroke-width="1.2"/>
<text x="1264.3" y="1914.6" font-size="26" text-anchor="middle">1</text>
<line x1="1353.3" y1="1879.9" x2="1353.3" y2="1885.4" stroke="#000" stroke-width="1.2"/>
<text x="1353.3" y="1914.6" font-size="26" text-anchor="middle">2</text>
<line x1="1442.3" y1="1879.9" x2="1442.3" y2="1885.4" stroke="#000" stroke-width="1.2"/>
<text x="1442.3" y="1914.6" font-size="26" text-anchor="middle">3</text>
<text x="1170.8" y="1948.8" font-size="27.2" text-anchor="middle">Control</text>
<line x1="1231.1" y1="1922.6" x2="1496" y2="1922.6" stroke="#000" stroke-width="1.6"/>
<text x="1346.7" y="1949.8" font-size="27.2" text-anchor="middle">PD</text>
<text x="1354.3" y="1982.5" font-size="27.2" text-anchor="middle">Hoehn &amp; Yahr Scale</text>
<text x="1119.5" y="1357.6" font-size="27.2">Blood</text>
<polyline points="1264.2,1431.1 1264.2,1421.1 1442.5,1421.1 1442.5,1431.1" fill="none" stroke="#000" stroke-width="1.3"/>
<text x="1344.5" y="1418.8" font-size="22" text-anchor="middle">0.011</text>
<polyline points="1264.2,1454.2 1264.2,1444.3 1353.4,1444.3 1353.4,1454.2" fill="none" stroke="#000" stroke-width="1.3"/>
<text x="1306.7" y="1441.6" font-size="22" text-anchor="middle">0.035</text>
<polyline points="1174.6,1483.3 1174.6,1471.5 1441.8,1471.5 1441.8,1483.3" fill="none" stroke="#000" stroke-width="1.3"/>
<text x="1307.1" y="1468.6" font-size="22" text-anchor="middle">0.001</text>
<polyline points="1174.6,1506.7 1174.6,1496.8 1353.7,1496.8 1353.7,1506.7" fill="none" stroke="#000" stroke-width="1.3"/>
<text x="1235.3" y="1493.8" font-size="22">1.7*10<tspan dy="-8.1" font-size="13.6">-6</tspan></text>
<g fill="#8b7c6c" fill-opacity="0.221"><circle cx="1676.1" cy="1680.8" r="5.4"/><circle cx="1646.3" cy="1665.4" r="5.4"/><circle cx="1678.2" cy="1705.4" r="5.4"/><circle cx="1647" cy="1785.1" r="5.4"/><circle cx="1666" cy="1582.7" r="5.4"/><circle cx="1646.3" cy="1698.7" r="5.4"/><circle cx="1695.6" cy="1690" r="5.4"/><circle cx="1665.1" cy="1577.7" r="5.4"/><circle cx="1677" cy="1633.4" r="5.4"/><circle cx="1679.7" cy="1685.8" r="5.4"/><circle cx="1643.4" cy="1675.9" r="5.4"/><circle cx="1695.2" cy="1606.7" r="5.4"/><circle cx="1651" cy="1718.3" r="5.4"/><circle cx="1643.8" cy="1687.9" r="5.4"/><circle cx="1667.5" cy="1710.9" r="5.4"/><circle cx="1669.2" cy="1765.5" r="5.4"/><circle cx="1692.9" cy="1571.5" r="5.4"/><circle cx="1674.9" cy="1730.8" r="5.4"/><circle cx="1688" cy="1701.4" r="5.4"/><circle cx="1661.5" cy="1603.6" r="5.4"/><circle cx="1670.6" cy="1669.5" r="5.4"/><circle cx="1670.3" cy="1640.5" r="5.4"/><circle cx="1658.2" cy="1579.6" r="5.4"/><circle cx="1671" cy="1720.3" r="5.4"/><circle cx="1646" cy="1611.7" r="5.4"/><circle cx="1674.3" cy="1721.1" r="5.4"/><circle cx="1643.8" cy="1634.7" r="5.4"/><circle cx="1652.1" cy="1695.2" r="5.4"/><circle cx="1692.1" cy="1685.7" r="5.4"/><circle cx="1684.8" cy="1649.2" r="5.4"/><circle cx="1658.5" cy="1643.2" r="5.4"/><circle cx="1677.6" cy="1640.8" r="5.4"/><circle cx="1658.5" cy="1582.1" r="5.4"/><circle cx="1651.5" cy="1702.8" r="5.4"/><circle cx="1662.5" cy="1610.9" r="5.4"/><circle cx="1644.3" cy="1621.1" r="5.4"/><circle cx="1666.1" cy="1679.4" r="5.4"/><circle cx="1649.7" cy="1581" r="5.4"/><circle cx="1671.4" cy="1616.4" r="5.4"/><circle cx="1674.2" cy="1634.4" r="5.4"/><circle cx="1685.2" cy="1696.8" r="5.4"/><circle cx="1694.8" cy="1556.7" r="5.4"/><circle cx="1679.5" cy="1717.5" r="5.4"/><circle cx="1685.2" cy="1662.1" r="5.4"/><circle cx="1684.6" cy="1633.1" r="5.4"/><circle cx="1687.3" cy="1693.3" r="5.4"/><circle cx="1678.7" cy="1731.6" r="5.4"/><circle cx="1676.7" cy="1739.6" r="5.4"/><circle cx="1691.2" cy="1589.6" r="5.4"/><circle cx="1680.2" cy="1750.6" r="5.4"/><circle cx="1690.3" cy="1675.6" r="5.4"/><circle cx="1683.2" cy="1748.6" r="5.4"/><circle cx="1648.4" cy="1588.2" r="5.4"/><circle cx="1686.7" cy="1659.7" r="5.4"/><circle cx="1685.5" cy="1664.5" r="5.4"/><circle cx="1663.8" cy="1571.2" r="5.4"/><circle cx="1675.3" cy="1636.8" r="5.4"/><circle cx="1663.7" cy="1725.3" r="5.4"/><circle cx="1696.3" cy="1737.3" r="5.4"/><circle cx="1664.2" cy="1711.1" r="5.4"/><circle cx="1679.8" cy="1689.5" r="5.4"/><circle cx="1668" cy="1637.6" r="5.4"/><circle cx="1675.8" cy="1791.4" r="5.4"/><circle cx="1649.2" cy="1564.9" r="5.4"/><circle cx="1649.6" cy="1576.1" r="5.4"/><circle cx="1658.3" cy="1611" r="5.4"/><circle cx="1658.1" cy="1683.4" r="5.4"/><circle cx="1679" cy="1636" r="5.4"/><circle cx="1662.9" cy="1717.4" r="5.4"/><circle cx="1684.8" cy="1546.5" r="5.4"/><circle cx="1662.7" cy="1720.7" r="5.4"/><circle cx="1682.2" cy="1773.9" r="5.4"/><circle cx="1668.6" cy="1723.1" r="5.4"/><circle cx="1661" cy="1648.8" r="5.4"/><circle cx="1650.3" cy="1624.2" r="5.4"/><circle cx="1664.3" cy="1735.4" r="5.4"/><circle cx="1662.8" cy="1528" r="5.4"/><circle cx="1644.9" cy="1608.6" r="5.4"/><circle cx="1676.2" cy="1537.4" r="5.4"/><circle cx="1647" cy="1660.9" r="5.4"/><circle cx="1657" cy="1778.2" r="5.4"/><circle cx="1659.2" cy="1637.8" r="5.4"/><circle cx="1688.3" cy="1734.3" r="5.4"/><circle cx="1661.8" cy="1585.5" r="5.4"/><circle cx="1642.9" cy="1628.1" r="5.4"/><circle cx="1669.3" cy="1626.3" r="5.4"/><circle cx="1654.2" cy="1733.1" r="5.4"/><circle cx="1650.3" cy="1601.8" r="5.4"/><circle cx="1692.1" cy="1618.2" r="5.4"/><circle cx="1646.9" cy="1672.9" r="5.4"/><circle cx="1653.3" cy="1761.4" r="5.4"/><circle cx="1647.8" cy="1676.3" r="5.4"/><circle cx="1655.1" cy="1774.6" r="5.4"/><circle cx="1644" cy="1695.5" r="5.4"/><circle cx="1669.8" cy="1652.1" r="5.4"/><circle cx="1684" cy="1738.6" r="5.4"/><circle cx="1666.4" cy="1625.7" r="5.4"/><circle cx="1677.2" cy="1599.1" r="5.4"/><circle cx="1687.5" cy="1678.9" r="5.4"/><circle cx="1675.9" cy="1548.3" r="5.4"/><circle cx="1650" cy="1576.7" r="5.4"/><circle cx="1686.5" cy="1607.6" r="5.4"/><circle cx="1695.8" cy="1674.8" r="5.4"/><circle cx="1696.3" cy="1732.3" r="5.4"/><circle cx="1654.1" cy="1738.4" r="5.4"/><circle cx="1688.7" cy="1656.9" r="5.4"/><circle cx="1655.6" cy="1686.2" r="5.4"/><circle cx="1657.6" cy="1647.6" r="5.4"/><circle cx="1664.4" cy="1558.5" r="5.4"/><circle cx="1678.8" cy="1696.1" r="5.4"/><circle cx="1662.1" cy="1613.7" r="5.4"/><circle cx="1657.4" cy="1715.8" r="5.4"/><circle cx="1660" cy="1628.8" r="5.4"/><circle cx="1644" cy="1591.3" r="5.4"/><circle cx="1673.9" cy="1691.8" r="5.4"/><circle cx="1677.5" cy="1628.3" r="5.4"/><circle cx="1666.2" cy="1566.9" r="5.4"/><circle cx="1695.1" cy="1732" r="5.4"/><circle cx="1684.4" cy="1691" r="5.4"/><circle cx="1660.9" cy="1690.8" r="5.4"/><circle cx="1674.3" cy="1677.2" r="5.4"/><circle cx="1669.9" cy="1627.3" r="5.4"/><circle cx="1652.8" cy="1627.1" r="5.4"/><circle cx="1662.7" cy="1636.7" r="5.4"/><circle cx="1678.6" cy="1696.9" r="5.4"/><circle cx="1661.5" cy="1567.1" r="5.4"/><circle cx="1650.9" cy="1699.9" r="5.4"/><circle cx="1662.2" cy="1674.6" r="5.4"/><circle cx="1653.7" cy="1756.9" r="5.4"/><circle cx="1659.4" cy="1614.1" r="5.4"/><circle cx="1645.8" cy="1673.5" r="5.4"/><circle cx="1671.2" cy="1687.1" r="5.4"/><circle cx="1664.9" cy="1706.6" r="5.4"/><circle cx="1657.6" cy="1746.9" r="5.4"/><circle cx="1679" cy="1700.3" r="5.4"/><circle cx="1690.8" cy="1560" r="5.4"/><circle cx="1663.4" cy="1767.8" r="5.4"/><circle cx="1659.3" cy="1710" r="5.4"/><circle cx="1682.5" cy="1748.8" r="5.4"/><circle cx="1684.2" cy="1618.2" r="5.4"/><circle cx="1657.2" cy="1669.6" r="5.4"/><circle cx="1663.8" cy="1667.5" r="5.4"/><circle cx="1648.5" cy="1583.6" r="5.4"/><circle cx="1684.9" cy="1694.8" r="5.4"/><circle cx="1670.9" cy="1596.3" r="5.4"/><circle cx="1689.9" cy="1692.2" r="5.4"/><circle cx="1666.5" cy="1708.3" r="5.4"/><circle cx="1659.8" cy="1736.4" r="5.4"/><circle cx="1691.3" cy="1751.6" r="5.4"/><circle cx="1642.5" cy="1698.2" r="5.4"/><circle cx="1666" cy="1701.9" r="5.4"/><circle cx="1672.1" cy="1656.2" r="5.4"/><circle cx="1664.3" cy="1668.8" r="5.4"/><circle cx="1682.2" cy="1724.6" r="5.4"/><circle cx="1684.6" cy="1718.7" r="5.4"/><circle cx="1682.1" cy="1701.1" r="5.4"/><circle cx="1660.3" cy="1673.3" r="5.4"/><circle cx="1670.2" cy="1733.3" r="5.4"/><circle cx="1651.8" cy="1583.4" r="5.4"/><circle cx="1645.5" cy="1631.4" r="5.4"/><circle cx="1645" cy="1686.7" r="5.4"/><circle cx="1685" cy="1738.7" r="5.4"/><circle cx="1671.8" cy="1574.5" r="5.4"/><circle cx="1670.9" cy="1588.1" r="5.4"/><circle cx="1679.2" cy="1576.7" r="5.4"/><circle cx="1679.6" cy="1715.7" r="5.4"/><circle cx="1677.2" cy="1719.9" r="5.4"/><circle cx="1668.9" cy="1762.1" r="5.4"/><circle cx="1684.3" cy="1834.7" r="5.4"/><circle cx="1651" cy="1577.5" r="5.4"/><circle cx="1677.4" cy="1659.1" r="5.4"/><circle cx="1660.4" cy="1629.9" r="5.4"/><circle cx="1648.7" cy="1586.3" r="5.4"/><circle cx="1680" cy="1676.3" r="5.4"/><circle cx="1690.5" cy="1629.9" r="5.4"/><circle cx="1649.4" cy="1682.4" r="5.4"/><circle cx="1647.5" cy="1645.5" r="5.4"/><circle cx="1671.4" cy="1557.5" r="5.4"/><circle cx="1667.4" cy="1707.9" r="5.4"/><circle cx="1646.4" cy="1706.3" r="5.4"/><circle cx="1655.4" cy="1638.8" r="5.4"/><circle cx="1670.9" cy="1562.7" r="5.4"/><circle cx="1650.2" cy="1695.1" r="5.4"/><circle cx="1673.6" cy="1711.8" r="5.4"/><circle cx="1646.8" cy="1677.7" r="5.4"/><circle cx="1678.3" cy="1677.6" r="5.4"/><circle cx="1676.3" cy="1694.3" r="5.4"/><circle cx="1683.4" cy="1617.9" r="5.4"/><circle cx="1691.7" cy="1650.9" r="5.4"/><circle cx="1693.7" cy="1595.4" r="5.4"/><circle cx="1650" cy="1528" r="5.4"/><circle cx="1687" cy="1532" r="5.4"/><circle cx="1668" cy="1840" r="5.4"/><circle cx="1680" cy="1836" r="5.4"/></g>
<g fill="#4d8b8b" fill-opacity="0.204"><circle cx="1778.1" cy="1654.9" r="5.4"/><circle cx="1773.7" cy="1780.6" r="5.4"/><circle cx="1778.7" cy="1788.1" r="5.4"/><circle cx="1805.5" cy="1629.8" r="5.4"/><circle cx="1803.6" cy="1631.2" r="5.4"/><circle cx="1812.1" cy="1639.6" r="5.4"/><circle cx="1806.7" cy="1636.3" r="5.4"/><circle cx="1782.3" cy="1604.5" r="5.4"/><circle cx="1788" cy="1643.3" r="5.4"/><circle cx="1782.6" cy="1741" r="5.4"/><circle cx="1759.9" cy="1745.9" r="5.4"/><circle cx="1807.2" cy="1809.2" r="5.4"/><circle cx="1798.8" cy="1684.7" r="5.4"/><circle cx="1766.8" cy="1651.8" r="5.4"/><circle cx="1795.2" cy="1610.9" r="5.4"/><circle cx="1770.8" cy="1669" r="5.4"/><circle cx="1775.1" cy="1637.1" r="5.4"/><circle cx="1802.2" cy="1760" r="5.4"/><circle cx="1807.4" cy="1628.6" r="5.4"/><circle cx="1793.6" cy="1696.3" r="5.4"/><circle cx="1763" cy="1814.2" r="5.4"/><circle cx="1776.6" cy="1694.8" r="5.4"/><circle cx="1801.4" cy="1562.4" r="5.4"/><circle cx="1774.6" cy="1754.8" r="5.4"/><circle cx="1784.4" cy="1726.5" r="5.4"/><circle cx="1782.3" cy="1731.6" r="5.4"/><circle cx="1776.9" cy="1741" r="5.4"/><circle cx="1786.5" cy="1619.4" r="5.4"/><circle cx="1763.7" cy="1615.7" r="5.4"/><circle cx="1776.4" cy="1705.5" r="5.4"/><circle cx="1777.4" cy="1559.2" r="5.4"/><circle cx="1793.5" cy="1628.1" r="5.4"/><circle cx="1778.8" cy="1771.3" r="5.4"/><circle cx="1787.7" cy="1593.4" r="5.4"/><circle cx="1761.8" cy="1718.5" r="5.4"/><circle cx="1791.8" cy="1765.1" r="5.4"/><circle cx="1760.6" cy="1690.5" r="5.4"/><circle cx="1779.3" cy="1659.4" r="5.4"/><circle cx="1789.8" cy="1781.4" r="5.4"/><circle cx="1797.3" cy="1585.2" r="5.4"/><circle cx="1812.4" cy="1804.6" r="5.4"/><circle cx="1782" cy="1623.4" r="5.4"/><circle cx="1761.5" cy="1697.4" r="5.4"/><circle cx="1776.7" cy="1606.9" r="5.4"/><circle cx="1772.4" cy="1608.6" r="5.4"/><circle cx="1808.7" cy="1760.3" r="5.4"/><circle cx="1760.7" cy="1700.1" r="5.4"/><circle cx="1776.6" cy="1729.4" r="5.4"/><circle cx="1810" cy="1590.6" r="5.4"/><circle cx="1791.4" cy="1666.5" r="5.4"/><circle cx="1766.6" cy="1595.5" r="5.4"/><circle cx="1771.7" cy="1692.9" r="5.4"/><circle cx="1789.7" cy="1725.5" r="5.4"/><circle cx="1785.6" cy="1728.1" r="5.4"/><circle cx="1790.7" cy="1729.2" r="5.4"/><circle cx="1801.7" cy="1642.4" r="5.4"/><circle cx="1774.6" cy="1733" r="5.4"/><circle cx="1783.1" cy="1660" r="5.4"/><circle cx="1759.9" cy="1784.1" r="5.4"/><circle cx="1791.8" cy="1681.5" r="5.4"/><circle cx="1809.4" cy="1773.8" r="5.4"/><circle cx="1812.6" cy="1666.4" r="5.4"/><circle cx="1795.7" cy="1738.8" r="5.4"/><circle cx="1787.2" cy="1710.4" r="5.4"/><circle cx="1762.2" cy="1577.1" r="5.4"/><circle cx="1776.2" cy="1739.3" r="5.4"/><circle cx="1795" cy="1621.5" r="5.4"/><circle cx="1783.4" cy="1554.1" r="5.4"/><circle cx="1788.5" cy="1704.6" r="5.4"/><circle cx="1765.7" cy="1769.8" r="5.4"/><circle cx="1774.8" cy="1743.9" r="5.4"/><circle cx="1774" cy="1627.1" r="5.4"/><circle cx="1761.4" cy="1557.3" r="5.4"/><circle cx="1805.5" cy="1643.1" r="5.4"/><circle cx="1766.5" cy="1652.8" r="5.4"/><circle cx="1784.3" cy="1681.8" r="5.4"/><circle cx="1783.7" cy="1776.4" r="5.4"/><circle cx="1809.8" cy="1678.9" r="5.4"/><circle cx="1803" cy="1607.6" r="5.4"/><circle cx="1768.1" cy="1604.6" r="5.4"/><circle cx="1809.8" cy="1617.8" r="5.4"/><circle cx="1803.6" cy="1640.6" r="5.4"/><circle cx="1801.8" cy="1716.3" r="5.4"/><circle cx="1801.2" cy="1669.1" r="5.4"/><circle cx="1810.9" cy="1688.7" r="5.4"/><circle cx="1807.2" cy="1701.7" r="5.4"/><circle cx="1798.8" cy="1708.8" r="5.4"/><circle cx="1788.1" cy="1737.9" r="5.4"/><circle cx="1793.1" cy="1772.3" r="5.4"/><circle cx="1807.3" cy="1614.7" r="5.4"/><circle cx="1773.8" cy="1671.4" r="5.4"/><circle cx="1805.5" cy="1685.7" r="5.4"/><circle cx="1795.9" cy="1682.6" r="5.4"/><circle cx="1786.1" cy="1749.3" r="5.4"/><circle cx="1790.1" cy="1743.2" r="5.4"/><circle cx="1800.2" cy="1644.4" r="5.4"/><circle cx="1766.8" cy="1805.5" r="5.4"/><circle cx="1778.8" cy="1729.9" r="5.4"/><circle cx="1767.5" cy="1741.4" r="5.4"/><circle cx="1782.9" cy="1647.2" r="5.4"/><circle cx="1794.7" cy="1747.9" r="5.4"/><circle cx="1783.8" cy="1670" r="5.4"/><circle cx="1794.4" cy="1619.3" r="5.4"/><circle cx="1784.5" cy="1704" r="5.4"/><circle cx="1806.6" cy="1613.7" r="5.4"/><circle cx="1802.7" cy="1608.3" r="5.4"/><circle cx="1774.4" cy="1725.7" r="5.4"/><circle cx="1785.9" cy="1748.4" r="5.4"/><circle cx="1812.4" cy="1640.7" r="5.4"/><circle cx="1782.8" cy="1759.2" r="5.4"/><circle cx="1770.6" cy="1773.3" r="5.4"/><circle cx="1761.1" cy="1771.9" r="5.4"/><circle cx="1775.8" cy="1718.7" r="5.4"/><circle cx="1811.4" cy="1671.8" r="5.4"/><circle cx="1789.3" cy="1797.9" r="5.4"/><circle cx="1775.1" cy="1666" r="5.4"/><circle cx="1761" cy="1727.8" r="5.4"/><circle cx="1784.7" cy="1770.7" r="5.4"/><circle cx="1765.8" cy="1809.8" r="5.4"/><circle cx="1769.6" cy="1717.1" r="5.4"/><circle cx="1793.6" cy="1715.1" r="5.4"/><circle cx="1801.8" cy="1732.7" r="5.4"/><circle cx="1809.3" cy="1712.6" r="5.4"/><circle cx="1804.5" cy="1771.6" r="5.4"/><circle cx="1807.6" cy="1768.9" r="5.4"/><circle cx="1787.8" cy="1812.3" r="5.4"/><circle cx="1784" cy="1695.3" r="5.4"/><circle cx="1781.6" cy="1747.9" r="5.4"/><circle cx="1808.6" cy="1642.7" r="5.4"/><circle cx="1803.6" cy="1667.3" r="5.4"/><circle cx="1803.4" cy="1793.4" r="5.4"/><circle cx="1765.3" cy="1678.7" r="5.4"/><circle cx="1767.8" cy="1656.6" r="5.4"/><circle cx="1801.8" cy="1658" r="5.4"/><circle cx="1793.1" cy="1552.8" r="5.4"/><circle cx="1808.7" cy="1712.2" r="5.4"/><circle cx="1768.4" cy="1754.6" r="5.4"/><circle cx="1768.9" cy="1658.3" r="5.4"/><circle cx="1766.7" cy="1763.4" r="5.4"/><circle cx="1766.2" cy="1748.4" r="5.4"/><circle cx="1765.3" cy="1698.3" r="5.4"/><circle cx="1813.1" cy="1700.6" r="5.4"/><circle cx="1772.5" cy="1697.5" r="5.4"/><circle cx="1804.3" cy="1697.6" r="5.4"/><circle cx="1791.1" cy="1672.1" r="5.4"/><circle cx="1766.9" cy="1669.4" r="5.4"/><circle cx="1813.2" cy="1744.7" r="5.4"/><circle cx="1803.8" cy="1717.1" r="5.4"/><circle cx="1770.1" cy="1719" r="5.4"/><circle cx="1791.5" cy="1717.5" r="5.4"/><circle cx="1786.1" cy="1645.4" r="5.4"/><circle cx="1782.1" cy="1823.5" r="5.4"/><circle cx="1779.6" cy="1619.9" r="5.4"/><circle cx="1778.1" cy="1760.6" r="5.4"/><circle cx="1781.7" cy="1686.8" r="5.4"/><circle cx="1799.1" cy="1767.8" r="5.4"/><circle cx="1769.6" cy="1682.5" r="5.4"/><circle cx="1811.7" cy="1771.3" r="5.4"/><circle cx="1806.9" cy="1732.4" r="5.4"/><circle cx="1766.7" cy="1776.9" r="5.4"/><circle cx="1789.1" cy="1827.1" r="5.4"/><circle cx="1784" cy="1714.4" r="5.4"/><circle cx="1783.6" cy="1710.7" r="5.4"/><circle cx="1781.8" cy="1702" r="5.4"/><circle cx="1763.5" cy="1759.3" r="5.4"/><circle cx="1797.9" cy="1681.9" r="5.4"/><circle cx="1762.6" cy="1705" r="5.4"/><circle cx="1804.3" cy="1689.1" r="5.4"/><circle cx="1795.3" cy="1757.1" r="5.4"/><circle cx="1781.1" cy="1644.7" r="5.4"/><circle cx="1792.4" cy="1593.7" r="5.4"/><circle cx="1788.1" cy="1765" r="5.4"/><circle cx="1807" cy="1726.9" r="5.4"/><circle cx="1763.8" cy="1738" r="5.4"/><circle cx="1762.5" cy="1709.5" r="5.4"/><circle cx="1789.2" cy="1650" r="5.4"/><circle cx="1800.7" cy="1759.4" r="5.4"/><circle cx="1777.4" cy="1633.6" r="5.4"/><circle cx="1809.1" cy="1718" r="5.4"/><circle cx="1763.5" cy="1623.1" r="5.4"/><circle cx="1778.6" cy="1614.9" r="5.4"/><circle cx="1806.1" cy="1754.5" r="5.4"/><circle cx="1801.6" cy="1641" r="5.4"/><circle cx="1762.3" cy="1805.5" r="5.4"/><circle cx="1796.7" cy="1599.6" r="5.4"/><circle cx="1763.3" cy="1771.1" r="5.4"/><circle cx="1765.3" cy="1679.6" r="5.4"/><circle cx="1767.6" cy="1752.1" r="5.4"/><circle cx="1812.4" cy="1747.4" r="5.4"/><circle cx="1770.9" cy="1558.6" r="5.4"/><circle cx="1770.8" cy="1741.6" r="5.4"/><circle cx="1783.7" cy="1678.4" r="5.4"/><circle cx="1781.7" cy="1628.8" r="5.4"/><circle cx="1781.4" cy="1769.9" r="5.4"/><circle cx="1772" cy="1726" r="5.4"/><circle cx="1794.8" cy="1729" r="5.4"/><circle cx="1797.3" cy="1793.1" r="5.4"/><circle cx="1803.4" cy="1768" r="5.4"/><circle cx="1802.7" cy="1708.5" r="5.4"/><circle cx="1810.5" cy="1639.4" r="5.4"/><circle cx="1765.2" cy="1797.5" r="5.4"/><circle cx="1786.7" cy="1652.2" r="5.4"/><circle cx="1775.1" cy="1576.4" r="5.4"/><circle cx="1772.1" cy="1826.9" r="5.4"/><circle cx="1778.8" cy="1574.4" r="5.4"/><circle cx="1794.4" cy="1726.9" r="5.4"/><circle cx="1783.9" cy="1591.4" r="5.4"/><circle cx="1761.5" cy="1744" r="5.4"/><circle cx="1788.4" cy="1668.1" r="5.4"/><circle cx="1808.8" cy="1593.2" r="5.4"/><circle cx="1809.5" cy="1764.5" r="5.4"/><circle cx="1805.4" cy="1635" r="5.4"/><circle cx="1803.2" cy="1728.6" r="5.4"/><circle cx="1772.5" cy="1651" r="5.4"/><circle cx="1809.8" cy="1813.6" r="5.4"/><circle cx="1767.6" cy="1772.7" r="5.4"/><circle cx="1770.1" cy="1668.7" r="5.4"/><circle cx="1808.8" cy="1726.6" r="5.4"/><circle cx="1797.4" cy="1629.5" r="5.4"/><circle cx="1807.9" cy="1779.7" r="5.4"/><circle cx="1770" cy="1555" r="5.4"/><circle cx="1798" cy="1553" r="5.4"/><circle cx="1760" cy="1832" r="5.4"/></g>
<g fill="#4d8b8b" fill-opacity="0.204"><circle cx="1880.6" cy="1704.1" r="5.4"/><circle cx="1892.9" cy="1743.5" r="5.4"/><circle cx="1886" cy="1813.9" r="5.4"/><circle cx="1921.1" cy="1723.1" r="5.4"/><circle cx="1920.7" cy="1821.6" r="5.4"/><circle cx="1919.3" cy="1665.9" r="5.4"/><circle cx="1881.1" cy="1755.2" r="5.4"/><circle cx="1923.6" cy="1675" r="5.4"/><circle cx="1909.4" cy="1723" r="5.4"/><circle cx="1899.5" cy="1711.1" r="5.4"/><circle cx="1919.1" cy="1606.6" r="5.4"/><circle cx="1887" cy="1702.4" r="5.4"/><circle cx="1917" cy="1737.2" r="5.4"/><circle cx="1896.5" cy="1732" r="5.4"/><circle cx="1886.8" cy="1631.1" r="5.4"/><circle cx="1882" cy="1633.1" r="5.4"/><circle cx="1908" cy="1748.3" r="5.4"/><circle cx="1882.2" cy="1657.7" r="5.4"/><circle cx="1926.4" cy="1823" r="5.4"/><circle cx="1922.3" cy="1732.6" r="5.4"/><circle cx="1920" cy="1733.7" r="5.4"/><circle cx="1893" cy="1706.4" r="5.4"/><circle cx="1912.1" cy="1671.1" r="5.4"/><circle cx="1906.1" cy="1730.7" r="5.4"/><circle cx="1878.9" cy="1703.7" r="5.4"/><circle cx="1921.8" cy="1794.9" r="5.4"/><circle cx="1929.3" cy="1725" r="5.4"/><circle cx="1884.1" cy="1729.5" r="5.4"/><circle cx="1923.1" cy="1772.2" r="5.4"/><circle cx="1896.7" cy="1767.8" r="5.4"/><circle cx="1886.7" cy="1572.7" r="5.4"/><circle cx="1907.7" cy="1819.3" r="5.4"/><circle cx="1889.4" cy="1628.3" r="5.4"/><circle cx="1907.6" cy="1658" r="5.4"/><circle cx="1915" cy="1699.7" r="5.4"/><circle cx="1896.4" cy="1670.6" r="5.4"/><circle cx="1912.1" cy="1811.5" r="5.4"/><circle cx="1894.3" cy="1718.5" r="5.4"/><circle cx="1928" cy="1651.2" r="5.4"/><circle cx="1918.1" cy="1695" r="5.4"/><circle cx="1883.6" cy="1670.7" r="5.4"/><circle cx="1916.7" cy="1677.4" r="5.4"/><circle cx="1902.9" cy="1737.1" r="5.4"/><circle cx="1886.3" cy="1744.9" r="5.4"/><circle cx="1892.3" cy="1707.9" r="5.4"/><circle cx="1884.9" cy="1640.4" r="5.4"/><circle cx="1919.5" cy="1680.2" r="5.4"/><circle cx="1909.6" cy="1765" r="5.4"/><circle cx="1901.7" cy="1744.7" r="5.4"/><circle cx="1899.5" cy="1698.8" r="5.4"/><circle cx="1882" cy="1756.5" r="5.4"/><circle cx="1898.4" cy="1608.8" r="5.4"/><circle cx="1928.5" cy="1676.9" r="5.4"/><circle cx="1926.1" cy="1718.8" r="5.4"/><circle cx="1878.7" cy="1733" r="5.4"/><circle cx="1879" cy="1772" r="5.4"/><circle cx="1882.1" cy="1721.4" r="5.4"/><circle cx="1900.3" cy="1732.6" r="5.4"/><circle cx="1917.7" cy="1725.1" r="5.4"/><circle cx="1880.7" cy="1655.5" r="5.4"/><circle cx="1917.1" cy="1706.4" r="5.4"/><circle cx="1913.6" cy="1791.6" r="5.4"/><circle cx="1884.1" cy="1754.6" r="5.4"/><circle cx="1921.6" cy="1699.5" r="5.4"/><circle cx="1920" cy="1717.9" r="5.4"/><circle cx="1917.7" cy="1807.2" r="5.4"/><circle cx="1900.2" cy="1799.9" r="5.4"/><circle cx="1912.7" cy="1815.3" r="5.4"/><circle cx="1884.8" cy="1784.9" r="5.4"/><circle cx="1919" cy="1709.9" r="5.4"/><circle cx="1928.6" cy="1706.8" r="5.4"/><circle cx="1879.4" cy="1624.4" r="5.4"/><circle cx="1894.7" cy="1784.7" r="5.4"/><circle cx="1902.5" cy="1781.9" r="5.4"/><circle cx="1926.7" cy="1834.3" r="5.4"/><circle cx="1880.2" cy="1673.7" r="5.4"/><circle cx="1899.4" cy="1808.3" r="5.4"/><circle cx="1918.2" cy="1747.4" r="5.4"/><circle cx="1908.1" cy="1726" r="5.4"/><circle cx="1879.4" cy="1733" r="5.4"/><circle cx="1914.8" cy="1653.2" r="5.4"/><circle cx="1880.8" cy="1715.6" r="5.4"/><circle cx="1880.8" cy="1662.4" r="5.4"/><circle cx="1923.6" cy="1691.9" r="5.4"/><circle cx="1898.7" cy="1730.8" r="5.4"/><circle cx="1892.5" cy="1692.5" r="5.4"/><circle cx="1909.2" cy="1756.8" r="5.4"/><circle cx="1894.7" cy="1679.7" r="5.4"/><circle cx="1920.4" cy="1688.4" r="5.4"/><circle cx="1909.8" cy="1687.1" r="5.4"/><circle cx="1903.6" cy="1730.6" r="5.4"/><circle cx="1909.6" cy="1733.4" r="5.4"/><circle cx="1884.1" cy="1772.2" r="5.4"/><circle cx="1925.4" cy="1702.9" r="5.4"/><circle cx="1922.7" cy="1682.4" r="5.4"/><circle cx="1877.9" cy="1735.6" r="5.4"/><circle cx="1879.2" cy="1814.2" r="5.4"/><circle cx="1907.4" cy="1766.9" r="5.4"/><circle cx="1921.6" cy="1612.9" r="5.4"/><circle cx="1900.9" cy="1726.8" r="5.4"/><circle cx="1899" cy="1698.8" r="5.4"/><circle cx="1882.6" cy="1710.8" r="5.4"/><circle cx="1923.6" cy="1764.6" r="5.4"/><circle cx="1905.8" cy="1724.3" r="5.4"/><circle cx="1928.9" cy="1716.5" r="5.4"/><circle cx="1929.4" cy="1629.7" r="5.4"/><circle cx="1904" cy="1716" r="5.4"/><circle cx="1885.2" cy="1679.2" r="5.4"/><circle cx="1889.8" cy="1734.4" r="5.4"/><circle cx="1883.1" cy="1777.6" r="5.4"/><circle cx="1921.9" cy="1671.7" r="5.4"/><circle cx="1903.4" cy="1709.2" r="5.4"/><circle cx="1908.2" cy="1753.3" r="5.4"/><circle cx="1889.9" cy="1627.8" r="5.4"/><circle cx="1897.1" cy="1681.4" r="5.4"/><circle cx="1903.2" cy="1638.1" r="5.4"/><circle cx="1907.3" cy="1686.1" r="5.4"/><circle cx="1924.7" cy="1716" r="5.4"/><circle cx="1886.1" cy="1702" r="5.4"/><circle cx="1902.2" cy="1795.4" r="5.4"/><circle cx="1916.1" cy="1762.1" r="5.4"/><circle cx="1883" cy="1731" r="5.4"/><circle cx="1921.2" cy="1779.7" r="5.4"/><circle cx="1913.1" cy="1821" r="5.4"/><circle cx="1897.3" cy="1700.7" r="5.4"/><circle cx="1887.3" cy="1712.2" r="5.4"/><circle cx="1894" cy="1739.4" r="5.4"/><circle cx="1882.9" cy="1776.9" r="5.4"/><circle cx="1917.1" cy="1605.7" r="5.4"/><circle cx="1887" cy="1718.6" r="5.4"/><circle cx="1885.4" cy="1723.9" r="5.4"/><circle cx="1892.8" cy="1822.7" r="5.4"/><circle cx="1894.9" cy="1763.2" r="5.4"/><circle cx="1890.4" cy="1843.2" r="5.4"/><circle cx="1885" cy="1725.6" r="5.4"/><circle cx="1901.1" cy="1622.2" r="5.4"/><circle cx="1925" cy="1696.4" r="5.4"/><circle cx="1929.1" cy="1800.4" r="5.4"/><circle cx="1919.2" cy="1754.8" r="5.4"/><circle cx="1877.1" cy="1630" r="5.4"/><circle cx="1902" cy="1724" r="5.4"/><circle cx="1884.9" cy="1608.1" r="5.4"/><circle cx="1897.1" cy="1728.3" r="5.4"/><circle cx="1922.2" cy="1809" r="5.4"/><circle cx="1928.7" cy="1670.9" r="5.4"/><circle cx="1919.8" cy="1673.3" r="5.4"/><circle cx="1895.6" cy="1697.1" r="5.4"/><circle cx="1896.5" cy="1704.1" r="5.4"/><circle cx="1900.9" cy="1754.7" r="5.4"/><circle cx="1892.7" cy="1742.1" r="5.4"/><circle cx="1918" cy="1550" r="5.4"/><circle cx="1887" cy="1585" r="5.4"/><circle cx="1893" cy="1843" r="5.4"/></g>
<g stroke="#8b7c6c" fill="none">
<line x1="1669.5" y1="1528" x2="1669.5" y2="1618" stroke="#8b7c6c" stroke-width="2.4"/>
<line x1="1669.5" y1="1713.5" x2="1669.5" y2="1834.7" stroke="#8b7c6c" stroke-width="2.4"/>
<rect x="1625.5" y="1618" width="88" height="95.5" fill="none" stroke="#8b7c6c" stroke-width="2.4"/>
<line x1="1625.5" y1="1673.8" x2="1713.5" y2="1673.8" stroke="#8b7c6c" stroke-width="4.4"/>
</g>
<g stroke="#4d8b8b" fill="none">
<line x1="1786.7" y1="1554.1" x2="1786.7" y2="1638.6" stroke="#4d8b8b" stroke-width="2.4"/>
<line x1="1786.7" y1="1742.7" x2="1786.7" y2="1827.1" stroke="#4d8b8b" stroke-width="2.4"/>
<rect x="1742.7" y="1638.6" width="88" height="104.1" fill="none" stroke="#4d8b8b" stroke-width="2.4"/>
<line x1="1742.7" y1="1695.9" x2="1830.7" y2="1695.9" stroke="#4d8b8b" stroke-width="4.4"/>
</g>
<g stroke="#4d8b8b" fill="none">
<line x1="1903.3" y1="1572.7" x2="1903.3" y2="1675.8" stroke="#4d8b8b" stroke-width="2.4"/>
<line x1="1903.3" y1="1750.2" x2="1903.3" y2="1843.2" stroke="#4d8b8b" stroke-width="2.4"/>
<rect x="1859.3" y="1675.8" width="88" height="74.4" fill="none" stroke="#4d8b8b" stroke-width="2.4"/>
<line x1="1859.3" y1="1715" x2="1947.3" y2="1715" stroke="#4d8b8b" stroke-width="4.4"/>
</g>
<line x1="1599.6" y1="1366.4" x2="1599.6" y2="1880.7" stroke="#000" stroke-width="1.6"/>
<line x1="1598.8" y1="1879.9" x2="1973" y2="1879.9" stroke="#000" stroke-width="1.6"/>
<line x1="1594.1" y1="1796.7" x2="1599.6" y2="1796.7" stroke="#000" stroke-width="1.2"/>
<text x="1591.1" y="1805.9" font-size="25.5" text-anchor="end">−0.5</text>
<line x1="1594.1" y1="1695.4" x2="1599.6" y2="1695.4" stroke="#000" stroke-width="1.2"/>
<text x="1591.1" y="1704.6" font-size="25.5" text-anchor="end">0.0</text>
<line x1="1594.1" y1="1594.1" x2="1599.6" y2="1594.1" stroke="#000" stroke-width="1.2"/>
<text x="1591.1" y="1603.3" font-size="25.5" text-anchor="end">0.5</text>
<line x1="1594.1" y1="1492.8" x2="1599.6" y2="1492.8" stroke="#000" stroke-width="1.2"/>
<text x="1591.1" y="1502" font-size="25.5" text-anchor="end">1.0</text>
<line x1="1594.1" y1="1391.5" x2="1599.6" y2="1391.5" stroke="#000" stroke-width="1.2"/>
<text x="1591.1" y="1400.7" font-size="25.5" text-anchor="end">1.5</text>
<line x1="1669.5" y1="1879.9" x2="1669.5" y2="1885.4" stroke="#000" stroke-width="1.2"/>
<line x1="1786.7" y1="1879.9" x2="1786.7" y2="1885.4" stroke="#000" stroke-width="1.2"/>
<text x="1791.7" y="1912" font-size="26" text-anchor="middle">0-30</text>
<line x1="1903.3" y1="1879.9" x2="1903.3" y2="1885.4" stroke="#000" stroke-width="1.2"/>
<text x="1904.8" y="1912" font-size="26" text-anchor="middle">30-80</text>
<text x="1663.2" y="1951.3" font-size="27.2" text-anchor="middle">Control</text>
<line x1="1725.3" y1="1921.6" x2="1973" y2="1921.6" stroke="#000" stroke-width="1.6"/>
<text x="1837" y="1948.8" font-size="27.2" text-anchor="middle">PD</text>
<text x="1835.7" y="1980.5" font-size="27.2" text-anchor="middle">MDS-UPDRSIII</text>
<text x="1599.6" y="1361.6" font-size="27.2">Blood</text>
<polyline points="1786.7,1455 1786.7,1446 1899.8,1446 1899.8,1455" fill="none" stroke="#000" stroke-width="1.3"/>
<text x="1843.3" y="1442" font-size="22" text-anchor="middle">0.0046</text>
<polyline points="1669.5,1492.8 1669.5,1482.7 1903.8,1482.7 1903.8,1492.8" fill="none" stroke="#000" stroke-width="1.3"/>
<text x="1759" y="1479.7" font-size="22">3.9*10<tspan dy="-8.1" font-size="13.6">-8</tspan></text>
<polyline points="1669.5,1521.4 1669.5,1511.4 1786.7,1511.4 1786.7,1521.4" fill="none" stroke="#000" stroke-width="1.3"/>
<text x="1727.3" y="1508.9" font-size="22" text-anchor="middle">0.003</text>
</g>
</svg></body></html>
